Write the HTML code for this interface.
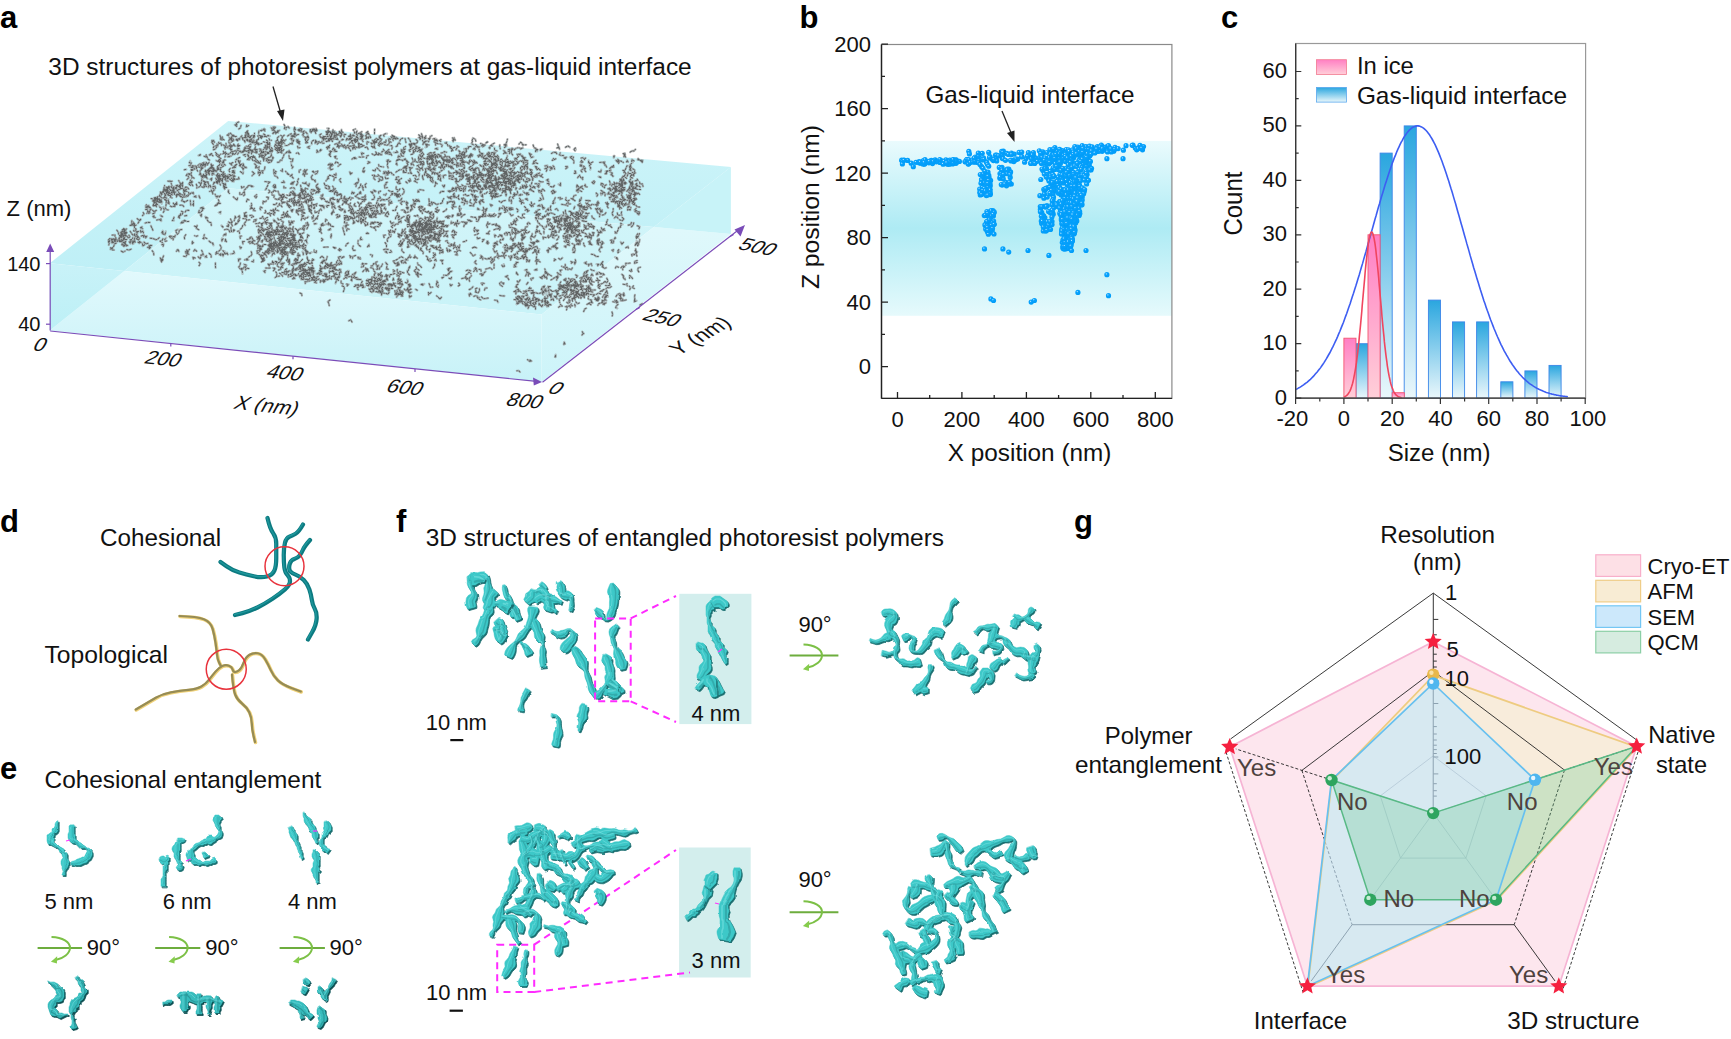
<!DOCTYPE html>
<html><head><meta charset="utf-8"><title>Figure</title>
<style>html,body{margin:0;padding:0;background:#fff;overflow:hidden}svg{display:block}</style></head>
<body><svg width="1731" height="1039" viewBox="0 0 1731 1039" font-family="Liberation Sans, Arial, sans-serif">
<rect width="1731" height="1039" fill="#fff"/>
<text x="0" y="28" font-size="31" font-weight="bold" fill="#000">a</text>
<text x="799.5" y="28" font-size="31" font-weight="bold" fill="#000">b</text>
<text x="1221" y="28" font-size="31" font-weight="bold" fill="#000">c</text>
<text x="0" y="532" font-size="31" font-weight="bold" fill="#000">d</text>
<text x="0" y="779" font-size="31" font-weight="bold" fill="#000">e</text>
<text x="396" y="531.5" font-size="31" font-weight="bold" fill="#000">f</text>
<text x="1074" y="531.5" font-size="31" font-weight="bold" fill="#000">g</text>
<defs>
<linearGradient id="topg" x1="0" y1="0" x2="0" y2="1"><stop offset="0" stop-color="#d9f6fa"/><stop offset="0.55" stop-color="#c8f2f7"/><stop offset="1" stop-color="#bdeff5"/></linearGradient>
<linearGradient id="frontg" x1="0" y1="0" x2="0" y2="1"><stop offset="0" stop-color="#dcf7fa"/><stop offset="1" stop-color="#cdf3f8"/></linearGradient>
<linearGradient id="bandg" x1="0" y1="0" x2="0" y2="1"><stop offset="0" stop-color="#eafbfd"/><stop offset="0.5" stop-color="#aeebf4"/><stop offset="1" stop-color="#e6fafc"/></linearGradient>
<linearGradient id="blueb" x1="0" y1="0" x2="0" y2="1"><stop offset="0" stop-color="#2aa6df"/><stop offset="1" stop-color="#eaf7fb"/></linearGradient>
<linearGradient id="pinkb" x1="0" y1="0" x2="0" y2="1"><stop offset="0" stop-color="#ff7fc4"/><stop offset="1" stop-color="#ffcfd8"/></linearGradient>
<radialGradient id="dotg" cx="0.38" cy="0.35" r="0.65"><stop offset="0" stop-color="#bfe8ff"/><stop offset="0.3" stop-color="#08a2fd"/><stop offset="1" stop-color="#009cf8"/></radialGradient>
</defs>
<linearGradient id="satg" gradientUnits="userSpaceOnUse" x1="0" y1="290" x2="0" y2="121"><stop offset="0" stop-color="#bdeff6"/><stop offset="1" stop-color="#cdf4f9"/></linearGradient>
<linearGradient id="tbg" gradientUnits="userSpaceOnUse" x1="0" y1="310" x2="0" y2="190"><stop offset="0" stop-color="#c9f3f8"/><stop offset="1" stop-color="#d3f5f9"/></linearGradient>
<linearGradient id="fbg" gradientUnits="userSpaceOnUse" x1="0" y1="270" x2="0" y2="380"><stop offset="0" stop-color="#e2f9fc"/><stop offset="1" stop-color="#c8f2f8"/></linearGradient>
<linearGradient id="flg" gradientUnits="userSpaceOnUse" x1="0" y1="263" x2="0" y2="331"><stop offset="0" stop-color="#c9f2f8"/><stop offset="1" stop-color="#bcf0f6"/></linearGradient>
<linearGradient id="rbg" gradientUnits="userSpaceOnUse" x1="0" y1="230" x2="0" y2="380"><stop offset="0" stop-color="#dff8fb"/><stop offset="1" stop-color="#cdf4f9"/></linearGradient>
<polygon points="49.8,263.3 228.2,121.0 730.9,167.1 653.9,227.1 228.2,188.2 124.3,271.0" fill="url(#satg)"/>
<polygon points="124.3,271.0 228.2,188.2 653.9,227.1 541.6,314.5" fill="url(#tbg)"/>
<polygon points="124.3,271.0 541.6,314.5 541.6,381.9 49.8,330.5" fill="url(#fbg)"/>
<polygon points="49.8,263.3 124.3,271.0 49.8,330.5" fill="url(#flg)"/>
<polygon points="653.9,227.1 730.9,234.1 541.6,381.9 541.6,314.5" fill="url(#rbg)"/>
<polygon points="653.9,227.1 730.9,167.1 730.9,234.1" fill="#c8f3f8"/>
<defs><path id="pp" d="M488.2 183.7l-2.6 0.6l0.9 -2.6M488.9 171.3l-2.2 -1.1l-1.0 -1.8l-2.2 0.0M473.1 172.8l2.1 -0.6l1.1 1.7M519.0 182.4l-0.8 -2.0l-2.2 -1.1l2.1 0.1M517.3 179.7l0.6 2.1l1.7 0.9l0.7 -1.5M502.9 178.8l1.3 -1.4l1.9 -0.9l-2.6 0.8M456.5 188.8l-0.7 -1.6l1.9 0.1l2.0 1.6M505.4 183.5l-2.2 -0.9l0.6 -2.4M455.9 149.8l1.4 -2.3l-0.2 -1.6l1.6 1.0M474.0 169.0l0.4 2.6l0.7 -2.0l0.8 1.5M500.9 175.3l2.0 1.1l1.8 1.6l-0.3 2.5M505.7 166.4l-0.0 -2.6l-0.9 2.1l2.3 -0.1M500.9 181.9l-2.3 -0.2l-0.7 2.7l-1.4 -2.2M479.1 201.8l1.2 2.5l-0.4 -2.2M506.5 194.0l-0.5 2.0l-0.3 -2.0M480.0 164.9l2.1 1.6l-2.5 -1.2M486.3 174.4l-2.2 0.6l-2.3 -1.4l-0.4 1.9M508.2 179.7l-1.5 -1.7l1.9 0.3M483.9 161.6l2.6 0.3l-1.9 -0.4l-0.5 2.1M482.3 194.3l0.6 2.7l-2.1 -1.5M475.8 179.7l1.0 -2.0l1.6 -0.8M503.6 153.7l1.8 -1.9l-1.9 -1.3M495.1 195.6l1.3 -2.0l-0.8 2.5l1.4 0.8M448.7 171.2l0.5 2.7l0.0 -1.7l2.0 1.3M491.6 163.7l0.0 -2.0l-2.1 0.2M505.2 175.1l-2.1 1.8l-1.5 -2.1M461.0 188.4l2.5 1.0l0.4 -2.2M509.1 190.2l-0.1 -2.3l-0.2 1.9l0.7 -2.0M526.4 181.4l-2.6 -0.3l-0.4 -1.8l-2.3 -0.1M496.7 156.5l-2.1 0.5l-1.0 -2.5M507.8 166.8l0.5 -2.4l1.4 1.3M483.8 157.0l-0.4 1.8l2.1 -0.5l0.1 2.0M472.2 168.0l1.3 2.0l2.0 -0.5l1.8 -1.8M523.0 145.5l-0.7 -2.0l-1.7 -1.3l-1.6 1.9M461.2 179.6l2.1 -1.7l0.2 -1.8l-1.1 1.2M526.5 184.7l-1.1 2.5l-1.1 -1.9M502.0 165.0l0.3 2.0l1.9 0.1l0.9 -1.6M468.8 190.7l1.5 -1.1l-1.3 0.9l1.2 -1.1M518.8 178.4l1.8 0.6l-2.5 1.3M499.5 182.5l-1.7 -1.6l0.2 -1.9M529.9 185.3l0.8 1.7l2.2 0.6M505.7 184.2l0.6 2.5l2.7 0.7M458.7 195.2l-0.6 2.7l1.0 1.5M515.5 183.9l-1.4 -1.4l0.9 -1.3l-0.6 2.6M449.6 166.5l2.2 0.5l1.7 1.8M513.0 148.8l-1.7 1.7l0.8 -2.3M489.9 191.3l1.4 2.0l2.1 0.5M464.5 200.2l1.2 1.9l1.5 -0.7l-0.1 2.2M506.4 173.7l-0.5 -1.5l1.4 -2.3l-1.4 1.7M501.3 185.7l2.1 -1.1l-2.5 -0.2l-1.6 0.1M496.7 193.2l-1.7 1.0l-1.5 1.2l-0.9 2.3M479.1 169.8l0.4 2.2l1.6 1.0l2.2 1.6M517.4 176.4l1.4 2.4l-1.8 -1.5l-1.0 1.4M474.2 190.2l-2.2 1.5l-1.3 -2.1M527.0 169.3l0.7 -1.6l-1.6 -0.8M463.0 174.0l-0.2 2.5l0.3 -2.3M490.6 171.5l2.0 -0.0l-2.2 1.6l-0.5 1.6M525.6 160.6l-1.7 -0.4l-2.1 1.2l1.1 -1.3M522.4 157.0l-1.6 -1.9l-2.1 -0.6M476.3 185.5l1.2 2.4l1.3 1.6M519.4 188.9l2.0 -0.6l-0.9 -1.3M501.8 178.1l1.6 0.6l1.7 -0.7l2.3 -0.1M497.4 184.6l-1.6 -0.3l1.9 1.5l-1.4 1.0M490.0 180.2l-0.6 -2.5l0.6 -2.2l2.0 1.1M506.9 176.0l0.3 -1.7l-2.0 -0.5M511.2 184.5l-0.6 -2.2l-0.1 2.1l-2.0 -0.3M539.2 180.9l1.8 1.1l2.1 -0.2l-2.5 -0.1M484.4 170.4l-0.2 -2.0l-0.4 -1.8l-1.2 -1.1M493.7 189.9l1.9 -0.5l1.6 -0.8M486.4 181.8l1.6 1.2l2.6 -0.8M468.7 179.7l2.0 -0.8l1.0 -1.3M503.0 179.6l0.3 -1.8l1.9 1.1l-1.9 -1.5M484.3 185.8l2.0 -0.2l0.4 1.8M500.3 168.2l2.3 -0.6l-2.0 0.8l-1.7 0.4M548.7 181.3l-2.3 -1.1l1.9 -1.0M481.5 174.5l-2.5 -1.0l2.0 -1.5l-1.8 0.6M488.9 175.1l0.7 2.5l-2.2 1.6l-0.2 2.5M432.6 168.7l2.8 -0.3l-1.7 2.1M516.7 158.5l-2.2 -0.4l0.8 2.4M492.5 190.3l-1.3 2.2l-1.7 1.0l1.8 0.4M513.3 198.4l-0.9 -1.5l2.4 -1.2l-0.6 -2.6M455.7 170.7l2.2 0.9l0.3 1.8l-1.8 -2.1M486.3 185.3l-2.5 -0.7l2.0 1.5M518.5 154.3l2.0 0.1l-2.0 -0.3l2.0 -0.1M509.4 153.6l0.9 -2.4l-2.2 0.1M498.0 193.9l-2.3 1.3l-0.7 -1.6M490.6 178.9l-1.6 -0.6l-0.7 -1.9l-1.8 -1.5M511.9 178.1l-1.8 0.8l-1.2 1.3M492.0 199.0l0.4 -1.9l-1.6 -1.2l1.7 -0.2M517.6 171.6l1.9 1.4l2.1 -1.8l0.6 -1.6M555.8 158.8l-1.6 0.9l-2.0 0.7l1.3 -1.9M514.6 172.0l-0.4 1.6l2.2 -1.1M497.0 186.6l1.8 0.3l-2.3 0.8l1.9 -0.3M499.0 185.6l-1.8 -1.2l0.3 -2.2l-0.9 2.2M459.6 153.4l2.1 0.7l1.6 1.9M507.8 161.6l1.7 0.3l-0.0 1.8l2.0 -0.9M470.9 153.9l-1.1 1.6l-1.2 1.9l-0.4 -1.6M522.5 187.2l-0.1 -2.3l0.3 1.7M527.1 161.9l-1.7 0.5l-1.8 -0.7l-0.2 2.6M494.0 158.9l-0.1 2.5l0.3 2.0l1.9 0.8M511.2 199.8l0.5 1.7l-0.3 1.8M474.0 199.4l2.5 -0.1l-1.1 2.3l1.0 -1.5M516.2 173.3l-1.8 0.8l-1.6 1.6M449.6 197.1l2.0 1.5l-2.5 -1.0l2.2 1.5M491.8 167.0l1.7 0.2l2.3 0.3l-1.9 -0.3M503.0 182.1l1.6 0.0l2.6 -0.6l2.2 1.0M527.7 160.7l-2.5 -0.6l-1.7 -2.1l-1.1 -2.5M519.6 198.3l1.0 1.4l-0.2 2.1M526.7 173.3l1.8 0.6l-1.3 -1.5l-0.2 -1.6M477.3 191.3l-2.2 -1.1l-0.8 1.8l-0.6 -1.5M496.6 177.9l-2.2 -0.4l1.0 -1.6M526.0 172.0l-1.8 1.4l-2.0 0.4l0.2 1.7M442.3 170.2l-1.4 0.9l-1.7 1.5M452.3 188.3l-0.5 1.8l1.4 -1.4M501.1 166.8l0.0 2.0l-1.1 -1.5M493.8 188.5l1.8 2.0l-0.9 1.8l1.2 1.5M495.8 195.9l-2.1 1.2l-1.9 -0.5M492.6 191.6l-1.6 2.1l0.3 2.4l2.6 0.1M527.6 200.1l-2.1 -1.3l1.7 -0.1l-1.8 0.4M478.9 189.2l1.8 0.6l1.8 -0.8l-0.6 2.2M451.8 159.7l-1.5 -1.0l-1.6 1.2l-1.6 1.5M449.8 192.0l-1.9 -1.1l2.4 -0.1l2.1 0.3M466.3 175.8l1.4 1.6l-1.6 1.9l2.7 -0.6M489.7 175.6l-0.9 -2.6l-1.8 0.3l1.9 0.3M480.7 179.5l1.6 2.3l2.5 0.7M534.3 176.7l2.5 0.4l0.5 -1.9l2.5 0.0M505.9 191.0l-1.3 1.5l1.0 -2.6l-1.2 1.4M489.5 157.1l-1.8 -1.2l0.6 -1.7l1.0 -1.6M481.5 192.1l-1.7 1.2l0.9 -2.6M457.0 167.0l-0.7 -2.5l2.4 -1.3l-2.0 -0.4M516.7 187.9l-1.1 1.6l0.3 -1.8M494.2 188.1l-1.0 2.5l2.0 0.2M497.7 158.3l-1.1 -2.1l-1.7 0.1M458.8 166.4l0.1 -1.8l-1.8 0.9l-2.2 -1.0M514.8 167.5l-1.3 2.2l-1.7 1.7l-1.9 1.9M473.7 164.4l-1.5 1.4l-2.1 0.9M459.5 174.2l0.1 -1.9l-2.7 -0.3M467.5 181.5l2.5 -0.0l-0.5 -2.5M440.9 180.9l-1.3 -1.2l-1.7 -0.5l1.5 -1.7M479.6 146.9l-2.0 -0.2l-2.1 0.1l2.3 -0.3M510.3 171.9l0.1 1.6l-1.9 -1.7M443.8 162.9l-0.8 2.3l-1.7 1.9l-2.4 0.1M500.5 169.1l-0.3 1.6l1.8 -1.4M511.5 187.2l1.3 -2.3l-2.1 1.8M509.0 180.9l-2.6 0.9l0.1 2.6l-0.7 2.6M524.0 185.9l-2.2 1.4l2.6 1.0M504.2 144.7l1.6 -0.6l1.0 -2.5l0.6 -2.4M514.2 195.6l1.4 -1.9l-2.2 0.8M487.3 169.0l2.5 -0.3l-0.6 -1.9M537.7 149.6l-1.9 -0.5l-0.2 2.5M504.5 212.4l1.7 -0.6l-1.1 -1.4l-1.5 -0.9M473.1 186.3l-0.9 -2.1l1.3 -0.9l2.3 -0.5M536.4 174.2l-1.1 1.5l-1.5 1.0l0.8 -1.6M506.6 189.5l-1.8 0.2l0.6 1.6M473.6 174.7l-0.6 1.9l1.6 -1.8M500.6 188.4l-0.5 2.0l-1.3 -1.6l-0.9 -1.6M493.2 173.1l-2.0 1.0l2.1 1.6M471.1 170.6l-0.8 -1.5l2.2 -1.1l1.1 1.8M514.1 177.5l2.4 -1.1l1.2 -1.1M474.8 163.4l-1.9 -1.1l-1.2 -1.8l-2.1 1.6M554.0 193.1l1.8 -1.4l-2.0 -0.4l-1.4 2.3M508.0 183.2l2.3 1.3l-0.4 -2.4M531.9 182.4l-0.5 2.2l0.3 -1.7M492.5 183.8l-1.2 -1.5l-1.7 -1.9l-2.3 0.2M450.3 191.5l2.5 -0.7l1.8 -0.7l2.2 -1.0M501.3 165.5l-1.5 -1.5l0.4 -2.2l0.2 -2.4M523.8 203.1l-1.6 -0.9l-1.4 -1.6l2.2 -0.3M462.4 166.0l-1.9 0.0l-0.2 -2.8l1.8 -0.6M500.6 178.8l2.4 -1.4l1.2 -1.2l-2.3 -1.6M485.0 161.4l0.0 -2.1l1.7 -0.2l-1.4 -1.2M541.7 191.6l-2.5 0.8l-0.7 -2.5M467.1 155.8l-1.6 0.5l-1.3 -2.3l0.2 1.8M532.3 190.8l1.5 0.9l-1.4 -1.0M535.0 188.2l-1.9 -1.9l1.9 0.7M474.4 179.9l-0.8 -1.9l0.1 -1.7M445.4 164.8l2.0 -0.3l-1.2 1.9M492.7 183.8l-1.7 1.9l2.6 0.1l2.7 -0.8M477.6 174.1l1.7 1.5l2.3 -0.1M504.3 181.7l1.7 2.0l-1.2 -2.5M508.4 179.1l-1.8 -1.3l1.5 1.3M486.7 187.8l2.1 0.5l1.1 1.2l1.5 1.1M495.1 163.6l1.7 -0.7l0.6 2.3M479.9 176.0l-0.8 -2.0l1.6 1.3M491.5 178.4l0.1 -1.8l1.9 -1.0l-1.9 -1.3M494.0 178.6l2.3 1.2l-1.6 -1.1l1.1 -1.8M491.0 157.1l-2.6 -1.0l1.9 -0.9l-0.9 -2.3M503.5 191.8l1.2 -1.7l1.2 2.3M503.8 173.2l2.1 0.9l2.1 1.6l-2.4 1.4M504.0 161.5l2.7 0.4l2.0 -1.0l-1.3 1.9M451.3 176.9l2.4 0.4l-0.9 -2.2M473.1 187.1l-1.8 -1.8l1.9 1.9M470.6 199.7l-1.0 2.4l2.3 1.5M485.4 155.5l-1.9 1.3l-1.6 0.5l0.8 -2.5M476.8 183.8l-2.5 -1.2l1.9 -1.7l-1.6 -0.5M505.2 178.7l2.1 0.4l1.6 2.2M527.4 186.6l-2.0 1.7l1.3 -2.1M493.5 185.0l-1.7 -0.1l-1.1 -2.5l1.7 -1.5M531.2 190.6l-0.2 -2.4l-1.6 1.9M517.0 159.8l-0.7 -1.7l2.3 -1.5l-1.5 -2.3M490.7 186.9l-2.6 0.4l2.3 -0.9l1.8 1.0M487.3 192.0l-1.2 1.3l-1.7 0.5M507.4 189.6l-1.9 -0.5l2.1 0.5l-0.2 -1.8M489.2 214.2l0.7 2.2l-2.2 -0.7M521.9 172.8l-1.5 -1.4l1.6 -1.8M496.0 214.9l-2.0 1.7l-1.9 -1.2l2.3 -1.6M486.3 189.1l-1.9 -1.7l-0.5 -2.0M516.1 176.1l1.6 0.5l1.2 -2.2l0.6 1.9M467.7 178.8l-0.1 2.0l2.2 -0.0M502.1 192.9l1.6 -2.3l-1.5 -0.7M511.6 176.4l-0.7 -2.1l-1.9 1.6M513.2 184.1l0.1 -1.9l0.8 2.0M498.6 176.8l1.5 1.4l-1.7 1.8l0.5 -2.4M488.5 186.3l2.2 -1.2l-0.1 1.8M470.3 166.6l-1.6 1.7l2.0 1.9M494.1 154.0l1.5 -1.5l-2.0 1.1M484.2 145.9l-1.5 0.9l0.2 -2.4l-2.3 -1.0M478.6 184.5l0.1 2.4l0.7 -1.8M506.7 175.2l-1.2 -2.3l2.1 1.3l-1.5 -1.9M488.8 154.7l-2.2 0.6l0.7 -2.0l1.5 -1.1M535.1 183.7l1.8 -0.0l2.6 0.2M518.6 162.8l-2.0 1.6l-2.3 -0.7l1.7 1.0M489.8 148.7l0.3 -2.2l-1.1 1.3M511.6 190.0l-1.7 1.7l1.8 -1.9M451.3 175.2l-2.2 1.7l0.2 -1.9M508.2 149.6l2.2 -0.5l-0.7 1.8l-1.4 -1.0M452.9 160.0l-1.7 1.1l-2.0 1.4M479.8 155.0l2.1 1.5l-2.4 -1.3l-1.0 1.7M494.7 179.7l0.8 -1.9l0.3 1.6M508.3 186.5l0.6 2.7l1.3 1.9l0.6 2.6M527.8 193.5l-1.8 0.4l-1.5 -1.0l-1.3 -1.7M464.5 168.4l0.1 -1.9l-0.5 -1.8M470.1 159.9l-1.3 1.9l0.2 2.1M492.2 176.1l-1.2 1.4l1.2 -1.2M505.0 152.2l1.9 1.3l-2.0 -0.6M466.2 175.7l1.5 -1.3l1.7 0.7M489.5 171.3l-1.5 1.3l-0.8 -2.1l1.5 -0.9M492.6 164.6l-1.2 -2.2l-1.2 -1.8l-2.5 0.7M509.8 181.3l-1.7 0.3l-2.1 0.1l-2.1 -0.3M492.0 165.9l1.8 -1.1l2.4 1.0l-0.1 2.5M471.9 176.6l-2.5 0.9l1.5 -0.6l-1.6 1.1M460.2 179.0l-0.8 2.1l-1.5 0.6M497.3 155.3l1.4 1.9l-0.3 2.0M488.4 171.3l1.2 -1.7l-2.4 0.9l0.1 -1.6M504.3 185.2l1.5 1.2l-0.4 2.0l-2.7 0.2M493.2 163.2l1.4 1.0l0.9 -2.1M490.8 175.0l-2.5 0.9l0.4 -2.1M510.5 180.4l0.5 1.8l-0.5 2.5M477.7 155.7l2.3 0.6l-0.7 -1.6M485.6 164.9l-1.0 -1.7l1.9 0.5l-0.9 -1.9M469.0 174.3l-1.5 2.2l-1.0 -2.6l-1.1 1.9M483.0 177.6l-2.5 -0.4l-1.1 -2.1l-1.9 0.9M505.8 169.8l-1.8 -0.1l-1.3 1.3l2.2 1.4M546.3 171.2l1.0 -2.0l-1.3 -1.2M518.8 177.8l-0.8 2.4l-2.0 -0.3M477.1 179.7l1.3 -2.1l-2.1 1.8M507.6 211.0l-1.0 -1.9l-1.7 -0.0l2.0 -1.7M501.3 195.2l-1.6 0.8l-2.7 0.5l-2.1 1.0M511.2 190.2l-2.1 -1.7l-1.5 0.9l2.6 0.2M505.5 173.7l-1.3 -1.4l2.2 -1.1l-2.5 0.3M505.5 159.8l-0.9 2.0l-1.7 -0.8l-1.4 -1.9M520.6 160.7l1.6 1.1l1.6 1.2l0.4 1.6M499.6 207.8l-0.4 2.5l1.0 -2.4l2.3 0.4M489.0 176.3l-1.6 -1.7l-2.3 1.2l-2.0 -0.4M520.2 176.4l0.3 -2.3l1.4 -1.0l-1.6 0.3M475.8 179.9l-2.1 1.4l1.5 1.6M507.1 186.7l-0.8 1.4l-0.5 -1.7l-1.8 -1.3M476.6 202.3l-1.6 -0.0l-1.4 2.4M531.5 176.3l0.9 1.5l0.3 2.6l0.5 -1.7M500.0 169.6l-0.4 -1.7l1.6 -1.2M525.8 165.4l1.1 1.4l-1.6 -1.0M509.2 168.8l1.9 1.6l-0.9 -2.4l1.7 0.8M478.4 186.8l-1.5 -0.8l-0.5 -2.2M524.0 175.8l1.0 -2.2l1.0 -2.0M478.8 188.2l-2.0 -0.9l0.1 -2.5l-0.7 -1.6M492.9 180.7l1.8 -1.0l1.7 2.1l0.2 -2.7M528.3 193.0l-2.4 -0.2l1.2 2.3l1.8 -0.7M482.3 210.3l1.8 -0.3l-0.5 2.5l0.2 2.5M494.1 187.8l-2.0 -0.1l2.0 -0.4l-0.8 -1.9M479.4 175.3l0.9 1.4l-2.3 0.9l-2.6 -0.8M454.6 202.8l-0.8 -1.7l-1.4 1.0M524.7 157.8l-1.7 1.1l2.5 -1.3l-2.7 0.5M460.1 151.7l-1.5 -1.2l1.2 1.8M520.5 169.1l0.1 -1.8l2.7 -0.6l1.7 1.4M492.6 171.3l-1.2 -1.6l-1.5 -1.5M491.3 159.7l-0.3 -2.3l-0.7 -2.0l1.2 1.6M494.5 154.4l-0.6 -2.1l-2.7 0.6l0.5 1.5M492.4 180.6l-2.0 -0.9l-0.2 -2.1M504.5 172.5l2.6 -0.5l-1.7 1.1l-2.3 1.0M473.7 178.4l-1.5 -1.6l2.0 0.3l-1.4 1.8M483.1 199.5l-2.4 1.3l2.3 -0.2M511.3 174.3l-0.4 -2.4l1.9 -1.7M483.4 165.5l-0.1 2.5l-0.5 2.3M472.9 170.7l1.9 0.3l-1.6 -1.2M500.6 183.7l-0.1 -1.8l1.7 0.8M506.8 207.5l-2.1 1.4l-0.3 -2.0l-1.5 -0.9M478.1 176.2l-1.1 -1.5l-0.9 -1.5M556.9 148.0l2.1 -1.1l0.5 2.4M482.3 178.5l2.1 1.6l-2.2 -0.8l-0.6 -2.5M497.5 182.1l-2.5 1.1l2.0 -0.1l0.7 1.8M488.6 181.5l-1.8 0.7l2.4 0.4l-1.7 0.8M495.2 187.6l-0.1 2.2l0.4 1.6l1.3 -1.5M451.4 162.7l2.1 -0.5l-1.5 1.1l2.3 1.1M494.0 160.5l1.1 -2.5l0.2 1.7l1.6 1.7M470.5 185.4l0.2 1.6l-2.1 -0.5l2.2 0.8M479.4 185.5l1.0 2.3l0.1 -2.1M510.8 180.6l2.2 0.8l-0.9 1.9l1.6 0.3M505.4 174.4l-1.5 0.9l-2.1 1.2l2.6 0.5M462.3 175.5l0.2 1.8l-2.4 -0.9l2.7 0.5M504.2 168.1l-1.9 1.0l1.6 1.1l1.3 -1.4M491.8 187.2l1.4 -2.3l1.3 1.6M474.2 185.6l-0.2 2.2l-2.5 -0.2l1.7 1.3M535.9 167.7l1.2 2.2l1.5 -1.5l1.6 1.7M497.3 173.7l-0.6 -1.6l-1.0 -1.8l-2.3 0.6M528.7 180.7l1.8 -1.0l-1.6 -1.0l-2.2 0.5M514.2 165.6l-0.7 -1.6l-0.6 -2.7l-1.9 1.8M493.6 175.9l-2.0 -1.3l1.8 -1.5l0.2 -1.7M454.0 197.6l1.1 -2.0l-1.6 0.7l-2.4 0.3M514.2 149.8l1.7 -1.4l1.9 -0.7l2.1 0.2M510.7 174.0l0.3 -1.9l2.4 0.4l0.9 2.4M504.1 181.5l1.5 1.7l0.3 -1.9l1.6 -0.5M460.3 172.8l0.1 2.5l-1.3 1.2M527.6 167.4l-0.4 -2.0l0.5 -2.3M471.0 155.6l1.9 -0.7l-2.0 -1.1l-1.7 2.1M406.5 234.8l-0.1 2.0l0.9 2.3l-0.7 -1.9M445.8 235.8l1.9 1.2l-0.2 -1.7M426.3 256.1l1.5 1.3l-0.4 2.2M416.0 223.4l-1.4 -1.6l2.4 1.1M430.1 237.2l2.3 1.5l2.2 0.8l2.4 -0.4M409.3 217.8l-1.6 2.2l1.6 -1.1l0.4 -2.7M426.9 233.8l2.1 -0.1l0.5 -1.9M405.4 228.7l-1.0 1.6l-1.6 1.7l-0.3 1.8M415.7 236.2l-1.8 -0.8l1.7 0.0M421.4 230.0l2.7 -0.7l-0.5 2.7l-1.9 0.7M418.2 242.9l1.0 -2.2l-0.4 1.7l0.8 1.7M441.8 226.9l2.0 -0.6l2.4 -1.1M434.4 222.5l-2.5 -0.7l-2.0 -1.7l0.9 1.9M424.0 239.4l-2.3 0.4l-1.8 -0.5M443.4 226.7l2.5 -0.4l2.5 -1.1l-1.5 1.7M422.0 233.2l0.1 -1.7l-0.8 -1.8l1.6 -0.8M402.8 231.2l-1.4 2.4l0.7 -2.3l0.3 -1.8M413.9 235.2l-1.1 2.1l2.6 -0.8l-1.8 -0.8M407.7 208.8l-0.3 -2.4l-0.9 -1.8l-0.4 -2.0M423.5 233.9l-1.7 -0.2l1.9 0.5M415.6 241.0l-0.6 2.0l-2.4 1.4l-2.2 -0.4M419.3 224.2l2.2 0.2l-1.3 -2.0l-1.3 -1.1M429.4 213.4l1.1 1.2l2.2 0.5M413.9 230.8l-1.6 -0.8l0.1 -2.1M434.5 229.2l-2.3 1.1l-0.7 -1.6M427.2 223.6l1.3 1.6l1.7 -1.2l-1.1 -1.8M427.1 249.7l-1.0 -1.8l1.2 -1.6l-1.0 2.2M413.7 257.6l2.0 -0.3l1.6 0.9M414.3 231.2l-2.3 -0.4l1.1 1.4M425.3 242.5l-0.3 2.7l-1.8 -1.1M406.3 207.4l1.3 2.1l0.9 -2.1M431.2 239.9l-0.4 1.6l-1.7 -1.0M431.4 260.6l-1.8 0.8l-1.5 -1.5l2.0 -1.0M425.8 233.9l-1.1 -1.9l-2.4 0.1l-2.3 -1.6M435.5 235.1l-1.5 1.8l0.8 -1.7l1.8 -0.7M445.5 217.1l1.6 -0.8l1.8 1.8l-1.6 -0.6M417.9 192.2l0.2 -1.7l0.8 1.4M434.0 226.8l1.7 0.2l1.7 -0.6l0.8 -2.1M435.5 255.2l-0.6 -2.1l-0.1 1.8l-1.5 -2.0M422.9 228.1l-1.0 1.7l0.3 2.1l1.9 0.1M416.3 221.6l-1.3 1.0l0.7 2.6l-0.5 -1.6M414.5 238.2l1.1 -2.4l-0.9 1.4l1.0 1.8M423.5 231.7l2.2 0.4l2.2 -1.0M420.7 241.3l0.8 1.7l-0.7 -2.2M429.7 229.4l2.4 1.1l-1.0 -1.7l-2.6 0.5M432.0 229.3l1.7 0.1l-0.5 -2.5M407.4 247.4l2.0 -0.7l-2.0 -0.1M429.3 220.2l2.0 -0.7l1.7 -1.4l-2.1 -0.8M437.6 234.9l1.4 1.4l1.2 -1.9l2.5 -1.2M401.9 249.1l-0.1 1.8l2.1 1.7M427.5 241.0l-2.5 -0.1l-0.8 -2.0l-1.7 -0.2M425.7 229.3l1.7 -0.3l1.4 -1.4M402.1 241.9l0.2 2.6l0.5 -2.7M423.4 227.8l0.5 2.6l1.3 1.1M427.7 231.9l-0.3 -2.7l-2.1 -0.1l-1.5 -1.6M432.1 226.8l-2.0 -1.0l-1.0 1.4l-0.1 -2.5M422.5 206.9l-1.7 -0.2l-2.0 0.3l0.4 2.6M417.3 238.6l2.0 -0.8l0.4 -2.4M441.0 226.9l1.7 -2.1l-0.0 -2.0M421.4 248.8l-1.4 1.4l0.9 -2.2M418.6 239.3l-2.3 1.2l0.6 -2.1l1.5 1.3M445.7 231.4l2.4 -0.2l-2.2 0.5l-1.8 -0.8M439.6 223.0l-0.1 -2.2l1.7 1.0l-2.0 -0.4M425.8 230.1l2.3 -0.9l-1.4 1.3M424.6 243.7l1.7 -1.0l1.8 0.3M455.3 223.5l1.5 -0.6l1.6 1.1l1.4 -1.5M415.2 236.6l0.0 2.4l-2.4 -1.4M408.8 236.6l-1.6 2.1l-1.4 -1.4l-1.0 -1.4M430.7 227.9l1.4 -2.3l-1.6 -2.3M430.2 213.6l1.8 -1.8l-2.3 1.3l-1.3 -1.9M433.3 213.6l0.6 2.4l-0.7 1.6l-1.6 1.4M413.6 224.7l-1.6 1.4l2.4 -0.4l-2.0 0.5M417.6 240.7l-1.0 -1.9l0.4 2.2M424.1 226.5l1.7 1.4l-1.9 -0.0l2.0 1.2M430.3 248.8l-1.3 1.1l0.6 2.3l0.6 -1.7M423.1 235.1l1.7 -1.0l-2.3 -0.6l-1.0 1.8M439.7 234.0l-2.1 0.2l-1.6 -0.7l-1.9 0.4M405.7 259.0l2.1 1.1l-2.8 -0.2M452.8 208.7l-1.0 -1.8l1.8 -0.2l2.3 0.1M422.5 235.7l-1.4 1.7l0.0 1.7l-0.9 1.4M436.0 238.5l-2.0 -0.8l1.7 1.8l-2.7 -0.6M419.3 219.1l1.6 -1.1l2.0 1.6l1.9 1.5M424.4 242.6l-1.5 1.2l-1.7 -0.1M408.3 219.4l-2.1 -0.2l2.5 -0.4l0.4 2.4M422.7 209.2l1.9 1.2l0.2 -2.0l-1.6 2.2M419.5 226.1l1.4 -1.5l-2.4 -1.0l-0.8 -1.6M429.1 223.1l-1.2 2.3l-1.0 -1.3l-1.8 1.7M411.1 226.6l1.4 -2.4l-1.5 2.2M422.3 223.5l1.3 -1.3l2.0 2.0M423.2 239.4l2.1 -0.1l-1.5 0.7M439.0 250.2l2.0 0.2l1.8 -0.7l-0.5 2.1M412.4 226.3l-1.8 1.6l1.7 0.3l-1.6 1.7M389.5 252.4l2.2 -0.3l-1.0 -1.7M413.2 230.6l1.5 0.9l-0.5 2.2M430.1 215.7l-0.5 2.2l-1.1 2.0l1.8 1.5M429.3 230.7l0.9 -2.5l-1.4 1.3M398.3 234.3l2.7 0.1l0.2 1.7l-1.6 -0.8M439.1 210.0l-1.2 1.6l-2.8 -0.1l2.3 0.9M433.9 233.4l1.5 1.5l-0.4 -1.6l1.9 -0.3M429.4 236.0l1.0 -1.4l0.2 2.6M440.6 228.5l2.6 0.6l0.7 2.7M434.8 226.4l-1.6 -1.3l1.3 2.4l2.0 -0.2M432.8 221.8l0.9 1.7l0.3 -1.6M421.5 250.5l1.8 1.4l-0.2 1.8M429.0 229.2l-1.8 -1.7l-1.8 -1.4M407.5 222.1l1.9 0.8l0.4 2.3l-2.1 1.7M425.6 241.6l-0.9 -1.5l-2.3 -1.1M428.8 236.9l2.3 0.8l-1.8 0.4l-0.1 2.0M422.4 246.2l2.3 -1.4l1.8 0.3M417.7 224.8l-0.7 2.5l-1.7 -0.9l-0.8 -1.9M435.0 231.7l-2.1 1.0l-1.4 -1.3M419.2 224.5l-0.8 -1.9l-0.1 2.2M419.5 238.0l1.6 1.1l-2.8 0.3M427.8 217.4l1.2 1.1l1.6 -1.7M428.8 233.0l-1.6 -0.8l2.0 0.1l1.7 -1.6M409.5 239.7l-0.4 2.7l1.8 2.0M419.2 227.2l-0.6 2.2l2.6 -0.5M433.7 245.9l-2.6 -0.6l1.7 1.8l-2.2 -1.6M413.7 235.9l-0.1 -2.1l-1.8 -1.9l-2.5 -0.7M411.2 257.0l-1.6 0.1l0.2 -2.1M416.3 244.4l-1.5 1.1l1.9 0.2M414.3 240.1l2.4 -0.5l1.1 1.8l1.6 -0.0M453.0 202.4l-1.5 -1.4l-2.3 0.9l-2.0 0.3M417.1 236.6l-1.6 0.8l1.8 1.3M421.7 223.5l-1.9 0.4l-1.2 2.0l0.3 1.6M452.1 231.9l1.2 -1.9l1.6 1.7l1.5 0.9M400.8 240.6l-0.8 2.0l-1.4 1.9M399.8 243.9l1.5 1.9l0.7 -2.0M415.2 232.6l-1.3 2.2l-0.7 -1.6M440.0 232.3l1.5 -1.3l-0.0 -2.2M404.2 211.9l1.4 0.9l1.8 -0.6l2.0 -0.6M439.0 239.3l-1.8 -2.1l2.4 -0.7M412.0 240.7l0.8 2.3l2.1 -0.6M429.7 238.3l1.4 -0.7l-2.2 -0.4l-2.5 -0.1M392.5 227.6l-1.2 -1.1l1.9 -1.5M435.2 239.3l-1.8 -1.5l1.9 -1.6l-1.1 -1.2M434.9 203.4l1.9 1.2l1.5 -0.7M425.3 236.5l0.2 2.0l-0.2 1.7l-1.3 -1.7M457.5 220.3l-0.0 2.7l-1.6 1.0l-1.5 0.9M418.6 231.4l-1.6 -0.6l-2.5 0.8M435.0 226.0l-2.3 1.3l2.2 -1.4l-0.3 -2.3M438.5 222.1l-2.2 -1.6l1.1 2.4M426.6 225.1l0.9 2.4l-2.2 0.2l-1.5 2.3M425.1 223.2l1.4 -2.0l1.7 -0.9M401.4 243.3l1.8 -1.6l1.3 -2.0l-1.7 -0.6M427.1 224.7l2.7 -0.4l1.9 0.5l0.2 2.6M425.7 242.1l-2.1 0.3l-0.8 -2.4M409.8 229.8l1.6 1.6l-0.4 2.5l2.2 1.0M430.3 236.9l2.5 -1.1l-2.4 -0.8l0.2 2.3M418.5 207.3l2.1 -1.3l2.3 0.9l-1.3 1.3M439.8 234.7l-1.0 1.4l-1.0 -1.3M423.2 227.9l-0.6 2.7l1.5 1.7M426.6 226.2l1.9 -0.2l0.8 -2.4M409.2 222.7l-1.4 -1.1l1.3 -2.4l-1.8 -0.4M414.9 224.1l0.3 2.5l2.2 0.6M407.4 238.2l-0.4 -2.4l-1.2 1.8M405.3 238.4l2.1 -1.5l0.2 -1.8l2.3 -0.7M409.3 235.0l2.6 0.8l-1.9 -0.6M441.5 233.3l1.8 0.3l0.4 -1.6M413.1 231.5l-1.0 -1.5l1.3 -1.8M425.0 211.5l2.6 1.0l-1.7 -0.6l2.2 -0.2M414.8 232.8l-1.3 2.4l-1.2 2.0M416.7 231.9l1.7 0.2l0.5 -2.3l2.1 1.6M432.9 239.6l1.9 -1.2l-1.9 -1.3M435.2 237.6l0.2 2.2l2.0 0.1M419.1 230.8l-0.9 -1.8l-1.8 0.7l2.3 0.1M419.3 227.5l0.8 -2.4l1.1 1.3l1.8 1.7M420.6 211.6l-1.3 -2.2l1.2 -2.0M418.5 230.7l-1.0 2.1l-2.1 -0.8M409.9 230.7l2.1 -0.1l-0.9 2.4l-1.3 -1.4M430.0 229.2l0.5 1.6l0.3 1.8M451.0 201.7l-2.3 0.0l-1.6 2.0M420.2 210.5l1.5 0.6l0.7 2.4M436.2 260.9l-0.7 -2.1l-0.9 1.6M389.2 232.4l1.9 -0.1l1.7 -0.6M430.0 227.6l-0.2 2.2l-1.9 -0.0l1.6 1.4M430.4 205.8l-2.1 -0.7l2.0 -1.4M434.5 235.2l2.3 -1.1l2.0 -0.0M423.3 224.4l-2.2 -0.2l-0.9 2.1l1.1 -1.5M431.6 225.5l-2.1 0.6l2.3 -0.9l-0.6 -2.0M426.0 225.3l0.6 -2.0l-1.9 -0.2l1.6 -1.3M392.7 230.6l1.7 2.2l0.3 -1.6l1.0 -2.1M425.7 239.5l0.8 -1.8l2.5 1.0l0.7 2.2M411.2 230.6l-1.4 -1.4l1.9 1.7M431.3 232.6l-0.7 -2.2l1.0 2.0M439.8 253.4l0.5 -2.3l-1.2 -1.3l2.5 0.9M410.7 209.4l-0.2 1.8l1.4 -2.0M434.6 248.2l1.8 -2.0l-0.3 1.9l1.4 1.4M435.5 240.2l2.6 0.2l1.2 1.4M414.6 223.0l1.6 -1.0l0.2 -1.8l-0.2 1.7M435.0 220.7l-0.5 2.2l-0.4 -1.8l1.5 1.6M398.5 219.8l2.4 -1.2l1.7 -1.5l1.5 -0.5M456.6 252.6l0.9 2.5l-2.1 -0.4M413.7 222.8l1.3 2.3l-2.0 -0.8l2.5 0.0M426.1 222.6l-0.3 1.9l-0.7 2.0M440.7 230.1l-2.2 1.4l1.5 2.2l-2.4 1.0M408.3 245.7l-0.4 -1.7l-0.3 -2.3l1.6 -0.7M415.1 233.5l2.4 -0.7l2.0 -0.4l-0.8 2.5M422.8 227.5l-1.9 0.8l1.7 -0.6M427.4 223.2l0.0 1.9l-1.9 1.2M254.1 220.1l2.4 -0.8l-0.7 1.6l-2.3 0.9M261.9 233.2l-1.6 -2.2l1.4 -1.7l1.7 0.2M278.7 240.5l1.1 -1.7l1.7 1.8l-2.1 -0.5M286.5 241.1l-1.4 -1.1l-1.0 -1.4M268.3 233.6l-2.5 0.2l1.5 -2.1M250.4 238.5l-1.6 0.6l-1.8 0.3l1.7 0.2M285.5 244.8l2.2 1.5l1.2 -2.4l2.0 -0.2M277.4 238.4l2.3 -0.7l-1.3 1.1M291.6 240.1l1.7 -1.4l0.5 -1.8M289.0 245.2l-1.7 -2.1l0.0 2.8l-1.8 -0.4M281.9 251.8l-0.8 -2.1l2.7 -0.0M271.3 236.8l-1.3 -1.4l1.3 -0.9M268.1 232.8l-1.0 -1.6l-0.2 2.1l0.8 1.5M300.0 255.8l-1.8 0.3l-0.1 2.0M279.3 245.1l1.8 -1.5l-0.7 2.0M294.9 247.3l-1.9 -1.2l-1.0 1.5l-2.1 -0.3M295.3 228.6l1.9 1.4l0.7 2.1l-0.8 -2.1M270.4 244.1l-1.8 0.6l2.3 0.6l-1.3 1.4M298.4 240.9l0.7 2.2l-0.0 1.9M267.4 236.8l1.1 -1.6l0.4 2.6M270.1 232.3l2.5 0.5l1.8 -0.8M299.3 234.4l2.5 -0.7l2.2 -1.1M279.3 259.5l-0.8 -1.9l0.6 2.2M295.0 243.0l1.8 -0.5l1.9 -0.4M270.7 243.7l-1.5 -1.1l-0.1 -2.8M300.9 245.6l-1.7 0.7l-2.2 0.2l0.1 -2.5M296.0 240.9l-2.0 -1.7l0.7 2.1M286.0 238.2l-2.3 -1.1l0.8 -2.0M284.8 251.7l-0.8 -2.0l-2.6 -0.3l2.0 -1.9M259.7 239.4l-0.7 -2.5l2.0 -1.4l-1.6 1.3M282.2 234.9l0.8 -2.3l1.7 0.1M274.8 247.1l0.8 -1.7l1.6 -1.0M306.0 245.7l-2.0 -1.2l-1.7 0.8l-1.1 1.5M283.4 226.0l-1.8 1.3l1.8 -0.7l1.6 -0.1M305.0 240.7l1.6 -0.9l-0.1 1.7l0.8 1.9M278.5 229.9l-1.5 -1.0l-1.3 1.2l-0.4 2.3M278.2 230.1l-1.2 -2.1l1.6 -2.3M280.0 244.2l-0.9 1.8l0.1 -1.6l-1.6 -2.3M279.4 242.5l1.6 0.5l0.4 -1.8M267.5 252.9l-2.1 -1.4l-0.5 2.6l-2.0 1.4M270.2 223.6l-2.1 -0.9l-2.5 -0.5l1.1 2.1M276.5 233.1l0.1 1.7l2.2 -0.6l0.4 1.9M265.4 236.8l-1.0 2.5l2.5 -0.3M282.9 229.4l0.9 2.6l-1.9 -0.3l0.2 -2.0M277.1 252.8l1.8 -1.4l-1.5 -1.0l-0.4 1.7M288.2 238.6l2.6 -0.8l1.6 -0.7M280.7 238.9l0.9 2.6l1.2 2.3l2.1 -0.9M278.4 246.6l-0.6 -2.7l2.3 0.8M277.8 218.4l0.7 1.5l2.5 -0.3M278.7 232.0l-2.2 -0.7l-2.4 0.4M287.8 234.5l-0.9 1.5l-1.4 1.3M281.0 259.6l-0.8 2.5l-1.7 0.4M264.9 229.9l-2.6 0.9l1.4 -2.1l-2.4 -0.8M259.9 218.4l1.7 -0.3l1.1 -1.7l0.7 2.3M253.6 243.3l-1.7 -0.2l1.1 -1.7M270.4 223.2l1.6 -0.1l-1.7 0.8M259.0 245.6l2.1 1.5l1.9 -0.7M268.5 236.7l-0.8 -2.5l2.0 -0.4M283.5 252.2l-2.6 -0.0l-0.3 -2.6M305.2 249.3l1.3 1.2l1.5 1.4M280.9 241.7l-1.8 0.3l0.6 -1.7l-0.0 2.6M303.3 252.9l0.0 2.1l-0.1 -1.9l-0.7 -1.6M274.8 244.1l-1.5 1.0l0.1 2.8M282.9 240.5l-1.3 1.2l-2.3 1.5l2.2 0.6M272.2 228.1l-0.5 2.1l0.5 2.7l1.4 1.6M271.8 226.1l-2.3 -0.5l1.1 -1.5M295.5 244.8l-2.2 0.0l-0.5 1.6M262.7 252.6l2.2 1.4l1.2 1.3l0.7 1.8M291.0 222.8l2.2 0.2l-1.7 -2.0M303.9 247.3l-1.0 -1.6l1.0 -2.3M306.9 228.9l1.0 -2.4l0.7 -1.7l-1.2 -2.4M286.2 243.8l1.2 -1.1l-1.1 -1.3M281.7 241.5l-2.2 0.7l2.0 -1.7M293.2 226.6l-0.3 2.1l0.0 2.3l-0.6 -2.2M262.2 227.5l-2.5 -0.3l-1.4 -1.2l-1.6 0.4M271.5 234.6l-1.0 2.1l0.6 -1.8M284.0 242.4l-2.0 -1.8l1.6 -1.2l1.5 -1.2M279.4 233.9l1.3 2.0l-0.9 2.7l-1.1 -1.8M273.0 248.6l0.0 2.7l-0.3 -2.0M289.3 240.9l2.1 1.9l1.9 1.4l-1.7 -0.5M274.6 254.0l-2.1 -1.0l-0.1 1.8l-0.8 1.5M271.0 245.8l0.4 2.4l1.9 -0.5M294.6 237.6l0.6 2.1l-0.8 -1.8M290.1 230.0l-1.0 1.8l2.1 -0.0M292.7 241.8l0.1 2.0l-0.1 -1.8l2.7 0.7M257.6 246.0l1.3 -1.0l-1.9 -1.3l-2.5 0.5M267.0 251.5l0.3 1.8l1.4 -1.9l0.9 -1.8M269.8 238.5l0.2 -2.4l0.3 -1.9l1.2 -1.0M282.8 237.0l-1.7 -0.9l0.5 2.2M282.5 235.0l1.5 -1.0l-2.1 0.5l-1.3 1.3M288.1 240.0l2.0 1.7l1.6 1.9l0.6 1.7M281.8 215.2l2.4 -1.4l-0.6 -1.6l0.2 2.7M294.7 240.3l-2.1 -1.0l0.6 -2.3l1.8 -1.2M254.9 240.9l-1.8 -0.7l-1.4 2.0l-1.8 1.3M285.3 249.6l-2.2 -0.3l-0.1 2.7M264.4 253.9l0.9 -2.6l2.3 -0.9M276.8 261.6l-1.7 -0.2l1.9 0.9l-1.7 1.5M277.0 246.1l-0.6 -2.4l1.1 1.5M274.1 230.0l1.8 1.9l2.1 -1.0l-0.2 2.3M293.8 248.2l-1.3 2.0l-2.2 -1.6M299.8 247.7l-1.9 -1.5l-0.6 1.6M271.3 225.0l0.5 2.7l0.5 2.6l-0.9 1.6M270.2 233.9l-1.2 2.5l-1.3 -1.2l-0.6 1.6M268.0 245.2l1.3 1.4l1.9 1.9l2.4 1.1M283.4 237.6l-0.2 2.7l-1.6 -0.3l-1.7 0.2M281.3 238.7l1.5 -2.3l2.2 1.5M281.9 246.8l-1.7 1.6l-2.7 -0.1M292.0 233.8l-1.9 0.0l0.9 1.4l-2.2 -0.6M258.7 252.8l-1.7 0.6l0.2 -2.0M280.5 250.0l1.3 1.8l1.8 2.0M256.8 237.0l1.9 2.0l1.5 -1.0M279.4 227.0l2.5 1.2l-0.6 -1.5l1.1 1.3M272.0 246.5l2.1 -0.3l-1.5 0.5l1.3 2.1M293.6 254.3l-1.6 -0.2l1.1 -2.3l-1.7 -2.2M267.3 227.4l1.5 1.6l1.8 -1.4l-1.4 -1.6M286.0 248.5l-1.6 -1.9l-0.2 2.2l-0.4 -1.6M281.6 228.3l-0.8 -2.5l0.7 2.5M289.6 247.1l-2.1 -0.8l0.2 -2.7l2.2 -0.1M286.5 235.6l-0.4 -2.5l2.4 -0.3M283.1 247.1l2.1 1.4l1.8 -1.1l-2.4 -0.8M271.5 223.4l-2.1 0.3l2.0 0.4M283.4 244.3l-2.1 -1.2l-0.3 1.9l-1.6 -1.1M279.2 248.0l0.5 2.6l-0.1 -2.0M271.1 239.3l-2.0 1.0l2.1 0.9M274.9 245.1l-2.4 0.8l-1.5 0.8M300.5 237.7l-0.0 -2.1l-0.5 -2.0l-2.3 -0.8M306.7 253.8l1.2 -1.2l2.2 0.7l1.6 -1.1M289.7 245.3l1.3 -1.3l-1.3 -1.8M302.9 238.4l-1.0 -2.2l-1.2 -1.3l0.9 2.6M277.5 230.4l-1.2 -1.7l0.5 -1.7M285.4 252.1l-2.1 0.1l-0.8 -2.1l1.7 -0.0M286.2 243.8l-1.7 1.0l0.3 2.7M276.3 241.5l-1.9 -0.4l-1.2 1.4l-0.0 1.8M259.8 249.4l-0.2 -2.0l2.1 1.8M273.5 230.1l2.2 1.5l-2.6 -0.9l-2.0 0.8M268.9 232.6l0.4 -2.4l-2.5 -0.7M290.5 249.5l1.5 -1.3l0.9 -2.3M260.7 248.3l-1.2 1.5l0.2 1.7M291.0 234.8l2.5 0.7l-0.4 -1.8l0.5 -2.5M258.9 233.3l-0.6 -1.7l-0.1 -1.8l1.4 -1.4M270.4 243.1l1.4 2.3l-2.3 -1.0M274.2 221.7l-0.6 -2.1l1.6 1.5l1.8 1.7M282.2 226.2l0.8 1.6l-0.1 -2.8l-2.0 1.5M291.2 229.1l-1.6 -1.7l-1.0 2.5l-0.7 -1.4M269.6 232.3l-1.9 1.6l2.7 0.6M271.7 251.7l1.9 -0.4l0.7 1.6M290.5 245.4l0.8 -1.7l2.1 1.1l2.2 1.5M283.3 226.1l-0.9 -1.8l1.0 -2.6l-1.9 -0.7M272.0 235.0l2.0 1.3l0.3 2.7l1.2 1.7M265.8 244.6l-2.4 -0.2l-1.1 1.9l-2.0 -0.6M269.0 233.6l-0.1 2.6l-0.2 -2.7l1.8 -1.2M264.9 221.5l0.4 2.2l0.2 -2.5l2.2 -1.3M287.0 252.0l-2.2 -0.2l1.9 1.7l-2.3 1.2M281.4 231.2l-2.6 1.0l0.7 -2.2l1.8 -0.1M242.5 241.6l0.5 2.4l-0.4 -2.6l1.8 0.0M295.4 242.7l0.8 2.1l-2.0 0.2M291.5 253.3l1.7 -0.1l2.4 -1.2M294.2 236.0l-2.2 0.0l2.0 0.8l-2.4 -1.4M293.2 247.0l2.7 0.3l-1.2 -1.8M258.3 236.4l0.6 2.1l-1.6 0.8M259.8 239.0l-1.3 1.8l-0.8 1.8l1.6 -2.3M286.8 230.4l1.5 2.0l-0.6 -1.6M251.2 251.7l0.8 2.5l-1.1 1.6l-2.2 1.3M284.1 253.2l0.8 2.1l-0.7 -2.6l1.3 -1.3M261.1 249.5l-1.6 0.8l-2.6 0.6M307.0 258.1l0.7 1.5l1.5 0.8M276.2 242.4l0.0 2.6l1.9 1.5l-0.5 1.6M276.9 249.0l1.7 1.8l-1.9 1.0M293.0 240.8l1.5 -0.7l-1.2 -1.9M260.7 246.7l-2.6 0.0l-0.2 2.1M272.7 245.7l2.5 -0.0l-1.8 0.3M282.6 254.6l-2.6 -1.0l1.9 -1.7l-0.3 -1.8M294.4 235.9l-0.4 -1.7l1.6 0.7M283.7 255.9l-1.3 2.1l-1.2 1.6M271.7 243.9l1.6 -0.7l0.3 2.1M295.1 251.3l-1.4 -1.1l-2.3 -0.2l-0.4 -2.0M286.0 228.1l-2.1 -0.7l1.5 2.1l1.0 -2.3M262.0 242.2l1.1 -2.4l-2.2 1.7M284.2 262.9l-1.7 0.8l-1.9 0.3M267.4 250.2l0.8 -1.7l1.2 1.6l-1.8 2.0M289.4 225.0l1.6 -1.8l1.4 -1.9l1.6 -0.1M268.0 241.5l-2.1 -0.6l1.0 -1.9l-0.3 2.1M272.3 238.6l-0.9 1.7l-1.4 -1.9M285.3 232.7l1.6 -0.7l-1.0 1.6M285.3 234.3l-2.2 -0.4l2.6 -1.0M271.6 244.8l-0.2 1.7l-2.1 -1.2l0.0 1.7M271.3 242.6l0.8 1.8l1.9 -0.0M300.6 240.2l-1.8 0.4l2.4 -1.1l-1.7 0.1M277.0 246.6l-1.7 1.2l-1.4 1.3l1.5 1.8M274.1 249.7l-2.3 1.1l-1.8 -0.0l-0.3 2.3M182.6 186.6l-0.1 -2.0l0.2 -2.3l-0.0 1.7M182.4 197.9l1.6 -2.2l1.1 -2.4M179.3 185.7l0.1 2.0l1.2 -1.5l-2.2 0.2M176.6 203.9l-0.0 -1.7l0.3 2.3M162.8 192.0l-1.4 1.6l-1.0 -1.6M189.8 194.3l1.7 -1.8l2.1 1.4l-0.4 -1.6M168.7 195.5l2.5 -0.1l-0.9 1.8l1.8 0.7M165.9 205.9l0.3 -2.1l0.0 -2.0M160.6 196.5l1.0 1.7l2.3 -0.5l0.9 2.1M179.3 185.5l1.6 -1.0l1.1 -1.3M174.9 206.7l-0.2 -1.7l-1.4 -1.9M169.2 203.9l-2.1 -1.2l2.2 0.0M164.6 197.1l2.0 0.6l-0.8 1.6M160.4 193.1l2.0 0.5l-0.4 -1.6M184.1 193.6l-0.5 -2.2l1.8 -0.1M156.3 198.5l2.3 -0.0l1.8 1.6M168.0 192.3l-1.8 -1.0l0.7 -1.5l-2.2 -0.6M178.2 194.8l2.3 0.3l-1.8 0.1M149.6 211.6l-1.7 0.5l0.9 1.3l1.5 -0.9M166.2 191.8l2.4 -0.9l-1.6 -1.1M153.0 205.7l0.6 -1.7l0.3 2.1M156.1 199.3l1.8 -1.5l-0.3 2.5M166.7 200.8l-1.8 -1.1l1.7 1.3M168.1 187.5l2.6 -0.6l1.3 -1.0l-0.8 -2.5M169.0 186.3l-1.8 1.9l0.6 2.6l0.7 2.1M159.5 198.7l-2.5 1.0l0.9 2.2l2.6 -0.9M159.8 202.5l-2.6 -0.8l-1.8 -1.6l-2.3 1.2M180.3 196.0l-1.2 -2.0l-2.1 1.2l-0.6 1.8M173.9 186.8l-1.4 2.3l1.7 0.7l-0.2 -2.0M172.4 194.9l-1.8 -0.9l-2.0 -1.9l-2.1 0.4M170.8 193.2l1.1 -1.5l-1.0 -1.7l-1.6 2.0M176.7 188.1l-2.1 -0.3l-1.6 1.9l1.3 1.4M176.2 187.5l1.7 -2.1l-2.1 0.2l2.0 -0.4M164.4 189.5l2.4 1.1l-1.9 -1.0l-1.1 1.2M165.2 194.9l-0.8 -1.5l-1.6 -2.1M172.1 181.2l-1.9 0.4l-2.3 -0.5l2.2 -0.2M160.5 200.4l1.8 1.6l-1.6 -0.0l1.0 1.7M159.4 200.2l1.4 1.5l-1.8 -1.7l2.6 -0.1M176.8 196.3l-1.1 -1.6l1.7 -0.6M169.1 193.9l-1.4 1.3l-1.3 -2.3l-1.0 -2.2M174.0 189.0l-0.3 2.4l-0.5 -2.6l-1.7 -1.4M174.3 193.7l0.3 -1.6l-0.1 2.3M175.8 192.0l-2.6 0.7l-0.6 -2.0M159.8 194.8l-0.5 1.6l-1.6 0.2l-0.8 2.5M165.1 194.1l0.6 1.7l-1.3 1.7M179.9 193.3l1.5 1.4l1.6 0.3M183.7 206.5l-1.1 -1.4l-2.6 0.1M182.0 201.0l0.3 -1.7l-0.7 1.5M165.4 194.0l-0.9 2.6l1.7 -2.1M181.2 197.0l-1.4 -1.0l1.7 0.5M163.4 189.9l1.6 -1.2l2.3 0.7l0.9 2.5M163.3 212.4l1.0 -1.8l-0.3 -1.6l-0.7 -2.0M163.7 191.9l0.1 -1.6l0.1 -2.5l0.7 -2.3M179.2 194.0l-0.8 -2.6l-1.7 -1.8l-1.2 -1.3M165.8 190.2l1.7 0.6l-1.8 -0.7l-1.7 1.7M157.6 204.2l-2.2 1.5l-1.8 -0.5M174.5 205.9l-2.5 1.0l-1.6 -0.8M160.3 193.2l2.4 0.4l-1.9 1.8M154.8 200.3l1.6 -1.4l-2.6 0.3l-2.6 -0.6M175.5 203.6l1.7 0.5l-1.5 0.7l-2.0 -0.3M154.1 201.2l2.2 1.2l-2.6 -0.9l0.5 2.5M181.3 188.5l1.9 -0.2l0.4 2.0M190.3 200.5l0.2 2.1l0.3 2.8M156.9 201.9l0.2 -1.6l0.2 -2.4l-0.2 1.6M183.6 191.0l1.7 -1.3l-1.3 1.3M152.6 201.0l2.3 -1.3l1.2 -1.8l1.8 0.6M167.0 187.3l2.0 0.7l1.3 2.4M172.2 193.1l1.9 -0.7l-1.1 -1.2l-1.3 -1.9M183.2 196.7l2.6 0.5l0.5 -1.7l2.2 -0.6M580.5 205.5l-0.5 1.9l2.3 -0.4M556.1 221.3l-2.4 0.5l1.8 0.7M585.8 209.7l-1.6 -0.7l-0.8 -2.3l-2.5 -1.1M553.4 203.7l-0.1 -1.8l-0.7 1.5l2.4 -0.8M564.0 228.6l1.6 -0.2l-1.5 1.1M540.2 218.8l2.0 0.3l0.9 -2.3M576.4 241.6l-0.9 -2.6l2.0 1.3l1.9 0.4M579.0 221.8l0.8 2.5l-2.0 -1.6M548.6 215.2l-1.0 -2.2l-0.6 1.8l-1.8 1.8M557.0 226.5l1.9 -1.7l0.4 -2.7l-1.9 -1.4M567.2 242.5l2.2 -0.1l-1.0 -1.8M572.7 213.7l-1.6 -2.0l-2.2 -0.4M593.5 235.0l-1.1 -2.6l1.7 0.5M569.7 217.4l-2.4 0.9l0.1 -2.0l-2.1 -0.2M537.1 214.3l1.8 -1.2l1.0 2.3M583.0 216.6l2.0 -0.8l1.4 1.0l1.2 -1.8M546.2 227.1l0.6 -2.0l-0.5 1.8l-1.8 0.1M572.0 231.4l-0.9 2.0l2.0 -0.2l2.2 0.2M578.8 239.8l0.9 2.3l0.3 2.4M554.2 235.3l-1.8 0.2l0.2 2.0l1.6 0.7M551.7 232.3l0.6 2.5l1.7 -0.8l1.2 -1.7M571.0 227.6l-0.3 -1.7l-2.3 -0.5l2.0 -1.1M584.0 224.8l1.9 1.9l0.4 2.4l2.1 -0.3M586.4 234.2l-2.2 -1.4l-2.2 -0.3l-0.5 -2.1M570.2 219.0l-0.5 1.7l0.5 2.7l-1.4 -0.9M555.6 219.5l2.2 1.0l-2.0 -0.2M564.7 224.7l2.3 1.1l2.5 -0.3l2.0 -0.6M617.2 231.7l0.9 -1.8l0.6 -2.2l1.9 -0.5M580.7 216.0l0.2 -2.4l1.1 1.4l-1.0 2.2M556.3 221.6l-1.4 -1.5l0.9 2.1M571.2 214.1l-0.5 -2.7l0.2 1.7M594.6 219.1l-2.3 -1.4l-0.4 -1.7M585.8 200.5l2.6 -0.0l1.7 0.3l-1.9 0.2M567.9 227.9l2.0 -0.5l1.9 -1.9l-0.2 -2.0M571.2 231.3l0.2 -2.0l-1.7 0.3M572.6 226.7l-1.7 0.4l-1.7 -1.5M536.8 217.5l-0.4 1.7l-0.9 -1.7l0.6 2.1M529.3 231.6l-1.9 1.6l-1.4 -0.8l-2.1 1.7M573.1 222.9l-1.1 1.4l-2.2 0.3l2.2 0.5M554.4 218.9l0.3 2.0l2.5 0.5l0.5 2.5M598.5 243.2l0.1 1.6l-1.3 -0.9M567.0 238.5l0.3 -1.7l-2.1 0.9l1.1 1.5M541.8 204.7l0.8 1.6l0.5 2.7l1.4 -1.0M560.0 215.8l-1.4 0.9l-0.0 2.4M558.8 227.0l2.0 0.9l-0.8 2.2M617.9 218.1l-1.8 -1.8l-1.8 1.9M568.8 227.9l-2.4 -1.4l-1.4 0.8M567.4 234.8l-1.0 2.0l1.8 1.5l1.6 0.6M597.3 211.9l1.1 1.6l1.6 0.5l-0.5 2.7M570.7 222.2l1.1 2.2l2.1 1.1M573.9 208.9l0.9 -2.4l-0.7 1.5M539.0 200.7l2.5 -0.9l-1.4 -1.9M576.7 227.0l-1.1 1.7l-1.8 -1.3l2.2 1.3M569.2 200.2l-1.8 0.9l-1.8 -1.2l0.4 -2.2M561.8 217.1l-0.8 2.6l2.3 -1.5l0.8 1.6M544.7 215.4l-1.1 2.5l-1.3 -1.4M579.5 230.7l-1.1 1.2l1.5 1.6l-1.2 1.4M567.6 230.4l-0.1 -2.0l1.6 -2.3M558.0 225.7l0.4 -2.1l2.3 1.1M568.7 230.8l0.9 -1.8l-0.9 -1.5l-1.6 2.2M566.8 223.5l1.0 1.9l-1.9 1.3M565.8 218.2l2.0 0.4l0.6 -1.9l-1.4 -1.5M604.9 230.4l-2.1 -1.3l0.2 1.6M575.1 249.1l-0.9 -2.3l0.6 -1.7M591.1 208.7l-1.7 -2.1l-2.5 -0.9l1.7 0.6M579.5 233.8l-1.3 1.1l1.3 -1.1M599.1 238.8l0.3 2.4l-1.6 -1.0l-0.9 1.7M580.7 212.6l-0.4 2.2l-0.3 1.7l-0.6 -1.8M553.6 227.8l-1.6 1.1l-0.5 -2.6M576.3 214.3l-2.0 -0.7l2.3 1.5l1.8 1.3M561.7 220.8l-1.4 -1.4l-1.8 1.1M569.0 228.5l2.4 0.5l-1.3 -1.7l-1.8 -1.5M563.3 212.0l0.5 2.0l-0.8 1.9l-1.6 -0.9M588.5 241.8l2.4 1.4l-1.8 0.9l1.1 -1.6M566.3 235.8l-1.5 0.8l-1.7 -0.9l0.8 2.7M575.3 231.9l-2.5 0.5l-0.9 -1.7l1.6 1.7M575.9 217.0l2.3 1.2l0.7 -2.2M577.5 235.6l-0.9 1.4l-0.7 1.5l1.2 1.7M553.2 245.6l1.1 1.8l1.7 0.1l-0.4 -1.6M602.5 244.1l-1.9 1.5l1.3 2.0M600.8 232.8l-0.7 -2.3l1.7 2.1M562.4 218.7l-2.3 -0.7l1.7 1.7l-1.2 1.6M554.6 226.2l-0.8 2.1l-1.8 -0.2l0.2 -1.7M567.5 232.0l-1.7 -0.5l1.9 -0.5M534.7 249.3l-0.2 2.7l2.0 0.1l0.4 2.5M605.6 224.7l1.5 -0.7l-0.6 -1.7l1.1 -2.5M579.2 230.0l-2.3 -0.3l0.4 1.8M572.5 222.8l0.9 -1.9l-0.6 -2.0l-2.3 -1.1M566.0 216.3l1.1 1.6l-1.0 2.5M570.9 224.7l-2.4 0.6l2.4 -1.4l-2.4 -0.5M573.3 216.0l-1.4 -2.4l2.6 -0.7M568.7 225.5l1.8 1.0l2.0 -1.7M578.0 213.8l1.4 0.9l-2.3 0.5l-1.8 1.2M574.9 235.3l-1.6 0.9l1.1 -1.2M577.9 221.1l-1.5 0.7l-0.4 -2.2M559.9 222.5l-0.7 -1.6l-0.3 -1.9M580.0 241.3l-1.6 -0.9l2.6 0.6l1.2 -2.0M565.4 218.3l-1.4 1.0l2.1 1.5M574.2 227.1l1.9 0.8l2.4 -1.1M553.0 217.3l2.0 0.4l1.9 -0.3l-1.0 2.6M566.3 232.1l-0.2 -2.2l1.7 -2.2l1.9 0.3M548.3 214.3l1.8 -1.5l2.5 0.6l2.2 1.1M576.2 212.1l1.6 0.3l-0.7 1.6M569.8 228.7l1.5 -1.6l1.8 -0.6M566.2 214.3l-0.8 -2.0l-0.0 -2.1M567.0 221.5l0.0 -1.9l0.3 1.9M573.5 216.2l1.2 1.1l1.8 1.9l-1.7 2.1M586.0 207.4l-2.4 0.7l1.0 -1.9M565.1 225.1l1.8 1.0l-2.4 -1.2l1.3 -1.2M583.9 218.6l-2.4 -1.0l1.7 0.9M577.0 219.0l2.7 0.2l-1.8 -1.1l1.1 -1.9M580.2 243.2l-0.7 -1.9l-2.0 -0.3l1.4 -1.4M561.4 229.7l-1.9 0.0l-0.6 2.5M552.7 235.2l2.0 0.9l2.4 -1.1M588.0 225.4l1.6 -0.6l2.0 -0.0M549.3 229.2l2.4 0.5l2.3 -1.2M587.0 236.4l1.1 1.6l2.5 -0.9l0.4 2.0M581.4 205.8l-1.8 1.6l0.6 1.7l-1.1 2.2M556.8 239.9l1.7 -1.8l0.2 -1.6M547.8 236.9l0.4 -1.5l0.4 2.4l1.5 -1.6M599.1 233.0l-1.2 -1.4l-0.6 -1.5M586.5 221.5l-2.7 -0.1l-2.1 -0.9l2.7 0.6M547.8 223.9l2.2 1.6l1.7 1.3l0.9 2.6M564.7 224.5l-1.2 1.6l-2.7 -0.1l1.1 -1.6M579.5 223.5l-2.0 0.6l2.5 -1.2M571.2 229.5l1.9 1.2l1.3 -1.4l2.1 1.2M567.9 244.4l1.6 0.9l-2.2 -0.8l1.9 -0.7M575.3 225.9l-2.1 1.3l-1.0 1.8M564.6 218.4l1.7 1.5l-2.6 0.7M590.2 226.6l1.8 0.7l2.4 -0.7l-0.9 2.2M550.2 219.1l-1.2 1.8l-1.8 0.8l0.9 1.3M565.7 220.3l-1.8 1.7l0.5 1.7M585.9 212.8l1.5 1.0l1.7 -0.6M576.1 226.5l2.2 -1.8l1.7 1.6l-2.3 -0.5M548.6 225.5l-0.3 -1.7l2.1 -1.2l-1.7 0.6M566.4 230.3l-0.4 2.6l-1.8 1.0M560.6 228.2l-2.3 -0.2l-1.3 -1.9M540.5 213.6l-2.2 1.5l0.1 2.0l0.4 1.6M581.0 235.9l-1.4 -0.9l-2.5 0.1l1.7 -0.3M567.8 218.7l-1.6 1.4l-1.0 2.5M585.9 203.0l1.5 1.6l0.4 -1.6M554.8 232.1l1.3 -1.3l-0.0 1.9l-1.0 -2.0M578.8 214.2l-1.0 -2.3l-1.7 1.2M536.9 240.2l2.2 1.2l-2.2 0.5M570.5 215.6l1.3 -2.2l0.4 1.7l-0.2 -1.6M568.9 234.5l1.7 0.6l-0.4 1.6l-2.6 0.0M525.2 236.7l-1.7 2.0l-0.6 -2.1l-1.5 -1.3M580.2 203.1l-2.0 1.7l1.4 0.9l1.8 -1.0M580.7 206.3l-1.8 0.0l-1.1 -1.4M586.8 229.2l-1.9 -0.5l-1.4 1.6l-1.5 2.2M626.0 204.6l-0.0 -1.9l-1.3 1.5l-1.2 2.1M620.2 183.5l-1.9 0.3l-1.6 -1.0l-0.2 1.7M622.7 191.1l0.2 -1.6l0.3 -2.0M616.3 197.8l-2.3 -0.8l-1.6 -1.4M630.9 192.9l1.2 1.5l2.7 0.2l1.5 -1.4M637.8 185.4l-2.5 -1.0l1.6 -1.2l-0.4 2.1M632.8 168.8l1.9 1.2l-0.1 2.1l-2.3 0.5M627.8 189.9l2.2 -1.6l-0.2 -2.2l-0.8 2.6M621.5 184.7l1.4 -0.8l-0.5 2.4M622.9 183.4l-1.8 0.5l1.4 1.1l-1.6 0.4M606.3 184.8l-1.7 1.0l-0.0 2.0l-2.0 -1.4M621.1 185.7l1.4 1.6l-2.1 1.9l-1.6 1.4M616.5 190.4l-1.0 1.4l0.9 -1.6l1.8 -0.9M633.1 189.0l1.3 -2.3l-2.5 0.3M621.6 208.3l-1.5 -1.5l-2.0 0.0M634.8 203.1l-2.3 -0.7l1.0 -2.2M636.4 188.1l-2.3 0.7l1.6 -1.4l0.8 -1.7M624.8 205.4l2.3 -1.1l2.4 -0.3M621.0 190.6l-1.8 0.8l-2.5 -0.5l-0.3 -1.6M629.4 196.5l1.5 1.7l-1.9 -0.9M623.5 203.8l-2.5 0.1l1.7 1.1M624.4 200.7l-1.0 -2.2l-0.6 -1.5M635.6 199.9l-1.7 -2.0l0.7 1.6M632.6 178.1l-2.3 -0.8l0.7 -2.6l2.6 0.4M614.2 184.6l-2.1 -0.6l-0.4 2.0M630.3 210.0l-2.1 -0.4l2.1 -0.1l0.6 -2.1M615.0 195.7l-2.5 -0.8l1.7 0.6l-0.1 -2.1M618.3 183.2l2.2 0.6l-1.7 1.6l1.6 1.0M623.5 200.3l-2.0 1.5l-2.3 -0.6l0.2 2.5M627.9 206.2l1.9 -0.0l-2.1 1.5l-0.1 2.5M617.1 202.7l1.2 2.1l-0.5 1.9M634.4 192.8l1.7 0.9l-0.9 1.6l-1.9 -0.9M630.3 185.2l1.5 -1.7l-1.7 -2.0l0.5 2.1M616.2 187.1l0.1 2.0l-1.6 -0.4M620.2 226.7l0.9 -1.5l-0.4 -1.9l1.9 1.1M621.6 211.8l-0.4 1.6l0.6 1.7M627.8 195.7l1.9 -0.0l-2.2 0.8l-0.8 -1.6M632.7 182.7l0.2 2.4l-0.0 -1.6l-0.8 -2.2M634.2 196.5l1.1 -2.5l0.7 -1.5l-2.0 1.1M612.4 199.2l1.7 -0.2l-1.4 1.2l1.3 1.4M631.0 197.4l-2.1 1.8l-1.1 -2.1M640.3 187.0l-2.2 -1.2l-2.5 0.4M630.6 201.0l1.7 0.4l0.0 2.1M617.9 206.4l0.1 -2.1l1.7 2.0l0.0 2.7M612.9 176.4l-1.1 -1.9l0.5 -1.5l-2.3 -1.1M630.7 178.9l-0.9 1.5l-0.1 1.9l-0.7 -1.6M625.0 172.3l1.0 1.6l-1.6 1.7M626.6 178.4l-2.1 -1.7l-1.7 -0.4M629.1 173.6l2.5 -0.1l0.2 1.9M630.0 188.8l1.5 0.7l1.7 1.2M626.6 191.2l1.9 -0.5l1.8 -0.0M627.2 176.1l0.7 -1.8l0.3 -2.1M602.9 192.4l-0.3 1.6l-1.8 -0.9l0.5 2.0M617.6 186.5l-2.0 -0.2l-0.8 2.0M629.8 168.2l-0.5 -2.5l1.5 0.9M619.1 184.7l2.5 -1.2l-0.0 -1.7l-1.1 -1.4M616.5 195.9l1.2 1.8l-1.2 -2.3l-1.7 1.1M624.7 182.2l-0.6 2.2l1.6 -1.8M617.1 201.7l1.7 -0.8l1.1 2.6l1.7 -1.0M620.1 199.0l1.6 1.0l1.1 -1.3l1.2 -1.4M630.0 169.3l1.5 1.6l-2.0 -1.0l1.1 -1.2M616.2 192.0l-2.3 -0.1l-0.5 1.7M629.1 201.4l1.0 -2.0l1.6 0.2M633.2 204.4l2.3 0.5l1.7 1.9l2.4 0.3M622.6 189.5l0.4 1.7l-1.7 -1.0M633.0 186.9l-0.6 2.7l-0.5 1.6M635.5 172.9l-2.2 1.2l0.5 1.8l0.1 -2.5M631.9 189.9l1.7 -0.1l-1.0 -2.4M608.3 203.8l-1.2 2.4l1.1 1.7M628.8 192.3l1.5 1.4l0.4 2.7l-1.8 -1.4M616.3 186.4l-1.2 2.2l-2.1 -1.1l1.9 1.8M639.6 182.1l0.4 2.0l2.4 -0.2l0.6 2.5M594.8 181.7l-1.2 2.2l-1.6 -1.6l2.0 -1.4M615.2 190.4l2.0 -0.8l1.3 1.0M622.5 181.1l-0.7 -1.5l0.3 -2.3l1.7 2.1M618.4 204.6l1.0 2.2l0.3 -2.6M613.0 215.5l-1.0 -2.3l1.1 -2.0l0.1 -2.6M621.1 178.9l0.9 2.6l1.1 1.3l-1.4 -1.2M633.1 198.8l2.3 -1.1l1.2 1.5M616.6 201.0l-1.3 2.4l-0.2 -2.3l-2.4 0.2M609.4 180.9l0.8 2.1l-0.2 1.8M636.1 188.9l2.4 0.4l2.1 0.3M614.3 198.2l0.9 1.8l-1.8 1.9l-2.2 -0.4M634.3 191.7l-0.7 -1.7l-1.1 -1.3M609.7 187.8l-0.2 1.7l-1.6 -0.8l2.8 0.1M629.8 201.2l-1.1 2.3l1.4 -1.9M621.7 191.5l-0.5 -2.4l1.5 0.7M596.1 280.5l2.2 -0.3l-1.2 -2.2M597.6 264.3l0.2 1.6l1.0 -1.6l-2.3 -0.1M590.0 282.9l1.4 2.0l-0.2 -1.8M584.9 295.2l-0.4 -2.2l-1.4 1.7M560.3 288.2l-1.1 1.9l-2.6 1.0l0.3 2.2M581.6 294.3l-2.1 1.6l0.0 -1.9l2.6 -0.1M564.0 280.1l1.9 0.8l-0.0 -2.6l-2.1 1.7M575.1 287.0l-0.3 1.6l1.0 -2.5l2.1 0.2M555.6 297.4l-1.5 -1.4l1.7 0.6M570.0 301.9l-1.9 1.6l-1.2 -1.1M590.8 289.2l-2.3 -0.7l-0.4 -2.5l-1.7 -0.1M588.9 279.0l-2.6 1.0l0.2 1.6M573.1 283.8l1.4 1.2l-1.9 0.3M559.0 289.2l-0.0 -2.8l2.6 0.7M575.8 301.9l1.8 1.9l1.6 -0.8M527.7 283.0l-1.1 1.3l1.4 -1.9M564.2 284.8l-1.5 1.5l-1.4 1.9l2.2 -0.7M584.3 292.6l-2.3 -0.0l-1.1 2.3M578.4 284.7l0.2 2.3l0.4 -2.2M585.4 292.2l1.6 -0.8l-0.7 -2.1l-2.1 -0.0M550.4 286.6l-2.5 -0.3l0.9 1.6l-1.6 0.1M557.4 278.4l1.0 -2.0l-1.5 1.3l-0.2 2.4M580.2 289.5l2.1 0.0l-0.8 -2.5l1.6 -0.3M579.7 281.1l1.6 0.4l2.3 -0.8l-0.7 -1.7M575.0 280.8l1.7 1.2l0.9 2.4M583.7 295.2l-0.5 -2.3l-2.0 -0.4M604.3 300.4l0.7 -1.5l1.2 -2.2l1.8 0.1M565.9 284.9l2.2 1.7l-1.2 1.5M563.9 291.8l-1.5 1.1l1.8 -0.3l1.8 1.0M607.7 295.4l-2.6 1.0l-0.7 2.6l2.0 1.5M545.0 277.7l1.6 -1.3l0.3 2.5M558.6 293.6l-1.3 1.0l-1.1 2.2l0.8 2.0M578.0 291.7l-1.0 1.4l-1.1 -2.2M604.7 281.6l-1.5 1.6l-2.5 0.8M565.3 306.7l2.2 -0.2l2.6 -0.9l1.3 -1.6M583.1 282.0l2.0 -0.2l0.6 -2.4l-1.4 -1.3M547.6 275.3l-0.4 -2.6l-2.1 -1.4M541.3 289.6l1.2 -2.5l2.3 -1.3l-1.2 2.4M578.7 297.9l-0.7 -1.7l-1.6 -1.7M575.9 282.8l-0.8 1.5l1.6 2.2l0.8 -2.0M566.9 306.1l0.3 1.9l-0.7 1.9M551.5 290.6l-2.5 -1.1l-1.0 1.5l1.1 1.3M578.4 294.6l-0.2 -2.5l0.6 -2.0l-1.3 1.8M571.9 293.5l-1.0 -1.6l0.2 -2.3M590.2 287.7l-2.4 -0.5l-1.8 2.0l-2.4 -0.2M571.1 287.3l-2.3 -1.0l0.0 -2.8M563.5 287.1l-2.4 -1.0l-1.5 -2.3l1.3 -2.1M573.5 290.9l-2.8 -0.2l2.4 1.1l1.0 -2.0M598.0 300.8l1.5 -2.2l-2.0 0.2M571.3 294.4l1.9 -0.7l-1.9 -1.0M582.4 295.9l1.3 1.0l-0.9 -1.3l-1.9 -0.2M578.3 291.4l-0.8 1.5l1.1 1.7M571.0 281.9l-0.7 -2.5l2.2 -0.6l2.3 0.7M591.1 300.7l1.5 2.2l-1.8 -0.7l-1.6 0.8M587.9 292.9l1.2 1.6l-1.3 -1.5l-1.6 1.9M582.0 284.9l-2.6 -0.1l2.2 -0.0l-1.2 2.3M551.3 295.0l-0.4 2.7l-0.4 -2.7l1.0 2.2M581.0 284.0l-0.6 -1.7l0.7 -2.6l0.8 -1.9M563.5 300.5l1.1 -1.9l1.4 -1.6l-0.7 -2.0M550.9 304.9l-1.9 -0.5l-1.4 -0.9l-0.5 -2.7M567.2 288.8l-2.3 0.1l2.7 0.1l-0.4 2.1M570.4 290.4l-0.0 -2.0l1.7 1.7M574.9 282.3l1.8 1.7l1.3 1.3M594.1 281.9l-2.7 -0.1l0.4 -2.4l-0.1 1.7M570.4 294.0l-1.5 2.1l-2.3 0.8M569.9 285.1l-1.7 1.0l-0.5 -1.6l-2.0 1.2M583.3 285.7l-2.2 1.3l0.6 2.2l0.0 -2.5M559.3 288.1l2.3 1.4l2.4 0.9M574.7 304.3l0.4 2.5l0.1 -1.9M561.5 297.7l-2.3 1.3l0.2 2.0l0.4 1.6M566.2 285.8l-2.2 -1.1l-1.9 1.8M573.1 291.4l2.0 -1.2l-1.9 -0.2M591.0 304.7l-1.7 -1.2l-2.4 0.9l2.0 -1.1M568.5 301.0l1.6 -0.4l-1.1 -1.3M592.9 296.3l2.0 -1.6l-1.7 0.0l-2.7 -0.3M566.6 297.1l2.5 0.8l1.8 -1.5M576.4 292.2l-2.7 -0.1l-0.1 2.0M574.0 295.0l2.5 0.7l0.2 -2.5l-1.8 1.7M594.7 299.2l1.9 0.2l-1.5 -1.5l1.8 1.0M574.9 298.0l1.3 -1.0l-2.0 -0.7l2.1 -0.8M599.8 280.6l-1.7 -0.4l0.2 2.7M600.1 277.0l1.7 -0.2l-1.9 0.2M586.1 294.3l1.5 -1.2l-1.1 1.7l-1.3 -1.5M600.2 291.5l2.0 -1.1l1.8 -0.9l-1.9 1.8M570.8 281.8l-2.4 1.1l-2.0 -1.3l1.8 -0.3M559.2 295.9l2.0 -0.3l2.0 -0.9l1.5 2.1M574.4 282.5l1.2 1.2l-1.0 -1.8l0.9 1.7M586.0 282.1l-1.5 -0.5l1.7 -0.8M571.4 284.9l-1.9 0.2l-0.4 -1.7l-2.4 0.2M602.8 302.2l-1.7 0.7l-2.2 0.7l-1.0 1.6M575.6 274.9l2.0 0.8l-1.1 1.7M582.1 289.6l1.1 2.5l2.2 1.3l2.4 -0.3M583.2 294.1l1.4 1.4l-0.2 2.3M573.2 297.3l2.2 0.4l2.2 -1.3M590.6 290.9l0.0 -2.7l-1.9 0.8M571.9 284.7l-0.6 1.8l2.0 -1.2l-2.2 0.0M588.4 279.1l-0.1 -1.9l-0.8 1.9l2.0 0.7M575.6 282.3l-0.7 -1.6l0.9 1.9M557.1 294.4l0.7 -2.0l0.4 -2.0l-2.3 1.2M577.6 289.3l-1.5 -1.0l-0.7 -1.5l2.5 -0.1M591.1 275.6l0.9 -1.8l0.9 1.8M577.0 291.6l0.8 2.3l-1.6 -0.8M590.5 279.2l0.6 -1.5l-2.8 -0.0M588.7 291.0l-0.8 -1.6l-2.3 0.3M598.3 299.2l-2.4 1.1l1.9 0.6M586.2 308.3l-1.5 0.7l-1.0 2.5M578.0 285.2l-2.3 -0.2l-2.0 1.1l-1.8 -0.7M572.9 280.5l-2.2 1.5l-0.5 -2.2l-1.6 -1.5M530.7 290.3l2.3 0.4l0.1 2.8M541.4 300.7l1.7 0.5l-1.3 1.1l0.7 -2.6M545.6 298.6l1.9 -0.6l0.4 -2.3l-1.5 -0.7M529.6 290.3l-2.6 0.6l-1.6 1.8l-2.4 0.9M523.0 297.7l1.1 -1.6l-2.4 0.1M535.9 301.5l-0.5 2.7l-1.7 0.4l-0.1 -1.8M531.2 301.0l2.0 -1.0l-0.0 -2.5M525.4 291.3l-2.0 -0.2l1.8 0.1l1.4 -0.9M545.7 301.2l-0.7 -1.9l-0.3 1.9M523.3 301.6l-1.8 0.4l1.6 2.0M540.2 305.3l2.2 1.1l0.2 -1.6M526.8 293.3l0.8 2.5l-2.1 -0.7M519.7 302.3l0.9 -1.4l1.4 1.2l-1.4 -1.5M540.0 300.5l-1.8 -1.9l-2.1 1.0M514.1 299.6l2.1 0.3l2.5 -0.7l0.1 2.1M521.5 298.6l-0.7 1.7l-1.8 0.8l-2.3 0.2M533.0 290.3l-0.2 2.3l-1.3 0.9l-1.0 -1.5M538.9 305.0l0.1 -2.0l1.0 1.7l1.6 1.9M526.1 304.1l0.3 1.7l0.3 -2.3l1.7 2.2M532.4 303.4l2.5 -1.2l1.1 1.7M548.5 302.4l-1.2 -1.4l-0.3 2.5M544.4 301.9l2.4 0.3l-2.0 1.5l1.8 1.5M524.8 304.8l0.9 -1.5l-0.7 -1.5l-0.6 1.5M529.7 302.8l1.7 1.7l-2.2 1.4l-1.2 2.5M544.2 298.3l1.2 1.2l-0.5 -2.7M513.9 291.6l1.8 0.3l0.1 2.1l1.0 -2.2M526.4 298.8l1.9 -1.7l-0.9 2.1M548.8 305.0l-1.8 1.7l-0.1 -1.7l-2.3 0.0M535.7 298.2l1.5 0.9l1.4 1.6l-2.5 1.1M544.6 290.3l0.8 -1.4l0.8 1.6l-0.1 2.1M539.4 293.3l2.6 -0.7l1.2 2.3M535.2 297.7l-1.6 -1.0l-1.0 2.2l1.3 1.9M531.2 305.0l2.1 1.6l2.3 0.1l-0.1 2.4M517.5 299.1l1.2 -2.5l1.4 1.3M538.0 293.4l-2.6 -0.7l-2.0 -0.1l-2.2 0.2M551.9 293.9l-2.5 0.7l1.6 1.2M518.7 303.3l-2.1 0.9l0.5 -1.7M527.3 301.7l-0.2 2.1l0.9 1.5l-2.2 -1.6M528.6 299.3l-0.0 1.8l2.0 0.9l-2.3 0.4M533.5 304.0l1.2 1.4l-0.7 1.5M524.7 304.6l1.1 1.8l2.3 -0.9l-1.1 -1.3M530.9 302.5l-1.0 -2.6l-0.6 -2.6M542.2 291.8l2.0 1.4l-0.8 -2.1l-1.6 -1.4M533.5 296.1l0.5 -2.0l-1.6 -1.3l-0.8 -1.5M520.1 302.4l-1.6 -1.0l-0.4 2.2M521.1 292.1l-2.0 -1.3l-1.0 -2.1M536.2 300.7l-1.2 -1.6l1.8 -0.6l2.1 1.4M522.0 300.6l0.1 -1.6l-2.3 -0.5l1.8 0.4M553.6 300.4l-0.5 -2.0l-2.2 1.6M342.3 257.3l1.7 -0.7l-2.3 1.4l2.3 -1.1M334.3 268.8l0.2 -2.4l-0.0 2.6l-2.1 -0.4M312.4 268.8l-0.9 2.1l-1.8 -1.8l-1.2 -1.9M299.0 262.7l-1.7 -0.3l-0.7 1.5l-1.9 -1.6M303.2 279.4l-2.2 0.1l2.3 0.1l-2.1 -1.4M329.7 268.7l1.5 -0.9l2.1 -0.8l1.6 1.6M300.9 266.5l-0.2 2.7l-0.4 -2.7M321.5 271.8l-1.1 -2.2l1.8 -1.9M301.5 264.4l2.1 0.5l1.2 -2.2l1.8 1.8M332.8 276.1l-1.9 1.0l0.5 2.0l-2.1 -1.4M293.5 277.4l1.5 1.1l-2.5 0.3M290.9 275.2l2.4 0.3l0.7 -1.6l1.1 1.5M293.4 268.3l-0.1 -2.5l-2.1 -1.0M318.6 273.8l-2.2 0.2l1.8 -1.0l1.6 -1.2M327.5 265.6l2.4 -0.0l-2.1 -0.5M337.3 279.7l-0.1 -1.8l1.9 -0.4l1.1 -1.4M309.8 274.0l0.5 2.7l0.6 -2.4M296.6 270.0l-2.0 0.4l1.1 -1.5l2.7 0.4M287.2 271.6l-1.6 0.2l2.5 0.2l1.7 -1.2M313.4 279.7l2.4 1.5l-1.4 1.2l2.1 0.5M326.4 276.3l2.4 0.8l0.7 -1.5M303.7 269.5l0.8 2.2l-1.2 1.4M304.1 272.4l-0.3 2.1l-0.7 2.3l2.5 -0.2M276.6 276.0l0.3 -2.3l-1.0 -1.8M282.9 267.7l-2.5 -0.6l0.5 2.4l-2.4 0.6M310.4 267.7l-2.0 1.0l-0.7 2.4M338.7 270.4l2.1 -1.0l-1.6 -0.1M337.2 278.6l-0.8 2.5l-1.0 2.4l0.8 -2.7M301.4 273.6l-0.0 2.6l-2.0 -0.2M332.4 268.8l2.1 -0.2l1.3 1.5M311.5 267.4l2.5 0.9l-2.5 1.1M311.0 268.7l1.8 -0.1l-2.3 0.6M311.4 277.5l1.9 1.7l1.7 0.8l-2.4 0.2M334.1 271.9l-2.7 -0.5l1.8 -1.1l1.5 -1.4M313.5 276.5l-0.4 2.1l-2.0 1.9l-2.1 0.7M305.0 264.1l-1.9 -0.2l0.2 2.4M329.2 264.9l-2.3 -0.7l-1.9 -1.8M326.1 264.7l2.5 -0.2l0.9 2.1l2.3 -1.6M341.6 264.2l-0.2 -2.3l-1.8 -1.4M324.7 280.7l1.0 -2.0l2.3 1.0l1.5 -1.1M295.8 259.6l-1.7 1.0l1.4 -2.1l1.5 2.3M322.5 275.5l2.6 0.4l1.5 1.4M306.5 254.6l-0.4 -2.8l-1.3 -1.8M309.1 269.0l0.7 1.9l-0.4 -1.8M303.4 269.1l-1.4 -1.9l0.6 -2.5l2.7 -0.6M279.1 267.3l-1.9 -1.4l0.3 -2.4l2.4 -1.5M341.1 281.0l-0.1 2.2l2.0 0.7M303.8 266.4l-2.2 -1.2l1.2 1.2M316.8 277.9l-0.8 1.5l-1.4 -1.7l-1.5 -1.3M322.5 263.4l0.3 -2.2l-1.9 1.8M312.8 271.9l0.6 -1.8l-0.3 -2.4l-0.8 -2.2M334.9 278.8l2.5 0.2l1.1 1.4M319.1 278.9l-1.6 1.0l-1.4 0.9M302.6 273.6l0.7 -2.4l-0.5 -2.4M325.9 265.1l-1.4 1.8l2.4 -0.1l1.0 -2.1M297.9 259.6l-1.5 -0.9l1.0 1.5M312.8 270.6l-1.6 0.7l1.9 -0.4l1.3 1.6M304.4 274.2l2.4 0.8l1.4 -1.5l1.6 -1.7M273.4 270.8l1.9 -2.1l-2.4 -0.7l1.8 0.1M311.5 269.3l-0.6 -1.6l-0.2 1.7M323.7 282.4l1.6 -1.4l-2.3 -1.5l1.6 2.2M302.3 264.9l1.5 1.8l1.7 -1.0M299.6 271.6l2.2 -0.7l1.5 -0.8l-1.0 -1.3M320.1 265.4l1.0 2.0l-1.0 1.4l0.3 -1.8M327.3 264.4l1.3 2.5l-1.7 1.1M324.3 273.8l2.0 1.9l0.9 2.0l-2.2 -1.5M305.4 269.9l1.8 0.4l-1.4 1.4l1.2 2.5M318.2 276.6l-2.5 0.6l-1.6 0.0l-2.6 0.6M286.9 272.8l-0.4 1.9l-2.5 -0.9M297.2 275.1l-1.7 0.8l-0.0 -1.7l-0.7 2.1M333.7 271.3l-2.5 0.4l-2.1 -0.9l0.4 2.2M308.2 272.2l-0.8 1.4l2.2 -0.4l2.3 -0.5M319.7 272.1l2.5 -0.2l-2.6 -0.6l1.0 -2.1M303.2 266.3l-1.5 0.8l-2.1 0.4M306.9 278.9l1.7 1.3l1.1 -1.9M308.2 279.7l-0.6 1.8l-2.7 0.4l0.4 1.6M265.6 268.0l2.2 0.2l2.3 -0.2M314.7 270.9l-2.2 -0.3l1.0 2.4M281.3 266.7l1.9 -1.6l-0.8 -2.5l-0.9 1.7M331.6 262.6l-1.2 2.4l2.1 0.3M292.9 263.9l2.6 0.4l1.5 -1.2M300.5 275.2l-0.6 2.4l-0.8 -2.5l-0.6 -1.6M320.3 257.8l1.7 -1.7l1.9 1.9M335.2 267.2l-2.4 -0.3l0.2 -1.7l2.4 -1.0M308.6 263.0l1.8 1.1l1.5 -1.8M299.0 266.3l1.2 -1.7l2.0 0.9M292.6 268.8l-0.9 2.5l2.4 -0.9l-0.8 -2.7M325.2 273.3l0.3 2.4l1.3 -2.3l-0.2 2.0M292.9 271.8l-0.5 1.7l-0.0 -2.2M310.5 275.9l-2.6 -0.6l2.7 -0.3l-1.6 -1.4M304.3 274.0l0.1 -2.6l0.5 -1.9M346.4 271.6l-1.3 2.1l2.3 1.0l-2.2 1.2M291.3 273.1l-1.2 1.5l-1.8 -0.0l-0.1 2.4M296.1 268.6l2.3 -1.0l1.1 -2.4M313.3 273.2l-0.3 2.0l1.3 1.5M305.1 276.5l2.3 -0.8l2.3 -0.5l-1.5 1.0M306.7 262.5l2.1 -0.4l-1.1 -2.6l-0.5 -2.6M325.2 268.6l-2.5 -0.9l-1.6 2.1l-1.7 0.7M331.0 266.8l0.6 -2.3l-1.9 0.4l1.3 -2.0M319.9 273.0l-0.5 1.7l2.3 -0.9M263.4 261.3l1.3 -1.4l-2.7 -0.6l0.8 2.1M398.3 293.3l2.1 1.3l-2.0 -0.1M391.7 284.7l2.3 -0.2l1.1 -1.3M380.8 290.9l-0.7 2.3l1.1 -1.9M377.7 282.9l-0.2 1.7l-1.8 -0.6l-1.2 -1.2M354.7 278.2l2.6 -0.6l-1.9 -0.2l-1.5 -1.7M374.5 284.2l-1.1 1.2l1.5 -1.3M376.7 266.0l1.9 -0.7l-1.4 2.0M375.6 286.8l1.5 1.2l-2.3 0.7l-1.8 1.7M393.3 271.9l1.7 -1.0l-1.8 -1.0M397.7 279.9l0.9 -1.6l0.7 -2.3M391.1 286.1l1.2 -1.8l-1.9 -0.4M371.0 281.6l-0.5 1.8l2.4 0.5M374.5 281.6l0.3 -2.0l1.2 -1.5l1.2 -1.6M397.0 292.3l-0.9 2.2l1.9 0.7l-1.4 1.8M403.2 292.6l-0.6 -1.8l-2.8 0.4l0.7 1.6M370.6 285.0l-1.3 -1.7l2.0 -1.1l1.1 1.5M378.3 289.3l-1.3 -0.9l1.2 -2.3M400.0 283.8l-2.7 -0.1l2.3 -0.3l2.1 0.8M386.6 288.8l2.4 -1.2l-0.1 -1.7M361.0 279.5l-2.4 0.1l-2.5 -0.4l2.8 -0.0M381.8 285.1l-1.8 1.5l-0.7 1.7l1.2 -1.5M387.8 280.3l-0.6 -2.3l-1.2 -2.3l1.0 1.6M359.7 286.1l-2.1 -1.2l-2.5 0.1M358.3 284.5l-2.4 1.4l-1.6 0.6M369.1 284.2l1.7 -1.6l-2.0 0.0M380.3 282.1l2.0 1.4l1.4 1.5l-0.9 -2.2M374.3 274.2l0.1 1.6l0.5 2.7l-1.8 -1.7M383.3 281.4l2.6 0.2l-1.9 -1.2l2.7 -0.8M387.4 264.5l-1.7 -2.0l1.0 1.6M342.2 285.9l2.0 0.9l0.1 2.3l-0.9 2.5M382.5 289.9l-1.3 -1.6l1.6 -1.0M383.4 280.6l0.3 2.2l1.4 1.4l1.6 0.8M392.8 288.6l-2.6 -0.2l-1.9 0.5M381.3 285.1l-1.9 -0.6l1.5 2.3l-2.8 -0.3M389.7 289.8l-1.3 1.1l-2.0 -1.7M399.1 292.9l-2.0 0.7l-2.0 1.0l1.8 -0.2M371.2 287.1l2.4 -1.1l0.4 1.8l-1.8 0.2M395.6 285.8l-2.0 -0.8l-0.2 -2.2l-0.7 2.7M378.1 268.8l-1.9 0.5l1.7 -0.0l-0.7 -1.8M383.1 290.9l-1.5 1.8l-0.1 2.5l0.6 -2.2M383.2 282.4l-1.0 -1.6l1.8 0.9l0.9 -1.8M400.3 287.8l-2.6 -0.5l2.0 0.6l-1.8 1.3M371.1 282.8l-2.6 -0.9l-0.5 -2.5l1.7 -0.0M386.7 279.5l-0.1 -2.8l1.8 -1.6M402.8 294.2l-0.9 -2.4l-1.3 1.3M400.8 293.3l0.2 2.7l1.7 0.1M402.8 284.7l-1.0 -1.9l0.1 2.7l-1.4 2.1M382.4 276.1l-2.1 1.8l-1.6 1.0l0.2 1.6M389.9 283.8l-1.7 0.3l2.6 0.9l1.4 0.9M381.3 272.3l-1.7 1.6l0.8 2.0l1.9 0.9M366.2 283.3l2.4 0.4l0.1 2.6l-2.1 -1.2M351.0 280.1l1.5 -2.1l2.3 -1.3M387.8 284.7l1.8 0.6l1.9 0.2l-0.2 2.6M416.1 267.0l0.7 1.6l2.2 1.5M379.9 290.9l-1.3 1.7l-2.2 -1.1M417.3 290.2l-1.8 -1.0l1.3 1.0M389.2 292.1l-1.1 2.1l-2.0 -0.8l-2.6 -0.3M378.1 285.4l1.7 -1.1l2.5 0.1l2.0 -0.7M373.8 270.8l1.7 1.7l-0.7 1.5M385.2 288.7l1.7 -1.5l1.2 1.4M379.3 286.7l-1.7 0.4l-0.7 2.2l1.5 -0.8M369.0 288.8l1.2 1.3l0.8 -1.7M374.0 290.8l-2.0 1.6l-2.1 -1.4M431.1 292.4l-1.8 1.7l-0.9 -1.6l0.2 2.5M372.9 289.0l-2.0 -0.7l1.6 1.0M394.3 284.9l1.5 2.2l-1.5 -1.7M400.9 279.2l-1.1 2.4l0.2 1.8M400.0 291.9l-0.1 -2.8l-0.6 2.3M379.4 290.0l-1.5 1.9l-2.5 -0.1M371.9 276.9l0.1 2.2l-2.0 0.5M361.0 285.9l1.8 -1.6l0.5 2.0M363.8 265.2l-0.6 1.7l-1.9 0.2l2.3 -1.1M399.4 278.8l-1.4 1.4l-0.2 1.9l1.8 -1.9M382.7 289.0l-1.1 1.6l-0.9 2.1M351.6 276.1l0.1 2.4l0.2 2.7M396.9 275.9l2.3 -0.8l1.8 -1.3M385.4 287.4l2.5 1.3l1.3 2.3M376.0 281.5l2.5 -0.8l-1.4 0.8l-2.0 -1.0M368.4 280.0l2.4 -0.5l0.9 2.0l2.6 -0.9M408.3 289.1l-0.5 2.6l1.5 -1.6l-0.7 2.3M392.9 280.4l0.4 -2.5l0.5 2.3M336.3 273.0l-2.0 1.6l-0.6 2.4M380.3 280.2l1.5 -1.5l-1.6 2.0M377.1 280.3l1.0 -2.3l1.5 1.3M358.6 287.0l-1.5 0.8l1.0 1.8M374.6 281.9l1.2 2.4l1.5 -0.7l2.6 -0.3M366.8 280.8l1.6 0.5l-2.0 -0.6l1.3 -1.4M362.4 287.6l1.7 -0.4l-1.6 -0.1l2.4 -0.1M119.5 241.7l0.2 -1.8l-0.4 -2.1M134.5 234.3l0.9 2.5l2.0 -1.2M122.3 233.4l-2.2 -0.6l2.1 -1.2M131.1 249.1l-1.8 1.0l-2.4 -0.5M132.9 225.4l2.0 0.4l-1.2 -2.0M121.0 236.5l-0.3 -1.8l1.6 -0.1M121.2 234.9l0.9 2.5l-2.6 -0.4M124.5 242.2l-1.9 0.6l-0.8 1.9l1.9 1.5M129.2 241.8l1.3 1.7l-0.2 -1.9M124.0 230.3l1.0 2.4l1.9 0.1M111.8 238.8l1.4 1.2l2.1 -0.5l-2.8 -0.5M118.5 234.2l-0.3 -2.3l-1.3 -1.7M108.6 242.5l-0.3 -2.5l1.6 -1.5M115.9 238.9l-1.1 1.4l2.3 -0.4l-1.7 0.4M123.9 246.4l1.8 -1.8l2.1 0.9l-1.6 0.5M126.8 239.5l-2.4 -0.1l0.3 -2.1l-1.6 -0.5M113.0 242.5l-0.9 -2.2l-1.1 -1.3M121.3 235.4l2.3 -0.1l-0.8 -1.4M122.7 244.8l2.4 0.5l0.4 -2.7M123.5 229.0l-1.4 1.0l2.6 -0.9l1.9 -0.2M114.9 239.5l-1.6 -0.8l-1.7 1.4M123.2 232.2l-1.9 -0.8l1.7 -0.3l0.9 1.8M126.7 236.0l1.7 2.0l1.6 -1.3l-1.1 -1.6M141.3 236.1l2.2 -0.9l0.1 1.9l0.7 -1.8M115.2 240.3l0.2 2.3l-1.2 -1.9l-1.7 1.9M138.5 231.4l-2.7 0.2l1.8 1.2l-1.4 1.9M137.8 239.4l-1.7 -0.7l1.4 -1.1l-0.2 -2.6M126.3 232.1l-0.3 2.0l-0.3 2.0l-0.8 -1.7M114.5 239.1l1.7 0.9l-0.4 -2.4l-0.7 1.8M125.8 241.2l-1.8 1.8l1.5 -1.0M142.5 243.8l0.2 2.3l1.9 -1.4M123.2 239.7l-1.0 1.6l-2.0 -0.5M139.3 241.5l-0.0 1.8l-1.3 -1.1M139.6 241.5l2.0 1.3l-1.9 -0.7M145.6 237.9l1.4 -1.7l-2.0 0.4M123.8 235.3l-1.1 1.4l1.0 2.2l-2.7 0.4M108.8 245.0l0.4 -1.8l0.5 -2.7M162.9 238.8l-0.8 1.7l-2.0 0.7l2.4 1.4M116.2 243.2l-1.6 0.6l-0.8 2.3l-1.2 1.7M113.6 242.8l-1.6 -2.1l-0.2 2.6M130.1 231.3l1.6 2.1l1.5 2.2M130.1 239.8l1.7 -0.4l1.0 -1.5M136.1 229.0l-0.4 1.9l-2.1 -0.0l0.5 -1.8M125.2 233.9l-1.8 -1.1l2.0 -0.4l0.4 -2.7M119.5 240.1l1.0 1.6l2.3 -1.0l-1.7 1.0M121.2 233.7l-0.9 2.4l1.5 1.4M134.7 233.8l-0.6 1.5l-2.1 -1.1l-0.9 -1.5M130.4 239.9l1.7 2.1l0.8 2.0M114.1 249.9l-2.1 0.0l-0.7 -1.6M111.9 248.3l-1.6 0.9l2.3 -1.5M124.5 229.4l-0.0 1.6l-0.9 -2.5M133.0 240.6l-0.4 1.6l1.4 -0.8l-0.7 2.5M115.0 236.4l-0.1 -1.6l-2.7 0.3M121.8 236.0l-0.9 1.5l-1.4 -2.1l0.5 1.8M331.4 139.5l1.9 -2.0l0.7 1.8M356.2 136.8l2.2 1.1l-0.9 2.2M283.3 140.1l-2.1 0.7l-1.4 1.6l1.6 0.3M335.3 149.7l-0.5 2.0l2.0 -0.3M329.8 131.4l-1.8 2.1l-1.7 1.1M405.1 138.6l0.4 1.9l0.5 2.0M422.7 138.3l-0.3 -2.3l-0.8 -1.7l0.9 1.9M331.1 139.7l-0.0 -2.4l0.7 -2.2M305.7 132.1l1.7 1.9l-1.6 -2.0M315.8 133.5l-0.8 -2.4l-0.5 -2.3M331.0 136.1l-0.1 2.4l-0.6 -1.8l-0.9 -1.9M293.1 141.6l0.7 -1.8l-2.0 0.2l-1.3 -0.9M349.4 143.4l1.1 -1.5l1.6 -0.6l0.0 2.1M381.8 139.2l-2.2 -0.8l0.6 -2.7M330.4 132.0l0.5 2.0l1.8 0.2M329.5 141.0l-0.8 -1.5l1.6 -1.7l-0.4 2.1M358.0 133.7l1.8 -0.8l2.0 -1.2M250.5 136.3l2.3 -1.1l2.1 1.5M294.1 130.1l0.2 -2.2l1.3 1.8l-1.1 -2.4M361.0 137.0l2.4 -1.1l-1.7 -1.5l-2.4 -1.4M327.4 149.1l1.4 -2.3l1.0 -1.8M350.3 134.2l1.0 2.4l-1.7 -0.9M279.6 148.5l1.1 -2.6l-2.1 -0.4l2.5 -0.0M332.0 133.2l1.7 -0.8l-0.8 -2.6l-0.8 2.4M315.5 141.4l-0.4 1.9l1.4 -1.2l-0.5 -1.5M341.2 146.1l-2.7 -0.5l-1.6 1.3M374.2 145.7l0.5 2.3l-0.9 -1.4M334.9 137.4l1.8 -0.8l0.4 -1.9l2.2 -1.6M321.2 133.9l-1.7 1.1l1.1 2.4M264.9 131.2l-0.7 -2.6l-0.9 1.5l-2.8 0.4M298.7 130.8l1.2 -2.0l-1.9 1.2M392.8 136.7l2.4 -0.0l-1.8 -0.7M393.2 140.6l-0.5 -1.9l-1.7 -2.1M379.9 141.5l1.3 -1.0l-0.6 -2.2M313.7 140.2l-2.1 1.4l0.1 2.7M326.0 131.5l0.7 1.9l2.0 -1.8M391.8 149.1l0.6 -1.9l-0.6 -1.6l-2.1 0.0M297.6 146.3l0.6 1.9l1.8 -0.6M351.9 137.4l-1.2 2.3l-0.2 -2.7l-2.1 -0.7M356.3 132.7l0.8 -2.0l-1.3 2.5l1.7 2.1M284.3 135.2l-1.7 1.5l-0.9 1.6M377.4 140.1l2.1 -1.2l-0.3 -2.7l1.8 -0.9M368.7 142.2l-1.9 -0.5l0.2 2.4M297.0 134.7l1.7 -0.2l-2.2 0.6l-1.7 1.8M354.8 141.5l-1.2 -2.3l2.0 -0.3l2.1 0.3M346.8 138.4l-0.7 2.1l1.4 -1.8M345.8 148.6l0.7 -2.0l1.5 -1.5l0.9 1.9M245.3 134.8l0.1 2.4l-1.7 0.6l2.8 0.0M260.6 135.9l1.6 0.1l-2.1 -0.2l1.4 2.2M277.8 130.6l0.3 2.2l-1.8 -0.8l-1.9 -1.2M349.7 146.1l2.3 0.0l2.0 -1.0l-0.4 2.2M360.1 139.3l1.7 -1.9l-0.1 2.3l1.3 1.8M384.1 136.3l-0.8 -1.6l2.1 -1.0l1.7 -0.0M302.8 134.4l0.7 2.2l2.4 0.8M354.6 133.2l-0.3 -1.7l-1.2 -1.5l2.3 -1.0M311.1 132.7l0.8 -2.6l1.6 -0.4M274.9 128.3l-1.3 1.1l-0.5 -2.2l0.5 2.2M336.1 132.7l-2.2 1.0l0.7 -2.6M341.6 144.1l1.0 2.0l2.6 -0.8M353.0 134.8l1.7 1.4l-2.1 -0.7l-0.4 1.8M289.2 128.0l-1.2 -1.5l-2.0 1.4l-0.0 1.7M345.8 134.5l-2.0 -0.2l0.5 2.5M323.9 136.6l0.3 1.7l-2.1 0.4M342.4 146.0l1.6 1.6l1.9 -0.9l-1.6 -1.9M328.9 131.5l-0.8 -1.6l0.9 -1.5l-1.9 -0.1M326.2 138.1l-1.3 1.3l2.2 -1.1M350.1 139.5l-1.9 0.3l1.2 -1.4l2.5 -0.6M280.1 151.1l-1.8 -2.1l1.1 -1.7M287.6 136.0l1.9 -1.4l1.8 -0.8l0.5 1.9M359.8 144.0l-1.7 -1.5l0.6 2.6l1.6 1.9M399.8 140.9l0.9 -1.8l1.9 -0.8M324.4 138.3l-1.2 -2.2l-0.3 2.1M339.3 131.4l1.1 1.7l1.3 -2.3l1.3 1.8M299.4 131.1l0.4 -2.4l2.2 0.4l-1.0 2.0M361.1 133.9l1.1 1.3l-2.0 -0.8M338.9 147.9l0.5 -1.8l-1.7 -1.7M343.4 139.5l-2.2 0.8l1.3 -1.1M308.1 136.3l0.6 1.8l-1.0 2.3M241.8 135.7l-1.2 1.6l-1.6 1.7l-1.3 1.5M278.7 142.4l-2.3 1.2l-0.7 -2.5l2.1 -0.9M324.0 136.6l1.9 -0.1l2.2 0.0l-0.5 -1.9M307.7 142.7l-1.5 -1.9l-0.0 2.4M392.1 135.2l1.4 1.7l1.7 1.9l-1.6 -0.4M361.7 135.3l-1.6 1.0l1.5 1.1l1.5 2.0M300.6 130.4l0.7 1.5l0.2 -2.7M324.0 139.0l-0.9 1.7l0.6 -2.6l-2.1 -0.8M287.3 145.4l-2.3 0.2l2.4 -0.2l1.8 -0.9M312.6 131.2l-0.3 -2.4l1.0 1.9M370.5 137.8l-0.9 -2.3l1.2 2.0M389.5 142.0l-0.8 2.3l-1.7 0.9l-2.6 -0.5M420.9 138.2l-2.4 -0.5l2.2 -1.1l-1.9 -1.7M354.4 139.9l1.0 -1.3l1.5 -2.0M355.3 149.0l-0.8 -2.0l-0.3 -2.2l-1.7 -1.7M298.3 139.9l-1.7 -0.2l-0.1 1.6l1.7 -1.8M369.1 134.7l-1.1 -2.5l-2.1 0.8l2.0 -1.5M338.8 135.0l-2.5 -0.7l-0.8 1.5l0.9 -2.2M389.0 149.5l-1.7 1.4l-2.0 1.4M261.4 138.5l-1.3 -1.5l2.4 0.0M339.8 141.3l-1.6 2.0l1.7 -0.2M386.0 140.1l-0.1 2.6l-1.8 -0.6l-1.6 1.6M266.1 145.8l2.3 0.3l1.1 1.9l0.2 -1.7M395.9 139.3l-0.0 -2.0l2.0 1.4M233.7 140.8l-2.4 -0.1l0.9 -2.4l1.3 1.1M297.2 142.6l2.1 -0.8l0.0 2.8M310.5 130.2l-0.4 1.6l0.0 -2.1l1.7 -0.3M273.0 133.6l1.2 -1.5l-1.5 1.2M259.4 148.9l1.7 0.5l-1.4 1.8M420.0 139.5l0.8 -1.4l1.4 -2.2l-0.7 -2.2M269.0 138.6l0.7 1.5l1.8 0.2M340.0 133.2l1.2 -1.2l0.3 -2.3M328.9 138.3l-1.1 2.5l2.1 -1.6M376.8 142.1l-0.5 -1.7l-1.5 1.6l-1.4 0.9M327.7 134.0l-1.4 -2.1l2.2 -1.5M281.8 142.0l1.3 -2.3l1.7 1.3l1.0 -1.3M317.0 130.7l-1.2 -1.3l-1.4 1.9l-0.6 -2.6M294.8 133.1l-1.6 2.3l-2.2 1.1l2.7 -0.1M255.5 146.8l-0.8 2.1l2.4 1.1l-0.3 2.6M335.4 139.0l2.6 0.7l-1.1 -1.9M265.1 129.3l-2.1 0.3l-1.7 1.3l0.8 -1.5M374.6 141.3l-2.3 -1.0l1.9 1.7l2.2 0.4M334.3 137.1l0.4 -2.6l-1.0 2.0M327.0 141.3l1.8 -0.3l-2.3 0.6l-1.3 -1.1M354.9 140.4l2.0 -1.1l0.8 1.8M368.0 133.5l-1.5 0.8l-0.5 2.2M319.2 141.5l-2.1 0.6l-1.8 -2.0M367.1 138.3l-1.7 0.5l1.6 -1.5M305.1 139.1l0.9 2.1l-0.3 1.7M374.5 133.8l0.0 -1.8l0.1 -2.8M368.1 149.2l-1.1 -2.3l-1.8 0.6M258.4 139.0l0.5 -1.6l-1.2 -1.5M329.8 138.6l1.5 1.6l1.2 1.3l-0.5 -2.5M277.5 131.4l2.1 -1.1l-1.6 1.2M274.6 146.5l0.8 -2.5l1.3 2.1l1.6 -0.4M303.5 134.0l-0.7 -2.4l1.5 -0.6M316.1 131.2l0.0 -2.8l0.8 1.9l-2.3 0.4M341.7 133.1l-0.0 2.0l-0.8 -1.5M275.3 147.7l1.8 1.1l1.3 -1.3l-1.8 -0.2M248.6 156.7l1.7 2.0l0.3 -1.8M271.4 154.8l-1.1 2.2l1.2 -1.3l-0.2 -1.9M250.7 136.5l-0.6 1.8l-1.5 -2.2l-0.0 -2.6M220.9 158.5l-2.0 -1.1l0.5 -2.1l1.4 -1.2M262.3 155.0l-0.1 1.9l1.8 0.9M230.8 139.7l2.1 1.4l-1.7 1.0M252.9 141.1l0.6 2.2l-1.3 -1.0l-2.3 -0.3M278.7 144.6l1.8 -1.0l1.3 -2.2M239.8 157.5l-2.5 1.1l-1.6 1.5l-0.1 2.1M256.0 142.2l1.2 2.1l2.8 -0.2l1.8 -0.6M264.9 166.8l-0.4 2.7l0.5 -2.4M227.7 147.8l0.4 -2.0l1.7 -0.1l0.2 -2.6M230.4 133.1l1.4 1.6l2.3 0.9l1.3 1.1M261.4 156.1l1.9 -1.2l-1.3 1.4M267.7 153.7l-0.7 -2.0l0.5 1.8M213.4 149.8l1.9 -0.6l1.3 -2.1M237.8 139.7l-2.0 0.0l1.8 1.0l1.5 -2.0M229.9 156.7l-2.5 0.1l1.7 -0.6l2.1 -0.2M244.6 167.2l1.9 0.6l-2.0 -1.0M258.6 133.3l0.4 -2.6l-0.3 1.7M266.3 160.9l1.4 -2.4l-2.6 0.3l-1.8 0.3M250.6 139.4l1.8 -0.9l1.3 -1.8M282.2 138.5l0.4 -1.9l-1.8 -1.2M248.5 133.3l-2.4 -0.8l1.0 -1.4M227.1 135.1l1.7 0.7l0.2 -2.3l-1.4 1.5M269.9 160.3l-2.6 -0.9l1.3 1.1l-1.0 1.4M242.6 138.1l0.3 1.8l-0.7 -2.4M248.9 153.3l-0.9 -1.6l1.6 0.4M222.2 139.9l-1.9 -0.4l0.2 -1.6M248.1 156.2l-0.6 -1.9l1.1 1.2M251.4 153.9l0.7 -2.3l-1.7 -1.3M255.7 142.0l1.3 1.2l-1.9 1.7M247.7 146.7l1.6 -1.9l1.6 -0.7M258.8 143.2l-1.7 -0.5l-2.7 0.0l-0.6 -2.6M276.4 150.3l1.9 0.8l1.4 -2.0l-2.1 0.1M259.7 155.5l-0.4 1.6l1.7 -1.3l2.1 -0.2M269.0 153.5l-2.2 0.1l-1.7 2.2M218.0 144.5l-0.4 2.1l0.3 -1.8l0.9 -2.6M284.1 154.2l-0.7 2.6l-1.2 1.9l-0.4 1.7M260.3 154.1l1.4 -2.1l2.0 -0.2l2.4 0.0M238.3 144.0l-1.2 2.0l1.7 -0.3M238.2 160.2l0.5 2.0l1.2 2.0l-1.1 -1.8M256.7 165.7l-0.8 1.9l1.8 0.2M259.1 166.6l-0.6 2.6l1.7 2.2l0.4 1.8M258.4 139.6l-2.0 0.6l0.1 2.1M281.9 153.0l-1.9 -1.1l-2.6 1.0M271.9 151.9l-0.4 -2.0l-2.2 1.3M244.0 151.5l1.0 -2.5l-0.0 -1.8l1.4 -1.1M229.4 139.5l-0.7 1.7l0.3 1.6M233.7 145.4l1.5 0.7l-1.5 -2.0l-1.4 2.1M225.1 149.1l-0.7 -2.3l2.0 -1.2l-0.4 -2.3M255.6 167.9l0.5 -2.5l-1.6 -1.7M283.8 149.6l-1.5 1.8l-1.2 -1.4M266.3 148.1l-1.9 0.3l-1.1 1.4M257.2 149.7l-1.6 -0.4l1.6 0.2M240.0 150.7l1.3 2.0l1.9 -0.6M222.8 153.9l2.1 -1.1l2.5 0.8M244.7 140.4l0.4 2.0l-1.2 -2.4M243.4 154.9l2.4 -0.6l-1.7 0.8l1.3 1.3M237.5 154.2l1.2 -1.6l1.2 -1.6M260.5 163.8l-1.8 -2.0l-2.0 -1.7l-1.3 -1.3M230.0 149.0l1.7 1.8l1.2 1.1M259.4 163.3l-2.6 -0.8l-1.2 -1.8M254.8 156.7l-2.1 1.0l0.7 -1.9M222.9 144.8l2.0 1.0l0.7 1.5l1.9 0.8M280.7 147.5l1.3 1.7l-0.7 1.9l0.4 2.0M289.9 143.5l2.7 0.7l-0.7 -2.4M244.9 135.9l1.8 -1.2l-1.2 -1.9M261.7 152.3l2.2 0.8l-0.0 -1.7l-2.5 -0.6M287.3 151.5l-1.9 1.8l1.6 -1.0M245.4 137.5l0.4 -1.6l2.0 0.1M248.5 158.4l-1.2 1.2l2.1 0.2M263.7 160.9l-0.1 -2.4l-1.4 -0.9l-1.6 -1.9M266.0 149.6l2.1 -1.4l-1.0 -2.2l-0.3 2.3M261.2 151.5l1.1 1.6l-1.1 -1.1M225.3 165.2l-1.7 -1.5l-0.1 -1.7l1.0 -2.2M256.9 140.7l0.2 2.6l1.4 1.8l-1.3 -1.5M257.1 152.6l-1.5 -1.2l-0.8 -2.6M268.5 162.8l2.6 -0.9l1.3 -2.1l-2.1 0.5M278.4 141.6l-0.5 2.6l2.0 -1.0l2.5 0.6M215.6 152.5l1.6 1.8l1.7 1.1M256.2 153.1l-2.1 -1.1l-2.7 -0.2l1.5 -0.6M229.4 145.8l1.3 1.4l0.8 -1.8M253.6 156.6l-1.8 1.8l0.9 2.0l2.1 0.4M290.7 152.6l-2.4 0.1l0.9 -2.2l1.1 2.2M238.8 129.0l1.7 -1.2l0.6 -2.5M269.9 148.8l1.7 1.6l-2.0 1.9l-2.6 0.3M248.0 141.2l-1.9 -1.5l2.3 1.4M263.6 134.0l1.6 0.9l-0.7 1.7M252.0 151.1l1.1 -1.2l1.8 -1.1l0.8 2.2M255.6 161.6l2.3 1.0l1.7 0.3l0.8 -1.6M248.2 150.8l1.9 -1.1l2.2 0.6l-2.1 -1.0M265.9 136.2l-2.4 0.4l-2.3 -0.0l-2.3 -1.5M244.6 150.6l2.2 0.4l1.7 -0.3l-2.4 0.8M267.8 142.9l-2.2 -0.5l-2.3 -0.6M265.0 153.4l0.3 1.9l-2.4 0.1M222.3 136.8l-0.3 1.8l2.1 1.3M223.3 151.2l1.0 2.4l1.2 -1.6M253.8 156.5l1.8 1.8l-1.6 -1.1l-2.6 -0.6M265.3 145.1l0.8 2.6l-1.9 -0.4M269.9 157.3l-1.7 0.2l-1.4 1.4M258.8 154.3l2.0 -0.1l2.2 1.3l1.5 1.3M226.0 153.2l-0.5 1.9l-0.6 1.9M230.8 139.3l-1.7 -1.8l2.1 0.9l0.3 -1.7M243.5 151.2l-1.6 0.1l2.1 -0.3l1.3 -2.5M249.0 147.0l2.0 -0.8l-1.5 2.2M231.4 151.7l-1.4 1.6l-2.1 1.3M413.4 147.4l-2.0 1.7l-2.6 1.0l1.2 1.3M432.1 173.0l1.3 -1.1l-1.3 2.1M420.9 150.5l1.6 -1.7l-1.3 1.3l-1.3 2.2M461.0 175.3l1.7 -1.3l1.7 -1.5l2.2 -1.2M423.4 158.1l2.3 0.6l1.8 0.4M434.7 186.4l1.0 -2.3l-0.3 -2.1l1.7 1.7M433.0 168.9l2.3 1.2l-2.3 -1.2l-2.2 0.5M439.9 143.7l2.4 1.2l-0.5 1.7M405.3 149.0l-1.7 1.1l0.2 -2.6l1.8 -1.1M439.7 161.0l-2.6 0.9l0.4 2.5l-2.0 1.7M470.1 157.6l0.4 -2.6l1.7 1.2M436.9 160.7l-1.4 1.1l2.4 0.6M433.1 180.8l-0.3 1.7l0.4 -2.0M436.4 173.2l-2.5 -0.8l0.8 1.9M459.1 154.6l-0.4 2.0l2.0 -0.9M445.4 156.6l-1.7 0.6l-1.3 1.7l1.7 -1.3M432.5 161.4l0.5 1.6l-0.4 2.2l2.8 0.0M430.5 155.8l-0.0 2.4l2.4 0.0l-2.6 0.8M464.9 157.6l-1.2 -1.8l-1.2 -2.2l1.7 1.1M445.8 175.1l-2.5 0.3l0.2 2.7l-0.3 -2.3M444.0 169.2l-0.9 -1.3l1.7 -1.4M461.1 169.8l2.6 -0.8l0.3 -2.3M468.6 147.2l-0.6 1.6l-1.7 -0.1l-2.2 0.3M473.9 160.2l1.4 1.5l1.9 1.4l-2.7 -0.4M390.8 154.3l-2.7 -0.1l-0.7 -2.3l1.9 -0.2M398.7 159.8l-2.4 1.3l1.1 -1.5M396.6 151.0l1.2 1.3l-2.5 0.3l-1.6 -0.2M436.6 161.4l-1.1 -2.5l-1.0 -2.6l2.5 -0.9M412.1 157.9l0.9 2.3l0.1 1.7l-2.1 1.8M427.8 160.7l-0.5 2.4l-0.3 -2.2l0.4 -2.6M429.8 158.0l-0.8 -2.1l2.8 0.4M449.7 145.6l0.4 2.4l1.1 -1.4M418.9 161.2l-0.3 -2.4l0.1 -2.7l-0.3 2.3M421.0 155.0l-1.6 0.1l1.7 1.6l1.0 1.5M420.2 161.9l1.9 1.3l1.7 1.3M458.0 158.3l-1.7 -0.6l0.4 -1.6l1.7 -0.4M424.0 163.2l-0.8 -2.0l-2.2 0.9l-2.0 0.1M424.6 142.6l1.2 -1.7l-2.2 1.3l-0.7 2.3M436.0 156.6l-1.1 1.9l0.1 -2.4M417.1 165.7l2.1 -0.9l1.8 -0.1M431.0 154.9l1.8 -0.2l0.7 2.1l-1.0 2.1M381.1 144.5l0.2 -1.9l-1.8 2.0M430.3 158.9l0.6 -2.2l1.2 2.0M439.8 162.0l1.3 1.4l0.8 1.8M419.2 148.6l-1.8 -2.0l-1.9 0.6M405.4 158.7l-1.3 1.0l-1.4 0.9M404.2 166.8l2.4 1.4l-1.3 -2.1l2.3 -0.3M400.2 143.9l-1.5 -1.3l-1.3 2.4M425.6 144.0l0.8 1.8l0.5 -1.8M466.6 151.1l-1.0 1.4l0.7 -2.2l0.1 -1.8M428.8 157.8l-0.1 2.4l1.8 -1.7l1.6 1.8M411.6 144.1l-1.1 2.5l-1.1 -1.9l1.6 -0.8M388.1 167.8l-0.9 -2.6l0.6 -2.0M453.0 179.5l-1.9 -0.5l-1.9 -0.3M397.1 165.0l-0.5 -2.4l-0.5 1.6M429.7 167.6l-1.7 -1.0l2.5 0.4l-1.1 -2.4M418.4 166.5l1.6 1.9l1.9 -0.3l1.0 2.1M450.2 165.5l-1.6 1.6l-0.4 -2.2M462.5 158.4l0.5 2.6l-2.4 -0.7M464.7 153.7l-0.7 -2.3l-2.3 1.3l-0.6 2.7M430.3 152.8l2.5 0.3l2.1 -1.0M430.0 169.3l2.0 0.2l-1.9 1.0l1.8 0.9M446.2 160.9l1.2 1.7l1.7 -0.8l1.6 -0.1M468.3 146.7l2.8 -0.1l-2.6 -0.0M411.7 173.6l-1.8 -0.7l-1.6 0.3M437.4 141.3l-1.0 -2.3l-1.2 2.3l2.1 -1.1M437.7 149.3l-2.6 -0.5l2.5 -0.8M463.2 170.3l1.7 1.3l-2.0 -0.6M417.7 171.6l1.7 2.2l-0.5 2.7M411.2 168.3l-1.3 1.0l-0.6 -1.8l1.6 0.1M443.0 158.9l2.2 0.8l2.3 -0.7M398.0 157.5l0.5 -1.9l1.5 1.3l-1.3 -1.4M378.5 154.9l-2.4 -0.7l-1.8 1.0l-2.1 -1.3M388.4 170.9l0.3 2.7l1.1 -1.3M408.3 138.1l1.4 1.6l0.8 2.0M443.1 163.3l0.9 -2.0l-1.4 -1.7l2.2 1.7M418.6 179.1l-2.6 0.9l-1.0 -1.9M447.4 160.6l-1.8 0.4l-2.1 -1.1M440.8 168.6l-0.3 -2.0l1.9 0.7l2.3 0.4M416.7 147.3l-1.4 -2.4l-2.1 -0.9l-1.5 -0.7M429.1 145.0l-2.0 -0.2l0.0 1.9l-1.7 0.7M430.2 166.9l-0.2 2.5l-2.3 -1.4M464.0 162.4l2.2 -0.7l1.8 1.5M434.4 166.7l-1.4 2.4l2.1 1.0M461.5 157.1l-0.7 2.4l1.3 -2.4M402.4 152.9l2.4 -1.2l-1.8 -0.1l-1.8 -0.6M401.7 152.0l-0.6 -2.4l2.3 0.8M427.3 163.1l0.8 1.5l1.2 -1.3l1.7 0.8M433.5 160.6l-2.0 1.0l1.1 2.5M422.0 163.8l-1.6 -0.9l-0.0 -1.6M449.9 166.8l1.8 1.8l0.6 -2.7l-1.9 0.9M463.7 157.4l-2.1 1.1l0.0 -1.8l-2.4 -1.0M424.3 175.3l0.5 -2.6l1.2 -2.2M434.5 163.7l-1.3 -2.1l-1.5 0.9l-1.4 1.0M422.4 168.7l-2.4 -0.4l-0.3 2.5M420.9 150.9l-0.7 -1.6l1.6 1.8M428.6 156.0l-1.8 1.5l1.7 0.7M448.8 156.6l1.3 1.7l-0.8 -1.7l-2.2 -0.1M432.8 158.0l-1.5 1.3l2.1 0.1M437.7 154.3l2.3 0.5l-0.2 1.8l-1.8 0.4M454.9 147.2l-2.2 1.0l-1.9 0.2l0.0 -1.8M421.3 153.6l1.4 -1.2l1.0 2.1M444.6 160.4l2.2 -0.4l2.5 0.2M440.9 157.0l-0.0 -1.7l-2.1 -0.2M413.8 149.9l1.7 -1.0l0.2 2.3l2.0 0.2M422.5 155.2l-0.7 2.3l1.2 -2.2M436.3 163.2l2.0 -1.0l2.4 0.3M452.0 159.0l1.8 -1.1l1.6 1.5l1.1 1.6M413.2 150.5l0.5 2.7l0.5 -1.8M431.4 163.2l2.0 -1.8l-1.8 1.0l-0.5 1.7M473.8 161.6l-0.9 1.9l1.5 -1.8l2.3 0.6M469.5 176.9l-1.2 1.2l1.9 1.4M406.4 170.9l-0.5 -2.1l-1.8 -1.3l2.6 1.0M455.6 172.1l2.1 1.1l-1.3 1.1M429.8 168.6l-1.4 1.0l-1.6 -1.3M419.2 159.4l1.5 -1.5l0.7 1.5l-1.9 -0.8M430.4 176.0l-0.7 1.8l-1.8 -2.0M425.2 168.6l1.0 2.5l-0.5 2.1l2.2 1.1M361.2 203.6l-1.6 0.7l-1.8 -2.1M364.5 215.9l1.0 -1.9l-2.4 -1.1l0.3 -1.6M346.6 215.7l1.8 0.9l1.8 0.0l-1.9 0.2M346.6 202.1l-0.6 1.7l-0.8 -1.5l1.4 1.3M364.1 207.9l2.0 -0.6l0.1 2.4l-1.8 0.2M341.6 195.3l-0.6 2.4l0.5 -2.1M360.4 212.2l-1.1 1.4l-0.2 2.4l1.9 -1.8M351.4 211.7l1.5 2.0l0.9 1.8l1.2 2.4M331.4 213.5l1.3 -2.3l1.3 0.9M367.8 212.5l0.2 -1.9l-1.1 -1.5l0.2 2.1M348.5 210.7l2.4 -1.1l0.9 2.3M362.4 219.6l2.7 -0.2l0.9 -1.7M365.2 212.3l-1.5 1.0l-1.8 -1.2l1.9 1.0M346.4 217.8l-2.1 -0.7l0.3 2.3l2.0 -1.8M382.0 205.6l1.5 -1.7l-0.7 1.9l2.1 -1.5M372.0 212.8l0.5 2.3l-2.3 0.5M359.1 198.4l-2.3 -1.1l-1.6 -1.2M392.9 193.2l-0.9 1.7l0.1 -1.6l-1.3 2.2M365.7 206.6l-0.9 2.5l0.9 1.7M381.5 206.2l0.5 -2.3l-1.4 0.9M360.7 215.5l1.9 -1.0l-1.4 -1.2l2.4 -0.2M368.5 205.3l1.6 1.7l2.3 -1.5M372.8 213.5l1.1 -1.4l0.1 2.5M378.5 205.4l-0.4 -2.3l1.1 2.1M359.1 206.5l0.6 -2.1l1.3 -1.2l1.6 -1.8M344.3 212.3l0.5 -2.2l0.6 2.1M367.7 222.8l-0.3 1.7l-2.1 1.2M353.9 213.5l-1.5 -0.7l1.1 -1.9M381.4 209.0l-0.9 -1.5l-1.1 -2.2l-2.1 -0.1M361.2 211.2l2.2 -1.7l-0.3 2.7l1.2 1.9M347.1 201.1l-2.5 0.3l-1.9 -0.8M380.9 211.6l1.1 1.7l2.3 -0.5M358.6 198.8l1.7 -0.0l2.5 0.8M362.2 220.5l-1.0 2.4l-0.7 -1.9M338.5 202.0l0.5 -2.2l-1.8 -0.4M380.7 222.8l-1.1 1.8l1.9 -1.3M389.0 205.0l0.2 -2.0l-0.4 -2.2l1.4 -0.9M371.2 203.3l-2.2 -0.9l-1.3 1.9l1.7 -0.5M369.7 206.7l-0.8 -1.8l2.2 1.3M363.7 222.0l-1.8 -0.4l-0.7 1.8M366.3 207.8l2.1 -0.9l-2.4 1.1l-1.6 0.4M361.0 212.4l1.9 0.9l1.4 1.7M350.4 211.9l1.1 2.2l1.8 -1.5M371.2 224.0l0.1 -1.8l-0.8 2.1M321.5 199.3l2.0 -1.1l1.1 1.3l-2.4 -1.2M336.9 217.8l0.8 -1.6l-0.0 -1.7l-1.7 0.6M405.5 211.7l-1.4 -1.8l-2.7 0.2M362.3 220.2l1.9 0.4l1.7 1.3M314.5 208.4l0.1 -2.0l-1.0 2.0M301.9 211.4l0.4 1.9l2.5 -0.2M350.5 205.7l1.7 2.1l0.7 1.6l-2.2 -0.2M366.3 204.8l1.0 1.3l-1.7 1.7l2.6 -0.4M380.7 210.0l1.5 2.1l-0.8 -2.6M367.1 232.7l1.5 0.8l-2.3 -0.0M351.6 218.3l1.9 0.9l1.3 -1.4M344.6 221.2l-0.2 1.6l2.6 0.2M378.0 211.3l-1.5 -1.0l0.6 -2.3M378.5 224.4l1.3 -1.1l0.2 2.5M385.6 210.0l0.2 -1.6l-1.6 0.4l0.8 -2.0M359.0 219.9l-0.6 2.1l-2.1 -1.7M332.6 204.6l0.4 -2.2l-1.5 2.4l-0.1 -2.8M369.0 215.1l0.5 1.9l2.5 0.5l2.0 -0.7M394.6 225.7l1.0 -1.7l2.6 -0.0l0.7 -2.3M366.0 213.9l-2.2 0.5l-1.2 -2.2l-0.9 2.4M335.5 208.3l-2.2 -1.5l1.4 -0.8M364.9 208.0l2.2 0.4l-1.9 1.4l0.6 1.5M361.1 215.4l2.0 1.2l0.9 1.3M342.3 204.9l1.2 -1.9l1.4 -1.9l1.2 -1.2M327.0 220.2l-1.4 -1.0l-0.2 2.5M340.4 194.8l-1.9 -0.1l2.0 -0.7l-2.1 0.7M374.3 208.1l-2.1 -0.4l-2.3 1.1M377.9 206.7l-1.7 0.9l-1.0 -2.3l-2.0 0.3M399.4 216.4l-1.3 1.8l0.8 -2.5M362.8 211.0l-0.9 -2.1l-2.2 -0.0M356.2 217.2l1.2 -1.9l0.8 1.5l1.5 1.3M397.1 206.2l-0.9 1.6l-0.7 2.6l-2.7 0.1M339.8 215.3l-1.6 2.1l1.7 -1.2M379.8 196.7l0.8 1.6l-2.6 0.4M347.2 201.1l1.3 -2.2l1.6 -1.9M370.4 214.5l-0.9 1.8l1.8 0.4l1.2 -1.7M346.4 200.0l-0.8 -1.8l-1.6 0.7M372.7 191.7l-0.0 1.9l-1.7 -1.9M371.9 208.6l-1.6 0.6l1.0 1.6l2.0 -0.3M395.5 218.8l0.3 -2.0l2.0 -1.8l-0.4 -2.1M349.3 207.6l1.7 1.4l2.4 1.3M354.9 203.5l-1.1 2.1l2.2 0.8M361.5 218.6l-1.2 1.6l0.7 -2.6M332.1 208.0l0.1 -2.8l2.0 -1.7M387.6 216.6l-2.4 -1.0l0.7 -1.9l1.9 -2.0M345.0 202.8l2.0 0.7l1.5 1.1M202.4 163.1l2.6 -0.1l0.7 2.0l1.9 -0.1M232.0 175.5l-2.5 0.6l-1.3 2.1l-0.3 -2.4M204.7 164.4l-1.7 -0.3l-0.7 1.7M209.3 171.2l-2.2 0.2l-1.6 0.5l2.0 -1.5M240.4 171.6l1.3 1.0l1.3 1.2l0.2 -2.3M216.7 182.9l-0.6 -2.1l2.1 0.4M224.9 173.7l-2.1 1.8l-1.3 -1.0l-2.1 0.9M182.8 185.4l-1.8 -0.4l-0.9 -2.0l-1.4 -2.4M223.8 171.8l-1.0 2.3l0.5 2.0l2.4 0.9M213.7 167.9l-2.6 -1.1l1.4 1.0M201.7 164.1l1.0 2.3l0.8 -2.0l0.4 -1.9M222.4 178.8l1.3 -1.4l1.2 -2.0M217.6 180.8l1.6 -1.9l-1.4 1.1l-1.7 -0.2M222.9 175.9l0.5 -1.6l-0.9 2.0M202.0 179.4l-0.6 2.2l-0.2 2.4l-2.3 -1.5M232.5 179.7l1.3 1.8l-1.7 -0.2M233.4 171.5l-1.2 1.2l2.5 0.4M200.6 184.2l-0.1 1.9l-1.8 1.1M206.4 176.8l1.1 2.1l-1.7 -2.0l1.0 -2.3M212.2 175.2l-0.3 -2.3l2.4 1.3M211.0 171.0l1.5 0.9l1.8 -1.2M188.7 189.0l-1.6 -1.9l-1.7 -0.0l-0.6 1.9M218.0 160.8l2.4 0.6l-0.7 -2.6l-1.0 1.4M201.6 166.7l-0.6 2.5l2.2 -1.2M204.1 156.2l1.7 0.9l0.4 -2.3l0.5 2.4M223.5 187.1l2.7 0.5l-2.5 -0.0l1.0 1.4M211.4 180.5l0.6 -2.5l-1.9 1.4M223.8 165.8l-1.8 1.4l-1.7 0.6M232.9 162.6l-2.4 1.0l1.3 1.5l-2.0 -1.8M206.5 172.4l-1.7 -1.0l1.6 -0.4M233.5 175.9l1.7 0.5l-2.3 0.5M213.2 169.1l0.9 1.5l-0.8 -2.6M216.3 175.3l2.0 1.3l-0.6 1.6l2.2 0.8M225.7 185.3l-0.3 -1.8l-1.9 1.2M225.8 175.1l0.6 2.5l-1.5 -0.5l-0.6 -1.5M212.8 186.8l2.3 -0.7l0.3 2.1M218.0 174.9l1.4 2.3l1.5 1.9l-2.6 -0.1M241.4 186.5l0.4 1.6l2.2 -1.3M223.4 174.2l-1.2 -2.2l-2.3 -1.3l0.8 -1.7M205.7 182.8l-1.8 1.0l1.8 0.7l0.9 2.1M208.3 182.1l-2.5 -0.4l-1.4 1.9l-0.4 2.4M203.5 175.8l-0.0 -1.8l-0.7 2.5M220.9 176.1l-2.3 0.6l0.9 -2.5M218.4 177.8l1.9 1.6l-0.5 2.2l-0.0 -2.1M198.5 166.9l2.4 0.8l0.4 2.1M212.8 188.2l1.8 1.6l-2.1 1.8l0.3 2.3M213.2 168.2l1.7 1.4l1.2 2.2l0.9 -1.3M205.3 175.2l0.6 2.3l-1.7 -0.6l-2.5 1.1M232.3 170.8l2.3 -0.4l-2.3 1.3l2.3 0.2M223.2 176.4l1.5 1.8l1.5 0.8M209.8 168.1l2.4 0.4l-2.3 -0.7M212.8 169.7l0.4 -1.6l-0.3 2.4M222.9 162.1l0.5 -1.9l2.2 -0.1M231.5 180.6l-2.2 -1.7l2.2 1.4l1.6 0.1M223.5 186.0l1.2 -2.1l-2.5 -0.9l0.3 -2.5M223.8 162.5l-1.6 0.4l-0.5 2.7M215.8 178.3l1.1 2.1l2.3 0.8l0.5 -2.4M205.0 166.7l0.4 -1.8l-2.2 0.4l-0.5 2.7M221.3 178.7l-1.5 -0.6l-1.0 2.2M208.8 173.2l-0.4 -2.2l0.7 -2.5l2.1 -0.7M207.6 170.8l0.9 -1.7l1.6 -0.6l-1.6 0.5M214.2 182.9l-1.1 1.7l1.5 -2.1M191.4 172.5l-0.8 2.3l1.2 1.3l-0.1 2.2M238.6 177.3l0.6 1.8l-2.4 0.1l-2.7 0.3M217.3 181.1l0.4 2.6l-1.9 -1.6l-2.0 0.4M200.3 166.2l1.3 -2.3l-1.9 0.1l-1.8 1.4M190.7 164.3l0.7 -1.6l-2.1 0.1l0.9 -1.9M218.6 181.2l1.1 2.3l0.8 1.5M208.9 170.0l2.7 0.6l1.9 1.8l1.0 -2.0M220.9 179.5l0.9 1.4l0.9 -1.6M218.8 161.1l1.3 2.4l-1.1 2.4M207.0 156.5l0.6 2.3l2.0 1.4l-1.6 -0.9M218.6 168.8l-1.6 -1.7l1.9 -1.7M205.4 186.0l-1.7 1.7l-2.1 -0.9l1.8 0.1M234.3 178.5l-1.9 0.6l-1.2 -1.1M219.0 176.3l-1.3 1.7l-1.2 -2.4l1.5 -2.2M206.4 174.6l-0.6 -2.0l-0.3 -2.6M242.9 168.6l-1.1 -1.3l0.8 -1.7l1.8 0.7M205.3 176.2l-1.6 -1.1l-1.4 0.8M228.0 181.1l-2.0 -0.1l-1.1 -1.8M200.9 174.1l-1.0 -1.3l0.3 -2.5M211.1 166.0l1.4 1.0l-1.5 -2.3M216.1 171.5l1.5 -1.8l1.7 -0.5M228.4 178.2l-0.7 -1.9l-0.2 2.5M203.6 175.6l-2.6 0.5l1.5 0.8l0.6 1.5M209.8 170.4l-0.6 2.3l0.1 2.2l-1.6 -2.2M207.9 182.8l1.1 2.2l-0.6 2.6M209.0 162.5l-1.5 1.9l-1.5 -2.3M203.7 180.9l1.4 1.0l-2.0 -0.9l1.6 1.6M246.4 167.3l-2.1 0.3l-1.2 2.0M294.8 197.1l-1.4 2.0l-2.3 -0.5l-1.4 1.0M279.5 203.5l-0.6 1.6l-1.2 1.4M299.3 202.4l0.5 -1.6l0.5 -2.3M332.7 197.7l-1.9 1.3l-0.5 1.7l-1.2 2.0M311.6 207.3l-0.0 -2.5l-1.2 1.1l1.3 -1.3M290.7 194.8l-1.8 1.0l-2.0 -0.8M322.7 206.3l1.4 2.1l-0.2 -2.3M302.1 190.4l-0.4 -2.2l0.7 1.5M312.9 204.6l2.5 -0.3l1.6 -0.5M332.1 212.9l-0.3 1.6l1.1 -2.4l0.5 -2.2M311.7 202.3l0.1 2.1l-1.3 1.3M300.9 195.2l-1.8 -1.3l1.3 -1.0M304.5 202.1l-1.8 0.1l-1.6 -0.4M309.5 209.5l-0.2 1.6l1.7 -1.8l-1.3 2.2M304.6 195.3l-2.4 -0.8l0.6 -1.8l-1.6 -0.6M311.8 213.6l-1.2 -1.3l-1.0 -1.5M287.8 203.7l-0.0 1.6l1.0 1.6l1.4 1.2M308.0 204.7l0.6 2.3l0.2 2.2l1.5 1.0M307.4 199.2l1.6 1.0l-0.7 2.0M298.5 214.8l-1.3 -2.4l-0.7 -1.8l1.8 -0.8M325.3 187.7l2.3 1.3l2.1 -0.2l-1.0 -2.3M263.0 203.8l0.0 -2.7l2.3 0.9l1.0 -1.2M290.2 195.5l-0.5 -1.8l1.3 -1.8l1.6 1.4M276.8 203.1l-1.3 1.6l-2.1 -0.2M299.2 195.3l2.1 1.1l-2.0 -0.9l-0.7 1.9M313.1 221.3l2.0 -1.7l1.8 -1.6l1.1 -2.2M321.5 210.3l-0.8 -1.4l-1.6 1.8l-0.5 2.7M294.0 205.8l0.0 -1.8l1.0 -1.7M299.5 210.1l-0.8 1.4l-2.3 1.1M308.5 199.7l1.7 0.6l-0.4 -2.0l1.2 -1.0M308.1 193.7l-1.6 1.9l-0.7 2.6M311.6 213.2l-1.1 -2.3l-0.9 -1.3M294.7 204.9l-2.3 -1.6l0.7 -1.5l-1.8 -0.3M275.7 208.2l-0.3 1.7l1.8 0.4l1.5 0.5M312.8 191.1l2.6 -0.4l-2.1 -1.1l-1.8 -0.0M325.4 201.0l1.8 1.4l1.7 0.2l-1.6 -1.3M274.8 188.0l-1.9 -1.6l1.3 -1.8M312.7 197.6l-1.7 1.1l-0.1 2.1l2.5 -1.2M316.1 186.4l1.1 2.4l1.1 1.5l-1.2 2.2M298.6 208.5l2.5 -0.1l0.5 -2.4M290.1 206.0l-2.7 -0.5l-0.2 -2.2M294.8 203.0l1.1 -2.0l-2.4 -0.8l0.4 2.1M304.7 219.5l0.6 -1.6l1.9 0.0l1.1 -1.3M282.0 206.8l-1.2 -1.4l-1.8 -0.4l2.0 -0.1M319.1 190.2l-0.3 -1.7l0.2 1.9M301.2 220.2l0.6 -1.9l1.7 0.3M315.3 174.1l1.8 -0.6l0.7 -2.4l-1.9 0.5M296.5 185.1l1.5 -2.3l-0.6 -1.6l1.1 -2.4M304.4 193.7l1.6 0.6l2.4 -0.2l0.0 2.2M291.8 192.7l1.4 2.4l1.6 -1.8M304.3 195.9l0.2 2.8l-2.0 -1.1M286.8 198.0l-2.1 -1.0l-2.6 0.5l-2.6 0.5M305.9 192.5l-0.8 -2.6l0.2 -1.8l2.4 0.9M316.2 185.5l1.8 -1.8l-1.5 1.8M305.9 196.6l2.3 -0.5l2.1 -0.9l1.5 1.2M322.9 194.4l-0.3 1.6l-1.4 -0.8M290.3 188.3l2.0 -0.6l1.9 0.2l0.5 1.5M328.9 205.4l-2.6 0.3l0.9 1.4M284.2 197.1l-0.1 -2.6l-1.7 -0.2l0.9 2.3M286.0 213.3l-0.9 2.0l1.7 1.6M306.1 182.2l-1.1 1.4l-2.3 -0.7l2.1 0.5M303.1 208.0l-0.2 -1.9l-1.2 -2.4M300.0 204.1l-1.3 1.8l2.5 -1.0l0.5 -1.7M298.4 201.8l-1.5 1.7l2.3 -0.5M303.1 193.8l-1.2 -2.2l-1.1 -1.4l1.1 2.3M305.1 201.4l1.9 0.3l-0.5 1.6l-1.5 -2.3M299.4 194.0l1.0 2.5l-1.0 1.7M285.2 202.2l-2.7 -0.3l-0.4 1.6l-0.4 -1.7M312.0 178.9l-1.0 -1.7l1.4 -1.9M292.2 211.8l-1.5 -1.7l2.7 -0.6l-1.6 2.0M313.3 193.8l-1.6 1.0l-0.5 -1.8l-0.6 -2.1M319.7 191.4l-1.5 1.5l0.4 -2.4l-1.5 -1.9M288.5 217.0l-1.8 -2.0l1.8 0.7l1.7 1.5M293.6 198.1l1.5 2.1l-1.8 1.3l-2.2 -1.6M276.0 191.2l-2.1 -1.1l-0.7 1.7l-1.8 0.5M282.9 198.8l-1.5 -1.7l-1.3 -2.3M273.2 209.3l-0.1 2.1l1.9 1.2l-0.6 1.5M294.8 194.7l1.3 0.9l2.6 -0.9M290.8 206.5l-2.2 -1.7l1.5 1.6l-1.1 -1.5M322.4 196.4l-2.0 1.1l1.3 1.8l1.3 -1.2M536.5 256.7l-0.3 2.7l2.6 0.4M533.7 247.2l-2.1 1.8l-2.4 -1.1l0.2 1.9M504.8 249.9l1.6 0.7l-0.8 1.5M515.8 246.4l1.0 -1.5l2.6 -1.0l-1.9 1.2M500.8 242.9l-1.3 -1.5l1.1 -1.8M522.4 238.2l-0.8 -2.7l2.0 0.2l-2.1 -1.7M523.0 257.2l2.6 -0.7l1.6 1.5l-0.8 2.0M522.4 240.0l0.9 -1.4l0.8 -1.4M544.4 229.3l-1.3 -1.5l-0.9 -1.8l-2.5 -1.3M510.6 248.0l1.7 -0.3l-2.4 1.1l2.5 0.6M514.0 228.3l-2.1 -0.8l-2.4 -0.2l-0.4 -2.1M522.7 251.1l2.6 -0.1l1.6 0.7l-1.2 -1.6M511.9 255.7l-0.8 2.3l-0.5 2.0l0.6 -2.6M525.1 253.7l0.8 2.4l-2.3 1.5M504.4 245.0l1.4 0.9l-0.8 2.2l-1.6 -1.1M536.4 259.7l-1.0 1.6l2.7 -0.1M533.5 245.0l1.5 -2.2l-2.5 1.2l0.5 -1.9M521.9 240.4l-0.4 -1.6l2.3 -0.1M531.2 239.9l-0.7 -2.2l1.0 -2.0M521.3 229.9l2.3 0.9l1.5 -1.3l0.5 2.7M504.6 258.0l-0.9 -2.0l0.3 -1.9l-1.6 -1.6M520.6 246.6l0.5 -2.4l-0.9 1.4l-1.7 2.0M497.5 244.8l-0.7 -1.4l0.3 -2.0M541.2 234.1l-1.6 -1.2l-0.3 -2.2l-2.4 1.3M495.7 243.8l-1.9 -0.3l1.9 -0.0l-1.6 2.1M514.6 243.5l0.4 2.0l-2.1 -0.4l-1.8 2.1M507.1 235.1l0.8 -2.7l2.1 0.3l0.4 2.6M507.3 249.7l0.0 1.8l-1.6 -1.8M519.5 251.0l-2.5 0.8l0.6 2.2M508.9 249.3l0.3 -1.8l-1.9 0.8M515.5 245.7l-0.9 1.8l-1.8 1.0l-0.9 -2.6M529.6 245.2l2.0 0.9l-2.4 -1.1l2.2 1.4M516.4 232.8l1.6 0.3l1.4 -0.9l-2.0 -1.7M520.7 250.7l0.7 -2.3l2.6 0.3M513.5 244.5l2.0 -0.3l-2.4 -0.5l2.4 0.0M501.9 235.2l-1.9 0.2l-1.8 1.4M524.1 254.5l2.1 -1.3l-0.8 -1.5l-1.8 -1.2M516.8 232.7l-1.6 1.3l-1.7 -1.6M516.1 233.5l-1.0 2.6l-0.2 2.3M517.2 259.2l1.7 -0.2l1.9 -0.6l-2.0 -0.1M523.1 243.9l-1.0 -1.3l-1.3 1.4l-2.2 -1.4M530.7 242.2l1.8 1.0l2.2 -1.0l1.7 -1.0M523.4 246.5l-2.3 0.9l1.4 2.0M524.6 234.2l-0.6 -1.5l2.7 0.1M527.3 251.5l0.0 -2.4l1.7 0.1l-1.4 1.5M496.5 225.1l2.7 0.8l1.2 2.0l-0.8 2.0M510.8 256.0l1.3 1.4l-1.8 0.9l-1.5 -2.2M520.2 250.0l-1.5 -1.7l-1.0 -1.7M525.7 251.5l-1.4 1.0l1.0 -1.8M513.4 240.7l-1.8 -1.2l-0.9 -1.4M270.5 215.9l-0.8 -1.9l-2.2 -0.4l2.1 -0.8M199.1 211.1l-0.6 1.7l0.7 -2.4M354.6 157.6l1.8 0.9l-2.3 0.2M419.7 147.5l-2.3 1.3l-1.7 -0.2M317.8 187.3l0.5 1.7l1.6 0.2M329.6 186.9l-2.3 -1.4l-2.2 0.3l-0.9 -2.6M473.0 194.5l-2.0 -0.4l1.4 1.1l0.7 2.0M558.7 258.4l1.8 1.3l1.9 -1.9M291.4 239.7l-2.2 0.4l2.5 1.2M596.9 196.3l1.0 -1.8l-1.7 -1.5l0.4 1.6M333.6 176.7l-1.6 -0.9l-2.4 -0.6l-1.7 1.9M399.3 245.9l2.1 0.5l-0.1 -2.0l-0.2 -1.7M496.9 300.4l1.2 1.9l-1.1 -2.0l-2.4 -0.2M178.5 189.5l2.4 -0.5l-0.7 -2.0M559.9 270.3l2.1 -0.4l-1.5 0.6l0.1 1.9M418.6 248.7l-0.3 -2.5l-2.2 0.3l1.4 0.9M396.7 196.5l-0.0 -2.5l-0.5 1.6l1.2 1.7M584.7 272.1l-1.0 2.0l-0.0 2.8l0.7 -2.0M359.0 214.2l-0.2 1.9l-0.0 1.9M288.9 221.1l0.5 2.5l1.3 1.2l-0.5 -2.1M601.9 241.4l1.8 1.8l-2.0 0.1M357.5 183.2l1.2 -2.2l-0.4 -2.4M309.0 235.7l-1.5 -1.0l0.1 1.6l-0.4 2.1M524.4 169.5l-1.2 -2.4l-1.5 -0.9M300.1 193.7l-0.3 2.5l1.3 1.3M391.0 172.4l1.2 1.4l1.6 1.2l-2.0 -0.8M279.5 276.1l-2.6 0.2l-2.0 1.3M186.5 251.1l1.7 1.5l-2.4 0.8l-0.3 -1.9M496.0 256.8l-1.9 0.7l-0.0 2.7M591.6 299.9l-1.9 -0.2l-1.6 -0.9l0.4 -2.6M334.4 156.7l1.8 -0.6l-1.2 1.7l2.0 1.0M503.9 283.1l-1.7 -0.1l1.4 1.1M308.3 137.7l-0.5 -2.2l-0.8 2.1M571.4 263.2l1.3 -1.2l-1.8 -0.5M482.5 239.7l1.7 -0.2l-1.8 2.1M197.7 235.8l-1.6 0.5l-1.5 -0.6M334.6 194.3l-0.3 -1.9l1.8 -1.5l1.6 2.2M236.8 164.2l-2.2 1.3l-1.2 2.5l2.1 -0.5M481.2 153.3l2.1 0.3l-2.6 0.7M289.5 260.1l0.1 1.6l-0.2 -2.5M131.8 220.7l-0.2 2.7l1.3 1.6l-2.3 0.5M337.4 270.3l-2.2 -1.3l0.0 -2.0M410.9 205.8l1.0 1.6l-0.0 2.1M575.9 234.2l2.0 0.9l-0.3 2.0l1.1 -1.5M282.0 195.2l-1.8 0.1l1.6 1.1l0.2 2.0M609.4 283.3l0.8 2.0l-2.2 0.3l-2.5 -0.1M594.0 226.6l-2.1 -1.5l-1.0 -1.3M307.0 251.2l-1.2 1.8l0.3 -1.7l1.2 1.4M524.4 217.8l-2.0 -1.0l0.2 -2.7l1.9 -0.2M323.6 247.2l2.1 -0.1l2.4 0.0M407.7 258.4l1.4 -2.0l1.2 1.2M616.0 296.5l1.3 -1.9l2.4 -1.1l1.5 1.1M432.2 180.1l0.4 -2.6l-2.1 -0.4M303.4 171.1l2.2 -0.4l-0.2 1.8l1.7 1.4M588.0 270.5l-2.5 1.2l2.1 -0.4l-1.7 2.0M525.6 276.0l1.1 -2.5l1.6 -1.6l1.0 1.3M635.0 250.7l2.2 1.0l-1.1 1.3l-2.1 1.9M271.9 263.9l-2.6 0.0l-0.0 2.3l-1.2 -2.2M241.6 236.1l-1.8 0.1l0.5 2.2M363.9 172.3l0.8 -1.7l-1.5 1.3M602.3 263.8l0.9 2.6l-1.2 -2.5M409.6 292.4l2.1 -0.2l-1.9 1.1l-0.9 -1.9M416.7 201.2l1.6 -0.1l-2.2 -0.1l-2.4 1.1M249.4 141.6l2.7 -0.2l-0.6 -1.9l-1.7 0.2M570.5 203.9l-2.2 0.1l-0.2 -2.0l-1.6 1.8M492.2 168.8l-2.1 -1.1l1.5 -1.9l2.0 -1.0M494.4 243.3l2.1 -0.9l0.1 1.9l-1.6 -1.7M152.7 213.8l2.0 -0.8l0.4 -2.1M489.8 160.8l-1.2 -1.5l-1.8 -1.4M453.3 172.8l1.7 -0.3l-1.9 0.9M330.4 228.6l-2.2 1.4l2.5 -0.4M536.6 264.1l0.1 -2.7l2.1 -0.6l1.3 1.2M346.4 284.1l2.3 0.2l-1.6 1.6M355.3 142.5l1.7 -1.2l-2.5 -1.2M504.5 147.5l2.2 -1.7l-2.4 -0.3l2.2 -1.4M633.7 222.8l-0.5 2.2l-1.8 1.9M499.8 144.9l-0.1 1.7l0.6 2.2M443.9 191.5l-2.6 -0.2l-1.4 1.7M350.9 209.1l-1.6 -1.7l-0.1 -2.1l1.3 -2.3M488.1 258.5l2.6 0.5l2.5 -0.2l-1.5 1.9M200.4 215.0l1.0 1.6l0.2 -2.4M281.6 151.1l-0.6 -2.2l-2.3 1.1l-1.1 1.4M602.2 210.0l-1.2 2.5l-0.9 -2.0l2.1 1.3M524.4 167.5l0.2 -2.4l1.9 -0.6M592.8 162.0l-2.2 1.0l-2.2 -0.4M589.5 236.4l-1.8 -0.6l-2.6 0.8M624.4 266.5l-1.8 1.7l0.2 1.6M440.6 221.3l-2.3 1.3l-1.5 -2.2l0.4 -2.7M561.6 204.3l2.6 0.5l1.6 0.2l2.1 0.9M535.0 249.6l-0.5 1.8l-1.7 1.6M502.2 164.1l0.3 -2.3l-1.8 -0.3M350.2 276.4l-1.6 0.4l-1.5 -1.5l-1.4 1.3M619.5 295.4l1.1 1.2l0.1 1.8l-1.8 -0.4M186.7 249.9l1.2 1.3l1.5 -1.8M399.2 197.0l-0.6 -1.9l-1.4 -0.9l-2.4 0.9M353.9 213.7l1.7 -2.1l1.1 2.4l1.8 -1.3M244.6 189.9l1.8 -1.8l1.9 -2.0l-1.6 1.5M399.2 264.8l-0.9 -2.6l-2.2 1.7l-1.6 -1.0M418.3 150.8l1.8 -1.8l-0.2 2.3M578.5 189.9l-1.7 -0.5l-0.3 1.6M175.8 230.6l2.0 -1.2l-2.1 1.2l0.8 2.4M622.1 193.2l-0.8 -1.4l-2.1 -0.2M395.6 179.6l2.4 -0.2l0.6 1.8M439.9 227.0l-1.4 1.5l-2.0 -0.2M612.0 250.2l1.6 -0.6l-0.6 1.7M442.4 223.2l1.4 2.0l-0.7 -2.4l0.9 -1.9M565.8 247.3l-1.3 -1.4l1.7 0.2l-1.8 0.6M294.6 234.9l-1.1 2.4l-1.5 -2.2M398.7 159.1l1.8 0.7l1.8 0.2M374.0 142.5l-2.1 1.8l-0.8 -1.4M551.9 247.1l1.8 -0.8l1.9 -1.2M469.5 296.1l-0.6 -2.2l2.6 0.7l-1.2 -1.4M635.7 248.9l0.1 1.9l0.4 2.7l0.7 2.5M623.3 179.5l1.2 2.1l2.0 1.7l-1.6 1.0M418.3 276.6l-1.2 -1.2l-1.2 -1.6M378.4 181.5l2.2 -1.4l-1.9 -1.7M621.9 197.0l2.1 1.8l2.1 1.3l1.9 0.2M548.4 306.4l-0.3 -1.8l2.4 -0.1M246.0 148.1l-1.8 0.0l-0.5 2.5M296.7 245.7l-1.0 2.4l1.4 1.4M636.5 238.4l-0.5 -1.7l2.4 -0.5l1.0 -2.6M452.9 150.6l-1.0 -1.7l-0.4 2.2l1.1 -1.4M492.1 224.7l2.5 -0.5l1.9 1.9l-0.2 -2.3M237.7 146.9l2.3 -1.3l-1.8 -0.4M417.8 272.2l0.9 2.3l-2.4 -0.2l1.9 -0.6M186.4 215.5l-1.6 0.4l1.9 -0.4M410.2 226.5l-0.6 -2.0l-2.2 0.1l0.2 2.1M322.9 223.3l-2.1 1.6l2.3 0.7M328.2 165.0l1.8 -1.6l1.7 1.7l-1.9 0.8M508.7 166.0l-1.1 -1.9l1.0 2.5l-1.9 -0.3M544.9 165.9l2.5 -0.4l0.1 2.4l-2.7 0.8M150.0 210.7l0.3 -1.8l-0.4 -1.8l1.4 2.2M309.3 183.7l-0.5 2.7l-1.6 -1.8l-2.2 -1.8M513.2 162.2l-0.3 2.6l0.2 2.5M461.8 278.6l2.4 -0.7l2.5 -0.2l-1.2 -1.3M344.4 215.6l2.1 0.7l1.9 1.5M598.8 234.8l-1.4 1.5l0.9 -1.8l1.5 -2.3M148.0 243.3l-2.2 0.6l-1.9 -2.0M328.7 178.6l-0.8 -1.7l-0.3 1.8l-1.6 2.2M232.0 149.4l-2.6 -0.5l2.1 -1.7M264.9 181.6l2.6 0.2l2.6 0.3l-1.8 1.3M591.4 254.2l2.5 0.5l2.1 1.7l2.2 0.1M331.6 151.5l-2.2 -0.7l1.2 1.9l-0.5 1.8M557.6 243.1l-1.8 0.8l-1.2 2.4M184.6 238.8l-0.3 -2.0l1.5 -2.2M281.1 139.5l-0.0 2.7l-2.0 0.0M500.9 256.2l-1.7 0.0l-1.7 1.1l1.1 1.2M375.7 151.9l1.2 1.7l-1.5 1.2M461.6 202.3l1.7 0.2l1.5 0.7l-1.0 1.6M220.3 195.7l-1.1 1.3l-1.4 -1.0l-1.2 1.9M280.9 170.6l1.6 1.0l-0.1 -2.5M462.2 162.3l2.0 0.6l-1.9 -2.1l1.8 0.3M316.4 250.8l-0.1 2.0l-2.1 -0.8l-0.1 -2.1M332.6 149.6l0.9 -1.7l1.0 1.8l-1.0 1.6M138.0 223.2l1.3 -2.1l1.4 -1.4M634.9 294.8l-0.4 1.9l0.4 2.7M153.9 215.4l0.1 2.3l-1.1 -1.3l2.4 1.2M363.8 156.9l-2.7 0.3l-2.3 -0.3M461.7 214.2l-1.1 -1.5l-0.3 2.2l-1.6 -1.4M536.7 175.5l0.6 -1.8l2.3 -0.7M604.3 274.8l-1.2 -1.2l-0.2 1.6M355.7 146.8l1.6 0.8l2.3 0.1M361.2 144.1l2.0 1.6l-1.6 1.0l2.4 -1.1M470.3 252.5l1.5 1.7l1.4 1.7l2.0 -1.2M273.9 130.2l-2.0 0.1l0.3 -1.6l-1.4 -1.1M414.8 257.4l0.1 -1.9l-0.6 2.4l1.5 -1.0M287.9 252.1l-0.1 2.5l-2.7 0.3M298.0 255.3l1.8 -0.4l-2.4 0.9l0.8 -2.6M566.9 241.0l-1.4 1.3l-1.4 -1.1M487.1 141.9l-1.5 1.4l2.1 -1.3M305.5 247.6l-1.2 2.0l-1.9 -1.5l0.4 -1.9M638.0 180.5l-0.8 -1.4l-0.8 1.7l-2.1 0.1M590.8 269.4l1.6 1.0l1.7 0.3M567.2 231.8l1.4 -0.9l-0.7 1.7M623.4 242.4l-1.6 2.0l-1.1 -2.5M611.8 227.5l-1.8 -1.6l-1.7 -0.6l2.2 -0.4M206.1 218.6l-0.7 -1.9l2.4 1.3M360.8 184.1l-0.6 2.6l-1.8 1.8M301.8 217.0l1.9 -1.1l-2.2 -1.2l2.1 1.1M417.5 162.3l-2.1 -0.9l-0.4 -2.3l-0.4 2.4M249.8 215.5l2.0 -0.3l1.7 1.4l-2.0 0.9M372.1 199.6l1.8 -0.4l0.7 -2.3l-0.9 -1.8M458.6 155.2l-1.0 1.8l-1.3 -1.7l1.9 0.1M387.2 172.4l-2.2 -1.0l-0.5 2.2l-0.7 -1.9M515.8 253.7l-1.3 2.4l-0.5 -1.7M521.8 218.3l-2.0 -0.8l-1.6 -1.1M375.8 191.3l-2.2 -1.4l1.6 1.9M256.8 196.4l-0.9 1.5l-1.3 -1.6l2.0 -1.6M482.7 275.5l1.0 -2.3l1.9 -1.8M360.6 258.9l-2.3 -0.1l-0.4 -1.6l2.2 0.4M215.0 205.9l1.5 -1.4l2.3 -1.5M293.3 178.2l-1.7 -2.0l0.5 -1.9l-1.8 1.8M294.1 263.4l2.4 -0.6l-0.9 -1.5l2.2 -0.6M496.0 159.4l-0.8 2.2l1.6 -0.5l1.8 0.2M453.5 248.5l1.2 -2.1l2.0 1.3l0.2 2.0M443.0 251.8l-1.5 0.7l1.5 -1.1l-0.1 1.6M247.3 131.6l0.9 2.2l0.9 1.6M619.5 219.7l2.6 1.1l1.9 -1.8l-1.9 -1.7M534.4 163.6l-1.7 0.2l0.9 -1.3M281.9 140.6l0.6 2.2l-1.8 -1.0l-1.9 2.1M529.7 260.1l-0.7 1.9l-1.4 -2.2l-0.9 2.0M363.3 190.2l-0.8 -2.5l-0.3 -1.8l1.1 1.7M245.7 212.6l-1.3 1.4l0.1 2.4l2.1 0.2M484.5 290.1l0.7 -2.1l1.8 0.0M558.4 284.9l1.7 0.4l1.7 1.3l1.4 0.8M337.2 200.0l0.3 2.4l1.4 -2.1l1.4 -1.6M560.5 183.0l0.2 2.8l-2.2 -1.6M559.9 289.2l1.2 -1.3l-2.5 0.4M330.7 156.5l-1.9 -1.8l1.8 -2.0l-1.4 2.2M517.3 191.2l0.5 2.2l-2.0 1.6M337.3 195.5l1.8 -1.4l2.1 0.1M421.4 168.5l1.0 -1.4l0.6 -2.4l-2.4 -0.6M300.8 264.6l-1.1 2.4l-0.0 2.3M279.8 249.1l-1.6 -2.2l2.6 0.6M437.3 155.8l0.8 2.1l-2.1 -1.4M111.0 248.1l1.8 0.9l-2.2 -1.4M429.9 175.8l-1.4 -1.2l-2.1 0.6l1.4 2.2M591.0 164.3l-2.4 -1.2l-0.0 -2.7M416.4 229.2l-0.4 -2.7l-0.5 -2.5M273.9 126.9l1.6 0.5l-1.7 2.1M275.7 242.4l-1.9 0.5l0.7 2.3l-1.8 -1.5M425.1 216.9l0.8 2.6l-1.2 -1.5l2.3 -0.3M268.1 199.1l0.4 -2.0l-1.9 0.0M231.5 231.6l-0.5 -2.7l-0.0 -1.6M530.1 274.0l-2.0 -0.5l0.3 2.7M245.4 267.5l1.1 -2.3l-2.6 -0.9M223.0 238.7l-1.2 2.5l0.1 -2.8M520.1 280.0l-1.4 2.1l-1.5 -1.0l0.8 1.5M396.1 193.6l1.2 1.4l2.0 -1.1l1.2 1.8M240.4 263.0l-0.4 2.4l-1.3 1.6l1.6 2.0M149.1 207.8l-0.3 -2.5l-0.9 1.7l-2.3 -1.0M299.2 202.2l-1.8 -0.2l0.9 -2.4M374.2 175.0l1.2 1.4l2.3 -0.2M479.1 218.1l1.8 -1.3l-1.9 -0.2M630.2 152.2l1.7 -1.4l2.0 0.2l1.5 -1.6M375.7 213.8l-2.5 0.1l-1.8 2.0l-1.4 1.3M293.2 183.7l-1.0 -1.5l-0.8 1.8l1.6 0.3M432.0 227.0l1.4 1.6l1.0 -1.5M253.4 136.0l0.8 1.8l0.3 -1.8l0.0 -2.8M615.8 190.2l-1.1 2.1l-1.8 0.4M161.8 244.7l1.9 -0.5l-0.6 2.1M387.3 182.2l-1.8 1.6l0.7 -1.4M282.9 199.3l-2.3 0.7l1.5 1.7l1.7 1.1M616.7 188.6l-1.2 1.1l-0.8 1.4M317.1 150.8l1.1 1.3l-1.3 -2.0l-0.1 2.4M457.7 246.3l1.3 2.3l0.6 -2.0l0.2 -1.7M341.0 197.1l0.7 1.5l2.7 0.5l0.3 -2.8M346.9 278.1l-1.5 -0.7l-1.6 1.5M302.5 259.4l-1.4 1.5l-1.4 1.6M618.7 249.6l-0.9 1.4l0.1 1.8l1.7 -1.7M464.9 214.4l-2.0 0.8l-1.7 2.1M355.1 157.5l-1.7 0.3l-1.4 1.4M193.4 242.6l-1.4 1.2l0.4 -2.4M474.7 169.2l1.6 -1.6l2.5 0.8l-0.0 1.6M448.1 145.9l-1.2 -2.3l-1.9 -0.7l1.7 -0.6M431.0 152.6l-2.6 0.9l0.7 1.5l-1.6 -0.6M375.1 179.7l-1.5 -1.4l0.6 -2.4l-1.9 -0.7M397.4 145.5l-1.5 1.1l1.5 -0.6M361.0 237.2l-1.0 2.5l2.3 -0.2M466.5 223.8l0.6 -1.7l-2.7 0.4l-2.6 -0.7M433.0 268.2l1.6 -2.1l0.0 -2.5M408.6 162.2l-1.5 -0.6l0.3 1.7M339.0 277.7l-1.7 -0.3l-1.6 0.2l-2.0 -1.9M406.0 263.1l-1.2 -1.7l-1.1 1.6M296.6 205.2l-0.5 -2.1l-2.3 0.1l2.2 -1.0M623.7 276.2l-1.9 -1.9l1.6 1.4M452.5 140.2l1.6 -0.8l-1.6 -1.5M604.3 304.7l0.1 -2.3l-0.7 1.8l2.3 -1.3M493.2 170.8l0.2 -1.7l1.3 1.8M556.7 153.7l-1.0 -1.7l1.1 1.7M547.1 218.9l2.2 -0.1l-1.8 1.4M337.6 277.7l1.4 -1.6l0.6 -2.1M471.8 221.2l-2.0 0.2l-2.0 -1.6l2.5 0.6M565.7 158.6l-1.8 -0.9l2.7 -0.5M585.2 184.4l0.0 2.3l1.9 0.2l-2.5 -1.3M437.0 143.0l-1.7 0.3l0.3 1.9M186.2 175.6l1.3 -2.0l2.6 0.3M588.9 285.3l0.3 2.6l-1.5 1.4M634.5 203.6l-1.4 -1.3l1.0 -1.4l1.1 -2.0M529.7 173.4l1.2 1.6l1.4 -2.2l-1.8 -0.2M600.3 274.0l1.6 -0.4l-1.7 -0.6l-1.6 -0.9M495.4 163.3l1.3 2.3l-0.0 1.6l1.9 0.0M398.2 236.3l1.6 1.4l-0.7 -1.6l-1.1 -2.5M565.5 147.3l2.4 -1.4l1.9 1.4M477.6 208.2l1.9 1.5l-1.9 -0.4M524.5 206.6l1.3 1.4l0.8 1.6M251.8 261.5l1.6 0.4l0.2 -1.9M548.9 167.1l2.2 -0.3l0.4 1.9l-1.4 1.5M475.3 195.3l-1.6 0.7l2.5 0.6l1.8 0.3M221.0 161.3l-2.6 0.4l-2.4 -1.2M615.2 190.0l0.6 -2.7l-1.1 -1.5l-0.4 -2.0M375.3 215.2l1.5 -2.2l1.4 -0.8l-1.8 2.1M502.4 286.4l-2.2 -1.4l-0.6 -1.7l1.8 -1.3M292.7 159.8l-0.2 1.9l-1.7 0.1M287.6 259.1l-0.0 -2.3l0.1 -1.8M455.3 197.1l1.6 0.6l1.3 -1.4M383.3 149.3l0.9 1.4l-2.2 0.9l-0.4 1.7M596.0 209.6l1.9 -1.7l-1.2 2.2M373.7 269.5l-1.0 -1.4l-2.1 -0.4l1.9 0.2M206.8 257.3l-1.8 -0.7l1.5 -0.8l-1.3 1.5M290.8 274.4l1.4 1.8l-2.4 0.3M443.2 211.7l2.4 -1.2l1.0 -1.5M303.5 229.9l-1.6 -1.8l2.7 -0.3l-0.6 2.6M217.6 203.1l1.7 -0.9l-0.9 -2.5M398.2 234.3l1.0 1.5l2.3 -0.2l1.2 -1.1M438.1 143.8l-2.0 -0.7l-2.1 -1.4M519.7 175.5l2.5 1.0l2.4 -0.9l0.6 1.6M565.9 269.4l-0.9 -1.5l2.0 -0.6l1.0 2.4M466.2 274.9l1.4 -1.0l1.4 -1.7l1.9 1.5M335.8 247.9l-2.6 -0.8l1.6 1.3M614.5 155.9l-0.8 1.9l-0.0 -1.9M154.4 198.3l2.1 -1.0l-2.5 0.6M375.2 148.3l-1.4 -1.2l-2.3 -0.9l1.6 1.6M309.5 148.3l-2.2 -1.0l2.5 -1.2M198.8 229.7l-2.5 -1.2l0.4 -2.4M202.6 210.3l-1.5 1.4l-1.5 1.0M390.4 203.5l1.7 -0.5l-2.3 -0.4l1.8 -1.1M372.0 279.0l-0.0 2.0l-1.9 1.3l-0.2 1.8M514.5 228.3l2.3 1.2l-1.4 1.4M390.5 161.3l-2.0 0.6l-1.7 -0.7M521.8 178.2l-1.3 -1.9l-2.2 0.4M492.5 163.4l1.5 1.4l-2.8 0.1M409.3 243.2l-0.5 -2.1l-0.1 -1.8M300.7 211.2l0.1 -2.0l1.8 2.1l2.1 1.8M135.2 242.2l-0.9 -2.5l0.6 -2.1M473.3 149.1l1.5 -1.5l0.2 2.0M397.4 259.3l-2.0 1.2l-2.2 0.6l1.5 2.3M234.1 136.0l-2.3 1.1l-0.2 2.4M236.4 136.4l-2.3 -0.0l-2.2 -1.3M364.3 167.6l-1.1 1.6l-0.4 2.5M262.1 207.7l-1.7 -0.8l-0.4 1.6l0.6 1.6M300.6 269.8l2.4 0.8l1.0 -2.0l1.7 1.0M277.8 140.5l-0.7 -2.4l1.9 -1.8M476.5 268.3l-1.4 1.6l-1.4 1.6M637.7 159.7l2.6 0.5l2.5 0.2l-0.6 2.0M311.9 179.4l2.1 0.4l1.4 2.1l-0.2 -1.8M376.5 203.7l0.7 -2.3l0.8 -1.5M336.0 266.0l0.9 -1.4l-0.4 -2.5l1.4 -1.8M548.6 210.4l-0.1 -2.2l-1.4 1.8l-1.3 1.6M196.2 197.2l-2.4 -0.6l2.4 -0.6M581.3 197.5l-0.2 2.3l-1.8 1.9l0.6 -2.4M456.9 226.3l-0.6 -1.9l-1.5 -0.6l1.3 -1.6M349.1 229.2l-2.1 -0.8l-0.3 2.4M232.4 225.9l-1.1 -2.3l1.0 -1.8M438.6 240.1l1.6 0.4l-1.7 -0.0M555.3 209.3l1.6 -0.6l1.1 1.8M484.9 258.4l2.1 0.8l1.7 -0.7l2.3 -1.2M210.5 242.1l-1.6 -1.2l1.3 1.2l2.4 1.1M454.6 245.0l-1.4 1.0l-2.0 -0.7l-1.0 -1.3M275.5 233.5l1.2 -1.9l-2.5 0.9l-0.8 1.5M281.8 144.4l-1.5 2.3l2.2 0.1M462.0 174.5l0.3 -1.9l-1.2 -1.7l-1.8 -1.4M527.0 178.1l-0.3 2.0l0.9 1.8l-2.0 0.9M394.8 273.5l-2.3 0.9l-2.5 0.3l-0.4 2.2M162.4 258.9l-1.9 0.8l1.1 2.3l1.3 -2.2M299.1 154.1l-1.1 -1.5l-1.7 0.7M313.3 215.3l0.1 2.8l-1.5 -1.0l0.3 1.7M324.1 143.2l-1.9 0.1l-0.4 -2.0l1.0 1.9M382.3 177.0l0.7 2.5l-1.5 0.8l-2.0 -1.1M622.3 192.8l-1.1 2.5l1.4 0.8M335.1 163.3l0.9 -1.6l2.2 1.3M623.2 181.1l-1.7 -0.2l-1.5 -1.8l-0.1 2.8M449.0 278.2l2.0 0.9l0.5 -1.8l-0.3 1.7M312.3 263.5l-0.7 -2.6l2.5 -1.1l-1.8 -0.7M250.5 140.8l-1.8 -0.7l-1.4 -0.8l-1.9 1.3M571.9 158.6l-2.0 -1.4l2.3 -0.8M337.9 264.9l0.6 -1.9l2.7 0.2l-1.7 1.4M249.1 149.0l-1.8 -1.0l-2.5 0.6M380.4 200.8l2.1 -1.6l2.4 1.2M606.8 290.5l0.5 2.5l-1.0 -2.1l1.3 2.4M228.5 226.6l-1.6 -0.5l1.9 -0.9l-1.1 -1.6M263.5 231.4l1.4 -2.4l1.6 0.6M262.8 256.0l-1.7 -1.4l-0.6 2.3l1.1 1.6M168.4 209.9l-1.9 -0.3l-1.1 -1.7M220.1 135.5l0.5 2.6l2.4 0.2M379.5 146.0l-1.4 -1.2l1.1 -2.3M543.4 199.2l-0.5 -2.3l-0.7 -1.5l-0.9 -2.2M236.0 165.8l-2.0 0.8l-1.5 1.3M610.1 197.6l1.7 -0.9l-2.5 0.7l0.7 1.9M422.7 284.0l-1.9 0.5l2.0 0.7l1.4 -1.3M474.5 231.6l-0.6 -1.9l0.8 -2.2M489.3 172.8l0.4 -2.4l2.1 -1.9l1.4 -1.3M368.3 155.5l-1.6 0.5l-0.3 2.2M336.0 173.5l0.1 2.2l-2.0 -1.3M416.3 176.8l-0.9 -1.6l-2.1 0.4M248.4 242.1l2.3 -0.8l-1.6 1.0M367.7 163.5l2.4 -1.1l-2.2 -0.8M162.1 216.7l-1.7 -1.4l2.1 1.3M372.1 256.7l0.3 -1.6l-2.0 -0.4M301.9 198.3l1.9 0.1l1.6 -0.7l-1.4 1.3M582.0 172.0l-1.1 -1.4l1.6 -1.5M629.8 289.6l0.7 -2.0l-1.1 -1.4M634.7 299.2l-0.5 2.6l2.4 -1.1M430.4 158.8l0.1 -2.2l2.1 -0.6M638.7 243.1l0.7 -1.6l0.3 -1.8M537.2 226.0l-0.3 2.0l1.1 -1.6M194.7 169.2l-1.1 -1.8l-1.6 0.3M432.8 156.9l-1.4 -1.5l-1.8 1.4l0.1 -1.8M349.8 255.6l1.9 1.2l-1.9 -1.1l0.6 2.0M151.8 245.5l-2.8 -0.2l1.1 1.7l-2.6 0.3M156.4 210.4l-2.4 1.2l-1.6 -1.6M450.7 250.6l-1.8 -1.1l0.7 1.9M618.5 194.3l1.6 -1.6l0.6 -2.2M329.4 191.2l2.6 0.4l2.2 -1.0l1.1 -2.0M475.9 260.7l-1.4 1.7l1.9 1.7M451.1 196.4l-2.1 1.8l-1.4 -1.5M407.5 217.9l-0.8 -2.3l2.5 -0.5M621.0 267.7l1.9 -1.9l1.8 0.9M636.0 208.5l-1.5 1.6l2.3 0.7M553.1 165.7l1.1 1.5l0.4 1.9M501.1 255.8l2.3 0.4l0.5 -1.9l-1.1 -1.6M606.8 278.3l1.2 2.4l-1.4 2.1l-1.4 -1.3M574.8 170.9l1.4 2.2l-1.9 0.3l1.3 -2.2M525.2 210.3l2.4 -1.2l-0.3 2.8l1.7 -1.3M268.7 190.0l1.5 1.5l-1.6 1.3M531.4 280.1l-0.6 -1.5l2.5 -0.7l-1.1 1.3M556.1 247.2l0.3 2.1l1.2 -1.3l-2.1 -0.5M406.7 160.3l-0.0 2.3l1.1 1.9M281.7 139.5l1.3 2.4l1.6 2.0M183.6 256.2l2.3 0.4l1.3 -2.3M263.4 170.8l-1.9 -0.0l1.4 2.3M335.2 192.2l1.8 0.8l-0.1 2.5M618.6 163.4l0.9 -2.5l-2.2 1.0l0.9 -1.6M236.6 124.6l-1.8 0.3l1.9 1.5M153.8 254.9l-0.2 -2.3l-1.4 -1.9M414.3 215.8l1.8 0.4l1.3 -1.1l1.1 1.7M232.9 174.5l-1.2 1.2l-1.9 -1.1l-1.7 0.1M623.8 190.7l1.4 -1.9l-1.9 0.5l-2.2 0.8M634.3 288.5l-2.1 -1.0l1.2 -1.6M537.2 252.1l1.9 0.4l-0.8 -1.4l1.1 -2.0M396.9 274.4l2.1 -1.2l-2.0 -1.5l0.3 -2.3M183.4 222.6l-2.6 0.6l1.9 -2.1l2.4 -0.2M243.6 195.8l1.2 -1.2l-0.4 -2.3l-0.3 -1.6M203.3 254.6l-0.8 -2.4l-0.8 -1.8M409.5 268.1l0.4 -2.1l-1.2 2.3l-0.3 2.1M439.2 233.8l2.2 0.3l-0.8 2.1M597.8 274.4l-0.3 -1.6l-1.2 1.7l0.4 -1.9M406.0 182.0l1.3 1.1l-1.4 -1.4M601.0 190.5l2.3 1.3l1.9 1.5l-0.2 2.5M481.4 296.9l2.0 1.8l2.3 -0.2l2.4 -0.4M448.7 245.9l2.0 0.5l0.8 -2.3l1.8 0.7M606.2 267.8l-1.8 0.6l-2.2 -1.6M340.5 207.7l-2.3 -1.0l1.5 -0.7M510.2 180.4l-0.7 -1.5l2.7 0.3l1.7 -1.0M159.3 237.7l-1.9 1.6l-1.7 0.4M536.8 167.2l-2.0 -0.8l1.9 0.4M469.2 289.6l2.2 -1.0l1.7 -2.0M366.2 183.5l-1.4 1.6l1.0 2.3M340.6 270.7l0.6 1.8l-1.7 -0.2l-0.4 2.4M441.1 153.0l2.0 -0.2l1.1 -1.3l2.3 0.7M624.8 153.2l0.3 1.8l-1.9 -1.4l1.7 -0.4M323.4 281.5l-2.0 -1.0l-1.1 1.8l0.0 -2.1M521.1 231.4l-2.2 0.9l-1.3 -1.1l-1.6 -1.0M228.4 177.9l-2.0 -1.6l1.6 -0.1M365.4 195.1l-1.1 2.0l-2.5 0.1M448.6 216.0l1.7 0.3l-2.7 -0.3l-0.0 2.1M274.4 235.3l1.7 -1.6l0.0 -2.0l0.1 2.6M638.1 158.5l1.7 1.8l2.1 1.4M328.4 278.9l-1.5 1.1l1.5 -0.7M552.0 231.3l2.2 0.5l0.8 -1.5l1.6 1.8M307.1 169.7l-1.2 1.1l-1.3 -1.2M392.8 191.4l-1.8 0.4l-2.4 -1.3M365.7 196.8l-1.2 1.6l1.4 0.9M532.2 233.7l-0.3 2.7l2.4 1.1l1.3 -2.3M162.5 233.8l2.3 0.9l0.7 -1.7l0.2 -1.6M570.3 307.5l-0.4 -1.7l2.6 0.0M574.4 246.4l-0.1 -1.6l-2.1 -1.2M546.1 290.1l-1.3 1.7l0.1 -1.9M233.7 229.6l-0.5 2.2l1.4 -1.7M304.6 176.2l-0.8 -2.2l2.3 0.1M511.1 237.1l-0.6 2.3l2.4 -0.5M279.2 223.2l-1.7 1.1l1.0 1.4l-1.2 -2.1M601.3 227.7l1.0 2.1l2.0 -1.1M593.3 227.5l-1.8 -1.0l-2.6 0.3M348.4 224.9l-2.3 -0.4l-0.5 1.7l-1.7 -0.4M436.6 210.8l1.3 -1.0l-2.3 -0.9l1.9 -1.6M442.5 221.3l-1.6 1.0l1.7 2.0l0.5 1.6M480.7 299.9l-2.3 -1.2l-1.1 -1.3l1.7 0.1M450.0 272.1l2.1 -1.0l-2.6 0.5l-0.4 2.2M228.6 192.4l-0.1 -2.4l-0.3 1.9l1.2 1.5M222.3 253.9l0.8 2.4l0.5 -2.6l2.1 0.2M385.5 235.1l-2.1 0.1l0.7 2.3M275.8 231.5l-1.8 -0.4l2.4 1.1l2.6 -0.7M615.4 268.0l0.9 -1.6l2.2 0.8M613.9 167.0l-1.9 0.2l1.6 -1.8l-0.7 1.7M378.7 193.3l-0.1 -1.7l2.0 -0.5l-1.5 1.1M286.9 272.6l-0.9 -2.3l0.7 1.7l2.0 -1.0M194.5 226.1l2.3 1.0l0.3 -1.6M518.0 297.7l-1.4 1.7l-0.5 -2.1l2.1 -1.3M314.5 224.1l2.0 -0.5l-2.2 0.1M277.9 149.6l-1.5 0.9l-1.3 -1.3M478.4 230.3l-1.5 1.4l-1.1 -2.0l2.6 0.7M373.9 147.2l0.5 -2.6l0.5 -2.0M543.0 275.9l1.3 -1.4l0.2 2.3l-2.7 -0.2M537.6 163.5l-1.7 -0.7l-2.2 -1.5l2.3 -1.1M513.9 266.9l2.4 -0.3l-2.3 -1.4l2.0 -1.6M442.2 278.2l1.3 -1.1l-1.6 0.5M631.8 182.3l0.2 2.6l-0.6 1.8M550.3 295.0l-1.7 -1.5l1.1 2.2M269.3 249.9l-1.4 1.7l0.6 2.4M469.6 281.3l-0.7 -2.2l0.8 -1.5l1.7 -1.9M406.1 172.4l-2.8 0.2l-0.0 -2.7l0.9 2.0M235.9 223.1l-0.9 1.8l2.0 -1.4M580.2 166.0l1.5 -1.3l-1.2 1.2l1.9 0.8M476.5 247.9l-1.9 -0.9l-2.1 0.9l2.2 -0.8M513.8 178.2l-0.5 -1.9l-2.1 0.3l-1.8 0.7M516.7 208.7l1.6 1.6l-0.9 1.5M540.3 150.3l1.9 -1.4l-1.9 0.5M575.1 150.8l-1.3 -1.5l1.6 -1.4l0.5 1.7M149.3 246.9l0.0 2.0l1.1 -1.4M458.3 286.0l1.7 -1.1l-1.3 -1.8M321.0 205.4l2.6 0.2l-2.2 0.9l-1.7 -1.1M485.7 269.0l2.4 -0.6l2.1 -0.6l1.8 1.6M387.1 252.9l-2.1 -1.2l1.6 0.0l-1.7 -0.8M168.7 193.2l-1.5 -0.7l1.7 -0.3M258.2 173.6l0.1 -2.1l2.1 1.8l-1.2 2.1M499.2 160.7l-2.4 -0.8l2.7 0.6M275.7 173.7l-1.0 -1.3l1.6 -0.7l-1.9 -0.9M566.6 241.3l0.9 -1.9l-2.1 0.7M359.5 192.2l1.6 1.6l-0.6 -2.1M597.7 298.5l0.4 -2.0l1.1 1.5M342.8 227.7l0.5 2.4l0.7 2.0l0.6 2.6M565.8 168.7l1.9 -1.4l-2.0 -0.9l1.7 0.1M239.7 139.6l-1.6 -0.9l-2.0 0.7M371.1 266.0l1.9 -0.4l0.5 -2.0l2.1 0.1M184.5 202.2l-1.8 -1.1l2.6 0.7l2.3 -1.4M634.9 211.4l2.3 1.2l1.5 2.3l0.9 -1.8M306.5 279.5l-2.4 -0.3l-0.9 -2.5M581.7 191.5l-2.4 -1.1l-1.6 -2.2M166.7 240.9l-1.6 0.4l-0.4 -1.9l1.6 -1.6M499.8 295.4l1.9 0.4l2.8 0.2M456.4 178.5l-1.7 0.3l2.0 0.9M378.1 174.7l1.7 1.8l2.3 0.7M340.8 208.9l2.5 0.2l-2.2 1.6l-1.9 -1.5M592.6 292.1l-2.0 -0.5l-2.5 -0.4l-1.7 -0.5M600.2 210.8l-0.1 -2.6l-1.4 1.0M597.4 241.7l0.8 -2.6l-1.2 1.5l0.6 2.3M571.1 198.5l1.8 0.8l2.1 1.4M557.8 275.7l-0.7 2.3l-1.0 -1.4l2.0 0.2M302.1 277.5l-1.1 -1.7l1.8 -1.4M215.4 263.0l-0.0 2.6l0.2 2.3M353.0 198.1l-1.7 -0.1l-0.6 1.9M628.1 162.0l-0.9 -1.7l-0.7 1.6M302.6 198.8l-1.4 -1.2l-2.1 -1.6l1.4 1.0M411.3 289.2l-2.3 0.7l1.6 -0.9M610.4 240.3l1.8 -0.3l1.5 1.5l-0.1 -2.0M297.4 140.4l0.7 2.0l1.7 -0.7l-2.0 0.8M137.2 218.6l1.9 1.9l1.5 -1.4M414.9 205.0l0.6 -2.0l-2.0 1.0M630.5 198.6l-1.7 0.0l-1.5 -1.3M289.5 199.4l0.4 2.3l-2.7 -0.5l-0.4 2.7M419.1 223.1l1.7 0.7l-1.7 -0.3M329.9 167.5l0.7 2.5l2.3 -1.0M270.3 213.8l2.1 -0.4l1.7 1.6l-0.1 -2.3M404.1 159.3l1.8 0.6l1.4 1.3M286.7 268.7l-1.9 1.3l-0.2 2.5l-2.6 -0.1M580.2 164.9l1.8 0.9l2.3 0.6l-0.3 2.7M521.4 203.9l0.3 -2.1l-2.1 -0.9M390.3 221.3l1.1 2.4l2.3 -1.2M460.5 250.9l-1.7 -1.0l-1.8 1.8l-2.5 0.1M542.8 177.4l-2.0 -1.3l1.5 -1.8l-1.9 2.0M136.1 225.1l-1.5 0.9l0.1 -2.0l-1.6 -2.0M453.3 162.6l-1.6 -1.8l-2.7 -0.1l-2.3 0.9M437.8 173.0l0.2 2.7l1.8 -0.4l-1.7 1.8M340.7 164.3l-1.5 0.8l-1.1 1.2M200.4 154.5l-2.0 1.0l1.9 -0.2M540.5 206.1l-2.8 -0.1l2.2 -1.4M486.4 186.0l-1.4 0.8l1.5 0.8l-2.0 -0.1M535.7 233.2l0.1 -2.3l2.2 0.8l-1.4 -2.3M453.2 194.6l1.1 -1.4l-0.4 2.2M403.4 156.2l-2.3 -0.4l-0.2 -2.5l0.5 2.1M625.8 247.7l2.2 -1.3l0.4 1.6M387.5 241.4l-0.4 -1.9l1.4 -1.9l2.3 -1.1M569.0 268.7l2.3 1.0l1.0 -1.8M488.2 177.3l-1.0 1.4l-0.9 2.3l-0.4 1.9M225.4 253.8l-1.1 -1.5l-1.4 -1.6l1.8 0.7M261.3 257.4l-0.4 -1.7l-1.9 -1.4M289.0 264.5l0.9 -2.4l-1.8 0.0l-1.7 -2.0M409.4 274.9l-1.7 -1.8l-0.4 -2.4M632.2 191.9l1.0 -2.0l1.3 2.4M394.4 193.8l1.9 0.1l-1.6 -0.6M515.7 179.9l-1.9 2.0l2.2 -0.7l2.2 -0.6M397.2 263.6l1.8 1.5l-2.6 0.8l1.0 -1.5M516.4 161.4l1.4 1.0l1.6 -1.1M239.9 246.5l0.5 2.2l1.0 -1.3M512.7 240.9l1.0 -2.6l-1.5 1.1M339.3 259.2l-1.1 -2.0l2.6 -0.7M461.2 159.1l-2.0 -1.3l-2.0 1.3M389.0 233.6l0.5 1.6l1.7 -0.3M493.5 157.6l-1.2 -1.1l-2.6 -0.1M267.8 185.2l-1.1 2.5l-1.3 2.2l1.1 -1.5M494.0 229.7l1.7 -0.7l1.6 -0.2M193.4 259.0l-0.5 -1.9l2.2 0.9M235.9 217.8l-0.8 -1.7l-0.1 2.0l-0.8 2.6M606.7 173.8l-1.7 0.0l1.7 -1.1l-1.1 -1.4M504.9 252.2l-0.6 2.0l-0.6 2.0l2.4 -0.7M403.0 168.4l1.8 -1.9l2.7 0.1M612.8 301.7l2.1 0.5l1.8 -1.1l-1.8 -0.8M273.4 157.7l-0.9 1.6l0.2 -2.3M585.8 171.7l-1.3 -1.5l0.9 -2.0l-2.0 -0.4M214.5 142.2l-1.0 -1.6l-1.7 1.6l1.6 -1.7M298.3 142.7l1.8 1.4l-1.9 -1.1l0.6 -2.0M197.0 167.5l-1.1 -1.5l0.5 2.7l1.2 2.4M412.3 204.8l-0.8 2.6l1.0 2.1M264.7 219.9l0.7 -1.6l2.1 -0.8M518.0 257.6l-1.2 -1.1l-2.3 1.0l2.2 0.8M527.3 226.7l-1.9 0.4l-0.5 2.7l1.6 0.6M356.8 182.6l-2.2 1.6l1.9 -0.2l-0.5 2.5M428.5 138.7l2.0 -0.9l-1.4 2.2l-0.5 1.8M599.8 288.5l-1.6 -0.9l2.0 -1.7M228.6 221.8l2.0 1.6l1.1 -1.9l-1.1 -2.4M550.5 186.6l2.6 0.5l1.3 -1.7l-0.8 1.4M369.1 246.4l-0.2 -1.9l-1.4 2.3M203.9 239.0l-0.2 -2.2l0.6 -2.1M201.3 255.1l2.1 -0.7l-1.8 0.7l1.7 0.4M385.3 153.1l2.3 0.4l-0.6 -2.0l-1.1 2.3M436.4 283.6l0.1 2.3l1.6 1.2l0.3 -1.9M513.0 209.3l-2.4 0.3l-1.3 -1.3l1.0 1.8M603.4 184.2l-2.2 -1.1l-0.2 1.8l1.7 1.1M581.1 158.1l2.3 -0.4l1.2 2.0l1.0 -1.7M518.1 262.4l-2.2 -0.2l0.5 1.7M424.4 139.0l2.0 -1.0l-2.2 -0.4l1.7 -1.8M523.1 257.4l0.5 1.6l1.3 -2.0M271.4 250.1l0.1 -1.8l-2.5 -0.1l1.7 -1.6M321.7 262.6l1.0 -2.2l2.1 -0.2M307.6 272.6l-2.3 0.2l0.4 -2.1l-1.9 0.9M354.7 274.3l1.4 -2.2l-1.8 1.4l-1.9 1.1M262.6 223.6l-1.8 0.0l1.5 2.0M465.7 200.8l-0.8 -1.8l-1.7 -1.1M626.1 299.9l-2.6 0.7l-2.8 0.2l0.2 -2.6M480.2 258.2l2.7 -0.7l-0.2 2.2M598.9 203.3l-1.0 -2.1l-1.2 2.5l0.1 2.3M421.3 274.8l-1.5 -0.6l-2.6 -0.9l0.6 2.1M248.6 125.6l-2.3 1.3l0.4 -1.8M598.6 171.4l2.2 0.9l0.4 -2.6M637.2 260.6l-2.5 0.7l-0.2 2.1l2.6 -0.9M213.3 147.8l0.7 -1.6l2.7 -0.4l0.2 -1.8M584.8 246.3l-1.0 -1.5l-0.2 -1.7M414.8 144.9l-1.9 -1.6l2.5 0.4M554.3 259.0l1.4 0.7l-1.6 1.1M122.8 252.1l-1.7 -1.1l2.1 1.0l1.8 -0.9M366.2 213.3l1.4 -0.9l1.5 1.5l-2.3 0.7M178.4 217.3l0.6 -1.6l0.5 2.4M533.1 145.0l0.9 2.6l2.4 1.0l0.8 2.7M573.1 199.8l-0.2 -1.6l1.1 -2.5l1.9 -0.5M243.7 165.4l-0.5 -1.8l-2.4 0.8M348.3 243.0l-1.7 1.1l-0.9 1.8M407.7 289.1l-2.0 1.4l-1.4 -1.5M376.2 217.4l-2.0 -0.9l1.6 -1.1M634.0 160.9l-2.1 -1.4l-0.2 1.8l1.1 1.2M269.1 143.6l1.1 1.9l-1.7 -0.9l1.4 -1.3M597.2 212.0l-0.3 -2.3l-1.3 -1.1M574.6 252.5l-1.7 -0.1l2.2 -1.6M494.1 264.1l-0.1 2.1l-0.0 2.0M262.9 258.5l0.5 1.6l-2.0 1.9l1.5 -0.8M211.3 225.4l-0.3 -2.8l-2.2 -0.5l-1.5 -2.1M421.5 267.4l-1.6 -1.9l-1.9 -0.8l-0.4 -1.8M190.6 185.4l-1.9 -1.3l1.1 -1.8M545.1 272.9l0.3 -2.4l-0.6 -1.6M490.8 261.6l0.6 1.6l1.9 -2.0l1.1 -1.2M450.0 268.1l-2.4 0.8l1.2 2.3l0.2 -2.5M378.6 226.8l-2.2 -0.3l-2.3 0.7M597.4 243.2l1.2 -1.3l2.0 0.8M454.2 231.9l1.2 2.3l-1.6 1.5M366.7 263.8l-2.8 -0.0l-2.2 0.8l0.9 -1.4M409.2 144.5l2.2 1.2l0.1 -1.7l-2.2 0.1M330.0 200.1l0.6 -2.0l2.5 1.2M333.4 226.6l-2.5 -0.4l-0.7 -2.0l-1.6 0.3M295.3 194.3l-0.8 -1.5l-1.8 -1.7l1.0 2.4M330.5 190.6l2.1 -0.0l1.4 -2.4l-1.3 -1.9M313.4 205.3l2.3 -1.0l0.8 1.6M419.6 189.7l1.8 0.1l2.3 0.5M571.9 298.4l2.7 -0.1l0.5 1.6M254.4 208.4l-1.3 2.1l2.1 0.3M274.9 131.1l0.7 2.7l1.5 -1.9M582.0 278.9l0.1 -1.8l-2.0 1.0M230.2 168.4l-1.5 2.0l1.0 1.4M477.0 271.4l-0.4 -1.7l-1.2 -2.1l-1.2 1.4M353.6 193.6l-1.4 -1.9l-0.5 2.0l2.6 -0.9M566.3 283.0l1.3 1.2l-0.6 2.1M161.8 232.8l1.0 -2.0l0.1 2.3M632.0 255.9l-0.3 -1.6l1.6 -0.3M348.0 147.6l1.4 0.9l1.2 2.3M459.5 210.0l-0.5 -2.3l0.7 -1.7l0.4 1.6M581.5 297.2l-1.6 -0.2l1.1 1.4M433.0 138.9l2.3 -0.5l-1.1 2.5M417.8 200.0l-1.9 -0.6l-1.2 2.3l-1.6 -2.0M494.3 143.1l-2.2 1.4l-1.9 1.4l2.4 0.0M223.6 185.1l0.9 1.6l2.1 0.8M409.4 181.7l-1.1 -1.6l2.5 0.8l-0.9 -2.1M337.4 274.5l-2.1 0.0l-1.6 -1.2l1.0 2.0M198.2 256.8l1.9 2.0l0.9 -2.3l-0.1 -1.6M614.0 182.2l1.6 2.0l1.6 -0.9M427.3 141.0l-2.3 0.3l-1.3 1.5l-1.2 -2.4M321.6 238.4l1.5 1.3l-1.4 1.2l0.2 -1.7M444.6 185.1l-0.6 2.3l-1.5 -2.3M402.7 152.5l1.1 1.4l1.0 -2.3M265.3 237.5l-1.4 -2.2l-1.2 -1.5M586.4 217.9l-2.1 -1.0l1.5 1.6l0.7 -1.6M237.5 231.3l1.7 -0.3l0.4 2.5M248.8 268.6l-2.5 -0.6l-0.8 2.1M184.3 169.8l2.0 -0.4l-1.7 0.3M279.4 195.1l-0.6 -1.7l-0.8 -2.2M510.2 196.7l-1.2 1.9l0.3 2.4l1.6 -0.0M356.5 195.3l1.9 -1.5l1.7 -0.2M518.1 291.6l1.4 -1.7l-2.1 -0.2l-2.2 1.2M383.7 249.6l1.9 -0.6l2.7 0.5M305.9 171.6l-2.1 0.6l-0.9 2.4M294.2 252.7l-2.4 -1.4l-0.1 1.9l-1.7 -0.6M348.8 220.1l-0.6 -2.0l-0.3 2.0l-2.1 -0.1M211.7 153.6l-2.5 1.1l2.5 -0.3M281.6 249.5l2.1 0.0l-1.5 1.7l0.7 2.2M483.8 202.3l-2.1 -1.2l-1.9 0.2l1.1 -1.4M397.0 182.1l1.5 1.7l2.0 -0.5M234.2 175.3l-0.9 2.2l1.7 2.1l-2.1 0.8M251.3 185.8l2.1 0.7l-1.7 -0.4M527.0 269.8l-2.2 0.4l2.0 -0.7l-0.0 2.8M477.0 288.1l-1.6 0.7l0.6 2.5M453.1 141.6l0.6 -2.0l1.6 0.6l-1.2 -2.5M239.4 220.4l-1.6 2.1l0.4 -2.3l1.1 -1.5M543.9 231.3l0.1 2.4l-0.2 -2.4M332.0 166.0l-2.0 -0.1l0.3 1.7l-1.9 0.8M630.1 263.1l-1.9 0.2l-2.6 -0.0l0.2 1.9M284.3 128.7l0.8 -2.2l-1.1 -2.0M630.2 168.7l1.1 -1.5l-1.0 -2.6l1.2 -1.2M452.7 187.7l1.5 1.0l2.3 -0.1l-0.3 2.5M580.0 176.4l1.7 2.1l1.1 -1.2l-0.1 2.2M447.2 249.5l0.9 2.3l-1.1 -1.7l-0.2 -2.0M252.3 171.8l2.3 1.6l-1.4 1.1l-1.1 1.3M123.4 236.4l2.1 -1.2l-1.7 -1.9M289.0 155.5l0.2 2.7l1.9 0.9l2.0 -0.2M233.8 151.3l2.4 -1.0l0.1 2.4l-1.7 1.6M439.9 244.8l-0.2 1.9l1.1 1.4M375.8 154.1l2.0 0.6l2.1 -1.0M194.0 165.9l-1.9 -0.2l-0.2 1.9l-1.6 -0.4M377.5 210.5l-2.1 1.7l1.8 -1.4M399.0 258.1l2.0 -1.5l2.3 1.1M582.8 209.0l0.4 -1.8l-0.0 1.9M177.3 234.4l1.7 -2.1l0.3 -2.3l2.6 -0.5M522.2 144.5l2.3 0.4l1.7 -0.1M472.1 140.6l0.8 -2.6l2.4 1.3l0.5 1.8M470.7 270.9l-2.5 -1.0l-2.2 0.9M320.6 149.5l-1.1 2.0l2.0 -1.7M455.9 180.6l2.0 0.9l-2.5 -0.1l1.0 1.8M317.3 144.1l1.6 -1.6l2.0 0.2M308.0 224.8l-0.4 -1.6l-1.7 -0.1M398.1 196.7l-0.7 -1.8l-2.5 -0.4M566.7 295.0l-0.1 -2.8l-1.3 -2.1M513.2 221.8l1.5 1.7l1.4 1.3M525.3 228.8l-0.6 1.7l-1.7 -0.8M273.9 197.4l0.4 -2.0l-2.2 -0.5l-0.2 -2.2M390.6 139.2l-2.0 -0.5l0.3 2.4l2.2 1.2M481.1 271.2l-0.3 -1.9l-1.9 0.1M529.9 287.4l-1.2 1.5l2.4 -0.7l-2.3 0.4M271.4 147.6l1.2 1.8l-0.1 1.7M511.3 251.7l1.5 -1.9l-1.3 -1.2l-1.4 -2.2M300.6 185.2l0.4 2.3l0.3 2.1l0.3 1.6M348.7 274.3l-0.3 -2.1l-0.5 2.6M283.5 181.0l1.0 1.5l-2.8 -0.1M377.2 261.7l-1.5 0.6l0.5 2.4M576.7 187.1l0.2 -2.1l1.8 2.0l-1.5 -1.9M474.4 196.7l2.2 1.2l-1.9 0.1l2.0 1.7M565.2 264.4l0.1 1.9l-1.4 1.1l-2.2 -1.1M399.9 188.9l-1.1 1.6l-1.4 1.3M532.5 178.0l-1.4 -1.9l0.6 -2.2l-0.2 -2.5M537.4 220.5l0.6 2.3l1.5 0.7M399.1 222.5l1.8 -2.0l0.2 2.2M321.5 225.9l-0.1 -1.6l1.9 1.0l2.1 -0.8M463.2 241.8l1.7 -0.3l1.6 -1.0M535.6 251.6l0.8 -1.9l-1.7 -0.1M520.6 149.0l2.4 -1.0l-2.3 0.3M386.9 266.4l-0.6 2.6l1.9 0.2l-1.4 -1.1M184.4 220.2l2.2 1.2l2.2 0.0M586.4 262.0l-2.0 0.9l2.2 1.2l2.4 0.2M314.9 211.0l0.2 1.9l2.2 -1.1M522.6 249.3l-1.5 1.0l1.4 0.8l1.4 0.8M264.3 259.0l-0.5 -1.6l-1.4 2.4l-0.7 -1.9M362.8 271.7l1.4 -1.7l2.7 -0.6l1.7 1.8M469.7 205.6l1.6 0.0l2.4 0.4M403.9 272.9l-2.4 -0.8l-1.7 -0.6l0.2 2.0M485.6 213.0l-2.0 1.6l-0.8 2.2M558.9 148.3l-0.7 -2.4l-0.5 -1.8M282.3 255.6l-0.4 2.0l-1.4 2.2M544.6 190.9l-1.7 -2.0l-1.5 1.6l-2.0 0.1M636.8 243.2l2.0 1.1l-1.1 1.5l-1.3 -2.3M141.2 228.3l0.9 -1.6l-1.6 1.0l2.2 1.0M273.8 169.6l0.0 1.9l0.2 2.4M341.7 134.9l-1.1 2.4l-0.6 -2.3M590.8 279.3l-1.7 1.8l1.2 2.2l2.1 1.7M401.7 204.4l-1.3 -1.6l2.3 -1.5l1.7 0.2M266.5 234.5l2.0 1.7l-1.5 -2.0M616.3 258.1l1.4 1.4l-0.6 -1.7l-2.1 -0.7M168.1 200.3l0.9 1.9l-0.8 -1.5l0.2 -1.6M632.5 278.5l-1.3 -1.9l-1.6 -1.1l0.0 2.7M617.7 162.1l-1.9 -1.8l2.0 1.2M247.8 130.7l-0.8 1.9l0.9 1.7l0.0 2.7M385.2 177.1l0.7 1.8l2.3 -0.6M463.8 226.6l0.5 -1.7l1.5 -1.1l-1.9 -2.0M422.6 177.0l0.8 2.7l-1.0 -2.3l0.1 -1.9M496.8 250.9l-1.9 1.6l-0.8 -1.7l-0.9 -2.1M485.7 209.5l1.3 -1.1l-0.8 2.3M350.5 174.3l-0.8 -2.5l1.3 2.3l1.0 -1.2M432.8 155.4l2.6 -0.4l-1.5 -1.3l1.9 0.7M564.4 287.0l-1.7 -1.4l-2.0 -0.5l-1.0 2.3M560.9 275.1l-2.3 -1.4l-1.3 -1.0l0.9 1.6M363.7 153.4l-2.4 -0.7l0.8 2.5M246.4 260.1l2.0 -0.2l-1.3 -1.2l-2.4 1.2M288.6 233.6l-2.0 0.9l0.8 2.4l-0.1 2.2M277.8 178.0l-1.0 -1.4l-2.2 -0.9M418.3 276.9l-0.6 -2.6l-0.8 -2.4M134.0 223.2l-1.6 1.1l-2.4 1.1M236.9 124.9l-0.6 -1.8l2.5 -1.2M610.9 170.1l-2.5 0.7l-2.6 0.4l1.6 0.4M402.7 188.5l1.5 1.9l-0.3 2.5l-1.5 1.4M611.3 286.6l-1.8 1.2l-2.6 -0.3l-0.9 1.4M609.8 168.4l2.0 -1.9l-1.1 1.4M298.3 230.5l1.3 -1.9l1.5 0.5M227.8 254.6l-0.7 -2.0l-1.2 1.4M476.1 186.2l-2.5 -0.6l-0.3 2.1M638.8 271.9l-1.2 -1.9l0.7 -2.1l2.1 -0.7M347.8 271.0l0.4 2.5l0.6 -2.6M623.7 296.0l-1.3 -1.9l2.0 1.2l-0.7 -2.3M387.6 172.2l-0.9 1.4l1.3 1.2l-2.4 0.3M494.3 247.3l-0.9 -1.8l0.9 2.1l0.9 -1.8M555.2 197.7l-0.8 2.2l-1.3 1.5M401.8 281.3l-2.4 1.1l0.6 2.5M410.4 147.8l1.4 -2.4l0.4 -1.7l-0.7 1.5M597.9 203.5l-0.0 1.9l-1.9 -0.6l-2.3 -0.2M199.9 198.2l-0.9 -2.6l0.4 1.6M419.4 201.5l-1.0 -2.0l-1.8 1.7M485.1 145.1l-1.9 -0.3l-1.6 1.1l1.0 -1.7M565.3 287.5l-1.4 1.0l2.1 -1.2M507.3 233.8l-1.2 -1.5l-1.7 1.5l1.2 1.3M333.0 165.1l-1.1 -1.4l-2.0 0.7M220.4 203.4l-2.2 0.2l-1.7 1.9M632.5 181.6l0.4 2.5l-0.9 1.8M270.6 210.3l1.9 0.5l2.0 1.6l-0.5 -2.5M187.7 196.4l1.4 -2.2l-0.5 -1.8M478.2 181.6l-0.7 1.5l1.9 -1.0M530.0 155.0l-0.9 -1.9l2.4 1.5M154.8 239.2l-2.6 -0.8l-2.2 -0.3M461.7 190.4l-2.0 0.3l-0.7 -2.6M169.3 236.3l1.6 2.0l2.6 -0.3l-0.4 1.8M509.5 209.8l-0.8 -2.2l2.1 0.8M355.2 250.3l-2.0 0.1l-0.7 -2.4l0.8 -2.0M429.1 200.4l-0.2 -1.6l0.3 2.6l0.0 2.8M200.5 208.1l2.6 -0.9l-1.3 2.3l2.3 -1.1M396.9 290.3l0.6 2.3l-2.3 0.7l-0.3 -2.7M637.2 225.8l2.5 0.9l-0.8 2.3M277.4 162.3l2.0 -0.2l0.9 -2.0M440.5 260.3l2.6 -0.2l-1.2 1.2l0.7 2.5M233.8 251.2l0.6 2.1l-2.0 0.4l-1.7 0.3M639.6 194.4l-1.4 -1.7l-1.3 1.5M607.0 203.0l1.6 0.7l-1.3 1.2l-1.6 -2.3M452.2 284.7l-1.6 1.5l-0.5 -1.9M209.8 185.6l1.2 2.0l-0.8 -2.3M265.3 210.5l0.9 2.1l-1.7 0.3M502.2 239.8l1.3 -1.5l-0.5 1.5M602.1 247.2l-2.0 0.9l-1.0 2.0l1.1 1.6M441.6 158.4l0.3 -1.7l0.5 1.7M562.3 198.6l-2.4 0.9l0.4 -2.1l-2.0 0.4M618.4 188.0l2.1 -0.6l0.2 -2.4l1.5 0.9M434.8 223.0l0.7 1.8l-0.2 2.2l2.2 -1.4M242.0 268.2l-0.4 1.7l0.8 1.8l0.1 2.2M261.5 235.8l-1.9 -0.2l1.3 -0.9M520.8 194.2l-2.2 1.1l1.6 0.0l2.1 -0.6M383.0 200.0l2.5 -0.4l2.1 -0.4l2.0 -1.8M596.3 294.4l2.2 -1.4l2.3 0.9M497.3 253.0l0.9 2.0l1.0 1.3l-2.1 -1.1M548.7 247.9l2.3 1.2l-2.5 0.0M440.6 179.4l-0.0 -2.1l-1.5 -1.5l1.7 -0.2M283.9 186.3l0.0 1.9l1.9 -0.4M587.6 274.8l-2.1 1.4l1.3 1.4M160.3 257.9l1.2 2.5l1.2 -2.5l0.9 -2.2M537.1 270.0l-2.6 0.1l2.4 -1.1M554.9 277.6l-1.5 0.8l-2.4 1.5M378.7 164.6l0.3 1.6l2.1 0.4l2.4 0.4M630.7 198.9l0.9 1.9l2.0 1.5M516.4 272.3l1.5 2.3l-1.6 -1.0l1.6 1.1M518.2 296.1l1.8 0.6l1.5 1.7M505.3 163.0l2.3 -1.1l1.7 2.1M275.3 184.9l0.5 2.7l-1.2 -1.2M334.8 144.3l2.4 -0.9l0.5 2.5l1.3 1.8M638.6 214.3l1.0 -2.5l-1.8 -0.0l-0.5 1.8M479.0 218.8l-0.9 2.5l-1.7 -0.1M514.3 183.9l1.4 1.7l-2.2 -0.3l-0.0 1.9M323.3 261.4l2.5 -1.0l0.8 -1.4l0.6 -2.5M479.4 288.7l0.1 2.1l-1.6 2.2l-2.6 -1.0M498.1 228.9l1.1 -1.2l-1.2 -1.8l1.9 0.7M320.4 227.7l0.6 2.6l-2.1 -1.3M268.1 143.4l-1.2 1.8l0.6 -1.7l2.1 -1.0M494.9 237.0l-0.4 -2.4l1.4 1.0M211.2 257.2l-0.1 -2.2l-2.0 -1.7M546.0 237.6l-2.6 -0.6l-0.1 2.2l-0.3 -2.2M222.8 227.3l-1.4 -1.8l1.6 1.3M313.2 171.1l1.2 1.7l-1.9 -1.3M441.4 297.2l-1.4 1.9l-1.8 -1.9l-1.6 -1.4M192.9 170.2l-2.1 0.3l2.3 -1.1l-2.0 0.2M263.2 222.6l-0.8 1.7l-0.9 1.7M411.8 241.1l-0.0 -1.9l-1.0 2.2M416.0 269.2l-1.9 1.6l1.5 1.5M629.5 270.6l1.6 1.0l0.3 -2.3l0.5 1.9M220.0 245.0l1.3 2.2l-0.5 2.1l-1.9 1.8M239.8 192.6l0.0 1.9l2.2 -0.2l1.4 -1.9M240.4 166.3l0.2 -2.0l-1.2 1.3M275.1 198.8l2.5 0.9l2.4 -0.7l-1.7 -0.2M294.3 181.6l-1.8 1.4l-1.7 0.9l1.3 -1.7M498.7 213.7l2.5 -0.5l-1.3 1.7l-1.6 2.2M586.3 206.9l1.5 1.2l-1.3 1.7l-2.6 -0.3M370.6 226.6l2.6 1.0l1.7 0.9l0.9 1.8M433.9 248.0l-1.3 -1.1l1.4 1.0M439.4 237.8l-1.2 2.3l-1.1 2.0M304.1 133.1l-1.7 1.8l1.1 -1.4l-0.6 -2.0M567.0 292.0l-1.7 0.6l-1.5 -1.4l1.8 -0.3M192.8 185.8l-1.3 -2.3l-1.3 -1.2l0.2 -2.2M542.3 278.2l-2.4 -1.1l2.1 1.6M240.4 229.1l1.8 -1.6l0.6 -2.2M463.6 164.4l-1.8 -0.4l0.3 -2.5l-1.8 -0.9M306.1 139.0l-0.7 -1.8l1.9 -0.3M530.2 155.0l0.8 2.6l2.4 -0.8M445.7 241.1l1.6 -0.4l0.3 2.0l2.0 1.1M383.3 282.2l-2.2 -1.5l-2.1 -1.1M506.3 159.9l1.6 -0.5l-1.5 -1.0l1.0 -2.4M388.7 152.2l1.7 0.5l1.3 2.5M230.6 147.9l1.3 -2.1l-2.1 -1.3M578.7 244.7l-0.2 -2.1l-2.0 1.7l2.1 0.1M419.4 220.7l-0.3 1.7l2.2 -1.7l-0.7 1.4M405.6 234.2l-1.3 -1.3l1.4 -1.0M229.8 232.0l-1.2 -2.3l-2.3 -0.6l-1.8 0.7M386.0 184.6l-1.6 0.7l0.5 2.7l2.4 -0.4M611.0 195.2l2.1 -0.5l-2.2 -0.8M328.5 222.6l0.2 2.5l0.5 -1.6l-2.1 0.6M515.6 222.3l-1.3 -2.5l-0.3 2.5M487.1 241.2l1.7 1.7l-1.7 0.6M618.0 304.4l-1.8 1.7l-0.5 1.6l1.6 0.6M510.4 161.1l2.0 1.6l1.7 -1.1l-1.7 1.2M407.0 203.5l-0.7 -2.0l1.5 1.6l-0.9 2.0M219.4 254.8l1.8 -1.4l-0.5 2.0M364.2 201.1l-0.8 -1.8l2.4 0.2l-1.7 2.0M481.6 257.7l-1.0 -2.3l1.4 1.1l1.0 1.3M532.0 170.1l-2.4 -0.9l1.0 1.5M461.4 214.1l-1.1 -1.6l-0.8 -1.5l1.5 -2.2M607.8 204.9l-1.8 -1.6l1.9 0.8l-0.6 -1.8M353.9 221.2l-1.0 2.5l2.0 -1.2l-1.5 -1.8M266.5 140.0l1.6 1.5l-0.8 2.1M361.4 133.4l-0.5 2.3l1.7 1.3M192.7 204.4l0.8 1.4l0.0 -2.5l0.0 -2.3M288.0 215.0l-1.5 -2.3l1.2 -1.4M386.3 193.8l-0.8 1.5l-1.7 -0.6M251.9 186.8l-2.1 -1.5l-1.6 0.5M272.5 261.1l-0.2 2.2l1.5 -1.1l-0.6 2.0M366.3 271.2l0.9 -1.6l-1.7 -1.6l2.4 1.2M211.3 190.1l1.1 2.5l-0.9 -1.7l-1.9 0.5M315.7 193.2l1.4 -2.0l-1.4 2.0M621.5 203.5l1.1 -2.6l-0.7 1.9M446.6 233.0l-1.2 1.9l-1.5 1.5M547.3 183.5l2.0 -0.4l-0.4 1.8M388.6 230.6l1.0 1.6l1.0 -2.1M301.8 242.2l0.7 -2.0l-2.7 0.3M299.2 172.4l-0.1 -2.0l1.5 -0.7M582.7 162.3l-2.3 -0.0l1.2 -1.8l1.2 1.4M246.3 212.5l-2.2 0.6l1.0 2.4M522.9 255.4l-1.3 1.3l2.2 0.3l-2.0 1.0M580.5 187.8l-1.6 0.6l-1.7 1.6l0.9 2.2M539.7 209.6l-2.0 0.4l-1.0 2.3l-2.0 0.5M581.3 210.8l2.4 0.8l-1.2 1.5M239.2 148.6l-1.7 -0.1l0.3 2.1l1.4 -1.1M409.9 284.0l-1.8 0.6l1.9 -0.2M181.5 211.3l1.6 0.8l-0.8 2.1M353.0 140.5l-1.6 -0.0l-1.3 -1.7l0.5 1.8M490.7 216.7l0.1 -2.2l1.3 2.0M429.1 283.6l0.8 2.2l0.5 1.5l2.3 -0.2M615.1 233.0l1.7 0.1l-1.8 -1.3M188.9 165.6l2.1 0.3l2.3 0.4l2.0 -0.4M174.0 217.3l-0.7 2.0l-1.0 1.3l1.7 -0.1M414.6 207.4l-1.3 -1.6l-2.4 -0.4M353.8 146.8l-1.0 2.6l-0.4 -2.1l2.3 0.3M487.8 222.1l-0.0 2.4l2.3 -0.9M607.1 295.3l-1.8 -0.4l1.0 2.2M309.8 205.5l-0.8 1.6l0.9 2.2l1.6 1.3M238.6 261.3l-0.2 -2.4l2.0 0.1l-1.9 1.3M579.9 205.7l1.5 1.4l0.2 -2.0M156.5 206.7l-1.4 -2.0l1.4 -1.4l-1.5 -0.7M379.5 269.3l0.2 -1.6l1.8 -1.4l1.0 -2.3M200.5 173.1l-1.2 1.6l1.8 0.4M429.9 138.0l0.4 -1.8l1.7 -0.5M505.3 200.5l-2.7 0.6l-1.5 1.6l-1.9 -1.5M599.7 162.4l2.8 -0.1l2.4 -0.3l-1.2 1.3M573.8 163.2l0.2 -2.6l-1.4 -1.2l0.9 -2.3M624.9 187.4l-2.2 0.0l-1.0 -1.7l1.1 1.9M378.6 222.5l-2.2 -0.2l-1.8 -0.3M152.9 230.2l-1.1 -2.4l-0.9 -2.1M340.9 182.2l-1.5 -2.2l1.2 -1.3M548.4 251.4l0.2 -2.0l-1.6 1.1l1.2 1.9M623.1 284.2l2.5 0.4l1.4 -1.0l0.2 2.4M511.6 209.8l-1.4 -2.1l2.5 0.4M637.7 233.8l-1.4 2.4l1.9 1.7M170.0 236.0l2.3 0.4l2.7 0.6l0.2 -1.7M437.0 283.0l-0.1 -2.1l1.0 1.8M625.3 169.8l0.9 -2.3l0.9 -1.7M584.2 226.8l1.7 1.3l0.3 -2.1M427.6 236.6l0.3 1.6l1.3 2.4M516.3 218.3l1.2 2.0l-2.5 1.1M530.0 223.8l-1.5 -1.4l-1.2 1.1l0.4 1.6M413.7 165.3l-1.0 -1.3l-1.5 0.7M405.4 282.5l1.8 0.7l0.7 -1.9l-0.5 -1.6M299.0 202.6l-2.7 -0.2l2.3 -0.1l1.0 -1.4M444.8 154.4l0.6 1.7l1.6 1.2M414.3 181.1l2.0 0.8l-1.4 -1.0l2.2 1.7M355.6 255.5l-2.6 0.9l-0.5 2.0M269.6 233.8l-1.5 1.2l-2.7 -0.4M543.2 208.8l-1.3 -2.3l2.4 1.3M440.1 174.9l-0.9 2.3l-0.5 -1.6l-1.8 -1.8M238.2 216.9l1.3 -1.3l0.3 2.2M387.6 162.4l-0.8 -2.1l1.8 -0.4l0.4 1.7M513.1 214.9l-1.9 1.1l-0.7 -1.6l-1.1 -1.3M292.0 168.2l1.1 -1.4l-1.5 -0.9l-0.3 -2.1M551.9 291.4l2.5 -0.2l1.7 -1.1M606.6 167.1l-0.9 -1.9l-1.4 -1.7l0.5 1.7M138.4 240.0l1.3 -1.5l-1.7 -2.1M466.7 184.0l2.8 0.3l0.0 -2.6l0.9 2.2M338.4 249.8l1.7 1.2l-0.5 -2.4l1.6 1.3M186.5 189.3l-1.5 1.1l1.9 1.0M524.9 249.3l1.6 -0.6l-0.1 2.5M416.1 139.6l1.7 1.6l-0.7 1.5l-2.3 1.2M217.2 168.7l1.6 -1.0l-1.4 1.9l-1.4 2.0M117.0 241.6l2.1 -1.5l-0.3 -2.2M409.3 295.6l0.2 2.0l1.9 -1.6M399.4 294.5l1.7 -1.0l1.1 2.0l0.5 -1.7M353.2 218.3l-2.2 -1.6l-0.8 2.4l-2.4 0.3M251.9 208.2l-1.8 0.8l1.3 -1.1l-1.1 -1.9M605.9 212.7l-1.5 1.9l-2.2 0.5M206.8 238.5l-2.2 -1.0l-1.6 1.0M375.0 210.4l-1.0 1.3l-1.5 -1.4M600.6 264.9l1.0 -1.5l1.3 -1.8l-1.4 1.5M478.4 233.4l-1.5 1.1l-2.2 0.5M452.3 215.1l0.0 2.0l0.9 -1.9l-1.2 1.6M551.1 234.4l-0.1 1.7l0.4 -2.0M588.5 223.5l1.3 1.7l-2.1 -1.6M188.8 254.3l-2.1 -1.3l1.6 -1.1l-2.0 1.1M599.4 284.4l-1.6 2.0l0.7 -1.8M448.5 273.4l-1.0 2.0l-1.9 -0.1l-1.9 -0.2M147.3 208.1l-1.5 -0.6l2.1 -1.2l-1.6 -1.6M537.6 184.9l2.1 1.1l-2.5 0.2l1.6 1.0M134.3 225.9l0.2 1.7l1.3 1.6M615.1 237.4l-0.7 1.8l1.2 -1.2M411.0 154.5l1.9 -0.5l0.5 -2.0M279.2 148.4l-2.0 1.0l-1.4 -2.1l1.7 -0.3M454.6 242.8l-1.0 2.0l1.7 0.5M588.6 265.9l0.7 -1.8l2.1 -0.4l0.5 2.0M365.7 135.4l0.8 2.1l2.6 -0.7l-0.6 1.5M480.2 152.9l-0.9 -1.9l-0.2 -1.8M631.4 222.5l-0.7 2.2l-2.6 0.5M587.2 213.6l-1.7 -0.2l2.1 0.0M276.3 245.8l0.5 -1.7l-1.8 -0.6M483.3 207.4l0.6 1.9l2.4 -0.3l-0.9 2.4M248.8 199.9l-1.6 -0.8l-0.7 2.6M486.0 163.4l-2.1 1.0l2.3 1.2l2.1 -1.3M185.2 212.0l1.0 -1.7l2.7 0.1M244.3 266.7l-1.1 2.3l-2.8 -0.3M265.1 136.3l1.6 0.6l1.3 -1.5l2.0 0.7M362.6 285.2l-2.4 0.8l1.0 -2.5l1.1 -2.3M479.8 238.0l-2.3 1.0l-0.3 -1.7M360.5 246.3l-1.6 -1.0l-1.0 -2.0l0.2 -2.8M381.8 154.8l-2.0 -0.1l-1.3 -1.6M475.6 144.5l1.3 1.2l1.0 1.8M406.8 217.1l-0.1 2.7l1.9 0.8M483.4 213.6l0.4 2.6l2.3 0.1l-0.4 -1.6M307.4 224.9l-2.4 0.4l-1.8 0.9l2.0 0.3M590.3 244.2l1.9 0.6l-2.4 -1.4l0.2 -2.5M451.6 234.9l2.6 -0.1l1.7 -0.2M500.4 170.8l2.0 -1.1l-1.1 1.2l2.2 -1.1M550.5 223.1l1.4 1.0l0.9 2.4l1.1 2.1M508.8 279.6l-1.5 -2.4l-2.0 -0.6l2.4 -0.9M237.5 198.0l-0.4 2.1l-2.2 -1.7l-1.5 -1.5M295.3 134.6l-2.0 1.3l1.6 1.2M572.8 250.3l0.3 -2.4l1.3 -1.3M364.5 223.6l1.3 1.7l2.0 -0.5M293.2 250.4l-2.2 -0.6l-1.3 2.4M388.7 214.5l-0.7 -2.4l-1.5 0.9l1.5 0.7M239.7 162.4l0.5 -1.6l-2.1 0.0l1.2 1.1M461.9 184.8l1.7 1.4l2.4 0.1l-0.5 2.2M606.2 291.4l-1.3 2.2l-1.3 1.7l-1.1 1.9M623.9 172.6l0.8 -2.5l-1.8 0.3M377.8 139.8l-1.4 -1.5l-1.9 1.8l-1.2 1.8M294.0 134.2l1.6 -0.5l-1.2 -2.4l-0.4 -2.2M511.7 189.1l-1.7 0.3l-1.0 -2.3l1.5 1.6M613.6 242.8l-2.5 0.2l0.7 -1.9M310.0 200.8l-1.9 -0.2l-2.4 -0.5M428.6 220.1l-0.0 1.7l-1.7 -0.0l-0.2 2.2M568.6 290.1l0.2 -1.7l-1.3 1.5M520.5 243.1l-0.9 1.7l-1.2 -1.1M296.5 209.8l-0.3 1.9l1.8 -1.2M625.6 157.1l-0.9 -2.2l-0.8 1.8l0.2 -2.1M403.0 260.4l-2.3 0.5l1.4 2.2l-0.4 -1.9M623.1 276.9l0.7 1.6l1.4 1.1l-0.7 -1.7M526.9 300.0l-2.3 -1.2l1.8 1.6M487.0 224.0l-0.4 1.8l0.8 1.6l-0.2 -2.2M545.2 273.2l2.3 0.2l1.8 1.2l2.2 1.3M439.7 247.1l-2.3 0.5l-1.1 1.7l0.3 -1.9M196.3 184.3l0.8 2.0l-0.3 1.8M522.0 175.2l0.7 -1.5l2.5 0.5M293.7 193.8l0.9 2.6l1.9 -1.6l1.8 0.8M561.6 221.3l-1.5 -2.0l1.2 2.3M440.4 203.6l2.0 -0.9l0.2 -2.2l1.2 -1.9M249.7 219.8l-2.5 0.3l-1.4 -1.3l-2.8 -0.2M358.4 146.8l0.3 -1.6l2.5 -0.9M179.0 216.3l2.3 -1.4l-1.8 0.5l1.1 -1.6M531.3 202.1l0.5 2.6l-0.4 2.0l-1.4 -2.2M124.4 243.4l-1.3 -1.5l-1.4 -1.4l2.5 -0.8M327.6 263.5l-1.9 1.9l-1.6 2.2l1.0 -1.7M335.0 199.5l-2.3 -0.2l0.9 -1.4M317.3 218.9l-0.5 -1.6l-1.1 1.5M396.2 186.7l-0.2 2.4l1.5 0.7M465.4 189.2l-2.0 0.1l0.0 2.3l1.7 -0.9M600.7 177.0l-2.2 -0.3l2.5 0.9M333.8 180.3l0.5 -2.6l1.7 -0.1M388.1 173.4l-2.4 -0.6l-2.4 0.8l1.3 -1.3M461.6 198.2l1.3 2.4l-0.4 -2.0M482.4 175.4l1.8 0.9l1.6 -0.2M346.5 225.8l-0.8 1.9l0.8 -2.3M488.0 244.0l-0.1 -2.8l-1.4 1.7M331.7 136.3l-0.3 -2.6l-0.2 1.8M457.5 184.8l1.3 2.1l2.5 -0.1M590.3 164.5l-0.9 1.3l1.3 2.0l-0.4 1.7M232.7 154.8l-0.8 -2.1l2.1 1.4M178.0 249.6l1.0 1.9l-1.8 -1.7l-0.8 1.4M412.3 167.7l-1.6 0.6l-0.7 2.4l1.2 2.0M537.6 248.4l-0.9 -2.2l-2.4 1.0M331.5 235.5l-0.6 2.5l-0.1 -2.3l0.5 -1.6M454.6 203.8l-2.5 1.1l2.1 1.3M610.9 191.0l-1.7 -1.8l2.2 1.1l1.6 -1.4M518.0 284.2l-1.9 1.2l1.0 2.3l-1.6 -0.8M301.5 190.7l1.9 1.4l1.2 -2.3l-2.6 0.7M377.0 167.9l1.2 1.1l1.9 2.0M213.3 144.4l-1.3 -1.9l-0.0 -2.2l1.7 0.1M471.0 216.8l2.6 0.5l2.2 0.1l0.7 2.0M616.4 302.9l1.7 -0.9l-1.7 -1.6l-0.3 1.9M572.1 299.5l2.3 -1.2l-2.6 0.8l0.8 2.1M571.8 237.0l-0.9 -1.5l-1.8 -0.0M434.6 202.9l-2.2 -0.5l-0.3 2.2l-0.7 -2.6M329.4 147.7l-1.1 -1.6l-1.7 1.4l1.4 0.8M396.0 172.2l2.1 -1.6l1.4 -0.7l1.8 -0.3M410.3 286.5l-2.5 1.0l-0.6 2.3M258.7 229.6l1.6 1.6l-1.8 1.2l2.4 -0.2M212.9 243.1l0.5 2.2l-0.7 -1.5M399.7 181.9l-1.6 0.1l1.6 -2.3l1.8 -1.3M143.2 212.5l0.8 1.6l-1.5 1.5M382.4 275.4l-2.4 -0.7l-2.4 -1.2l1.0 2.4M209.7 155.2l1.6 -0.9l1.7 1.5M265.0 272.5l-1.4 -1.7l1.9 -0.1M225.4 240.5l1.1 1.2l-1.1 -2.4l-0.4 1.8M482.5 214.4l0.3 2.4l-1.9 -0.6l-2.2 0.9M160.9 209.9l0.7 -2.2l-1.6 -0.1l-0.8 -1.9M607.9 194.3l1.3 -2.4l-1.7 2.1l2.3 0.1M400.8 199.9l1.1 -1.7l-1.0 2.1l-2.3 0.4M576.8 230.1l-2.4 -0.5l1.2 1.1M287.4 174.0l1.7 0.7l-2.1 -1.8l-1.4 -1.6M554.1 191.9l-0.6 -1.9l-2.1 1.7l1.4 1.8M425.7 225.0l-1.3 1.1l-2.1 0.0l0.5 -1.7M497.1 150.9l-2.4 -0.6l-0.3 -2.5M452.9 236.4l1.0 1.9l-1.2 -1.1l0.0 -2.3M635.2 245.4l0.8 -2.5l1.5 -0.5l-0.9 -1.5M617.3 212.9l0.4 2.1l2.2 0.3M551.0 210.4l-0.8 -2.1l0.6 -2.5M217.1 197.2l-1.4 -1.3l-0.6 -1.7M140.6 230.4l0.1 2.1l2.4 -1.4l0.3 1.8M218.3 253.3l-2.6 -0.2l1.2 -1.5l-1.1 2.6M193.8 251.1l1.0 -1.7l1.8 1.7M433.5 255.2l1.0 1.8l-1.8 0.8M613.3 176.1l-2.4 -1.3l1.4 -1.7M468.8 195.5l-2.1 0.4l-1.3 -1.6l-1.8 0.8M582.8 276.8l2.2 -0.4l1.8 -1.4l0.3 2.2M512.4 234.0l-0.5 -2.7l0.2 -1.8l0.1 2.4M623.2 300.5l-0.6 -1.6l-1.7 -1.1l-0.3 -2.7M282.6 276.2l-1.4 -2.0l-1.6 -0.9M466.6 279.6l1.6 -1.3l-2.7 0.0M533.1 206.4l-0.5 -1.6l1.9 -1.0M313.4 271.2l-2.6 -1.1l-1.6 -1.2M453.5 222.5l-2.5 1.2l0.3 -2.2M221.5 145.5l-0.5 -2.6l-2.1 0.6M507.0 248.7l0.5 -2.6l-1.2 -1.8M321.6 233.3l-1.3 -2.1l0.8 -1.5l-1.6 2.0M374.1 222.5l-2.3 1.0l2.5 0.2l-1.9 -1.4M349.5 198.2l-2.4 0.6l-1.7 0.4l-1.5 -2.0M472.6 141.2l-1.1 2.3l2.2 1.5M473.8 296.4l1.5 -0.7l2.0 0.5M511.0 223.2l0.4 1.9l2.1 -1.5M290.9 138.6l2.2 -0.9l-2.2 1.1M149.9 222.5l-2.5 -0.2l-2.5 0.8M575.3 284.6l-1.2 1.2l0.4 2.4l0.8 -2.7M199.0 262.3l1.4 1.5l-1.3 1.8M535.9 211.2l0.9 2.0l-0.8 2.6l2.2 -1.2M563.5 155.5l-1.7 0.1l-2.5 -0.8l0.9 -1.9M281.2 217.7l2.6 -0.1l1.4 -1.8l1.6 -0.3M492.4 205.3l-2.3 -1.0l1.1 1.9M311.6 199.7l-0.9 -2.4l-1.0 -1.9M220.8 211.8l-2.1 0.7l1.6 -0.5l0.1 1.6M481.3 188.7l1.4 -0.8l1.1 1.3l-2.0 -1.4M457.6 213.7l-0.3 2.0l2.4 -0.4l-1.3 -1.0M255.6 223.7l2.6 -0.3l1.5 -0.7l-1.4 0.8M617.8 159.3l1.7 1.5l1.8 0.3l2.0 1.4M246.7 217.1l-2.3 -0.8l2.5 -0.9M194.1 178.2l-2.2 -1.4l-0.6 -1.7l-2.6 -0.8M588.5 204.5l2.0 1.2l1.5 -1.4M225.9 233.5l-0.1 1.8l-1.4 -1.0l-1.1 1.6M160.9 218.8l0.4 2.2l-2.0 -1.7l-2.5 0.8M396.2 178.8l0.2 -1.6l2.3 -0.4M502.1 237.0l-0.1 -1.8l-2.3 -0.3l1.7 1.4M591.1 235.4l-1.8 -2.0l0.7 2.6M480.0 274.0l2.3 -0.5l-0.7 2.2M252.7 208.8l-1.6 -2.1l0.7 -1.7l-0.4 -1.7M571.1 226.3l-1.4 -2.0l-1.8 -1.0M501.9 265.3l1.1 1.7l1.4 -0.8l-0.7 -2.0M249.9 237.6l1.6 -0.6l1.3 2.3l-1.3 -1.0M302.6 210.1l1.8 -0.4l-2.4 0.2M386.5 246.7l-0.0 -2.1l-1.4 -2.0M187.0 179.5l1.9 -1.9l-1.3 -2.4M558.6 307.2l1.7 -1.2l2.0 0.2l-1.8 -1.8M511.5 150.7l0.0 2.7l1.2 1.6M166.9 187.9l1.4 0.9l-2.1 -1.7M145.6 209.5l2.0 -0.0l0.2 1.8l-1.0 2.1M286.9 260.3l0.9 -1.5l0.9 1.4l-0.1 2.1M555.5 152.5l-1.9 -0.3l-2.1 1.2M595.4 290.0l-1.8 -0.0l-2.6 -0.1M405.1 220.1l1.6 1.3l2.6 0.8M191.8 181.0l-1.3 2.0l2.0 -1.0M218.9 157.3l-1.5 -1.1l-1.3 -1.5M431.6 181.6l-1.3 -1.4l0.5 -2.5M514.5 228.9l0.8 2.2l0.1 1.7M557.5 216.5l-2.0 0.8l-1.9 1.5M441.3 165.3l1.1 1.9l-0.1 -2.6l1.9 -0.6M475.9 197.2l-0.2 1.6l-1.4 1.7M489.6 231.0l-1.9 2.0l1.3 1.0l-2.5 -0.5M441.2 223.6l-1.9 -1.4l-1.4 1.1l0.1 -1.7M486.0 182.5l-0.1 -2.4l1.1 -1.3l1.8 -1.4M357.6 210.6l1.7 0.1l0.5 -2.3l1.9 -1.2M375.5 169.3l-0.6 1.9l-2.0 -0.9M418.2 169.3l-2.0 -0.5l1.9 0.5M211.3 164.0l0.4 2.5l1.4 -1.3M583.2 189.1l-2.1 -1.8l1.2 -1.3l-2.1 1.3M575.3 259.7l0.6 2.2l-1.2 2.3l-0.4 -2.1M245.2 225.3l-1.1 -1.6l1.3 -1.6l1.3 -1.9M440.7 141.4l-1.4 -1.0l1.8 -0.8M380.2 214.1l-1.6 -0.3l1.7 -0.2M462.2 175.0l1.9 0.9l-2.2 -0.8M591.3 238.3l0.1 -2.5l1.8 -0.2M577.7 177.8l0.8 -1.5l1.2 -1.1M484.2 283.4l-1.8 -0.4l-0.0 2.0l-1.2 -1.9M551.9 167.2l0.3 1.9l-1.7 -0.9M300.0 293.0l1.8 0.9l0.1 1.7M330.0 300.0l-2.2 1.6l1.0 1.8l0.4 2.2M352.0 322.0l-1.3 -2.3l-1.9 1.1M387.0 275.0l-1.3 1.4l0.4 -1.8l-1.2 1.9M410.0 285.0l0.0 1.7l-1.5 -1.7l2.2 0.3M582.0 335.0l1.0 -1.4l-0.7 -1.9l1.5 2.0M565.0 344.0l-0.8 -2.0l-0.4 2.5M555.0 357.0l0.7 -2.3l-0.1 2.4M530.0 360.0l1.6 1.1l-2.0 0.2l-2.1 -1.7M520.0 372.0l-1.3 -1.3l-1.9 0.1M604.0 301.0l-2.1 -0.9l0.4 2.0l0.8 2.2M612.0 312.0l0.7 2.3l-0.5 1.6M640.0 305.0l2.4 -1.3l-2.2 1.1"/></defs>
<use href="#pp" fill="none" stroke="#a3a7a8" stroke-width="2.3" stroke-linecap="round" stroke-linejoin="round" opacity="0.7"/>
<use href="#pp" fill="none" stroke="#f4f6f6" stroke-width="1.1" stroke-linecap="round" stroke-linejoin="round" opacity="0.6" stroke-dasharray="0.9 2.1"/>
<use href="#pp" fill="none" stroke="#37393a" stroke-width="1.05" stroke-linecap="round" stroke-linejoin="round" opacity="0.75" stroke-dasharray="1.5 1.5"/>
<g stroke="#7a4cb8" stroke-width="1.2" fill="none">
<line x1="50.2" y1="330.5" x2="50.2" y2="250"/>
<line x1="50.2" y1="331" x2="534" y2="381.2"/>
<line x1="542.5" y1="382.3" x2="737" y2="231"/>
<line x1="50.2" y1="263.6" x2="46" y2="263.6"/><line x1="50.2" y1="324.2" x2="46" y2="324.2"/>
<line x1="170.8" y1="343.6" x2="170.8" y2="346.5"/><line x1="293" y1="356.3" x2="293" y2="359.3"/><line x1="415" y1="369" x2="415" y2="372"/>
<line x1="639.9" y1="307.5" x2="636" y2="309.5"/><line x1="733.6" y1="234.5" x2="730" y2="236.5"/>
</g>
<polygon points="50.2,243.5 46.2,252 54.2,252" fill="#7a4cb8"/>
<polygon points="542,382 533,377.5 533.8,385.5" fill="#7a4cb8"/>
<polygon points="745,225 734.5,229.5 740.5,236.5" fill="#7a4cb8"/>
<text x="6.6" y="216.0" font-size="22" text-anchor="start" fill="#111" >Z (nm)</text>
<text x="40.5" y="271.4" font-size="20" text-anchor="end" fill="#111" >140</text>
<text x="40.5" y="330.6" font-size="20" text-anchor="end" fill="#111" >40</text>
<text transform="matrix(0.995,0.105,-0.47,0.883,37.3,350.9)" font-size="21" fill="#111" text-anchor="middle">0</text>
<text transform="matrix(0.995,0.105,-0.47,0.883,160.5,365.2)" font-size="21" fill="#111" text-anchor="middle">200</text>
<text transform="matrix(0.995,0.105,-0.47,0.883,282.1,379.2)" font-size="21" fill="#111" text-anchor="middle">400</text>
<text transform="matrix(0.995,0.105,-0.47,0.883,402.2,393.6)" font-size="21" fill="#111" text-anchor="middle">600</text>
<text transform="matrix(0.995,0.105,-0.47,0.883,522.0,407.0)" font-size="21" fill="#111" text-anchor="middle">800</text>
<text transform="matrix(0.995,0.105,-0.47,0.883,263.9,411.9)" font-size="21" fill="#111" text-anchor="middle">X (nm)</text>
<text transform="matrix(0.978,0.208,-0.643,0.766,551.9,393.6)" font-size="21" fill="#111" text-anchor="middle">0</text>
<text transform="matrix(0.978,0.208,-0.643,0.766,658.0,323.2)" font-size="21" fill="#111" text-anchor="middle">250</text>
<text transform="matrix(0.978,0.208,-0.643,0.766,753.7,252.4)" font-size="21" fill="#111" text-anchor="middle">500</text>
<text transform="matrix(0.866,-0.5,0.766,0.643,705.6,340.3)" font-size="21" fill="#111" text-anchor="middle">Y (nm)</text>
<text x="48.3" y="74.8" font-size="23.5" text-anchor="start" fill="#111" textLength="643.4" lengthAdjust="spacingAndGlyphs" >3D structures of photoresist polymers at gas-liquid interface</text>
<line x1="273" y1="86.5" x2="281" y2="114" stroke="#222" stroke-width="1.3"/><polygon points="283,121 277,111 284.5,109.5" fill="#222"/>
<rect x="881.5" y="140.9" width="290.4" height="174.9" fill="url(#bandg)"/>
<g fill="url(#dotg)">
<circle cx="919.1" cy="161.7" r="2.6"/><circle cx="929.3" cy="161.4" r="2.6"/><circle cx="949.1" cy="164.0" r="2.6"/><circle cx="901.7" cy="160.2" r="2.6"/><circle cx="920.8" cy="163.2" r="2.6"/><circle cx="977.7" cy="162.0" r="2.6"/><circle cx="965.4" cy="162.0" r="2.6"/><circle cx="950.1" cy="163.6" r="2.6"/><circle cx="949.8" cy="160.1" r="2.6"/><circle cx="941.2" cy="160.7" r="2.6"/><circle cx="952.6" cy="164.0" r="2.6"/><circle cx="959.4" cy="161.4" r="2.6"/><circle cx="924.0" cy="164.1" r="2.6"/><circle cx="967.7" cy="162.0" r="2.6"/><circle cx="956.3" cy="160.0" r="2.6"/><circle cx="955.9" cy="159.8" r="2.6"/><circle cx="931.3" cy="160.4" r="2.6"/><circle cx="935.1" cy="159.8" r="2.6"/><circle cx="968.7" cy="163.8" r="2.6"/><circle cx="911.2" cy="163.2" r="2.6"/><circle cx="975.4" cy="162.2" r="2.6"/><circle cx="949.2" cy="162.8" r="2.6"/><circle cx="939.9" cy="162.4" r="2.6"/><circle cx="927.9" cy="161.5" r="2.6"/><circle cx="945.9" cy="159.9" r="2.6"/><circle cx="953.5" cy="159.8" r="2.6"/><circle cx="966.9" cy="159.5" r="2.6"/><circle cx="952.6" cy="163.5" r="2.6"/><circle cx="967.3" cy="159.6" r="2.6"/><circle cx="970.7" cy="161.5" r="2.6"/><circle cx="955.9" cy="163.3" r="2.6"/><circle cx="965.0" cy="161.5" r="2.6"/><circle cx="922.8" cy="164.0" r="2.6"/><circle cx="966.8" cy="159.5" r="2.6"/><circle cx="907.6" cy="160.4" r="2.6"/><circle cx="932.5" cy="163.6" r="2.6"/><circle cx="923.4" cy="160.6" r="2.6"/><circle cx="968.2" cy="164.1" r="2.6"/><circle cx="948.2" cy="164.1" r="2.6"/><circle cx="956.3" cy="162.7" r="2.6"/><circle cx="968.8" cy="159.6" r="2.6"/><circle cx="939.8" cy="159.5" r="2.6"/><circle cx="924.7" cy="163.9" r="2.6"/><circle cx="947.1" cy="164.1" r="2.6"/><circle cx="916.0" cy="162.3" r="2.6"/><circle cx="947.9" cy="163.5" r="2.6"/><circle cx="904.0" cy="160.1" r="2.6"/><circle cx="925.0" cy="159.7" r="2.6"/><circle cx="970.1" cy="162.5" r="2.6"/><circle cx="936.3" cy="161.8" r="2.6"/><circle cx="950.5" cy="161.4" r="2.6"/><circle cx="944.0" cy="161.3" r="2.6"/><circle cx="973.5" cy="161.8" r="2.6"/><circle cx="934.1" cy="160.8" r="2.6"/><circle cx="919.1" cy="162.8" r="2.6"/><circle cx="976.3" cy="161.8" r="2.6"/><circle cx="943.1" cy="164.2" r="2.6"/><circle cx="932.8" cy="161.5" r="2.6"/><circle cx="902.3" cy="161.3" r="2.6"/><circle cx="949.6" cy="164.0" r="2.6"/><circle cx="949.2" cy="162.0" r="2.6"/><circle cx="953.2" cy="162.6" r="2.6"/><circle cx="955.4" cy="160.7" r="2.6"/><circle cx="902.4" cy="164.0" r="2.6"/><circle cx="953.0" cy="159.6" r="2.6"/><circle cx="920.1" cy="162.1" r="2.6"/><circle cx="946.6" cy="162.7" r="2.6"/><circle cx="928.9" cy="162.8" r="2.6"/><circle cx="929.3" cy="161.4" r="2.6"/><circle cx="924.0" cy="162.5" r="2.6"/><circle cx="1030.6" cy="163.1" r="2.6"/><circle cx="1014.2" cy="154.0" r="2.6"/><circle cx="993.4" cy="160.6" r="2.6"/><circle cx="1033.1" cy="160.4" r="2.6"/><circle cx="983.5" cy="157.9" r="2.6"/><circle cx="1024.6" cy="162.2" r="2.6"/><circle cx="994.3" cy="159.2" r="2.6"/><circle cx="1035.5" cy="157.8" r="2.6"/><circle cx="1037.3" cy="161.3" r="2.6"/><circle cx="995.5" cy="155.1" r="2.6"/><circle cx="1039.7" cy="157.7" r="2.6"/><circle cx="986.5" cy="161.9" r="2.6"/><circle cx="1011.0" cy="161.0" r="2.6"/><circle cx="1033.4" cy="152.7" r="2.6"/><circle cx="983.2" cy="159.9" r="2.6"/><circle cx="1033.4" cy="155.2" r="2.6"/><circle cx="1033.3" cy="159.0" r="2.6"/><circle cx="978.8" cy="159.7" r="2.6"/><circle cx="1032.3" cy="160.0" r="2.6"/><circle cx="996.3" cy="158.1" r="2.6"/><circle cx="1002.2" cy="158.2" r="2.6"/><circle cx="1042.5" cy="161.5" r="2.6"/><circle cx="968.8" cy="151.3" r="2.6"/><circle cx="1039.3" cy="150.8" r="2.6"/><circle cx="1003.4" cy="151.2" r="2.6"/><circle cx="1043.1" cy="160.6" r="2.6"/><circle cx="1028.4" cy="152.7" r="2.6"/><circle cx="1021.8" cy="156.8" r="2.6"/><circle cx="991.7" cy="159.1" r="2.6"/><circle cx="986.7" cy="162.6" r="2.6"/><circle cx="1015.8" cy="159.8" r="2.6"/><circle cx="1033.6" cy="162.9" r="2.6"/><circle cx="1041.2" cy="154.5" r="2.6"/><circle cx="1042.8" cy="151.9" r="2.6"/><circle cx="1040.9" cy="156.0" r="2.6"/><circle cx="969.4" cy="153.9" r="2.6"/><circle cx="982.2" cy="159.6" r="2.6"/><circle cx="1021.8" cy="156.7" r="2.6"/><circle cx="1001.7" cy="151.4" r="2.6"/><circle cx="1017.7" cy="159.1" r="2.6"/><circle cx="988.7" cy="152.4" r="2.6"/><circle cx="1006.8" cy="153.4" r="2.6"/><circle cx="996.7" cy="160.9" r="2.6"/><circle cx="1011.4" cy="153.0" r="2.6"/><circle cx="982.2" cy="153.3" r="2.6"/><circle cx="1042.6" cy="153.1" r="2.6"/><circle cx="1034.7" cy="163.4" r="2.6"/><circle cx="1019.0" cy="152.4" r="2.6"/><circle cx="972.4" cy="160.0" r="2.6"/><circle cx="990.0" cy="156.7" r="2.6"/><circle cx="1002.5" cy="157.4" r="2.6"/><circle cx="1030.9" cy="163.5" r="2.6"/><circle cx="972.8" cy="161.9" r="2.6"/><circle cx="978.4" cy="162.6" r="2.6"/><circle cx="1046.9" cy="152.5" r="2.6"/><circle cx="975.3" cy="157.0" r="2.6"/><circle cx="993.8" cy="159.4" r="2.6"/><circle cx="996.7" cy="155.1" r="2.6"/><circle cx="1015.6" cy="158.8" r="2.6"/><circle cx="983.8" cy="159.2" r="2.6"/><circle cx="978.4" cy="156.3" r="2.6"/><circle cx="1026.1" cy="158.6" r="2.6"/><circle cx="974.8" cy="161.2" r="2.6"/><circle cx="998.5" cy="155.7" r="2.6"/><circle cx="1031.4" cy="158.6" r="2.6"/><circle cx="1032.9" cy="155.5" r="2.6"/><circle cx="1003.1" cy="158.7" r="2.6"/><circle cx="1008.3" cy="154.4" r="2.6"/><circle cx="1002.3" cy="154.5" r="2.6"/><circle cx="1005.5" cy="160.3" r="2.6"/><circle cx="1011.5" cy="154.5" r="2.6"/><circle cx="974.1" cy="158.0" r="2.6"/><circle cx="1002.7" cy="152.1" r="2.6"/><circle cx="1043.8" cy="158.7" r="2.6"/><circle cx="1040.7" cy="153.3" r="2.6"/><circle cx="989.5" cy="157.5" r="2.6"/><circle cx="978.3" cy="153.0" r="2.6"/><circle cx="1021.7" cy="152.0" r="2.6"/><circle cx="1032.2" cy="154.9" r="2.6"/><circle cx="1027.5" cy="156.2" r="2.6"/><circle cx="1053.3" cy="153.3" r="2.6"/><circle cx="1049.1" cy="159.8" r="2.6"/><circle cx="1081.4" cy="161.2" r="2.6"/><circle cx="1052.8" cy="160.4" r="2.6"/><circle cx="1085.8" cy="159.3" r="2.6"/><circle cx="1049.9" cy="149.7" r="2.6"/><circle cx="1054.0" cy="149.6" r="2.6"/><circle cx="1077.1" cy="149.7" r="2.6"/><circle cx="1088.8" cy="153.5" r="2.6"/><circle cx="1082.4" cy="161.3" r="2.6"/><circle cx="1081.1" cy="154.5" r="2.6"/><circle cx="1078.9" cy="160.3" r="2.6"/><circle cx="1080.3" cy="148.3" r="2.6"/><circle cx="1051.5" cy="157.2" r="2.6"/><circle cx="1072.6" cy="149.9" r="2.6"/><circle cx="1059.1" cy="159.3" r="2.6"/><circle cx="1059.4" cy="152.9" r="2.6"/><circle cx="1080.5" cy="156.2" r="2.6"/><circle cx="1064.3" cy="156.1" r="2.6"/><circle cx="1063.6" cy="155.8" r="2.6"/><circle cx="1052.4" cy="154.6" r="2.6"/><circle cx="1089.7" cy="155.9" r="2.6"/><circle cx="1080.2" cy="159.5" r="2.6"/><circle cx="1077.9" cy="150.9" r="2.6"/><circle cx="1077.2" cy="154.4" r="2.6"/><circle cx="1069.2" cy="152.5" r="2.6"/><circle cx="1086.5" cy="159.7" r="2.6"/><circle cx="1052.9" cy="151.0" r="2.6"/><circle cx="1087.3" cy="154.4" r="2.6"/><circle cx="1067.5" cy="151.4" r="2.6"/><circle cx="1056.7" cy="158.0" r="2.6"/><circle cx="1057.3" cy="153.4" r="2.6"/><circle cx="1062.1" cy="158.5" r="2.6"/><circle cx="1077.9" cy="148.0" r="2.6"/><circle cx="1061.3" cy="151.6" r="2.6"/><circle cx="1066.2" cy="149.5" r="2.6"/><circle cx="1073.4" cy="158.0" r="2.6"/><circle cx="1058.0" cy="161.5" r="2.6"/><circle cx="1069.0" cy="156.3" r="2.6"/><circle cx="1056.1" cy="156.6" r="2.6"/><circle cx="1062.4" cy="150.6" r="2.6"/><circle cx="1054.9" cy="147.5" r="2.6"/><circle cx="1069.0" cy="153.2" r="2.6"/><circle cx="1068.5" cy="149.8" r="2.6"/><circle cx="1083.3" cy="153.8" r="2.6"/><circle cx="1069.1" cy="151.4" r="2.6"/><circle cx="1084.8" cy="156.1" r="2.6"/><circle cx="1079.7" cy="147.9" r="2.6"/><circle cx="1068.5" cy="158.5" r="2.6"/><circle cx="1058.8" cy="151.5" r="2.6"/><circle cx="1077.2" cy="148.0" r="2.6"/><circle cx="1084.7" cy="158.4" r="2.6"/><circle cx="1056.9" cy="158.1" r="2.6"/><circle cx="1056.8" cy="151.7" r="2.6"/><circle cx="1084.9" cy="148.8" r="2.6"/><circle cx="1059.6" cy="149.3" r="2.6"/><circle cx="1062.1" cy="155.7" r="2.6"/><circle cx="1079.5" cy="160.6" r="2.6"/><circle cx="1052.8" cy="149.8" r="2.6"/><circle cx="1061.2" cy="156.7" r="2.6"/><circle cx="1073.2" cy="152.1" r="2.6"/><circle cx="1049.2" cy="157.0" r="2.6"/><circle cx="1067.2" cy="154.8" r="2.6"/><circle cx="1057.7" cy="153.4" r="2.6"/><circle cx="1088.9" cy="156.2" r="2.6"/><circle cx="1071.7" cy="160.1" r="2.6"/><circle cx="1060.4" cy="152.2" r="2.6"/><circle cx="1053.6" cy="149.0" r="2.6"/><circle cx="1087.0" cy="160.5" r="2.6"/><circle cx="1088.4" cy="156.4" r="2.6"/><circle cx="1107.1" cy="146.7" r="2.6"/><circle cx="1087.1" cy="147.3" r="2.6"/><circle cx="1102.1" cy="146.4" r="2.6"/><circle cx="1085.8" cy="146.7" r="2.6"/><circle cx="1115.0" cy="147.3" r="2.6"/><circle cx="1097.2" cy="151.4" r="2.6"/><circle cx="1095.4" cy="149.6" r="2.6"/><circle cx="1104.8" cy="147.3" r="2.6"/><circle cx="1098.4" cy="150.9" r="2.6"/><circle cx="1101.8" cy="147.6" r="2.6"/><circle cx="1082.2" cy="145.7" r="2.6"/><circle cx="1102.2" cy="151.3" r="2.6"/><circle cx="1113.7" cy="151.2" r="2.6"/><circle cx="1088.6" cy="147.0" r="2.6"/><circle cx="1099.7" cy="148.2" r="2.6"/><circle cx="1101.8" cy="148.9" r="2.6"/><circle cx="1087.8" cy="150.9" r="2.6"/><circle cx="1077.6" cy="147.0" r="2.6"/><circle cx="1106.3" cy="148.3" r="2.6"/><circle cx="1105.7" cy="149.6" r="2.6"/><circle cx="1085.8" cy="149.4" r="2.6"/><circle cx="1111.3" cy="151.9" r="2.6"/><circle cx="1095.9" cy="150.4" r="2.6"/><circle cx="1106.9" cy="149.6" r="2.6"/><circle cx="1088.7" cy="149.3" r="2.6"/><circle cx="1097.4" cy="146.6" r="2.6"/><circle cx="1089.5" cy="146.1" r="2.6"/><circle cx="1079.4" cy="150.2" r="2.6"/><circle cx="1078.9" cy="151.4" r="2.6"/><circle cx="1107.3" cy="146.9" r="2.6"/><circle cx="1082.5" cy="150.8" r="2.6"/><circle cx="1092.2" cy="146.8" r="2.6"/><circle cx="1108.9" cy="146.8" r="2.6"/><circle cx="1099.5" cy="151.1" r="2.6"/><circle cx="1091.4" cy="150.8" r="2.6"/><circle cx="1096.8" cy="148.1" r="2.6"/><circle cx="1083.2" cy="150.4" r="2.6"/><circle cx="1107.5" cy="152.0" r="2.6"/><circle cx="1108.4" cy="145.7" r="2.6"/><circle cx="1114.5" cy="149.4" r="2.6"/><circle cx="1097.9" cy="148.0" r="2.6"/><circle cx="1101.3" cy="145.1" r="2.6"/><circle cx="1103.5" cy="150.0" r="2.6"/><circle cx="1110.7" cy="148.7" r="2.6"/><circle cx="1099.9" cy="146.9" r="2.6"/><circle cx="1074.8" cy="146.6" r="2.6"/><circle cx="1102.4" cy="148.6" r="2.6"/><circle cx="1096.6" cy="148.9" r="2.6"/><circle cx="1082.8" cy="148.4" r="2.6"/><circle cx="1076.3" cy="148.6" r="2.6"/><circle cx="1135.3" cy="148.1" r="2.6"/><circle cx="1133.0" cy="145.2" r="2.6"/><circle cx="1142.5" cy="149.8" r="2.6"/><circle cx="1139.6" cy="147.1" r="2.6"/><circle cx="1118.1" cy="148.6" r="2.6"/><circle cx="1123.4" cy="150.2" r="2.6"/><circle cx="1132.2" cy="145.3" r="2.6"/><circle cx="1126.0" cy="145.7" r="2.6"/><circle cx="1136.7" cy="149.8" r="2.6"/><circle cx="1141.5" cy="147.2" r="2.6"/><circle cx="1143.5" cy="146.6" r="2.6"/><circle cx="1138.0" cy="148.7" r="2.6"/><circle cx="1140.0" cy="145.3" r="2.6"/><circle cx="1141.6" cy="148.1" r="2.6"/><circle cx="988.2" cy="180.1" r="2.6"/><circle cx="980.9" cy="194.4" r="2.6"/><circle cx="980.5" cy="189.3" r="2.6"/><circle cx="981.5" cy="179.7" r="2.6"/><circle cx="987.5" cy="178.4" r="2.6"/><circle cx="984.4" cy="174.8" r="2.6"/><circle cx="983.1" cy="180.8" r="2.6"/><circle cx="988.2" cy="182.8" r="2.6"/><circle cx="981.7" cy="166.7" r="2.6"/><circle cx="987.8" cy="183.9" r="2.6"/><circle cx="983.8" cy="178.7" r="2.6"/><circle cx="986.4" cy="188.5" r="2.6"/><circle cx="979.7" cy="189.0" r="2.6"/><circle cx="988.5" cy="191.1" r="2.6"/><circle cx="984.8" cy="189.4" r="2.6"/><circle cx="982.0" cy="190.2" r="2.6"/><circle cx="984.2" cy="190.3" r="2.6"/><circle cx="980.0" cy="192.2" r="2.6"/><circle cx="981.6" cy="179.9" r="2.6"/><circle cx="980.3" cy="195.0" r="2.6"/><circle cx="984.7" cy="182.6" r="2.6"/><circle cx="987.6" cy="194.1" r="2.6"/><circle cx="984.2" cy="182.9" r="2.6"/><circle cx="980.0" cy="164.6" r="2.6"/><circle cx="982.1" cy="192.7" r="2.6"/><circle cx="985.0" cy="190.4" r="2.6"/><circle cx="986.7" cy="184.6" r="2.6"/><circle cx="981.1" cy="194.1" r="2.6"/><circle cx="987.9" cy="186.9" r="2.6"/><circle cx="988.5" cy="180.7" r="2.6"/><circle cx="990.2" cy="186.0" r="2.6"/><circle cx="982.5" cy="187.2" r="2.6"/><circle cx="988.8" cy="175.4" r="2.6"/><circle cx="983.5" cy="192.7" r="2.6"/><circle cx="987.4" cy="164.5" r="2.6"/><circle cx="986.3" cy="195.6" r="2.6"/><circle cx="980.0" cy="192.8" r="2.6"/><circle cx="981.6" cy="194.5" r="2.6"/><circle cx="980.3" cy="174.6" r="2.6"/><circle cx="989.8" cy="189.3" r="2.6"/><circle cx="990.6" cy="180.4" r="2.6"/><circle cx="988.7" cy="166.2" r="2.6"/><circle cx="990.3" cy="194.6" r="2.6"/><circle cx="983.1" cy="176.2" r="2.6"/><circle cx="990.3" cy="192.9" r="2.6"/><circle cx="983.0" cy="168.3" r="2.6"/><circle cx="981.0" cy="183.2" r="2.6"/><circle cx="983.4" cy="173.8" r="2.6"/><circle cx="990.1" cy="190.1" r="2.6"/><circle cx="988.0" cy="172.1" r="2.6"/><circle cx="989.1" cy="177.9" r="2.6"/><circle cx="990.1" cy="184.0" r="2.6"/><circle cx="984.3" cy="188.3" r="2.6"/><circle cx="988.5" cy="180.2" r="2.6"/><circle cx="982.7" cy="190.3" r="2.6"/><circle cx="987.8" cy="176.2" r="2.6"/><circle cx="987.7" cy="183.3" r="2.6"/><circle cx="985.2" cy="190.8" r="2.6"/><circle cx="987.7" cy="195.0" r="2.6"/><circle cx="984.9" cy="171.3" r="2.6"/><circle cx="1007.7" cy="184.2" r="2.6"/><circle cx="1002.0" cy="169.7" r="2.6"/><circle cx="1007.3" cy="169.1" r="2.6"/><circle cx="1010.2" cy="177.4" r="2.6"/><circle cx="1010.6" cy="171.9" r="2.6"/><circle cx="1003.3" cy="178.9" r="2.6"/><circle cx="999.9" cy="178.3" r="2.6"/><circle cx="1011.3" cy="184.0" r="2.6"/><circle cx="1006.3" cy="183.9" r="2.6"/><circle cx="1000.0" cy="173.5" r="2.6"/><circle cx="1002.1" cy="185.1" r="2.6"/><circle cx="1001.0" cy="173.6" r="2.6"/><circle cx="1006.5" cy="185.8" r="2.6"/><circle cx="1002.0" cy="167.3" r="2.6"/><circle cx="1001.8" cy="175.2" r="2.6"/><circle cx="1004.4" cy="170.9" r="2.6"/><circle cx="1006.8" cy="170.8" r="2.6"/><circle cx="1005.9" cy="182.4" r="2.6"/><circle cx="1001.3" cy="184.5" r="2.6"/><circle cx="1009.6" cy="183.9" r="2.6"/><circle cx="999.3" cy="167.4" r="2.6"/><circle cx="1001.6" cy="168.8" r="2.6"/><circle cx="1000.1" cy="177.1" r="2.6"/><circle cx="1001.9" cy="170.0" r="2.6"/><circle cx="1006.9" cy="173.6" r="2.6"/><circle cx="1008.8" cy="169.2" r="2.6"/><circle cx="1003.5" cy="174.4" r="2.6"/><circle cx="1004.7" cy="183.9" r="2.6"/><circle cx="1009.8" cy="174.6" r="2.6"/><circle cx="1009.5" cy="182.1" r="2.6"/><circle cx="1012.9" cy="160.4" r="2.6"/><circle cx="1013.8" cy="161.6" r="2.6"/><circle cx="1011.9" cy="160.3" r="2.6"/><circle cx="1010.6" cy="160.1" r="2.6"/><circle cx="991.4" cy="222.3" r="2.6"/><circle cx="990.5" cy="218.5" r="2.6"/><circle cx="986.1" cy="223.8" r="2.6"/><circle cx="994.1" cy="224.2" r="2.6"/><circle cx="988.3" cy="229.4" r="2.6"/><circle cx="986.1" cy="227.7" r="2.6"/><circle cx="993.4" cy="216.0" r="2.6"/><circle cx="992.9" cy="210.5" r="2.6"/><circle cx="990.2" cy="211.7" r="2.6"/><circle cx="989.4" cy="222.4" r="2.6"/><circle cx="993.6" cy="212.3" r="2.6"/><circle cx="993.6" cy="221.0" r="2.6"/><circle cx="991.8" cy="222.7" r="2.6"/><circle cx="994.1" cy="211.9" r="2.6"/><circle cx="986.9" cy="211.6" r="2.6"/><circle cx="985.8" cy="229.2" r="2.6"/><circle cx="991.3" cy="225.0" r="2.6"/><circle cx="989.2" cy="217.8" r="2.6"/><circle cx="984.3" cy="215.6" r="2.6"/><circle cx="986.7" cy="222.1" r="2.6"/><circle cx="987.4" cy="215.6" r="2.6"/><circle cx="991.5" cy="225.2" r="2.6"/><circle cx="984.9" cy="224.9" r="2.6"/><circle cx="988.1" cy="229.6" r="2.6"/><circle cx="985.4" cy="215.2" r="2.6"/><circle cx="991.1" cy="210.7" r="2.6"/><circle cx="994.0" cy="212.8" r="2.6"/><circle cx="987.7" cy="227.8" r="2.6"/><circle cx="987.1" cy="221.5" r="2.6"/><circle cx="989.3" cy="219.8" r="2.6"/><circle cx="987.6" cy="213.3" r="2.6"/><circle cx="986.8" cy="221.5" r="2.6"/><circle cx="993.0" cy="214.3" r="2.6"/><circle cx="986.9" cy="226.1" r="2.6"/><circle cx="992.2" cy="231.0" r="2.6"/><circle cx="988.0" cy="227.6" r="2.6"/><circle cx="990.9" cy="232.3" r="2.6"/><circle cx="987.4" cy="231.8" r="2.6"/><circle cx="992.5" cy="228.4" r="2.6"/><circle cx="994.0" cy="224.3" r="2.6"/><circle cx="994.0" cy="234.0" r="2.6"/><circle cx="988.4" cy="234.2" r="2.6"/><circle cx="990.1" cy="230.1" r="2.6"/><circle cx="987.4" cy="227.4" r="2.6"/><circle cx="987.7" cy="230.4" r="2.6"/><circle cx="1042.9" cy="170.4" r="2.6"/><circle cx="1045.3" cy="207.1" r="2.6"/><circle cx="1039.9" cy="195.7" r="2.6"/><circle cx="1048.4" cy="179.0" r="2.6"/><circle cx="1052.5" cy="170.0" r="2.6"/><circle cx="1042.9" cy="215.6" r="2.6"/><circle cx="1050.3" cy="171.3" r="2.6"/><circle cx="1046.6" cy="168.5" r="2.6"/><circle cx="1047.3" cy="205.8" r="2.6"/><circle cx="1041.7" cy="223.6" r="2.6"/><circle cx="1048.6" cy="164.0" r="2.6"/><circle cx="1052.4" cy="193.1" r="2.6"/><circle cx="1048.9" cy="161.9" r="2.6"/><circle cx="1051.1" cy="183.9" r="2.6"/><circle cx="1045.3" cy="189.6" r="2.6"/><circle cx="1041.7" cy="212.4" r="2.6"/><circle cx="1049.2" cy="157.6" r="2.6"/><circle cx="1047.2" cy="197.1" r="2.6"/><circle cx="1044.4" cy="193.9" r="2.6"/><circle cx="1050.9" cy="194.1" r="2.6"/><circle cx="1053.2" cy="214.2" r="2.6"/><circle cx="1043.8" cy="189.4" r="2.6"/><circle cx="1045.2" cy="167.1" r="2.6"/><circle cx="1051.3" cy="161.7" r="2.6"/><circle cx="1048.1" cy="222.7" r="2.6"/><circle cx="1047.6" cy="187.5" r="2.6"/><circle cx="1046.3" cy="205.8" r="2.6"/><circle cx="1049.6" cy="163.0" r="2.6"/><circle cx="1040.8" cy="179.5" r="2.6"/><circle cx="1044.7" cy="189.9" r="2.6"/><circle cx="1052.3" cy="159.7" r="2.6"/><circle cx="1048.6" cy="211.5" r="2.6"/><circle cx="1052.6" cy="212.5" r="2.6"/><circle cx="1044.8" cy="168.7" r="2.6"/><circle cx="1043.9" cy="206.4" r="2.6"/><circle cx="1053.0" cy="160.8" r="2.6"/><circle cx="1043.9" cy="198.2" r="2.6"/><circle cx="1043.4" cy="215.8" r="2.6"/><circle cx="1042.9" cy="158.4" r="2.6"/><circle cx="1040.4" cy="209.2" r="2.6"/><circle cx="1042.2" cy="219.4" r="2.6"/><circle cx="1046.9" cy="174.4" r="2.6"/><circle cx="1051.4" cy="182.0" r="2.6"/><circle cx="1051.1" cy="224.4" r="2.6"/><circle cx="1043.4" cy="159.7" r="2.6"/><circle cx="1040.3" cy="206.6" r="2.6"/><circle cx="1046.3" cy="206.6" r="2.6"/><circle cx="1047.2" cy="221.6" r="2.6"/><circle cx="1042.7" cy="159.9" r="2.6"/><circle cx="1041.4" cy="163.4" r="2.6"/><circle cx="1041.8" cy="157.5" r="2.6"/><circle cx="1049.0" cy="180.9" r="2.6"/><circle cx="1041.3" cy="221.0" r="2.6"/><circle cx="1050.3" cy="212.8" r="2.6"/><circle cx="1042.0" cy="169.0" r="2.6"/><circle cx="1052.0" cy="221.4" r="2.6"/><circle cx="1053.2" cy="188.5" r="2.6"/><circle cx="1044.8" cy="217.5" r="2.6"/><circle cx="1044.9" cy="157.9" r="2.6"/><circle cx="1043.3" cy="215.9" r="2.6"/><circle cx="1041.4" cy="216.2" r="2.6"/><circle cx="1044.4" cy="162.8" r="2.6"/><circle cx="1040.4" cy="211.7" r="2.6"/><circle cx="1052.9" cy="157.2" r="2.6"/><circle cx="1053.5" cy="208.1" r="2.6"/><circle cx="1044.4" cy="160.4" r="2.6"/><circle cx="1046.3" cy="177.1" r="2.6"/><circle cx="1043.8" cy="223.3" r="2.6"/><circle cx="1044.3" cy="174.1" r="2.6"/><circle cx="1050.6" cy="186.2" r="2.6"/><circle cx="1046.0" cy="188.3" r="2.6"/><circle cx="1045.7" cy="188.6" r="2.6"/><circle cx="1051.3" cy="211.2" r="2.6"/><circle cx="1047.9" cy="161.6" r="2.6"/><circle cx="1051.6" cy="212.6" r="2.6"/><circle cx="1053.2" cy="167.9" r="2.6"/><circle cx="1041.7" cy="206.7" r="2.6"/><circle cx="1042.2" cy="221.2" r="2.6"/><circle cx="1053.5" cy="197.0" r="2.6"/><circle cx="1051.9" cy="217.0" r="2.6"/><circle cx="1049.1" cy="161.4" r="2.6"/><circle cx="1057.9" cy="154.3" r="2.6"/><circle cx="1056.7" cy="181.4" r="2.6"/><circle cx="1057.6" cy="206.5" r="2.6"/><circle cx="1055.0" cy="186.2" r="2.6"/><circle cx="1050.6" cy="177.0" r="2.6"/><circle cx="1052.6" cy="182.5" r="2.6"/><circle cx="1053.1" cy="193.4" r="2.6"/><circle cx="1053.0" cy="177.0" r="2.6"/><circle cx="1060.0" cy="157.5" r="2.6"/><circle cx="1058.7" cy="163.4" r="2.6"/><circle cx="1052.2" cy="155.2" r="2.6"/><circle cx="1052.0" cy="204.7" r="2.6"/><circle cx="1054.6" cy="169.4" r="2.6"/><circle cx="1052.8" cy="174.4" r="2.6"/><circle cx="1052.1" cy="155.7" r="2.6"/><circle cx="1054.0" cy="184.1" r="2.6"/><circle cx="1054.9" cy="161.1" r="2.6"/><circle cx="1060.1" cy="181.2" r="2.6"/><circle cx="1053.9" cy="176.0" r="2.6"/><circle cx="1049.7" cy="187.2" r="2.6"/><circle cx="1058.5" cy="166.7" r="2.6"/><circle cx="1049.6" cy="162.3" r="2.6"/><circle cx="1053.3" cy="154.9" r="2.6"/><circle cx="1053.1" cy="199.4" r="2.6"/><circle cx="1055.1" cy="160.6" r="2.6"/><circle cx="1053.8" cy="161.5" r="2.6"/><circle cx="1057.0" cy="190.9" r="2.6"/><circle cx="1052.3" cy="182.5" r="2.6"/><circle cx="1053.4" cy="190.2" r="2.6"/><circle cx="1056.3" cy="161.1" r="2.6"/><circle cx="1055.5" cy="203.4" r="2.6"/><circle cx="1051.4" cy="190.3" r="2.6"/><circle cx="1055.9" cy="203.8" r="2.6"/><circle cx="1049.9" cy="193.2" r="2.6"/><circle cx="1052.1" cy="210.1" r="2.6"/><circle cx="1055.0" cy="158.4" r="2.6"/><circle cx="1055.0" cy="169.1" r="2.6"/><circle cx="1058.3" cy="163.2" r="2.6"/><circle cx="1059.2" cy="186.2" r="2.6"/><circle cx="1056.6" cy="204.8" r="2.6"/><circle cx="1058.9" cy="189.9" r="2.6"/><circle cx="1054.3" cy="160.2" r="2.6"/><circle cx="1052.2" cy="200.8" r="2.6"/><circle cx="1058.2" cy="177.1" r="2.6"/><circle cx="1043.3" cy="230.9" r="2.6"/><circle cx="1045.9" cy="231.1" r="2.6"/><circle cx="1050.5" cy="229.4" r="2.6"/><circle cx="1045.1" cy="227.4" r="2.6"/><circle cx="1047.4" cy="227.0" r="2.6"/><circle cx="1048.6" cy="224.8" r="2.6"/><circle cx="1046.7" cy="230.3" r="2.6"/><circle cx="1052.0" cy="224.5" r="2.6"/><circle cx="1043.3" cy="226.9" r="2.6"/><circle cx="1049.8" cy="221.6" r="2.6"/><circle cx="1062.3" cy="242.5" r="2.6"/><circle cx="1068.8" cy="202.5" r="2.6"/><circle cx="1086.8" cy="162.4" r="2.6"/><circle cx="1067.9" cy="216.9" r="2.6"/><circle cx="1082.2" cy="192.6" r="2.6"/><circle cx="1066.7" cy="229.4" r="2.6"/><circle cx="1068.8" cy="240.4" r="2.6"/><circle cx="1070.5" cy="246.4" r="2.6"/><circle cx="1072.9" cy="198.3" r="2.6"/><circle cx="1064.5" cy="240.7" r="2.6"/><circle cx="1079.1" cy="203.6" r="2.6"/><circle cx="1065.5" cy="196.8" r="2.6"/><circle cx="1081.7" cy="153.9" r="2.6"/><circle cx="1063.4" cy="197.8" r="2.6"/><circle cx="1076.3" cy="220.0" r="2.6"/><circle cx="1068.1" cy="236.1" r="2.6"/><circle cx="1067.7" cy="189.0" r="2.6"/><circle cx="1087.1" cy="174.6" r="2.6"/><circle cx="1082.8" cy="166.0" r="2.6"/><circle cx="1061.9" cy="229.2" r="2.6"/><circle cx="1066.0" cy="207.1" r="2.6"/><circle cx="1073.5" cy="230.2" r="2.6"/><circle cx="1073.3" cy="228.0" r="2.6"/><circle cx="1059.4" cy="158.2" r="2.6"/><circle cx="1070.4" cy="160.6" r="2.6"/><circle cx="1063.7" cy="228.4" r="2.6"/><circle cx="1066.9" cy="245.3" r="2.6"/><circle cx="1077.2" cy="211.8" r="2.6"/><circle cx="1057.6" cy="168.4" r="2.6"/><circle cx="1067.6" cy="210.1" r="2.6"/><circle cx="1064.7" cy="231.7" r="2.6"/><circle cx="1072.0" cy="223.5" r="2.6"/><circle cx="1062.0" cy="216.0" r="2.6"/><circle cx="1067.6" cy="227.6" r="2.6"/><circle cx="1064.5" cy="194.3" r="2.6"/><circle cx="1063.5" cy="181.3" r="2.6"/><circle cx="1075.7" cy="184.0" r="2.6"/><circle cx="1071.5" cy="231.9" r="2.6"/><circle cx="1070.8" cy="210.8" r="2.6"/><circle cx="1075.3" cy="191.1" r="2.6"/><circle cx="1060.2" cy="206.1" r="2.6"/><circle cx="1085.8" cy="172.8" r="2.6"/><circle cx="1072.7" cy="201.5" r="2.6"/><circle cx="1075.6" cy="223.0" r="2.6"/><circle cx="1063.8" cy="182.6" r="2.6"/><circle cx="1091.0" cy="169.9" r="2.6"/><circle cx="1079.2" cy="215.5" r="2.6"/><circle cx="1062.9" cy="202.2" r="2.6"/><circle cx="1067.5" cy="179.6" r="2.6"/><circle cx="1075.6" cy="178.1" r="2.6"/><circle cx="1067.8" cy="238.5" r="2.6"/><circle cx="1073.0" cy="166.6" r="2.6"/><circle cx="1080.7" cy="196.8" r="2.6"/><circle cx="1070.2" cy="205.7" r="2.6"/><circle cx="1080.5" cy="192.6" r="2.6"/><circle cx="1062.4" cy="229.3" r="2.6"/><circle cx="1074.9" cy="175.3" r="2.6"/><circle cx="1076.2" cy="219.6" r="2.6"/><circle cx="1075.7" cy="163.4" r="2.6"/><circle cx="1089.0" cy="153.3" r="2.6"/><circle cx="1066.0" cy="176.6" r="2.6"/><circle cx="1068.1" cy="247.9" r="2.6"/><circle cx="1067.9" cy="177.8" r="2.6"/><circle cx="1072.3" cy="202.6" r="2.6"/><circle cx="1071.9" cy="224.8" r="2.6"/><circle cx="1068.3" cy="194.5" r="2.6"/><circle cx="1068.1" cy="238.3" r="2.6"/><circle cx="1073.5" cy="218.0" r="2.6"/><circle cx="1066.6" cy="232.2" r="2.6"/><circle cx="1066.9" cy="229.9" r="2.6"/><circle cx="1060.7" cy="193.2" r="2.6"/><circle cx="1066.9" cy="243.6" r="2.6"/><circle cx="1068.4" cy="229.4" r="2.6"/><circle cx="1062.7" cy="232.8" r="2.6"/><circle cx="1082.2" cy="196.9" r="2.6"/><circle cx="1074.6" cy="164.9" r="2.6"/><circle cx="1060.7" cy="210.5" r="2.6"/><circle cx="1065.8" cy="222.2" r="2.6"/><circle cx="1059.3" cy="157.9" r="2.6"/><circle cx="1073.8" cy="157.2" r="2.6"/><circle cx="1064.9" cy="206.9" r="2.6"/><circle cx="1062.0" cy="155.8" r="2.6"/><circle cx="1071.8" cy="193.7" r="2.6"/><circle cx="1064.3" cy="229.6" r="2.6"/><circle cx="1087.1" cy="153.6" r="2.6"/><circle cx="1086.1" cy="178.0" r="2.6"/><circle cx="1069.6" cy="239.4" r="2.6"/><circle cx="1063.8" cy="176.3" r="2.6"/><circle cx="1081.5" cy="204.7" r="2.6"/><circle cx="1074.3" cy="217.3" r="2.6"/><circle cx="1070.2" cy="232.9" r="2.6"/><circle cx="1069.0" cy="222.9" r="2.6"/><circle cx="1077.3" cy="212.9" r="2.6"/><circle cx="1073.1" cy="176.9" r="2.6"/><circle cx="1070.2" cy="182.5" r="2.6"/><circle cx="1064.9" cy="171.1" r="2.6"/><circle cx="1073.5" cy="196.3" r="2.6"/><circle cx="1060.4" cy="211.4" r="2.6"/><circle cx="1069.9" cy="232.5" r="2.6"/><circle cx="1072.2" cy="228.5" r="2.6"/><circle cx="1082.2" cy="200.1" r="2.6"/><circle cx="1082.2" cy="166.9" r="2.6"/><circle cx="1060.4" cy="212.9" r="2.6"/><circle cx="1077.9" cy="195.1" r="2.6"/><circle cx="1062.8" cy="159.8" r="2.6"/><circle cx="1074.2" cy="233.6" r="2.6"/><circle cx="1072.4" cy="177.4" r="2.6"/><circle cx="1061.3" cy="177.5" r="2.6"/><circle cx="1075.7" cy="196.3" r="2.6"/><circle cx="1062.1" cy="190.5" r="2.6"/><circle cx="1069.3" cy="235.7" r="2.6"/><circle cx="1060.4" cy="163.4" r="2.6"/><circle cx="1063.4" cy="248.2" r="2.6"/><circle cx="1069.5" cy="173.0" r="2.6"/><circle cx="1082.0" cy="204.8" r="2.6"/><circle cx="1065.0" cy="189.8" r="2.6"/><circle cx="1056.8" cy="181.1" r="2.6"/><circle cx="1072.4" cy="221.7" r="2.6"/><circle cx="1061.7" cy="232.4" r="2.6"/><circle cx="1066.6" cy="198.8" r="2.6"/><circle cx="1058.5" cy="155.0" r="2.6"/><circle cx="1069.5" cy="171.3" r="2.6"/><circle cx="1071.5" cy="171.0" r="2.6"/><circle cx="1067.0" cy="184.4" r="2.6"/><circle cx="1067.8" cy="227.2" r="2.6"/><circle cx="1068.0" cy="171.5" r="2.6"/><circle cx="1067.2" cy="226.7" r="2.6"/><circle cx="1065.4" cy="239.6" r="2.6"/><circle cx="1072.7" cy="193.5" r="2.6"/><circle cx="1065.8" cy="191.1" r="2.6"/><circle cx="1062.8" cy="246.5" r="2.6"/><circle cx="1063.6" cy="216.1" r="2.6"/><circle cx="1065.1" cy="193.9" r="2.6"/><circle cx="1076.5" cy="175.2" r="2.6"/><circle cx="1079.4" cy="184.9" r="2.6"/><circle cx="1069.2" cy="198.5" r="2.6"/><circle cx="1061.3" cy="219.1" r="2.6"/><circle cx="1073.4" cy="172.1" r="2.6"/><circle cx="1072.1" cy="239.3" r="2.6"/><circle cx="1075.0" cy="192.6" r="2.6"/><circle cx="1061.8" cy="206.5" r="2.6"/><circle cx="1061.2" cy="152.2" r="2.6"/><circle cx="1079.8" cy="213.5" r="2.6"/><circle cx="1067.6" cy="237.1" r="2.6"/><circle cx="1064.6" cy="202.5" r="2.6"/><circle cx="1071.1" cy="159.5" r="2.6"/><circle cx="1066.4" cy="247.8" r="2.6"/><circle cx="1068.2" cy="248.5" r="2.6"/><circle cx="1089.3" cy="164.9" r="2.6"/><circle cx="1068.6" cy="244.3" r="2.6"/><circle cx="1068.7" cy="219.5" r="2.6"/><circle cx="1065.6" cy="219.9" r="2.6"/><circle cx="1069.2" cy="236.1" r="2.6"/><circle cx="1072.2" cy="240.4" r="2.6"/><circle cx="1071.1" cy="244.7" r="2.6"/><circle cx="1062.3" cy="230.4" r="2.6"/><circle cx="1074.0" cy="176.9" r="2.6"/><circle cx="1073.4" cy="174.6" r="2.6"/><circle cx="1059.7" cy="187.9" r="2.6"/><circle cx="1072.7" cy="183.7" r="2.6"/><circle cx="1054.7" cy="155.9" r="2.6"/><circle cx="1068.9" cy="242.3" r="2.6"/><circle cx="1071.4" cy="159.3" r="2.6"/><circle cx="1074.6" cy="180.2" r="2.6"/><circle cx="1069.2" cy="211.1" r="2.6"/><circle cx="1058.4" cy="190.7" r="2.6"/><circle cx="1073.5" cy="219.4" r="2.6"/><circle cx="1068.3" cy="224.0" r="2.6"/><circle cx="1066.4" cy="224.1" r="2.6"/><circle cx="1079.5" cy="186.0" r="2.6"/><circle cx="1073.8" cy="156.4" r="2.6"/><circle cx="1065.9" cy="229.3" r="2.6"/><circle cx="1064.6" cy="243.3" r="2.6"/><circle cx="1074.7" cy="192.4" r="2.6"/><circle cx="1063.6" cy="225.6" r="2.6"/><circle cx="1063.9" cy="239.4" r="2.6"/><circle cx="1064.8" cy="200.4" r="2.6"/><circle cx="1076.6" cy="163.5" r="2.6"/><circle cx="1068.1" cy="216.0" r="2.6"/><circle cx="1069.0" cy="245.1" r="2.6"/><circle cx="1068.4" cy="176.3" r="2.6"/><circle cx="1065.4" cy="178.8" r="2.6"/><circle cx="1064.3" cy="227.7" r="2.6"/><circle cx="1069.8" cy="229.9" r="2.6"/><circle cx="1078.8" cy="186.8" r="2.6"/><circle cx="1070.4" cy="238.9" r="2.6"/><circle cx="1067.7" cy="202.7" r="2.6"/><circle cx="1069.2" cy="200.3" r="2.6"/><circle cx="1066.8" cy="229.6" r="2.6"/><circle cx="1078.5" cy="186.4" r="2.6"/><circle cx="1062.4" cy="160.4" r="2.6"/><circle cx="1085.7" cy="162.7" r="2.6"/><circle cx="1088.1" cy="180.0" r="2.6"/><circle cx="1071.1" cy="235.6" r="2.6"/><circle cx="1059.7" cy="161.9" r="2.6"/><circle cx="1084.2" cy="191.4" r="2.6"/><circle cx="1075.3" cy="220.6" r="2.6"/><circle cx="1071.8" cy="161.3" r="2.6"/><circle cx="1064.2" cy="234.9" r="2.6"/><circle cx="1070.9" cy="168.7" r="2.6"/><circle cx="1068.2" cy="218.4" r="2.6"/><circle cx="1064.8" cy="159.1" r="2.6"/><circle cx="1070.4" cy="247.2" r="2.6"/><circle cx="1067.2" cy="218.3" r="2.6"/><circle cx="1065.9" cy="154.5" r="2.6"/><circle cx="1071.4" cy="240.6" r="2.6"/><circle cx="1064.2" cy="225.3" r="2.6"/><circle cx="1063.8" cy="158.2" r="2.6"/><circle cx="1067.8" cy="161.8" r="2.6"/><circle cx="1064.0" cy="219.6" r="2.6"/><circle cx="1072.8" cy="196.5" r="2.6"/><circle cx="1070.1" cy="210.4" r="2.6"/><circle cx="1075.1" cy="220.1" r="2.6"/><circle cx="1084.6" cy="158.6" r="2.6"/><circle cx="1058.2" cy="169.6" r="2.6"/><circle cx="1063.9" cy="224.7" r="2.6"/><circle cx="1073.9" cy="233.9" r="2.6"/><circle cx="1090.4" cy="161.4" r="2.6"/><circle cx="1061.1" cy="195.0" r="2.6"/><circle cx="1060.3" cy="207.6" r="2.6"/><circle cx="1065.2" cy="161.4" r="2.6"/><circle cx="1076.8" cy="221.1" r="2.6"/><circle cx="1074.4" cy="229.5" r="2.6"/><circle cx="1072.2" cy="218.8" r="2.6"/><circle cx="1071.9" cy="238.6" r="2.6"/><circle cx="1066.7" cy="210.4" r="2.6"/><circle cx="1075.0" cy="185.6" r="2.6"/><circle cx="1062.6" cy="224.6" r="2.6"/><circle cx="1058.5" cy="193.3" r="2.6"/><circle cx="1068.2" cy="164.6" r="2.6"/><circle cx="1065.7" cy="232.5" r="2.6"/><circle cx="1065.4" cy="237.9" r="2.6"/><circle cx="1068.8" cy="196.4" r="2.6"/><circle cx="1065.4" cy="216.6" r="2.6"/><circle cx="1077.5" cy="201.9" r="2.6"/><circle cx="1076.4" cy="206.6" r="2.6"/><circle cx="1061.5" cy="202.2" r="2.6"/><circle cx="1072.7" cy="232.5" r="2.6"/><circle cx="1067.8" cy="202.6" r="2.6"/><circle cx="1079.8" cy="199.1" r="2.6"/><circle cx="1066.9" cy="212.6" r="2.6"/><circle cx="1059.8" cy="213.5" r="2.6"/><circle cx="1070.7" cy="196.2" r="2.6"/><circle cx="1069.6" cy="201.0" r="2.6"/><circle cx="1075.8" cy="203.2" r="2.6"/><circle cx="1074.9" cy="230.9" r="2.6"/><circle cx="1071.8" cy="237.8" r="2.6"/><circle cx="1072.1" cy="232.0" r="2.6"/><circle cx="1061.8" cy="223.7" r="2.6"/><circle cx="1080.1" cy="196.6" r="2.6"/><circle cx="1087.7" cy="167.1" r="2.6"/><circle cx="1056.5" cy="154.2" r="2.6"/><circle cx="1061.7" cy="212.3" r="2.6"/><circle cx="1071.4" cy="175.9" r="2.6"/><circle cx="1082.8" cy="177.0" r="2.6"/><circle cx="1082.6" cy="152.3" r="2.6"/><circle cx="1075.9" cy="164.3" r="2.6"/><circle cx="1071.3" cy="241.1" r="2.6"/><circle cx="1062.9" cy="240.1" r="2.6"/><circle cx="1065.7" cy="168.6" r="2.6"/><circle cx="1057.9" cy="184.9" r="2.6"/><circle cx="1071.6" cy="228.5" r="2.6"/><circle cx="1067.0" cy="245.3" r="2.6"/><circle cx="1063.2" cy="158.2" r="2.6"/><circle cx="1080.4" cy="180.8" r="2.6"/><circle cx="1079.6" cy="189.0" r="2.6"/><circle cx="1057.2" cy="181.4" r="2.6"/><circle cx="1068.7" cy="230.4" r="2.6"/><circle cx="1063.3" cy="155.1" r="2.6"/><circle cx="1061.3" cy="192.2" r="2.6"/><circle cx="1071.8" cy="167.0" r="2.6"/><circle cx="1075.4" cy="198.4" r="2.6"/><circle cx="1070.5" cy="235.7" r="2.6"/><circle cx="1086.1" cy="171.6" r="2.6"/><circle cx="1064.4" cy="221.7" r="2.6"/><circle cx="1073.3" cy="233.0" r="2.6"/><circle cx="1067.8" cy="206.6" r="2.6"/><circle cx="1076.1" cy="198.6" r="2.6"/><circle cx="1066.3" cy="218.2" r="2.6"/><circle cx="1082.5" cy="174.8" r="2.6"/><circle cx="1061.5" cy="220.3" r="2.6"/><circle cx="1083.6" cy="159.2" r="2.6"/><circle cx="1069.0" cy="191.5" r="2.6"/><circle cx="1072.0" cy="156.2" r="2.6"/><circle cx="1062.4" cy="228.0" r="2.6"/><circle cx="1071.6" cy="215.0" r="2.6"/><circle cx="1078.7" cy="213.7" r="2.6"/><circle cx="1070.9" cy="186.1" r="2.6"/><circle cx="1075.3" cy="185.1" r="2.6"/><circle cx="1071.7" cy="189.2" r="2.6"/><circle cx="1070.8" cy="198.3" r="2.6"/><circle cx="1062.5" cy="168.5" r="2.6"/><circle cx="1066.3" cy="173.0" r="2.6"/><circle cx="1058.1" cy="166.8" r="2.6"/><circle cx="1069.3" cy="202.0" r="2.6"/><circle cx="1063.1" cy="180.1" r="2.6"/><circle cx="1062.7" cy="223.5" r="2.6"/><circle cx="1073.4" cy="194.6" r="2.6"/><circle cx="1064.1" cy="248.9" r="2.6"/><circle cx="1074.9" cy="229.6" r="2.6"/><circle cx="1072.0" cy="204.9" r="2.6"/><circle cx="1071.8" cy="220.9" r="2.6"/><circle cx="1079.6" cy="170.3" r="2.6"/><circle cx="1066.1" cy="248.8" r="2.6"/><circle cx="1059.6" cy="201.6" r="2.6"/><circle cx="1067.0" cy="172.5" r="2.6"/><circle cx="1071.3" cy="220.5" r="2.6"/><circle cx="1071.5" cy="192.4" r="2.6"/><circle cx="1074.6" cy="165.8" r="2.6"/><circle cx="1061.1" cy="215.7" r="2.6"/><circle cx="1067.7" cy="195.4" r="2.6"/><circle cx="1067.2" cy="197.0" r="2.6"/><circle cx="1063.0" cy="248.3" r="2.6"/><circle cx="1062.6" cy="233.7" r="2.6"/><circle cx="1076.8" cy="166.6" r="2.6"/><circle cx="1071.9" cy="225.9" r="2.6"/><circle cx="1059.1" cy="187.6" r="2.6"/><circle cx="1063.9" cy="176.3" r="2.6"/><circle cx="1060.1" cy="152.5" r="2.6"/><circle cx="1064.6" cy="221.3" r="2.6"/><circle cx="1085.8" cy="165.5" r="2.6"/><circle cx="1061.9" cy="192.9" r="2.6"/><circle cx="1074.8" cy="207.5" r="2.6"/><circle cx="1071.1" cy="243.3" r="2.6"/><circle cx="1089.6" cy="167.5" r="2.6"/><circle cx="1076.3" cy="181.4" r="2.6"/><circle cx="1065.3" cy="154.6" r="2.6"/><circle cx="1062.4" cy="219.4" r="2.6"/><circle cx="1072.2" cy="231.5" r="2.6"/><circle cx="1070.0" cy="239.7" r="2.6"/><circle cx="1078.0" cy="210.6" r="2.6"/><circle cx="1079.4" cy="175.5" r="2.6"/><circle cx="1057.0" cy="167.2" r="2.6"/><circle cx="1066.6" cy="223.3" r="2.6"/><circle cx="1074.1" cy="207.4" r="2.6"/><circle cx="1083.2" cy="163.9" r="2.6"/><circle cx="1082.3" cy="159.1" r="2.6"/><circle cx="1069.8" cy="214.4" r="2.6"/><circle cx="1083.5" cy="176.5" r="2.6"/><circle cx="1066.8" cy="213.1" r="2.6"/><circle cx="1064.0" cy="189.5" r="2.6"/><circle cx="1055.1" cy="163.5" r="2.6"/><circle cx="1071.7" cy="186.2" r="2.6"/><circle cx="1069.2" cy="230.1" r="2.6"/><circle cx="1081.7" cy="203.1" r="2.6"/><circle cx="1077.4" cy="163.4" r="2.6"/><circle cx="1088.5" cy="164.6" r="2.6"/><circle cx="1072.3" cy="232.9" r="2.6"/><circle cx="1091.5" cy="168.3" r="2.6"/><circle cx="1069.4" cy="175.5" r="2.6"/><circle cx="1070.6" cy="229.0" r="2.6"/><circle cx="1072.2" cy="228.5" r="2.6"/><circle cx="1080.4" cy="193.4" r="2.6"/><circle cx="1065.7" cy="214.4" r="2.6"/><circle cx="1080.6" cy="161.4" r="2.6"/><circle cx="1071.1" cy="212.3" r="2.6"/><circle cx="1073.5" cy="206.8" r="2.6"/><circle cx="1065.5" cy="198.9" r="2.6"/><circle cx="1090.9" cy="154.2" r="2.6"/><circle cx="1065.6" cy="175.5" r="2.6"/><circle cx="1071.5" cy="230.1" r="2.6"/><circle cx="1079.1" cy="169.4" r="2.6"/><circle cx="1071.7" cy="228.3" r="2.6"/><circle cx="1067.8" cy="198.3" r="2.6"/><circle cx="1070.2" cy="192.0" r="2.6"/><circle cx="1079.7" cy="186.2" r="2.6"/><circle cx="1058.9" cy="153.9" r="2.6"/><circle cx="1083.6" cy="193.7" r="2.6"/><circle cx="1074.6" cy="185.4" r="2.6"/><circle cx="1056.5" cy="166.4" r="2.6"/><circle cx="1077.7" cy="172.3" r="2.6"/><circle cx="1066.3" cy="192.4" r="2.6"/><circle cx="1061.0" cy="189.0" r="2.6"/><circle cx="1064.8" cy="198.1" r="2.6"/><circle cx="1086.7" cy="158.8" r="2.6"/><circle cx="1076.7" cy="203.2" r="2.6"/><circle cx="1070.4" cy="211.7" r="2.6"/><circle cx="1072.6" cy="233.3" r="2.6"/><circle cx="1081.9" cy="175.0" r="2.6"/><circle cx="1070.6" cy="240.9" r="2.6"/><circle cx="1067.2" cy="247.8" r="2.6"/><circle cx="1060.0" cy="201.7" r="2.6"/><circle cx="1078.7" cy="208.1" r="2.6"/><circle cx="1066.5" cy="188.5" r="2.6"/><circle cx="1068.4" cy="170.2" r="2.6"/><circle cx="1070.4" cy="162.2" r="2.6"/><circle cx="1072.0" cy="241.4" r="2.6"/><circle cx="1064.7" cy="242.1" r="2.6"/><circle cx="1060.0" cy="174.3" r="2.6"/><circle cx="1080.7" cy="196.3" r="2.6"/><circle cx="1067.4" cy="191.9" r="2.6"/><circle cx="1084.0" cy="175.6" r="2.6"/><circle cx="1075.0" cy="192.9" r="2.6"/><circle cx="1067.6" cy="217.7" r="2.6"/><circle cx="1094.8" cy="153.0" r="2.6"/><circle cx="1064.3" cy="248.8" r="2.6"/><circle cx="1073.0" cy="227.1" r="2.6"/><circle cx="1063.5" cy="229.5" r="2.6"/><circle cx="1061.9" cy="174.8" r="2.6"/><circle cx="1073.1" cy="154.4" r="2.6"/><circle cx="1086.6" cy="162.0" r="2.6"/><circle cx="1072.5" cy="228.9" r="2.6"/><circle cx="1064.0" cy="208.8" r="2.6"/><circle cx="1068.8" cy="244.5" r="2.6"/><circle cx="1066.1" cy="194.7" r="2.6"/><circle cx="1062.7" cy="168.4" r="2.6"/><circle cx="1060.9" cy="205.9" r="2.6"/><circle cx="1077.1" cy="215.0" r="2.6"/><circle cx="1062.2" cy="200.6" r="2.6"/><circle cx="1070.9" cy="226.0" r="2.6"/><circle cx="1075.6" cy="222.1" r="2.6"/><circle cx="1070.6" cy="243.1" r="2.6"/><circle cx="1081.2" cy="188.8" r="2.6"/><circle cx="1061.1" cy="214.7" r="2.6"/><circle cx="1069.7" cy="232.3" r="2.6"/><circle cx="1063.5" cy="246.4" r="2.6"/><circle cx="1086.3" cy="173.3" r="2.6"/><circle cx="1086.4" cy="166.1" r="2.6"/><circle cx="1081.3" cy="195.2" r="2.6"/><circle cx="1074.4" cy="181.5" r="2.6"/><circle cx="1059.6" cy="207.8" r="2.6"/><circle cx="1064.7" cy="240.3" r="2.6"/><circle cx="1061.6" cy="204.3" r="2.6"/><circle cx="1078.0" cy="155.1" r="2.6"/><circle cx="1085.9" cy="177.3" r="2.6"/><circle cx="1074.4" cy="227.0" r="2.6"/><circle cx="1065.3" cy="156.3" r="2.6"/><circle cx="1071.2" cy="236.8" r="2.6"/><circle cx="1085.6" cy="162.9" r="2.6"/><circle cx="1072.3" cy="209.4" r="2.6"/><circle cx="1064.5" cy="237.9" r="2.6"/><circle cx="1075.5" cy="208.4" r="2.6"/><circle cx="1071.9" cy="240.3" r="2.6"/><circle cx="1070.8" cy="246.0" r="2.6"/><circle cx="1073.6" cy="226.0" r="2.6"/><circle cx="1089.8" cy="169.8" r="2.6"/><circle cx="1075.3" cy="203.4" r="2.6"/><circle cx="1074.9" cy="220.7" r="2.6"/><circle cx="1071.8" cy="238.4" r="2.6"/><circle cx="1059.4" cy="191.6" r="2.6"/><circle cx="1067.3" cy="157.9" r="2.6"/><circle cx="1064.8" cy="242.3" r="2.6"/><circle cx="1064.9" cy="246.3" r="2.6"/><circle cx="1088.3" cy="180.3" r="2.6"/><circle cx="1082.4" cy="187.9" r="2.6"/><circle cx="1081.3" cy="169.4" r="2.6"/><circle cx="1064.7" cy="211.7" r="2.6"/><circle cx="1068.5" cy="233.8" r="2.6"/><circle cx="1071.8" cy="229.2" r="2.6"/><circle cx="1070.8" cy="217.9" r="2.6"/><circle cx="1074.6" cy="196.1" r="2.6"/><circle cx="1064.7" cy="233.9" r="2.6"/><circle cx="1063.5" cy="182.3" r="2.6"/><circle cx="1086.6" cy="184.0" r="2.6"/><circle cx="1079.6" cy="211.3" r="2.6"/><circle cx="1084.6" cy="189.5" r="2.6"/><circle cx="1077.6" cy="198.0" r="2.6"/><circle cx="1062.9" cy="182.9" r="2.6"/><circle cx="1073.1" cy="198.8" r="2.6"/><circle cx="1074.3" cy="204.1" r="2.6"/><circle cx="1085.8" cy="161.0" r="2.6"/><circle cx="1060.8" cy="170.4" r="2.6"/><circle cx="1076.6" cy="180.9" r="2.6"/><circle cx="1054.7" cy="158.2" r="2.6"/><circle cx="1074.5" cy="232.2" r="2.6"/><circle cx="1074.0" cy="212.9" r="2.6"/><circle cx="1068.8" cy="191.7" r="2.6"/><circle cx="1071.7" cy="206.5" r="2.6"/><circle cx="1076.4" cy="153.6" r="2.6"/><circle cx="1066.5" cy="172.5" r="2.6"/><circle cx="1076.0" cy="180.1" r="2.6"/><circle cx="1085.5" cy="177.0" r="2.6"/><circle cx="1072.1" cy="241.2" r="2.6"/><circle cx="1064.9" cy="189.9" r="2.6"/><circle cx="1061.0" cy="204.0" r="2.6"/><circle cx="1073.8" cy="226.6" r="2.6"/><circle cx="1084.4" cy="180.1" r="2.6"/><circle cx="1062.8" cy="233.2" r="2.6"/><circle cx="1069.7" cy="212.2" r="2.6"/><circle cx="1066.2" cy="180.2" r="2.6"/><circle cx="1075.7" cy="177.6" r="2.6"/><circle cx="1074.1" cy="221.0" r="2.6"/><circle cx="1068.1" cy="241.8" r="2.6"/><circle cx="1061.8" cy="230.8" r="2.6"/><circle cx="1071.1" cy="202.7" r="2.6"/><circle cx="1068.2" cy="189.7" r="2.6"/><circle cx="1085.8" cy="159.0" r="2.6"/><circle cx="1061.5" cy="234.0" r="2.6"/><circle cx="1071.2" cy="156.0" r="2.6"/><circle cx="1063.9" cy="238.8" r="2.6"/><circle cx="1062.3" cy="181.2" r="2.6"/><circle cx="1073.4" cy="212.8" r="2.6"/><circle cx="1072.6" cy="214.8" r="2.6"/><circle cx="1086.5" cy="157.2" r="2.6"/><circle cx="1075.6" cy="188.2" r="2.6"/><circle cx="1071.8" cy="219.0" r="2.6"/><circle cx="1074.7" cy="186.1" r="2.6"/><circle cx="1076.9" cy="201.5" r="2.6"/><circle cx="1071.4" cy="229.1" r="2.6"/><circle cx="1055.8" cy="154.3" r="2.6"/><circle cx="913.3" cy="166.7" r="2.6"/><circle cx="903.9" cy="160.3" r="2.6"/><circle cx="1007.0" cy="169.9" r="2.6"/><circle cx="984.5" cy="248.9" r="2.6"/><circle cx="1002.9" cy="248.9" r="2.6"/><circle cx="1008.7" cy="252.1" r="2.6"/><circle cx="1028.0" cy="250.5" r="2.6"/><circle cx="1048.9" cy="255.4" r="2.6"/><circle cx="1086.0" cy="250.5" r="2.6"/><circle cx="1106.9" cy="274.7" r="2.6"/><circle cx="1077.9" cy="292.4" r="2.6"/><circle cx="1108.5" cy="295.7" r="2.6"/><circle cx="990.9" cy="298.9" r="2.6"/><circle cx="993.5" cy="300.5" r="2.6"/><circle cx="1031.2" cy="302.1" r="2.6"/><circle cx="1034.4" cy="300.5" r="2.6"/><circle cx="1106.9" cy="158.7" r="2.6"/><circle cx="1123.0" cy="158.7" r="2.6"/><circle cx="1071.5" cy="250.5" r="2.6"/>
</g>
<rect x="881.5" y="44.5" width="290.4" height="353.9" fill="none" stroke="#8a8a8a" stroke-width="1.2"/>
<line x1="881.5" y1="44.5" x2="881.5" y2="398.4" stroke="#222" stroke-width="1.4"/><line x1="881.5" y1="398.4" x2="1171.9" y2="398.4" stroke="#222" stroke-width="1.4"/>
<path d="M881.5 366.6h6.5M881.5 334.4h3.5M881.5 302.1h6.5M881.5 269.9h3.5M881.5 237.6h6.5M881.5 205.4h3.5M881.5 173.2h6.5M881.5 140.9h3.5M881.5 108.7h6.5M881.5 76.4h3.5M881.5 44.2h6.5M897.5 398.4v-6.5M929.7 398.4v-3.5M961.9 398.4v-6.5M994.2 398.4v-3.5M1026.4 398.4v-6.5M1058.6 398.4v-3.5M1090.8 398.4v-6.5M1123.0 398.4v-3.5M1155.3 398.4v-6.5" stroke="#222" stroke-width="1.3" fill="none"/>
<text x="871.0" y="374.3" font-size="22" text-anchor="end" fill="#111" >0</text>
<text x="871.0" y="309.8" font-size="22" text-anchor="end" fill="#111" >40</text>
<text x="871.0" y="245.3" font-size="22" text-anchor="end" fill="#111" >80</text>
<text x="871.0" y="180.9" font-size="22" text-anchor="end" fill="#111" >120</text>
<text x="871.0" y="116.4" font-size="22" text-anchor="end" fill="#111" >160</text>
<text x="871.0" y="51.9" font-size="22" text-anchor="end" fill="#111" >200</text>
<text x="897.5" y="426.6" font-size="22" text-anchor="middle" fill="#111" >0</text>
<text x="961.9" y="426.6" font-size="22" text-anchor="middle" fill="#111" >200</text>
<text x="1026.4" y="426.6" font-size="22" text-anchor="middle" fill="#111" >400</text>
<text x="1090.8" y="426.6" font-size="22" text-anchor="middle" fill="#111" >600</text>
<text x="1155.3" y="426.6" font-size="22" text-anchor="middle" fill="#111" >800</text>
<text x="947.8" y="460.8" font-size="24.4" text-anchor="start" fill="#111" textLength="163.6" lengthAdjust="spacingAndGlyphs" >X position (nm)</text>
<text transform="translate(819.2,289) rotate(-90)" font-size="24.4" fill="#111" textLength="164" lengthAdjust="spacingAndGlyphs">Z position (nm)</text>
<text x="925.4" y="102.6" font-size="24.4" text-anchor="start" fill="#111" textLength="209.0" lengthAdjust="spacingAndGlyphs" >Gas-liquid interface</text>
<line x1="1002" y1="111" x2="1011.5" y2="134" stroke="#222" stroke-width="1.3"/><polygon points="1014.5,142 1007,133 1014.5,130.5" fill="#222"/>
<rect x="1356.0" y="343.7" width="12.1" height="54.4" fill="url(#blueb)" stroke="#3b86e8" stroke-width="0.9"/>
<rect x="1380.1" y="153.1" width="12.1" height="245.0" fill="url(#blueb)" stroke="#3b86e8" stroke-width="0.9"/>
<rect x="1404.2" y="125.9" width="12.1" height="272.2" fill="url(#blueb)" stroke="#3b86e8" stroke-width="0.9"/>
<rect x="1428.4" y="300.1" width="12.1" height="98.0" fill="url(#blueb)" stroke="#3b86e8" stroke-width="0.9"/>
<rect x="1452.5" y="321.9" width="12.1" height="76.2" fill="url(#blueb)" stroke="#3b86e8" stroke-width="0.9"/>
<rect x="1476.6" y="321.9" width="12.1" height="76.2" fill="url(#blueb)" stroke="#3b86e8" stroke-width="0.9"/>
<rect x="1500.8" y="381.8" width="12.1" height="16.3" fill="url(#blueb)" stroke="#3b86e8" stroke-width="0.9"/>
<rect x="1524.9" y="370.9" width="12.1" height="27.2" fill="url(#blueb)" stroke="#3b86e8" stroke-width="0.9"/>
<rect x="1549.0" y="365.4" width="12.1" height="32.7" fill="url(#blueb)" stroke="#3b86e8" stroke-width="0.9"/>
<rect x="1343.9" y="338.2" width="12.1" height="59.9" fill="url(#pinkb)" stroke="#f2566f" stroke-width="0.9"/>
<rect x="1368.0" y="234.8" width="12.1" height="163.3" fill="url(#pinkb)" stroke="#f2566f" stroke-width="0.9"/>
<rect x="1392.2" y="392.7" width="12.1" height="5.4" fill="url(#pinkb)" stroke="#f2566f" stroke-width="0.9"/>
<polyline points="1295.6,389.5 1296.8,389.0 1297.9,388.4 1299.0,387.7 1300.2,387.1 1301.3,386.4 1302.4,385.6 1303.6,384.9 1304.7,384.0 1305.8,383.2 1307.0,382.3 1308.1,381.3 1309.2,380.3 1310.4,379.3 1311.5,378.2 1312.6,377.1 1313.8,375.9 1314.9,374.6 1316.0,373.3 1317.2,372.0 1318.3,370.6 1319.5,369.1 1320.6,367.6 1321.7,366.0 1322.9,364.3 1324.0,362.6 1325.1,360.8 1326.3,358.9 1327.4,357.0 1328.5,355.0 1329.7,353.0 1330.8,350.8 1331.9,348.6 1333.1,346.4 1334.2,344.0 1335.3,341.6 1336.5,339.1 1337.6,336.6 1338.7,333.9 1339.9,331.2 1341.0,328.4 1342.1,325.6 1343.3,322.7 1344.4,319.7 1345.5,316.6 1346.7,313.5 1347.8,310.3 1348.9,307.0 1350.1,303.7 1351.2,300.3 1352.3,296.8 1353.5,293.3 1354.6,289.7 1355.8,286.1 1356.9,282.4 1358.0,278.7 1359.2,274.9 1360.3,271.1 1361.4,267.3 1362.6,263.4 1363.7,259.4 1364.8,255.5 1366.0,251.5 1367.1,247.5 1368.2,243.5 1369.4,239.4 1370.5,235.4 1371.6,231.4 1372.8,227.3 1373.9,223.3 1375.0,219.3 1376.2,215.3 1377.3,211.3 1378.4,207.3 1379.6,203.4 1380.7,199.5 1381.8,195.7 1383.0,191.9 1384.1,188.2 1385.2,184.5 1386.4,180.9 1387.5,177.4 1388.6,173.9 1389.8,170.5 1390.9,167.2 1392.0,164.0 1393.2,160.9 1394.3,157.9 1395.5,155.1 1396.6,152.3 1397.7,149.6 1398.9,147.1 1400.0,144.7 1401.1,142.4 1402.3,140.3 1403.4,138.2 1404.5,136.4 1405.7,134.7 1406.8,133.1 1407.9,131.7 1409.1,130.4 1410.2,129.3 1411.3,128.3 1412.5,127.5 1413.6,126.9 1414.7,126.4 1415.9,126.1 1417.0,125.9 1418.1,125.9 1419.3,126.1 1420.4,126.4 1421.5,126.9 1422.7,127.6 1423.8,128.4 1424.9,129.4 1426.1,130.5 1427.2,131.8 1428.3,133.2 1429.5,134.8 1430.6,136.6 1431.8,138.5 1432.9,140.5 1434.0,142.6 1435.2,144.9 1436.3,147.4 1437.4,149.9 1438.6,152.6 1439.7,155.4 1440.8,158.3 1442.0,161.3 1443.1,164.4 1444.2,167.6 1445.4,170.9 1446.5,174.3 1447.6,177.7 1448.8,181.3 1449.9,184.9 1451.0,188.6 1452.2,192.3 1453.3,196.1 1454.4,199.9 1455.6,203.8 1456.7,207.8 1457.8,211.7 1459.0,215.7 1460.1,219.7 1461.2,223.7 1462.4,227.8 1463.5,231.8 1464.6,235.8 1465.8,239.9 1466.9,243.9 1468.1,247.9 1469.2,251.9 1470.3,255.9 1471.5,259.9 1472.6,263.8 1473.7,267.7 1474.9,271.5 1476.0,275.3 1477.1,279.1 1478.3,282.8 1479.4,286.5 1480.5,290.1 1481.7,293.7 1482.8,297.2 1483.9,300.7 1485.1,304.0 1486.2,307.4 1487.3,310.6 1488.5,313.8 1489.6,316.9 1490.7,320.0 1491.9,323.0 1493.0,325.9 1494.1,328.7 1495.3,331.5 1496.4,334.2 1497.5,336.8 1498.7,339.4 1499.8,341.9 1500.9,344.3 1502.1,346.6 1503.2,348.9 1504.3,351.1 1505.5,353.2 1506.6,355.2 1507.8,357.2 1508.9,359.1 1510.0,361.0 1511.2,362.8 1512.3,364.5 1513.4,366.1 1514.6,367.7 1515.7,369.3 1516.8,370.7 1518.0,372.1 1519.1,373.5 1520.2,374.8 1521.4,376.0 1522.5,377.2 1523.6,378.3 1524.8,379.4 1525.9,380.4 1527.0,381.4 1528.2,382.4 1529.3,383.3 1530.4,384.1 1531.6,384.9 1532.7,385.7 1533.8,386.4 1535.0,387.1 1536.1,387.8 1537.2,388.4 1538.4,389.0 1539.5,389.6 1540.6,390.1 1541.8,390.6 1542.9,391.1 1544.1,391.6 1545.2,392.0 1546.3,392.4 1547.5,392.8 1548.6,393.1 1549.7,393.5 1550.9,393.8 1552.0,394.1 1553.1,394.3 1554.3,394.6 1555.4,394.8 1556.5,395.1 1557.7,395.3 1558.8,395.5 1559.9,395.7 1561.1,395.9 1562.2,396.0 1563.3,396.2 1564.5,396.3 1565.6,396.5 1566.7,396.6 1567.9,396.7" fill="none" stroke="#3d5ef2" stroke-width="1.6"/>
<polyline points="1343.9,397.1 1344.4,396.9 1344.9,396.7 1345.3,396.4 1345.8,396.1 1346.3,395.7 1346.8,395.3 1347.3,394.9 1347.8,394.3 1348.2,393.7 1348.7,393.0 1349.2,392.2 1349.7,391.3 1350.2,390.3 1350.7,389.1 1351.1,387.9 1351.6,386.5 1352.1,384.9 1352.6,383.2 1353.1,381.2 1353.6,379.1 1354.0,376.9 1354.5,374.4 1355.0,371.6 1355.5,368.7 1356.0,365.6 1356.5,362.2 1356.9,358.6 1357.4,354.8 1357.9,350.7 1358.4,346.4 1358.9,341.9 1359.3,337.2 1359.8,332.3 1360.3,327.3 1360.8,322.1 1361.3,316.7 1361.8,311.3 1362.2,305.8 1362.7,300.2 1363.2,294.6 1363.7,289.0 1364.2,283.5 1364.7,278.1 1365.1,272.8 1365.6,267.6 1366.1,262.7 1366.6,258.0 1367.1,253.6 1367.6,249.6 1368.0,245.9 1368.5,242.5 1369.0,239.6 1369.5,237.2 1370.0,235.2 1370.4,233.7 1370.9,232.6 1371.4,232.1 1371.9,232.1 1372.4,232.6 1372.9,233.7 1373.3,235.2 1373.8,237.2 1374.3,239.6 1374.8,242.5 1375.3,245.9 1375.8,249.6 1376.2,253.6 1376.7,258.0 1377.2,262.7 1377.7,267.6 1378.2,272.8 1378.7,278.1 1379.1,283.5 1379.6,289.0 1380.1,294.6 1380.6,300.2 1381.1,305.8 1381.6,311.3 1382.0,316.7 1382.5,322.1 1383.0,327.3 1383.5,332.3 1384.0,337.2 1384.4,341.9 1384.9,346.4 1385.4,350.7 1385.9,354.8 1386.4,358.6 1386.9,362.2 1387.3,365.6 1387.8,368.7 1388.3,371.6 1388.8,374.4 1389.3,376.9 1389.8,379.1 1390.2,381.2 1390.7,383.2 1391.2,384.9 1391.7,386.5 1392.2,387.9 1392.7,389.1 1393.1,390.3 1393.6,391.3 1394.1,392.2 1394.6,393.0 1395.1,393.7 1395.5,394.3 1396.0,394.9 1396.5,395.3 1397.0,395.7 1397.5,396.1 1398.0,396.4 1398.4,396.7 1398.9,396.9 1399.4,397.1 1399.9,397.3 1400.4,397.4 1400.9,397.5 1401.3,397.6 1401.8,397.7" fill="none" stroke="#f0455e" stroke-width="1.6"/>
<rect x="1295.7" y="43.5" width="289.9" height="354.6" fill="none" stroke="#999" stroke-width="1.2"/>
<line x1="1295.7" y1="43.5" x2="1295.7" y2="398.1" stroke="#333" stroke-width="1.3"/><line x1="1295.7" y1="398.1" x2="1585.6" y2="398.1" stroke="#333" stroke-width="1.3"/>
<path d="M1295.7 398.1h5.6M1295.7 370.9h3M1295.7 343.7h5.6M1295.7 316.4h3M1295.7 289.2h5.6M1295.7 262.0h3M1295.7 234.8h5.6M1295.7 207.6h3M1295.7 180.3h5.6M1295.7 153.1h3M1295.7 125.9h5.6M1295.7 98.7h3M1295.7 71.5h5.6M1295.6 398.1v6M1319.8 398.1v3.5M1343.9 398.1v6M1368.0 398.1v3.5M1392.2 398.1v6M1416.3 398.1v3.5M1440.4 398.1v6M1464.6 398.1v3.5M1488.7 398.1v6M1512.8 398.1v3.5M1537.0 398.1v6M1561.1 398.1v3.5M1585.2 398.1v6" stroke="#333" stroke-width="1.2" fill="none"/>
<text x="1287.0" y="404.5" font-size="22" text-anchor="end" fill="#111" >0</text>
<text x="1287.0" y="350.1" font-size="22" text-anchor="end" fill="#111" >10</text>
<text x="1287.0" y="295.6" font-size="22" text-anchor="end" fill="#111" >20</text>
<text x="1287.0" y="241.2" font-size="22" text-anchor="end" fill="#111" >30</text>
<text x="1287.0" y="186.7" font-size="22" text-anchor="end" fill="#111" >40</text>
<text x="1287.0" y="132.3" font-size="22" text-anchor="end" fill="#111" >50</text>
<text x="1287.0" y="77.9" font-size="22" text-anchor="end" fill="#111" >60</text>
<text x="1292.4" y="426.4" font-size="22" text-anchor="middle" fill="#111" >-20</text>
<text x="1343.9" y="426.4" font-size="22" text-anchor="middle" fill="#111" >0</text>
<text x="1392.2" y="426.4" font-size="22" text-anchor="middle" fill="#111" >20</text>
<text x="1440.4" y="426.4" font-size="22" text-anchor="middle" fill="#111" >40</text>
<text x="1488.7" y="426.4" font-size="22" text-anchor="middle" fill="#111" >60</text>
<text x="1537.0" y="426.4" font-size="22" text-anchor="middle" fill="#111" >80</text>
<text x="1587.8" y="426.4" font-size="22" text-anchor="middle" fill="#111" >100</text>
<text x="1387.7" y="460.7" font-size="24.4" text-anchor="start" fill="#111" textLength="102.7" lengthAdjust="spacingAndGlyphs" >Size (nm)</text>
<text transform="translate(1241.6,235.6) rotate(-90)" font-size="25.5" fill="#111" textLength="64" lengthAdjust="spacingAndGlyphs">Count</text>
<rect x="1316.4" y="59.7" width="30" height="14.7" fill="url(#pinkb)" stroke="#f27a90" stroke-width="0.8"/>
<rect x="1316.4" y="87.4" width="30" height="14.7" fill="url(#blueb)" stroke="#5aa8ee" stroke-width="0.8"/>
<text x="1356.9" y="74.4" font-size="24.4" text-anchor="start" fill="#111" textLength="57.0" lengthAdjust="spacingAndGlyphs" >In ice</text>
<text x="1356.9" y="103.6" font-size="24.4" text-anchor="start" fill="#111" textLength="210.2" lengthAdjust="spacingAndGlyphs" >Gas-liquid interface</text>
<polygon points="1433.2,641.7 1636.7,746.4 1558.8,986.2 1307.4,986.2 1229.7,746.9" fill="#fde6ee"/>
<polygon points="1433.2,674.6 1636.7,746.4 1496.0,899.7 1307.4,986.2 1331.5,780.0" fill="#f8ecdb"/>
<line x1="1433.3" y1="593.1" x2="1230.5" y2="739.0" stroke="#222" stroke-width="0.9"/>
<line x1="1433.3" y1="593.1" x2="1636.0" y2="739.5" stroke="#222" stroke-width="0.9"/>
<line x1="1638.0" y1="752.0" x2="1562.0" y2="992.0" stroke="#222" stroke-width="0.9" stroke-dasharray="3 2"/>
<line x1="1226.0" y1="752.0" x2="1303.0" y2="992.0" stroke="#222" stroke-width="0.9" stroke-dasharray="3 2"/>
<line x1="1433.3" y1="671.2" x2="1564.5" y2="770.1" stroke="#222" stroke-width="0.9"/>
<line x1="1433.3" y1="671.2" x2="1301.9" y2="770.4" stroke="#222" stroke-width="0.9"/>
<line x1="1564.5" y1="770.1" x2="1514.2" y2="924.7" stroke="#222" stroke-width="0.9" stroke-dasharray="3 2"/>
<line x1="1301.9" y1="770.4" x2="1352.1" y2="924.7" stroke="#222" stroke-width="0.9" stroke-dasharray="3 2"/>
<line x1="1514.2" y1="924.7" x2="1352.1" y2="924.7" stroke="#222" stroke-width="0.9"/>
<line x1="1433.2" y1="755.9" x2="1486.1" y2="795.8" stroke="#888" stroke-width="0.7"/>
<line x1="1486.1" y1="795.8" x2="1465.9" y2="858.1" stroke="#888" stroke-width="0.7"/>
<line x1="1465.9" y1="858.1" x2="1400.5" y2="858.1" stroke="#888" stroke-width="0.7"/>
<line x1="1400.5" y1="858.1" x2="1380.3" y2="795.9" stroke="#888" stroke-width="0.7"/>
<line x1="1380.3" y1="795.9" x2="1433.2" y2="755.9" stroke="#888" stroke-width="0.7"/>
<line x1="1433.2" y1="813.1" x2="1486.1" y2="795.8" stroke="#888" stroke-width="0.7"/>
<line x1="1433.2" y1="813.1" x2="1465.9" y2="858.1" stroke="#888" stroke-width="0.7"/>
<line x1="1433.2" y1="813.1" x2="1400.5" y2="858.1" stroke="#888" stroke-width="0.7"/>
<line x1="1433.2" y1="813.1" x2="1380.3" y2="795.9" stroke="#888" stroke-width="0.7"/>
<line x1="1514.2" y1="924.7" x2="1555.0" y2="981.0" stroke="#222" stroke-width="0.9"/>
<line x1="1352.1" y1="924.7" x2="1311.2" y2="981.0" stroke="#222" stroke-width="0.9"/>
<line x1="1331.5" y1="780.0" x2="1235.8" y2="748.9" stroke="#222" stroke-width="0.9" stroke-dasharray="3 2"/>
<line x1="1535.0" y1="779.8" x2="1630.6" y2="748.4" stroke="#222" stroke-width="0.9" stroke-dasharray="3 2"/>
<line x1="1465.9" y1="858.1" x2="1496.0" y2="899.7" stroke="#888" stroke-width="0.7"/>
<line x1="1400.5" y1="858.1" x2="1370.3" y2="899.7" stroke="#888" stroke-width="0.7"/>
<line x1="1380.3" y1="795.9" x2="1331.5" y2="780.0" stroke="#888" stroke-width="0.7"/>
<line x1="1486.1" y1="795.8" x2="1535.0" y2="779.8" stroke="#888" stroke-width="0.7"/>
<line x1="1433.2" y1="813.1" x2="1433.3" y2="593.1" stroke="#333" stroke-width="1"/>
<path d="M1433.3 619.4h5M1433.3 634.8h3.5M1433.3 645.7h3.5M1433.3 654.2h3.5M1433.3 661.1h3.5M1433.3 667.0h3.5M1433.3 672.0h3.5M1433.3 676.5h3.5M1433.3 680.5h5M1433.3 703.5h5M1433.3 717.0h3.5M1433.3 726.6h3.5M1433.3 734.0h3.5M1433.3 740.0h3.5M1433.3 745.2h3.5M1433.3 749.6h3.5M1433.3 753.5h3.5M1433.3 757.0h5M1433.3 773.9h5M1433.3 783.7h3.5M1433.3 790.7h3.5M1433.3 796.1h3.5" stroke="#333" stroke-width="1" fill="none"/>
<polygon points="1433.2,683.5 1535.0,779.8 1496.0,899.7 1307.4,986.2 1331.5,780.0" fill="rgb(195,230,255)" fill-opacity="0.62"/>
<polygon points="1433.2,813.1 1636.7,746.4 1496.0,899.7 1370.3,899.7 1331.5,780.0" fill="rgb(105,203,146)" fill-opacity="0.3"/>
<polygon points="1433.2,641.7 1636.7,746.4 1558.8,986.2 1307.4,986.2 1229.7,746.9" fill="none" stroke="#f6b4d4" stroke-width="1.7"/>
<polygon points="1433.2,674.6 1636.7,746.4 1496.0,899.7 1307.4,986.2 1331.5,780.0" fill="none" stroke="#eecb80" stroke-width="1.7" transform="translate(0.4,0.8)"/>
<polygon points="1433.2,683.5 1535.0,779.8 1496.0,899.7 1307.4,986.2 1331.5,780.0" fill="none" stroke="#66c0f0" stroke-width="1.7"/>
<polygon points="1433.2,813.1 1636.7,746.4 1496.0,899.7 1370.3,899.7 1331.5,780.0" fill="none" stroke="#58b985" stroke-width="1.5"/>
<circle cx="1433.2" cy="674.6" r="6.2" fill="#e8b84a"/><circle cx="1431.4" cy="672.8" r="2.2" fill="#f8e2a8"/>
<circle cx="1331.5" cy="780.0" r="6.2" fill="#2ea55f"/><circle cx="1329.7" cy="778.2" r="2.2" fill="#c8ecd5"/>
<circle cx="1535.0" cy="779.8" r="6.2" fill="#4fb6ef"/><circle cx="1533.2" cy="778.0" r="2.2" fill="#e8f6ff"/>
<circle cx="1496.0" cy="899.7" r="6.2" fill="#2ea55f"/><circle cx="1494.2" cy="897.9" r="2.2" fill="#c8ecd5"/>
<circle cx="1370.3" cy="899.7" r="6.2" fill="#2ea55f"/><circle cx="1368.5" cy="897.9" r="2.2" fill="#c8ecd5"/>
<circle cx="1433.2" cy="683.5" r="6.2" fill="#4fb6ef"/><circle cx="1431.4" cy="681.7" r="2.2" fill="#e8f6ff"/>
<circle cx="1433.2" cy="813.1" r="6.2" fill="#2ea55f"/><circle cx="1431.4" cy="811.3" r="2.2" fill="#c8ecd5"/>
<polygon points="1433.2,632.7 1435.6,638.4 1441.8,638.9 1437.1,643.0 1438.5,649.0 1433.2,645.8 1427.9,649.0 1429.3,643.0 1424.6,638.9 1430.8,638.4" fill="#f5203f"/>
<polygon points="1636.7,737.4 1639.1,743.1 1645.3,743.6 1640.6,747.7 1642.0,753.7 1636.7,750.4 1631.4,753.7 1632.8,747.7 1628.1,743.6 1634.3,743.1" fill="#f5203f"/>
<polygon points="1558.8,977.2 1561.2,982.9 1567.4,983.4 1562.7,987.5 1564.1,993.5 1558.8,990.2 1553.5,993.5 1554.9,987.5 1550.2,983.4 1556.4,982.9" fill="#f5203f"/>
<polygon points="1307.4,977.2 1309.8,982.9 1316.0,983.4 1311.3,987.5 1312.7,993.5 1307.4,990.2 1302.1,993.5 1303.5,987.5 1298.8,983.4 1305.0,982.9" fill="#f5203f"/>
<polygon points="1229.7,737.9 1232.1,743.6 1238.3,744.1 1233.6,748.2 1235.0,754.2 1229.7,750.9 1224.4,754.2 1225.8,748.2 1221.1,744.1 1227.3,743.6" fill="#f5203f"/>
<text x="1380.2" y="542.5" font-size="24" text-anchor="start" fill="#111" textLength="114.7" lengthAdjust="spacingAndGlyphs" >Resolution</text>
<text x="1413.0" y="570.4" font-size="24" text-anchor="start" fill="#111" textLength="48.6" lengthAdjust="spacingAndGlyphs" >(nm)</text>
<text x="1445.0" y="599.5" font-size="22" text-anchor="start" fill="#111" >1</text>
<text x="1446.5" y="656.5" font-size="22" text-anchor="start" fill="#111" >5</text>
<text x="1444.5" y="686.4" font-size="22" text-anchor="start" fill="#111" >10</text>
<text x="1444.5" y="763.5" font-size="22" text-anchor="start" fill="#111" >100</text>
<text x="1648.2" y="743.2" font-size="24" text-anchor="start" fill="#111" textLength="67.4" lengthAdjust="spacingAndGlyphs" >Native</text>
<text x="1655.9" y="773.2" font-size="24" text-anchor="start" fill="#111" textLength="51.1" lengthAdjust="spacingAndGlyphs" >state</text>
<text x="1104.8" y="743.6" font-size="24" text-anchor="start" fill="#111" textLength="87.8" lengthAdjust="spacingAndGlyphs" >Polymer</text>
<text x="1221.9" y="772.8" font-size="24" text-anchor="end" fill="#111" textLength="147" lengthAdjust="spacingAndGlyphs">entanglement</text>
<text x="1253.8" y="1029.0" font-size="24" text-anchor="start" fill="#111" textLength="93.3" lengthAdjust="spacingAndGlyphs" >Interface</text>
<text x="1507.2" y="1029.0" font-size="24" text-anchor="start" fill="#111" textLength="132.2" lengthAdjust="spacingAndGlyphs" >3D structure</text>
<text x="1593.8" y="775.4" font-size="24" text-anchor="start" fill="#4e423e" >Yes</text>
<text x="1237.0" y="775.5" font-size="24" text-anchor="start" fill="#4e423e" >Yes</text>
<text x="1326.0" y="983.0" font-size="24" text-anchor="start" fill="#4e423e" >Yes</text>
<text x="1509.0" y="983.0" font-size="24" text-anchor="start" fill="#4e423e" >Yes</text>
<text x="1506.8" y="809.5" font-size="24" text-anchor="start" fill="#4e423e" >No</text>
<text x="1337.0" y="809.5" font-size="24" text-anchor="start" fill="#4e423e" >No</text>
<text x="1383.5" y="906.5" font-size="24" text-anchor="start" fill="#4e423e" >No</text>
<text x="1459.0" y="906.5" font-size="24" text-anchor="start" fill="#4e423e" >No</text>
<rect x="1595.8" y="554.8" width="44.8" height="21.6" fill="#fde0e6" stroke="#f8afca" stroke-width="1.2"/>
<text x="1647.5" y="573.5" font-size="22" text-anchor="start" fill="#111" >Cryo-ET</text>
<rect x="1595.8" y="580.3" width="44.8" height="21.6" fill="#f8ecd4" stroke="#efcd88" stroke-width="1.2"/>
<text x="1647.5" y="599.0" font-size="22" text-anchor="start" fill="#111" >AFM</text>
<rect x="1595.8" y="605.8" width="44.8" height="21.6" fill="#cce8fb" stroke="#74c7f4" stroke-width="1.2"/>
<text x="1647.5" y="624.5" font-size="22" text-anchor="start" fill="#111" >SEM</text>
<rect x="1595.8" y="631.3" width="44.8" height="21.6" fill="#d6ece0" stroke="#8ccfa6" stroke-width="1.2"/>
<text x="1647.5" y="650.0" font-size="22" text-anchor="start" fill="#111" >QCM</text>
<defs><filter id="rough" x="-10%" y="-10%" width="120%" height="120%"><feTurbulence type="fractalNoise" baseFrequency="0.13" numOctaves="1" seed="4"/><feDisplacementMap in="SourceGraphic" scale="2.6" xChannelSelector="R" yChannelSelector="G"/><feGaussianBlur stdDeviation="0.4"/></filter></defs>
<text x="100.0" y="546.3" font-size="24.4" text-anchor="start" fill="#111" textLength="121.2" lengthAdjust="spacingAndGlyphs" >Cohesional</text>
<text x="44.5" y="662.5" font-size="24.4" text-anchor="start" fill="#111" textLength="123.5" lengthAdjust="spacingAndGlyphs" >Topological</text>
<g transform="translate(0,500) scale(0.25)" fill="none" stroke-linecap="round" stroke-linejoin="round">
<path d="M1070 72Q1080 115 1092.5 132.5Q1105 150 1105.0 175.0Q1105 200 1105.0 232.5Q1105 265 1097.5 282.5Q1090 300 1067.5 306.0Q1045 312 1015.0 305.0Q985 298 957.5 290.0Q930 282 906.0 265.0L882 248M1212 98Q1195 128 1182.5 135.0Q1170 142 1157.5 147.0Q1145 152 1140.0 171.0Q1135 190 1135.0 220.0Q1135 250 1137.5 270.0Q1140 290 1150.0 300.0Q1160 310 1160.0 325.0Q1160 340 1140.0 357.5Q1120 375 1090.0 395.0Q1060 415 1030.0 430.0Q1000 445 970.0 452.5L940 460M1240 160Q1218 185 1211.5 200.0Q1205 215 1197.5 223.5Q1190 232 1177.5 236.0Q1165 240 1160.0 252.5Q1155 265 1157.5 277.5Q1160 290 1180.0 297.5Q1200 305 1215.0 320.0Q1230 335 1237.5 357.5Q1245 380 1247.5 400.0Q1250 420 1259.0 435.0Q1268 450 1266.5 475.0Q1265 500 1248.5 529.0L1232 558" stroke="#0c7a80" stroke-width="17"/>
<path d="M1070 72Q1080 115 1092.5 132.5Q1105 150 1105.0 175.0Q1105 200 1105.0 232.5Q1105 265 1097.5 282.5Q1090 300 1067.5 306.0Q1045 312 1015.0 305.0Q985 298 957.5 290.0Q930 282 906.0 265.0L882 248M1212 98Q1195 128 1182.5 135.0Q1170 142 1157.5 147.0Q1145 152 1140.0 171.0Q1135 190 1135.0 220.0Q1135 250 1137.5 270.0Q1140 290 1150.0 300.0Q1160 310 1160.0 325.0Q1160 340 1140.0 357.5Q1120 375 1090.0 395.0Q1060 415 1030.0 430.0Q1000 445 970.0 452.5L940 460M1240 160Q1218 185 1211.5 200.0Q1205 215 1197.5 223.5Q1190 232 1177.5 236.0Q1165 240 1160.0 252.5Q1155 265 1157.5 277.5Q1160 290 1180.0 297.5Q1200 305 1215.0 320.0Q1230 335 1237.5 357.5Q1245 380 1247.5 400.0Q1250 420 1259.0 435.0Q1268 450 1266.5 475.0Q1265 500 1248.5 529.0L1232 558" stroke="#1d969b" stroke-width="6" transform="translate(-2,-2)"/>
<path d="M720 466Q790 468 817.5 479.0Q845 490 852.5 517.5Q860 545 864.0 572.5Q868 600 870.0 620.0Q872 640 878.5 652.5L885 665M545 840Q600 808 625.0 793.0Q650 778 685.0 771.5Q720 765 755.0 761.5Q790 758 807.5 748.0Q825 738 837.5 721.5Q850 705 864.0 688.5Q878 672 891.5 666.0Q905 660 917.5 665.0Q930 670 932.5 680.0Q935 690 942.5 690.0Q950 690 959.0 682.5Q968 675 976.5 652.5Q985 630 1000.0 621.0Q1015 612 1032.5 615.0Q1050 618 1062.5 639.0Q1075 660 1085.0 682.5Q1095 705 1112.5 722.5Q1130 740 1167.5 754.0L1205 768M930 700Q935 760 942.5 780.0Q950 800 970.0 816.0Q990 832 999.0 851.0Q1008 870 1009.0 895.0Q1010 920 1016.0 945.0L1022 970" stroke="#f0d27a" stroke-width="14"/>
<path d="M720 466Q790 468 817.5 479.0Q845 490 852.5 517.5Q860 545 864.0 572.5Q868 600 870.0 620.0Q872 640 878.5 652.5L885 665M545 840Q600 808 625.0 793.0Q650 778 685.0 771.5Q720 765 755.0 761.5Q790 758 807.5 748.0Q825 738 837.5 721.5Q850 705 864.0 688.5Q878 672 891.5 666.0Q905 660 917.5 665.0Q930 670 932.5 680.0Q935 690 942.5 690.0Q950 690 959.0 682.5Q968 675 976.5 652.5Q985 630 1000.0 621.0Q1015 612 1032.5 615.0Q1050 618 1062.5 639.0Q1075 660 1085.0 682.5Q1095 705 1112.5 722.5Q1130 740 1167.5 754.0L1205 768M930 700Q935 760 942.5 780.0Q950 800 970.0 816.0Q990 832 999.0 851.0Q1008 870 1009.0 895.0Q1010 920 1016.0 945.0L1022 970" stroke="#968c55" stroke-width="9" transform="translate(-2,-2)"/>
<circle cx="1138" cy="265" r="78" stroke="#e8323c" stroke-width="6"/>
<circle cx="905" cy="677" r="80" stroke="#e8323c" stroke-width="6"/>
</g>
<text x="44.5" y="787.6" font-size="24.4" text-anchor="start" fill="#111" textLength="276.8" lengthAdjust="spacingAndGlyphs" >Cohesional entanglement</text>
<text x="44.5" y="908.6" font-size="22" text-anchor="start" fill="#111" >5 nm</text>
<text x="162.7" y="908.6" font-size="22" text-anchor="start" fill="#111" >6 nm</text>
<text x="287.9" y="908.6" font-size="22" text-anchor="start" fill="#111" >4 nm</text>
<line x1="37.6" y1="948" x2="82.1" y2="948" stroke="#6dad3d" stroke-width="2.1"/><path d="M51.5 936.9C62.6 937.2 70.2 942.0 70.0 948.0C69.8 953.5 63.6 958.5 55.6 960.0" fill="none" stroke="#7cc046" stroke-width="2"/><polygon points="50.9,961.8 57.2,956.2 56.9,963.6" fill="#86cc4c"/>
<text x="86.8" y="955.3" font-size="22" text-anchor="start" fill="#111" >90°</text>
<line x1="155.2" y1="948" x2="200.3" y2="948" stroke="#6dad3d" stroke-width="2.1"/><path d="M169.1 936.9C180.2 937.2 187.8 942.0 187.6 948.0C187.4 953.5 181.2 958.5 173.2 960.0" fill="none" stroke="#7cc046" stroke-width="2"/><polygon points="168.5,961.8 174.8,956.2 174.5,963.6" fill="#86cc4c"/>
<text x="205.3" y="955.3" font-size="22" text-anchor="start" fill="#111" >90°</text>
<line x1="279.6" y1="948" x2="324.9" y2="948" stroke="#6dad3d" stroke-width="2.1"/><path d="M293.5 936.9C304.6 937.2 312.2 942.0 312.0 948.0C311.8 953.5 305.6 958.5 297.6 960.0" fill="none" stroke="#7cc046" stroke-width="2"/><polygon points="292.9,961.8 299.2,956.2 298.9,963.6" fill="#86cc4c"/>
<text x="329.6" y="955.3" font-size="22" text-anchor="start" fill="#111" >90°</text>
<g filter="url(#rough)">
<g transform="translate(0,0) scale(1.00000)" stroke-linejoin="round" stroke-linecap="round">
<path d="M57 821L56 822L55 824L55 825L54 827L53 828L52 829L52 830L52 832L50 833L49 834L47 835L47 838L47 841L48 844L50 844L52 845L54 846L55 847L56 847L58 848L59 849L59 851L60 852L62 853L62 854L62 855L63 857L63 858L62 859L61 861L61 862L61 864L62 866L62 867L62 869L63 870L63 872L62 874L62 875L65 875L65 874L65 872L65 871L66 869L67 868L68 866L68 864L69 863L69 861L68 860L67 858L67 856L67 854L66 852L64 851L64 849L62 848L61 847L59 847L58 845L57 844L56 843L55 842L54 840L54 838L53 838L53 838L53 838L53 837L54 836L54 834L56 833L57 832L58 830L58 828L58 826L58 825L58 823L58 821ZM70 826L69 827L69 829L69 831L69 832L68 834L68 836L68 838L69 840L71 842L73 843L75 843L76 844L77 845L79 847L80 848L82 848L84 848L85 848L86 849L87 850L87 852L86 853L86 853L86 854L85 855L85 856L84 857L82 857L81 858L80 858L78 859L77 859L76 860L74 861L73 861L71 862L71 862L71 864L71 864L73 864L75 865L77 865L78 865L80 865L82 864L84 863L85 863L87 862L88 860L90 859L91 857L92 855L92 852L91 850L89 848L87 848L86 847L85 846L83 845L82 844L81 843L79 842L78 842L77 841L76 840L75 838L75 837L75 836L75 835L74 834L74 833L74 831L74 829L74 828L74 826ZM165 886L165 884L165 883L165 881L165 880L165 878L165 876L165 875L165 873L165 872L166 870L167 869L167 867L167 865L168 864L168 862L163 862L163 863L163 865L163 866L163 868L163 870L163 871L163 873L163 875L163 876L162 878L161 879L161 881L161 883L161 884L161 886ZM159 860L160 862L161 863L164 864L167 862L169 860L169 858L169 856L167 855L166 856L164 857L164 856L164 856L164 856L162 856L160 857ZM177 841L179 842L180 842L182 842L184 841L184 841L185 839L184 839L182 838L181 838L179 838L178 838ZM176 842L175 843L175 844L173 846L172 848L172 850L173 851L174 853L174 855L174 857L175 858L176 860L177 862L177 863L178 865L180 866L181 866L180 866L179 866L178 866L176 867L177 869L178 870L180 870L182 869L183 866L182 864L182 862L181 861L179 860L179 859L179 857L179 856L179 854L179 853L179 851L180 850L180 849L180 847L180 846L180 844L180 842ZM191 860L192 858L194 857L194 856L194 854L193 852L193 851L193 850L195 849L196 848L197 847L198 846L200 845L201 845L203 845L204 844L206 844L207 843L209 844L211 844L212 843L213 842L215 841L216 839L218 838L219 838L221 837L222 834L222 832L221 830L220 829L220 827L220 826L219 824L219 823L220 821L220 820L221 819L220 817L219 815L215 815L214 817L213 818L213 820L214 822L215 824L215 825L216 827L217 828L218 830L219 831L219 832L218 833L218 834L217 835L216 836L215 837L213 837L212 836L210 836L208 836L207 837L206 839L204 839L203 840L201 841L200 842L198 843L197 843L195 844L194 845L193 847L192 848L191 850L189 851L187 852L186 854L186 856L187 857L187 859ZM191 862L192 863L193 864L195 864L197 864L198 865L200 865L202 864L204 864L206 865L207 865L209 864L211 864L212 863L214 863L216 862L216 860L215 859L214 858L212 859L211 860L210 861L208 861L207 861L205 861L204 862L202 862L201 861L200 860L198 860L197 859L196 858L195 857L193 857ZM202 853L203 855L203 856L204 858L204 858L209 856L208 855L207 854L206 853L205 852ZM288 828L289 829L289 831L289 833L290 834L290 836L291 837L292 838L293 840L294 841L295 842L295 844L296 845L297 847L297 848L298 850L298 851L299 853L300 854L300 856L301 857L301 859L303 858L303 857L302 855L302 854L302 852L301 850L301 849L300 847L300 846L299 844L299 843L298 841L297 840L297 838L297 836L297 835L296 833L295 832L294 830L294 829L293 828L292 826ZM303 813L303 815L303 816L304 818L304 819L304 821L305 823L306 824L307 825L308 827L309 828L309 830L311 831L311 832L312 833L312 835L312 836L313 838L314 839L315 841L315 842L316 843L317 843L318 842L317 840L317 838L318 837L318 835L318 833L317 832L316 830L315 828L315 827L314 825L312 824L312 823L311 821L311 820L310 818L308 817L307 816L306 815L305 814L304 812ZM324 822L324 824L324 825L324 826L323 827L323 828L324 829L324 831L323 832L322 834L322 835L322 837L321 839L320 840L319 842L319 844L320 846L321 848L322 850L323 851L325 851L326 852L327 853L330 849L329 849L327 848L326 847L325 845L324 845L323 844L323 844L323 843L323 841L323 840L323 838L325 837L326 836L327 834L327 833L329 832L331 830L331 828L331 826L330 824L329 822L328 821ZM313 850L313 852L312 854L312 855L312 857L313 858L314 860L314 861L313 863L313 864L313 865L313 867L312 868L311 870L312 872L313 874L313 876L314 877L315 879L316 880L316 882L316 883L319 882L318 881L318 880L318 878L318 876L318 875L318 873L318 872L319 871L319 869L318 868L319 866L319 864L319 863L319 861L319 859L319 857L319 855L318 854L317 852L316 851L315 850Z" fill="#1a6e70" stroke="#1a6e70" stroke-width="0.8" transform="translate(1.2,1.5)"/>
<path d="M57 821L56 822L55 824L55 825L54 827L53 828L52 829L52 830L52 832L50 833L49 834L47 835L47 838L47 841L48 844L50 844L52 845L54 846L55 847L56 847L58 848L59 849L59 851L60 852L62 853L62 854L62 855L63 857L63 858L62 859L61 861L61 862L61 864L62 866L62 867L62 869L63 870L63 872L62 874L62 875L65 875L65 874L65 872L65 871L66 869L67 868L68 866L68 864L69 863L69 861L68 860L67 858L67 856L67 854L66 852L64 851L64 849L62 848L61 847L59 847L58 845L57 844L56 843L55 842L54 840L54 838L53 838L53 838L53 838L53 837L54 836L54 834L56 833L57 832L58 830L58 828L58 826L58 825L58 823L58 821ZM70 826L69 827L69 829L69 831L69 832L68 834L68 836L68 838L69 840L71 842L73 843L75 843L76 844L77 845L79 847L80 848L82 848L84 848L85 848L86 849L87 850L87 852L86 853L86 853L86 854L85 855L85 856L84 857L82 857L81 858L80 858L78 859L77 859L76 860L74 861L73 861L71 862L71 862L71 864L71 864L73 864L75 865L77 865L78 865L80 865L82 864L84 863L85 863L87 862L88 860L90 859L91 857L92 855L92 852L91 850L89 848L87 848L86 847L85 846L83 845L82 844L81 843L79 842L78 842L77 841L76 840L75 838L75 837L75 836L75 835L74 834L74 833L74 831L74 829L74 828L74 826ZM165 886L165 884L165 883L165 881L165 880L165 878L165 876L165 875L165 873L165 872L166 870L167 869L167 867L167 865L168 864L168 862L163 862L163 863L163 865L163 866L163 868L163 870L163 871L163 873L163 875L163 876L162 878L161 879L161 881L161 883L161 884L161 886ZM159 860L160 862L161 863L164 864L167 862L169 860L169 858L169 856L167 855L166 856L164 857L164 856L164 856L164 856L162 856L160 857ZM177 841L179 842L180 842L182 842L184 841L184 841L185 839L184 839L182 838L181 838L179 838L178 838ZM176 842L175 843L175 844L173 846L172 848L172 850L173 851L174 853L174 855L174 857L175 858L176 860L177 862L177 863L178 865L180 866L181 866L180 866L179 866L178 866L176 867L177 869L178 870L180 870L182 869L183 866L182 864L182 862L181 861L179 860L179 859L179 857L179 856L179 854L179 853L179 851L180 850L180 849L180 847L180 846L180 844L180 842ZM191 860L192 858L194 857L194 856L194 854L193 852L193 851L193 850L195 849L196 848L197 847L198 846L200 845L201 845L203 845L204 844L206 844L207 843L209 844L211 844L212 843L213 842L215 841L216 839L218 838L219 838L221 837L222 834L222 832L221 830L220 829L220 827L220 826L219 824L219 823L220 821L220 820L221 819L220 817L219 815L215 815L214 817L213 818L213 820L214 822L215 824L215 825L216 827L217 828L218 830L219 831L219 832L218 833L218 834L217 835L216 836L215 837L213 837L212 836L210 836L208 836L207 837L206 839L204 839L203 840L201 841L200 842L198 843L197 843L195 844L194 845L193 847L192 848L191 850L189 851L187 852L186 854L186 856L187 857L187 859ZM191 862L192 863L193 864L195 864L197 864L198 865L200 865L202 864L204 864L206 865L207 865L209 864L211 864L212 863L214 863L216 862L216 860L215 859L214 858L212 859L211 860L210 861L208 861L207 861L205 861L204 862L202 862L201 861L200 860L198 860L197 859L196 858L195 857L193 857ZM202 853L203 855L203 856L204 858L204 858L209 856L208 855L207 854L206 853L205 852ZM288 828L289 829L289 831L289 833L290 834L290 836L291 837L292 838L293 840L294 841L295 842L295 844L296 845L297 847L297 848L298 850L298 851L299 853L300 854L300 856L301 857L301 859L303 858L303 857L302 855L302 854L302 852L301 850L301 849L300 847L300 846L299 844L299 843L298 841L297 840L297 838L297 836L297 835L296 833L295 832L294 830L294 829L293 828L292 826ZM303 813L303 815L303 816L304 818L304 819L304 821L305 823L306 824L307 825L308 827L309 828L309 830L311 831L311 832L312 833L312 835L312 836L313 838L314 839L315 841L315 842L316 843L317 843L318 842L317 840L317 838L318 837L318 835L318 833L317 832L316 830L315 828L315 827L314 825L312 824L312 823L311 821L311 820L310 818L308 817L307 816L306 815L305 814L304 812ZM324 822L324 824L324 825L324 826L323 827L323 828L324 829L324 831L323 832L322 834L322 835L322 837L321 839L320 840L319 842L319 844L320 846L321 848L322 850L323 851L325 851L326 852L327 853L330 849L329 849L327 848L326 847L325 845L324 845L323 844L323 844L323 843L323 841L323 840L323 838L325 837L326 836L327 834L327 833L329 832L331 830L331 828L331 826L330 824L329 822L328 821ZM313 850L313 852L312 854L312 855L312 857L313 858L314 860L314 861L313 863L313 864L313 865L313 867L312 868L311 870L312 872L313 874L313 876L314 877L315 879L316 880L316 882L316 883L319 882L318 881L318 880L318 878L318 876L318 875L318 873L318 872L319 871L319 869L318 868L319 866L319 864L319 863L319 861L319 859L319 857L319 855L318 854L317 852L316 851L315 850Z" fill="#3ec8c8" stroke="#3ec8c8" stroke-width="0.5"/>
<path d="M58 823L58 824L57 826L57 827L56 829L56 831L55 832L54 833L53 835L52 836L51 837L51 838L51 839L50 842L51 843L53 844L54 845L55 846L57 847L58 848L59 849L60 850L61 851L62 852L65 853L66 854L66 856L66 858L66 859L67 861L67 863L66 864L66 866L66 868L65 869L65 871L64 872L64 874M73 828L73 829L73 831L73 832L73 834L73 835L73 837L74 838L72 841L74 842L75 843L77 843L78 845L79 846L81 847L82 847L84 847L85 848L87 849L88 850L90 851L91 852L90 854L90 856L89 858L87 859L86 860L84 861L83 862L81 862L80 863L78 863L76 864L75 864L73 864L71 863M164 884L164 883L164 881L164 880L164 878L164 876L164 875L164 873L165 872L165 870L165 868L166 867L166 865L166 864M160 860L162 861L164 862L166 861L168 859L168 857M179 841L180 841L182 841L184 841M178 844L178 845L178 847L178 849L178 850L178 851L177 853L177 855L178 856L178 858L178 859L179 860L180 862L179 864L182 864L183 866L182 868L180 869L178 869M191 858L192 857L192 855L192 854L192 852L192 850L193 849L194 848L195 847L197 846L198 845L199 845L201 844L202 843L204 843L205 842L207 842L208 842L210 842L211 841L213 841L214 840L216 839L217 838L219 837L220 836L221 834L221 832L220 830L220 829L219 827L219 826L218 825L218 823L218 822L218 820L218 818L218 817M193 862L194 862L196 862L197 863L199 864L201 864L202 864L204 864L206 864L207 864L209 863L210 863L212 862L214 862L215 861M205 853L206 855L207 856M292 828L292 830L293 831L294 832L295 834L295 835L296 837L296 839L297 840L297 842L298 843L298 845L299 846L300 848L300 849L301 851L301 852L301 854L302 855L302 857M305 814L305 815L306 817L307 818L308 819L309 821L310 822L310 823L311 825L312 826L313 827L314 829L315 831L315 832L316 834L316 835L316 837L316 839L317 840L317 842M328 822L328 824L329 826L329 828L328 830L327 831L326 832L325 834L325 835L324 837L323 838L322 839L322 841L322 842L322 844L322 845L322 847L323 849L324 850L326 850L327 851M315 851L316 853L316 854L317 856L317 857L317 859L317 861L318 863L318 864L317 866L317 868L317 869L317 871L317 872L317 874L317 875L317 877L317 878L317 880L318 881" fill="none" stroke="#1a6e70" stroke-width="1.0" opacity="0.3"/>
<path d="M57 822L56 824L56 826L55 827L55 828L54 830L53 831L52 832L51 834L50 835L49 836L48 838L49 840L52 840L53 841L54 843L55 844L56 845L57 846L59 847L60 848L61 849L63 850L63 851L63 854L64 855L64 856L64 858L64 859L63 861L63 862L63 864L63 866L63 867L63 869L64 871L63 872L63 874M71 828L70 829L70 831L70 832L70 834L70 836L70 838L71 839L74 839L75 840L76 842L77 843L79 843L80 844L82 845L83 846L84 847L86 847L87 848L89 849L88 851L88 853L88 854L87 855L87 856L86 857L84 858L83 859L82 859L80 860L79 861L78 861L76 861L74 862L73 862L71 863M162 884L162 883L163 881L163 879L163 878L163 876L164 875L164 873L164 871L164 870L164 868L164 867L164 865L164 863M161 858L163 858L164 858L165 858L166 858L167 857M179 839L181 839L182 839L184 840M177 843L176 845L175 846L175 848L175 850L175 851L175 853L175 855L176 856L176 858L177 860L178 861L178 863L181 863L180 865L181 866L181 867L180 867L178 867M188 858L188 856L189 854L189 853L190 851L191 850L192 849L193 847L194 846L196 845L197 844L199 843L200 843L201 842L203 841L205 841L206 840L207 839L209 839L211 838L212 838L214 838L215 837L217 837L218 836L219 835L219 833L220 832L219 831L219 829L218 828L217 827L216 825L216 823L215 822L215 820L215 818L216 817M194 859L195 860L197 861L198 861L199 862L201 862L202 863L204 863L205 862L207 862L209 862L210 861L212 861L213 860L214 859M204 854L204 856L205 857M290 829L290 830L291 832L292 833L292 835L293 836L294 838L295 839L295 841L296 842L296 844L297 845L298 847L298 848L299 850L299 851L300 853L300 854L301 856L301 857M303 814L304 816L305 817L306 819L306 820L307 822L308 823L309 825L309 826L310 827L311 829L312 830L313 831L313 833L313 834L314 836L314 837L315 839L315 840L316 842M325 823L326 825L326 826L326 827L325 829L325 830L325 832L324 833L323 834L323 836L322 838L321 839L321 840L320 842L320 844L321 846L323 846L324 847L325 848L327 849L328 850M314 852L314 853L314 855L314 856L315 858L315 859L315 861L315 863L315 864L315 866L315 867L314 869L314 870L314 872L315 874L315 875L315 877L316 879L317 880L317 882" fill="none" stroke="#8ae9e9" stroke-width="0.7" opacity="0.45"/>
</g></g>
<g filter="url(#rough)">
<g transform="translate(0,0) scale(1.00000)" stroke-linejoin="round" stroke-linecap="round">
<path d="M48 982L49 983L51 985L52 986L53 987L54 988L55 989L56 991L56 993L57 994L58 995L58 995L57 995L56 995L55 997L53 999L51 1000L49 1002L48 1004L48 1007L49 1010L50 1013L51 1015L54 1016L56 1016L58 1017L60 1018L62 1017L64 1016L66 1015L68 1015L68 1014L66 1014L64 1014L62 1013L61 1013L59 1013L58 1012L57 1010L56 1009L55 1008L54 1008L54 1007L55 1006L56 1005L56 1004L56 1002L58 1002L59 1002L62 1001L64 997L64 994L64 991L63 989L61 987L59 986L58 984L56 983L54 982L52 982L50 982L48 981ZM75 978L76 979L78 981L78 983L79 985L80 986L81 987L81 989L81 991L82 992L82 993L81 994L79 994L78 996L77 997L75 998L72 999L71 1001L70 1003L70 1005L69 1007L69 1010L69 1012L71 1014L71 1016L71 1018L72 1020L72 1022L72 1024L71 1026L71 1028L72 1029L76 1028L77 1027L76 1025L75 1023L74 1021L74 1020L74 1018L73 1016L73 1014L74 1012L75 1011L76 1010L76 1008L78 1007L79 1006L79 1004L80 1003L80 1001L82 1000L83 999L84 997L85 994L87 992L87 989L86 987L84 986L84 984L83 982L82 980L80 979L79 978L78 976ZM163 1005L165 1004L167 1004L169 1004L171 1003L172 1002L172 1000L170 1000L168 1000L166 1001L165 1002L163 1002ZM178 997L180 997L182 997L183 996L185 996L186 996L187 997L187 999L188 1000L189 1001L192 1002L194 1003L197 1004L200 1004L202 1003L204 1002L205 1001L206 1001L208 1001L210 1001L212 1001L213 1001L215 1002L217 1003L218 1005L220 1006L221 1005L223 1001L222 1000L220 1000L218 1000L216 1000L214 999L212 998L211 997L209 996L206 996L204 996L202 997L200 997L199 998L198 998L197 998L196 996L196 995L194 993L192 992L190 992L187 992L184 992L182 992L180 992L178 994L177 995ZM183 992L182 993L181 995L180 997L180 999L181 1001L181 1003L180 1005L180 1007L181 1009L182 1010L183 1012L186 1012L187 1010L188 1009L189 1007L189 1005L188 1003L188 1001L189 999L189 997L188 995L187 993L186 992ZM197 994L196 996L197 997L198 999L198 1001L198 1003L197 1005L197 1007L197 1009L196 1011L196 1013L196 1014L202 1014L202 1013L201 1011L201 1009L201 1007L201 1005L200 1003L200 1001L200 999L201 997L201 996L201 994ZM206 996L205 998L204 1000L205 1002L206 1004L206 1005L206 1007L207 1009L208 1011L208 1013L207 1014L210 1014L209 1013L209 1011L210 1009L211 1007L211 1005L211 1004L212 1002L213 1000L212 998L211 996ZM216 996L215 998L214 1000L214 1002L215 1004L215 1005L214 1007L214 1009L214 1011L215 1013L219 1013L219 1011L220 1009L220 1007L219 1005L219 1004L220 1002L220 1000L219 998L218 996ZM303 980L304 982L305 984L307 985L308 985L310 983L310 982L309 980L308 979L306 978ZM301 992L302 993L304 994L305 994L308 989L307 987L305 987L303 986ZM318 987L318 989L318 991L319 993L321 994L321 996L322 998L323 999L325 1000L325 1001L327 1000L326 1000L326 998L326 996L325 994L324 992L323 991L323 989L321 987L320 986ZM332 978L332 980L331 982L330 983L329 985L328 987L327 988L326 990L325 991L324 993L323 995L321 996L321 997L326 1000L327 999L327 997L327 995L328 993L329 991L329 989L330 988L332 986L333 985L334 983L335 982L336 980ZM289 1004L291 1005L293 1006L294 1007L296 1008L297 1009L298 1009L299 1011L300 1012L302 1013L304 1014L306 1015L307 1016L308 1018L309 1019L310 1019L313 1016L313 1015L312 1014L310 1013L308 1012L308 1010L307 1008L306 1006L305 1005L303 1003L301 1002L299 1001L297 1001L295 1000L293 1000L291 1000ZM318 1007L317 1010L317 1012L317 1014L318 1015L318 1017L318 1018L318 1019L319 1020L319 1022L318 1024L317 1026L317 1027L320 1028L321 1027L322 1026L323 1024L324 1022L326 1020L327 1018L326 1015L325 1013L325 1011L324 1009L322 1008L320 1006ZM298 1011L299 1013L300 1014L300 1016L300 1018L304 1017L303 1015L302 1014L301 1012L301 1010Z" fill="#0d4f52" stroke="#0d4f52" stroke-width="0.8" transform="translate(1.2,1.5)"/>
<path d="M48 982L49 983L51 985L52 986L53 987L54 988L55 989L56 991L56 993L57 994L58 995L58 995L57 995L56 995L55 997L53 999L51 1000L49 1002L48 1004L48 1007L49 1010L50 1013L51 1015L54 1016L56 1016L58 1017L60 1018L62 1017L64 1016L66 1015L68 1015L68 1014L66 1014L64 1014L62 1013L61 1013L59 1013L58 1012L57 1010L56 1009L55 1008L54 1008L54 1007L55 1006L56 1005L56 1004L56 1002L58 1002L59 1002L62 1001L64 997L64 994L64 991L63 989L61 987L59 986L58 984L56 983L54 982L52 982L50 982L48 981ZM75 978L76 979L78 981L78 983L79 985L80 986L81 987L81 989L81 991L82 992L82 993L81 994L79 994L78 996L77 997L75 998L72 999L71 1001L70 1003L70 1005L69 1007L69 1010L69 1012L71 1014L71 1016L71 1018L72 1020L72 1022L72 1024L71 1026L71 1028L72 1029L76 1028L77 1027L76 1025L75 1023L74 1021L74 1020L74 1018L73 1016L73 1014L74 1012L75 1011L76 1010L76 1008L78 1007L79 1006L79 1004L80 1003L80 1001L82 1000L83 999L84 997L85 994L87 992L87 989L86 987L84 986L84 984L83 982L82 980L80 979L79 978L78 976ZM163 1005L165 1004L167 1004L169 1004L171 1003L172 1002L172 1000L170 1000L168 1000L166 1001L165 1002L163 1002ZM178 997L180 997L182 997L183 996L185 996L186 996L187 997L187 999L188 1000L189 1001L192 1002L194 1003L197 1004L200 1004L202 1003L204 1002L205 1001L206 1001L208 1001L210 1001L212 1001L213 1001L215 1002L217 1003L218 1005L220 1006L221 1005L223 1001L222 1000L220 1000L218 1000L216 1000L214 999L212 998L211 997L209 996L206 996L204 996L202 997L200 997L199 998L198 998L197 998L196 996L196 995L194 993L192 992L190 992L187 992L184 992L182 992L180 992L178 994L177 995ZM183 992L182 993L181 995L180 997L180 999L181 1001L181 1003L180 1005L180 1007L181 1009L182 1010L183 1012L186 1012L187 1010L188 1009L189 1007L189 1005L188 1003L188 1001L189 999L189 997L188 995L187 993L186 992ZM197 994L196 996L197 997L198 999L198 1001L198 1003L197 1005L197 1007L197 1009L196 1011L196 1013L196 1014L202 1014L202 1013L201 1011L201 1009L201 1007L201 1005L200 1003L200 1001L200 999L201 997L201 996L201 994ZM206 996L205 998L204 1000L205 1002L206 1004L206 1005L206 1007L207 1009L208 1011L208 1013L207 1014L210 1014L209 1013L209 1011L210 1009L211 1007L211 1005L211 1004L212 1002L213 1000L212 998L211 996ZM216 996L215 998L214 1000L214 1002L215 1004L215 1005L214 1007L214 1009L214 1011L215 1013L219 1013L219 1011L220 1009L220 1007L219 1005L219 1004L220 1002L220 1000L219 998L218 996ZM303 980L304 982L305 984L307 985L308 985L310 983L310 982L309 980L308 979L306 978ZM301 992L302 993L304 994L305 994L308 989L307 987L305 987L303 986ZM318 987L318 989L318 991L319 993L321 994L321 996L322 998L323 999L325 1000L325 1001L327 1000L326 1000L326 998L326 996L325 994L324 992L323 991L323 989L321 987L320 986ZM332 978L332 980L331 982L330 983L329 985L328 987L327 988L326 990L325 991L324 993L323 995L321 996L321 997L326 1000L327 999L327 997L327 995L328 993L329 991L329 989L330 988L332 986L333 985L334 983L335 982L336 980ZM289 1004L291 1005L293 1006L294 1007L296 1008L297 1009L298 1009L299 1011L300 1012L302 1013L304 1014L306 1015L307 1016L308 1018L309 1019L310 1019L313 1016L313 1015L312 1014L310 1013L308 1012L308 1010L307 1008L306 1006L305 1005L303 1003L301 1002L299 1001L297 1001L295 1000L293 1000L291 1000ZM318 1007L317 1010L317 1012L317 1014L318 1015L318 1017L318 1018L318 1019L319 1020L319 1022L318 1024L317 1026L317 1027L320 1028L321 1027L322 1026L323 1024L324 1022L326 1020L327 1018L326 1015L325 1013L325 1011L324 1009L322 1008L320 1006ZM298 1011L299 1013L300 1014L300 1016L300 1018L304 1017L303 1015L302 1014L301 1012L301 1010Z" fill="#37bcbd" stroke="#37bcbd" stroke-width="0.5"/>
<path d="M49 983L51 984L52 985L54 986L55 987L56 989L60 988L61 990L62 992L62 994L62 997L60 999L59 1000L57 1001L55 1001L55 1003L54 1004L53 1006L53 1007L53 1009L51 1012L53 1013L55 1014L56 1015L58 1016L60 1016L62 1016L64 1016L66 1015M78 978L79 980L81 981L82 983L83 984L83 986L84 988L85 990L85 992L84 994L83 996L82 998L81 999L79 1000L78 1001L78 1003L77 1005L76 1006L75 1008L74 1009L73 1011L73 1012L73 1014L73 1016L73 1018L74 1020L74 1022L74 1023L75 1025L75 1027M165 1003L167 1003L169 1003L171 1002M179 996L181 996L183 995L185 995L186 995L188 996L189 997L190 998L191 1000L193 1001L195 1002L197 1002L200 1002L201 1001L203 1001L205 1000L206 1000L208 1000L210 1000L212 1000L214 1001L215 1001L217 1002L219 1003L220 1004M186 993L186 995L186 997L186 999L186 1001L186 1003L186 1005L186 1007L186 1009L186 1010M200 996L200 997L199 999L199 1001L199 1003L200 1005L200 1007L200 1009L200 1011L200 1013M210 998L210 1000L210 1002L210 1004L210 1005L210 1007L209 1009L209 1011L209 1013M218 998L218 1000L218 1002L218 1004L218 1005L218 1007L218 1009L218 1011M305 981L306 983L308 984M303 991L305 992M320 988L322 989L322 991L323 993L324 995L325 996L325 998L326 1000M334 981L333 983L332 985L331 986L330 987L329 989L328 991L327 993L326 994L326 996L325 998M291 1004L293 1005L295 1005L296 1006L298 1007L299 1008L301 1009L302 1010L303 1011L305 1013L306 1014L308 1015L309 1017L310 1018M320 1008L322 1010L323 1011L323 1013L324 1015L324 1018L324 1020L323 1022L322 1023L321 1025L320 1027M301 1012L301 1014L302 1016" fill="none" stroke="#0d4f52" stroke-width="1.2" opacity="0.3"/>
<path d="M50 982L52 983L54 983L55 984L57 986L58 987L57 990L58 992L59 993L60 995L60 996L59 997L57 997L55 998L54 1000L52 1001L51 1003L50 1005L50 1007L50 1009L54 1010L55 1011L56 1012L57 1013L59 1014L61 1014L62 1015L64 1015L66 1014M77 979L78 980L79 982L80 984L81 985L82 987L83 989L83 990L83 992L83 993L82 995L81 996L79 997L78 998L76 1000L75 1001L73 1003L73 1004L72 1006L71 1008L71 1010L71 1012L72 1014L72 1016L72 1018L72 1020L73 1022L73 1024L73 1026L73 1027M165 1002L167 1002L168 1001L170 1001M179 995L181 994L182 993L184 993L187 993L189 994L191 994L192 995L194 997L195 998L196 999L197 1000L199 999L201 999L202 998L204 998L206 998L208 998L210 998L212 999L214 1000L216 1001L218 1001L220 1001L221 1002M183 993L183 995L183 997L183 999L183 1001L183 1003L183 1005L183 1007L183 1009L183 1010M198 996L198 997L198 999L199 1001L198 1003L198 1005L198 1007L198 1009L198 1011L198 1013M207 998L207 1000L207 1002L207 1004L207 1005L208 1007L208 1009L208 1011L208 1013M216 998L216 1000L216 1002L216 1004L216 1005L216 1007L216 1009L216 1011M306 980L308 981L309 983M304 989L306 989M319 989L320 990L321 992L322 994L322 995L323 997L324 999L325 1000M333 981L332 982L331 984L330 985L329 987L328 989L327 990L326 992L325 994L324 995L323 997M292 1002L294 1002L296 1003L298 1003L300 1004L301 1005L303 1006L304 1008L306 1009L307 1011L308 1013L309 1014L310 1015L312 1016M319 1009L319 1011L319 1013L320 1014L320 1016L321 1018L320 1019L320 1021L320 1023L319 1024L318 1026M300 1012L300 1014L301 1016" fill="none" stroke="#8ae9e9" stroke-width="0.9" opacity="0.45"/>
</g></g>
<g fill="none" stroke="#ff33ff" stroke-width="1.2"><line x1="66" y1="841" x2="70" y2="840"/><line x1="186" y1="861" x2="191" y2="859"/><line x1="313" y1="831" x2="317" y2="831"/></g>
<text x="425.8" y="545.5" font-size="24.4" text-anchor="start" fill="#111" textLength="518.2" lengthAdjust="spacingAndGlyphs" >3D structures of entangled photoresist polymers</text>
<g filter="url(#rough)">
<g transform="translate(460,565) scale(0.18292)" stroke-linejoin="round" stroke-linecap="round">
<path d="M41 87L54 94L68 101L81 102L96 98L109 91L119 88L121 87L122 85L130 87L137 94L138 105L134 116L130 126L131 137L132 149L130 161L126 172L123 185L124 198L136 202L145 193L151 181L155 169L161 157L168 145L173 131L171 116L165 102L162 87L160 71L154 52L133 37L110 38L96 42L85 41L74 41L62 44L51 54L39 63ZM233 111L231 124L232 137L235 150L238 164L244 179L253 189L265 196L274 203L280 214L278 227L276 241L278 254L285 265L292 276L297 288L301 300L307 305L333 295L333 287L329 275L324 264L321 251L319 239L313 228L302 218L291 208L285 196L281 183L275 170L269 161L262 154L257 144L256 133L253 121L247 109ZM181 221L193 220L206 224L217 231L227 232L238 230L247 235L254 243L262 245L270 249L273 258L271 270L277 281L286 285L314 275L319 268L318 255L308 242L299 229L291 214L278 202L262 199L247 196L233 190L219 188L204 195L192 201L179 203ZM161 224L146 230L136 239L132 252L128 265L122 277L113 289L106 300L102 313L98 325L93 336L88 348L87 361L90 374L92 387L88 397L78 403L68 409L62 420L81 441L93 435L101 424L107 409L115 397L125 386L136 376L142 364L144 352L147 340L151 327L153 316L154 303L155 291L159 281L167 272L176 264L180 252L179 236ZM185 313L189 326L198 334L208 338L213 346L212 356L209 366L208 374L209 384L207 392L201 400L198 411L222 429L232 424L241 412L249 397L256 382L258 365L252 350L245 335L240 320L235 304L228 293L215 287ZM376 227L370 238L370 251L373 264L375 276L373 288L370 299L366 310L363 321L359 332L354 342L346 351L336 359L327 367L318 377L313 389L308 401L302 412L293 422L282 431L271 440L261 450L253 461L247 472L244 485L244 492L280 508L286 503L292 492L297 480L300 469L301 456L302 443L305 431L313 421L323 414L334 407L345 399L353 390L359 378L366 367L373 356L382 346L391 334L397 322L402 309L405 296L410 284L416 271L423 259L427 246L424 233ZM326 424L335 433L340 445L345 456L350 465L353 476L355 489L364 497L396 483L395 470L387 460L378 449L369 437L357 429L343 424L334 416ZM384 306L384 319L386 332L391 344L398 355L404 366L406 378L407 392L411 403L422 413L435 421L442 432L443 443L439 455L436 467L436 480L437 493L435 506L434 519L435 532L438 545L439 557L438 562L472 558L470 554L469 542L469 529L468 517L466 505L464 493L464 481L466 468L463 455L457 442L454 429L454 415L458 399L459 385L455 374L447 363L441 352L438 340L436 327L432 315L425 304L416 294ZM403 157L414 152L425 150L434 157L435 165L439 170L448 176L454 186L458 196L465 203L470 210L467 217L458 223L457 235L464 245L496 255L507 253L515 240L512 222L508 204L505 187L500 172L491 161L482 150L475 137L461 123L438 123L422 133L409 139L397 143ZM432 108L439 119L449 127L460 133L464 136L476 124L473 120L467 109L459 99L448 92ZM526 93L526 106L524 120L526 132L531 144L538 160L553 178L571 186L581 189L587 185L594 185L601 194L601 205L599 217L598 228L596 240L594 248L606 252L609 244L615 233L619 219L618 205L617 192L617 176L612 155L594 142L579 141L573 144L572 143L573 134L572 121L568 109L560 98L554 87ZM495 368L506 374L517 382L529 391L547 397L565 394L578 384L586 372L592 361L599 358L603 367L605 377L603 385L600 389L594 395L585 402L575 411L565 420L556 430L550 441L547 454L549 462L571 478L579 478L591 472L600 463L606 452L612 441L618 431L626 419L634 404L636 384L628 367L616 357L603 347L586 348L572 354L560 357L551 358L544 362L537 364L527 363L515 359L505 352ZM611 456L611 470L613 484L619 495L625 505L630 516L633 529L637 540L644 550L655 558L666 566L675 576L680 587L681 600L683 613L687 625L692 636L696 648L699 661L700 674L704 687L711 698L720 709L728 719L730 725L750 715L746 709L742 697L739 685L737 673L731 663L725 652L719 641L716 629L713 616L710 604L704 593L698 581L694 569L694 555L695 540L695 525L691 513L683 502L675 492L667 481L660 470L653 459L642 451L629 444ZM733 247L738 260L743 273L752 280L764 285L777 291L788 302L805 304L821 296L833 286L841 274L845 261L849 247L853 234L857 221L860 207L861 194L862 180L864 166L867 152L867 138L862 126L852 115L843 103L838 99L822 101L819 107L813 121L808 134L806 147L809 158L814 170L818 181L818 192L817 203L817 215L817 227L816 238L811 248L806 259L803 269L802 281L801 292L794 290L788 282L786 268L781 253L773 243L760 238L747 233ZM852 323L842 331L830 338L818 350L814 366L817 383L822 397L824 410L826 423L831 435L838 447L842 459L840 473L839 487L842 500L848 511L851 523L851 535L853 546L860 556L870 566L877 573L903 567L906 558L911 543L912 529L906 516L897 505L891 493L886 481L880 470L869 461L858 452L851 442L850 429L849 417L844 405L841 394L842 383L849 375L853 368L856 359L860 347L868 337ZM781 494L777 509L774 524L780 534L788 543L793 554L793 566L795 577L799 588L799 597L793 605L791 613L793 627L795 641L790 653L781 661L773 670L765 679L755 686L742 691L733 699L731 711L749 729L761 728L770 719L775 705L781 693L790 683L797 672L802 660L810 650L824 642L837 632L842 617L841 600L840 584L841 570L838 556L832 543L829 530L830 515L826 502L813 494L799 486ZM815 625L825 633L831 645L838 655L847 662L854 672L854 685L855 697L863 707L896 693L895 679L885 668L872 660L865 648L857 637L846 630L833 624L825 615ZM358 673L352 685L346 696L340 707L335 719L333 733L332 747L329 759L324 772L317 784L315 796L345 800L347 787L343 774L342 762L344 750L350 739L358 730L364 719L369 708L376 698L382 687ZM499 828L511 828L520 832L523 840L524 850L527 861L530 873L529 885L524 896L518 906L513 917L511 930L511 943L509 956L504 968L501 980L504 987L536 993L541 988L543 975L543 963L546 950L551 939L556 927L557 914L554 899L550 885L548 872L548 858L547 845L541 831L529 819L514 815L501 812ZM666 757L657 768L652 780L652 793L649 805L642 817L639 829L643 843L649 857L648 869L645 882L645 894L645 907L655 909L660 897L665 886L667 873L672 861L682 850L692 839L693 827L691 814L693 801L698 789L698 776L694 763ZM179 349L183 361L186 373L187 383L189 392L192 401L200 412L207 415L239 407L245 402L247 388L244 373L236 358L224 347L211 339L200 332ZM40 87L39 100L42 113L49 126L57 137L62 149L61 157L55 161L46 166L35 180L32 201L33 219L37 233L43 241L85 229L86 220L84 210L82 202L82 198L85 192L91 177L90 155L81 140L74 129L72 118L73 106L71 94L65 82ZM179 129L168 137L161 149L153 163L143 177L135 189L131 197L132 206L131 217L127 229L126 236L146 252L153 249L165 242L178 232L189 218L191 201L188 189L186 179L192 172L201 165L207 154ZM182 341L185 354L194 365L206 374L219 382L228 391L237 401L240 403L260 381L256 377L245 371L236 363L231 353L229 341L224 331L214 322ZM387 131L380 142L369 150L360 156L358 163L356 174L350 185L349 191L375 215L380 214L392 207L406 200L418 186L419 168L415 152L415 139ZM418 209L432 206L440 201L444 199L446 204L454 207L467 206L482 203L495 204L506 207L518 208L531 206L544 208L552 213L558 195L550 193L539 186L528 176L516 170L502 168L490 164L481 155L470 147L453 144L430 149L412 160L401 171L396 185ZM531 245L519 241L508 237L499 230L500 217L503 205L503 197L501 189L501 180L504 168L503 160L469 152L464 158L460 171L457 186L455 203L461 220L475 231L490 238L501 247L512 255L522 263Z" fill="#1a6e70" stroke="#1a6e70" stroke-width="4.4" transform="translate(6.6,8.2)"/>
<path d="M41 87L54 94L68 101L81 102L96 98L109 91L119 88L121 87L122 85L130 87L137 94L138 105L134 116L130 126L131 137L132 149L130 161L126 172L123 185L124 198L136 202L145 193L151 181L155 169L161 157L168 145L173 131L171 116L165 102L162 87L160 71L154 52L133 37L110 38L96 42L85 41L74 41L62 44L51 54L39 63ZM233 111L231 124L232 137L235 150L238 164L244 179L253 189L265 196L274 203L280 214L278 227L276 241L278 254L285 265L292 276L297 288L301 300L307 305L333 295L333 287L329 275L324 264L321 251L319 239L313 228L302 218L291 208L285 196L281 183L275 170L269 161L262 154L257 144L256 133L253 121L247 109ZM181 221L193 220L206 224L217 231L227 232L238 230L247 235L254 243L262 245L270 249L273 258L271 270L277 281L286 285L314 275L319 268L318 255L308 242L299 229L291 214L278 202L262 199L247 196L233 190L219 188L204 195L192 201L179 203ZM161 224L146 230L136 239L132 252L128 265L122 277L113 289L106 300L102 313L98 325L93 336L88 348L87 361L90 374L92 387L88 397L78 403L68 409L62 420L81 441L93 435L101 424L107 409L115 397L125 386L136 376L142 364L144 352L147 340L151 327L153 316L154 303L155 291L159 281L167 272L176 264L180 252L179 236ZM185 313L189 326L198 334L208 338L213 346L212 356L209 366L208 374L209 384L207 392L201 400L198 411L222 429L232 424L241 412L249 397L256 382L258 365L252 350L245 335L240 320L235 304L228 293L215 287ZM376 227L370 238L370 251L373 264L375 276L373 288L370 299L366 310L363 321L359 332L354 342L346 351L336 359L327 367L318 377L313 389L308 401L302 412L293 422L282 431L271 440L261 450L253 461L247 472L244 485L244 492L280 508L286 503L292 492L297 480L300 469L301 456L302 443L305 431L313 421L323 414L334 407L345 399L353 390L359 378L366 367L373 356L382 346L391 334L397 322L402 309L405 296L410 284L416 271L423 259L427 246L424 233ZM326 424L335 433L340 445L345 456L350 465L353 476L355 489L364 497L396 483L395 470L387 460L378 449L369 437L357 429L343 424L334 416ZM384 306L384 319L386 332L391 344L398 355L404 366L406 378L407 392L411 403L422 413L435 421L442 432L443 443L439 455L436 467L436 480L437 493L435 506L434 519L435 532L438 545L439 557L438 562L472 558L470 554L469 542L469 529L468 517L466 505L464 493L464 481L466 468L463 455L457 442L454 429L454 415L458 399L459 385L455 374L447 363L441 352L438 340L436 327L432 315L425 304L416 294ZM403 157L414 152L425 150L434 157L435 165L439 170L448 176L454 186L458 196L465 203L470 210L467 217L458 223L457 235L464 245L496 255L507 253L515 240L512 222L508 204L505 187L500 172L491 161L482 150L475 137L461 123L438 123L422 133L409 139L397 143ZM432 108L439 119L449 127L460 133L464 136L476 124L473 120L467 109L459 99L448 92ZM526 93L526 106L524 120L526 132L531 144L538 160L553 178L571 186L581 189L587 185L594 185L601 194L601 205L599 217L598 228L596 240L594 248L606 252L609 244L615 233L619 219L618 205L617 192L617 176L612 155L594 142L579 141L573 144L572 143L573 134L572 121L568 109L560 98L554 87ZM495 368L506 374L517 382L529 391L547 397L565 394L578 384L586 372L592 361L599 358L603 367L605 377L603 385L600 389L594 395L585 402L575 411L565 420L556 430L550 441L547 454L549 462L571 478L579 478L591 472L600 463L606 452L612 441L618 431L626 419L634 404L636 384L628 367L616 357L603 347L586 348L572 354L560 357L551 358L544 362L537 364L527 363L515 359L505 352ZM611 456L611 470L613 484L619 495L625 505L630 516L633 529L637 540L644 550L655 558L666 566L675 576L680 587L681 600L683 613L687 625L692 636L696 648L699 661L700 674L704 687L711 698L720 709L728 719L730 725L750 715L746 709L742 697L739 685L737 673L731 663L725 652L719 641L716 629L713 616L710 604L704 593L698 581L694 569L694 555L695 540L695 525L691 513L683 502L675 492L667 481L660 470L653 459L642 451L629 444ZM733 247L738 260L743 273L752 280L764 285L777 291L788 302L805 304L821 296L833 286L841 274L845 261L849 247L853 234L857 221L860 207L861 194L862 180L864 166L867 152L867 138L862 126L852 115L843 103L838 99L822 101L819 107L813 121L808 134L806 147L809 158L814 170L818 181L818 192L817 203L817 215L817 227L816 238L811 248L806 259L803 269L802 281L801 292L794 290L788 282L786 268L781 253L773 243L760 238L747 233ZM852 323L842 331L830 338L818 350L814 366L817 383L822 397L824 410L826 423L831 435L838 447L842 459L840 473L839 487L842 500L848 511L851 523L851 535L853 546L860 556L870 566L877 573L903 567L906 558L911 543L912 529L906 516L897 505L891 493L886 481L880 470L869 461L858 452L851 442L850 429L849 417L844 405L841 394L842 383L849 375L853 368L856 359L860 347L868 337ZM781 494L777 509L774 524L780 534L788 543L793 554L793 566L795 577L799 588L799 597L793 605L791 613L793 627L795 641L790 653L781 661L773 670L765 679L755 686L742 691L733 699L731 711L749 729L761 728L770 719L775 705L781 693L790 683L797 672L802 660L810 650L824 642L837 632L842 617L841 600L840 584L841 570L838 556L832 543L829 530L830 515L826 502L813 494L799 486ZM815 625L825 633L831 645L838 655L847 662L854 672L854 685L855 697L863 707L896 693L895 679L885 668L872 660L865 648L857 637L846 630L833 624L825 615ZM358 673L352 685L346 696L340 707L335 719L333 733L332 747L329 759L324 772L317 784L315 796L345 800L347 787L343 774L342 762L344 750L350 739L358 730L364 719L369 708L376 698L382 687ZM499 828L511 828L520 832L523 840L524 850L527 861L530 873L529 885L524 896L518 906L513 917L511 930L511 943L509 956L504 968L501 980L504 987L536 993L541 988L543 975L543 963L546 950L551 939L556 927L557 914L554 899L550 885L548 872L548 858L547 845L541 831L529 819L514 815L501 812ZM666 757L657 768L652 780L652 793L649 805L642 817L639 829L643 843L649 857L648 869L645 882L645 894L645 907L655 909L660 897L665 886L667 873L672 861L682 850L692 839L693 827L691 814L693 801L698 789L698 776L694 763ZM179 349L183 361L186 373L187 383L189 392L192 401L200 412L207 415L239 407L245 402L247 388L244 373L236 358L224 347L211 339L200 332ZM40 87L39 100L42 113L49 126L57 137L62 149L61 157L55 161L46 166L35 180L32 201L33 219L37 233L43 241L85 229L86 220L84 210L82 202L82 198L85 192L91 177L90 155L81 140L74 129L72 118L73 106L71 94L65 82ZM179 129L168 137L161 149L153 163L143 177L135 189L131 197L132 206L131 217L127 229L126 236L146 252L153 249L165 242L178 232L189 218L191 201L188 189L186 179L192 172L201 165L207 154ZM182 341L185 354L194 365L206 374L219 382L228 391L237 401L240 403L260 381L256 377L245 371L236 363L231 353L229 341L224 331L214 322ZM387 131L380 142L369 150L360 156L358 163L356 174L350 185L349 191L375 215L380 214L392 207L406 200L418 186L419 168L415 152L415 139ZM418 209L432 206L440 201L444 199L446 204L454 207L467 206L482 203L495 204L506 207L518 208L531 206L544 208L552 213L558 195L550 193L539 186L528 176L516 170L502 168L490 164L481 155L470 147L453 144L430 149L412 160L401 171L396 185ZM531 245L519 241L508 237L499 230L500 217L503 205L503 197L501 189L501 180L504 168L503 160L469 152L464 158L460 171L457 186L455 203L461 220L475 231L490 238L501 247L512 255L522 263Z" fill="#3ec8c8" stroke="#3ec8c8" stroke-width="2.7"/>
<path d="M53 83L66 86L79 85L93 82L105 78L116 74L124 73L131 76L152 76L155 89L158 103L160 116L161 129L158 142L153 155L148 167L144 179L139 191M247 122L249 134L251 146L255 157L262 166L259 184L269 192L282 198L288 210L295 221L303 232L308 243L311 255L315 267L320 279L325 290M193 215L205 216L217 219L229 220L241 221L251 225L261 232L270 237L291 235L299 247L305 259L308 271M171 246L165 257L158 267L150 276L146 287L143 299L140 311L137 323L133 336L130 348L127 360L123 372L116 383L109 394L102 406L95 418L87 428M200 317L208 326L231 325L236 338L241 352L244 365L243 380L238 393L232 406L223 417M411 244L409 257L404 269L400 281L397 294L393 306L389 319L383 331L376 342L368 352L360 363L353 373L346 383L338 393L328 402L319 410L310 419L302 429L297 440L293 452L289 464L285 475L280 487L274 498M338 430L345 441L351 451L370 453L377 464L384 475M414 308L419 320L424 332L427 344L430 356L436 367L442 379L446 390L448 403L449 417L451 429L453 442L456 455L457 468L457 480L456 493L457 505L459 517L460 530L460 542L461 555M413 148L424 145L435 148L442 154L449 161L457 169L481 168L489 178L494 191L497 206L500 221L499 236L493 248M444 113L454 122L464 130M551 100L556 112L560 124L561 137L562 147L558 169L573 174L585 176L594 176L611 179L613 192L614 205L613 219L610 231L605 243M509 370L520 377L531 384L546 388L561 384L573 377L582 367L590 357L600 355L607 364L622 370L627 384L625 400L617 413L609 423L602 433L595 443L588 453L580 463L570 472M634 456L642 466L649 477L656 488L662 499L669 509L676 520L681 532L684 545L686 558L689 571L693 583L698 595L702 606L706 618L709 631L713 643L718 654L723 666L728 677L732 689L736 700L741 712M744 254L751 264L760 273L770 280L780 288L789 298L804 300L816 292L825 281L831 270L836 257L840 245L843 232L846 219L848 206L849 193L850 180L850 167L851 154L850 141L847 128L842 116L836 104M855 343L849 353L844 363L839 373L835 383L836 395L839 407L843 419L845 431L848 443L853 454L861 465L869 475L874 486L879 498L884 510L891 521L895 534L897 547L896 560M803 498L812 508L816 521L818 534L821 546L826 559L828 572L829 585L830 599L829 614L824 627L815 638L806 647L799 658L792 669L785 680L777 689L769 700L762 711L753 720M827 631L835 641L843 650L852 659L867 663L877 673L884 684M369 694L363 705L357 716L352 727L346 738L341 749L338 761L337 774L338 786M512 824L522 828L536 833L541 846L542 859L543 872L544 885L546 898L546 912L544 924L540 936L537 948L534 961L532 973L530 986M687 774L686 787L682 799L679 811L679 824L677 837L672 848L665 860L662 872L660 884L656 897M191 355L213 354L222 365L229 378L232 392L232 405M62 96L64 108L66 120L69 132L76 143L82 156L81 172L74 185L69 193L68 202L70 212L73 224M192 157L184 166L177 174L176 185L176 198L173 212L165 225L155 235L146 244M213 337L219 348L213 368L223 377L233 385L242 394M405 149L405 163L402 177L393 190L382 198L372 206M423 196L432 190L440 185L448 187L458 191L471 192L484 192L497 194L509 197L521 199L533 201L545 204M514 251L503 244L492 236L493 221L491 209L490 199L489 188L490 177L493 165" fill="none" stroke="#1a6e70" stroke-width="7.9" opacity="0.3"/>
<path d="M52 66L64 61L76 59L88 58L100 57L113 53L129 52L144 62L139 82L145 92L146 104L145 116L143 127L142 139L141 151L138 163L133 175L130 187M237 123L239 136L242 148L245 161L251 174L269 176L276 187L278 201L283 212L285 225L287 237L290 250L296 261L302 272L306 284L311 296M192 207L205 203L218 201L231 202L244 206L257 210L271 214L282 223L279 243L283 253L285 265L290 277M156 236L148 246L143 258L137 270L132 282L126 293L120 305L116 317L113 329L108 341L104 353L102 365L101 378L99 390L94 401L85 409L76 417M216 303L224 313L218 333L223 343L224 354L223 366L223 377L221 388L217 398L210 407M387 241L386 253L386 266L385 278L383 290L379 302L375 314L371 325L366 336L360 346L352 356L343 365L334 374L326 384L319 394L312 405L305 415L297 425L288 435L280 445L272 455L266 467L261 478L256 490M341 427L352 434L362 443L358 460L363 471L367 483M396 315L400 327L404 339L410 350L415 362L418 374L421 386L426 398L433 409L440 419L445 431L447 443L446 455L445 468L445 480L445 493L444 506L444 519L445 531L447 544L448 556M411 143L423 138L437 133L453 136L464 147L472 158L465 178L471 189L477 198L482 208L480 219L475 228L472 240M453 105L461 114L469 124M536 104L537 117L540 129L543 141L548 155L567 154L577 154L590 156L605 164L601 183L606 193L606 205L605 217L603 229L600 242M513 363L524 369L535 372L545 372L555 369L566 365L576 359L587 352L602 350L612 360L612 374L613 384L610 394L604 402L595 411L586 420L577 430L569 439L562 450L556 461M620 465L625 476L631 487L638 498L643 509L648 521L653 532L660 543L667 553L675 563L681 574L685 585L688 598L691 610L695 622L699 634L703 646L706 658L710 670L714 683L719 694L726 705L733 716M753 244L764 252L773 261L779 273L785 285L792 294L802 295L808 286L812 274L817 263L821 252L826 241L828 229L829 217L830 205L831 192L831 180L829 168L826 156L824 144L824 132L825 119L826 106M848 336L838 344L828 355L824 369L824 383L828 396L830 409L833 421L837 433L842 445L846 457L849 470L851 482L856 494L861 506L865 517L867 529L870 541L875 552L881 564M788 505L790 517L795 528L801 539L804 551L806 563L809 575L811 587L811 598L808 608L804 619L802 631L799 644L794 655L786 664L778 674L770 684L761 692L750 699L741 708M831 627L841 634L851 642L859 653L859 668L863 680L867 691M359 688L353 700L347 711L342 722L338 735L336 748L333 760L329 772L326 785M513 818L526 823L529 837L531 848L533 860L536 873L536 885L533 897L529 908L526 920L523 933L522 945L519 958L516 970L513 982M669 771L666 783L664 795L662 808L658 820L655 832L655 845L656 858L654 870L651 883L650 895M203 346L197 366L202 376L205 386L208 397L213 409M48 99L51 111L56 123L62 135L67 146L70 157L66 165L58 174L49 186L47 202L48 216L52 229M178 145L170 156L163 168L157 180L152 193L149 203L146 214L141 224L135 235M197 347L204 358L224 359L231 369L240 377L250 384M390 145L384 155L377 165L372 174L366 184L359 194M410 181L420 172L434 164L451 162L465 165L477 171L488 176L500 179L513 181L525 186L536 192L548 198M517 246L506 240L496 232L482 227L474 215L469 201L470 187L473 173L476 161" fill="none" stroke="#8ae9e9" stroke-width="5.8" opacity="0.45"/>
</g></g>
<g filter="url(#rough)">
<g transform="translate(460,565) scale(0.18292)" stroke-linejoin="round" stroke-linecap="round">
<path d="M65 110L84 109L99 99L119 93L132 93L138 77L125 69L104 52L77 44L55 50ZM210 232L228 243L241 255L257 265L289 212L268 200L243 197L220 198ZM794 649L811 661L827 675L844 687L853 690L867 670L861 662L843 651L824 642L806 631ZM785 706L806 715L831 728L858 725L876 708L864 672L845 667L831 670L814 677L795 674Z" fill="#1a6e70" stroke="#1a6e70" stroke-width="4.4" transform="translate(6.6,8.2)"/>
<path d="M65 110L84 109L99 99L119 93L132 93L138 77L125 69L104 52L77 44L55 50ZM210 232L228 243L241 255L257 265L289 212L268 200L243 197L220 198ZM794 649L811 661L827 675L844 687L853 690L867 670L861 662L843 651L824 642L806 631ZM785 706L806 715L831 728L858 725L876 708L864 672L845 667L831 670L814 677L795 674Z" fill="#3ec8c8" stroke="#3ec8c8" stroke-width="2.7"/>
<path d="M82 91L101 86L121 86M232 231L249 240M815 656L831 669L849 681M808 705L831 712L855 709" fill="none" stroke="#1a6e70" stroke-width="13.2" opacity="0.3"/>
<path d="M79 63L103 66L123 76M238 211L260 217M820 648L838 658L856 670M812 689L831 688L849 684" fill="none" stroke="#8ae9e9" stroke-width="9.6" opacity="0.45"/>
</g></g>
<rect x="679.3" y="593.8" width="72.1" height="130.3" fill="#d3eeed"/>
<g filter="url(#rough)">
<g transform="translate(0,0) scale(1.00000)" stroke-linejoin="round" stroke-linecap="round">
<path d="M721 598L719 598L717 598L715 598L713 599L711 601L709 602L707 604L706 606L706 609L706 611L706 613L706 615L707 617L707 619L707 621L707 623L708 625L708 627L708 629L708 632L709 633L710 635L711 637L711 639L712 640L714 642L715 644L715 646L716 648L717 649L718 651L718 652L719 654L720 655L721 657L722 659L723 661L724 662L725 664L727 663L727 661L727 659L727 657L726 656L726 653L727 651L726 649L724 648L723 646L723 644L721 642L720 641L719 639L719 637L718 636L717 634L716 633L715 631L715 629L714 627L712 626L711 624L711 622L710 621L709 619L709 617L710 615L710 613L711 612L711 610L713 609L714 609L714 607L715 606L716 606L718 605L719 605L721 603L723 602Z" fill="#1a6e70" stroke="#1a6e70" stroke-width="0.8" transform="translate(1.2,1.5)"/>
<path d="M721 598L719 598L717 598L715 598L713 599L711 601L709 602L707 604L706 606L706 609L706 611L706 613L706 615L707 617L707 619L707 621L707 623L708 625L708 627L708 629L708 632L709 633L710 635L711 637L711 639L712 640L714 642L715 644L715 646L716 648L717 649L718 651L718 652L719 654L720 655L721 657L722 659L723 661L724 662L725 664L727 663L727 661L727 659L727 657L726 656L726 653L727 651L726 649L724 648L723 646L723 644L721 642L720 641L719 639L719 637L718 636L717 634L716 633L715 631L715 629L714 627L712 626L711 624L711 622L710 621L709 619L709 617L710 615L710 613L711 612L711 610L713 609L714 609L714 607L715 606L716 606L718 605L719 605L721 603L723 602Z" fill="#3ec8c8" stroke="#3ec8c8" stroke-width="0.5"/>
<path d="M720 602L719 603L717 603L715 604L714 605L713 606L712 607L711 608L710 610L709 612L709 613L709 615L709 617L709 619L709 621L710 623L710 625L711 626L712 628L713 630L714 631L714 633L715 635L716 637L717 638L717 640L718 642L720 643L721 645L722 647L722 648L724 650L724 652L725 654L725 656L725 658L726 660L726 662" fill="none" stroke="#1a6e70" stroke-width="1.2" opacity="0.3"/>
<path d="M720 600L718 600L716 600L714 601L712 602L710 603L709 605L708 607L708 609L707 611L707 613L707 615L708 617L708 619L708 621L708 623L709 625L710 627L710 629L710 631L711 632L712 634L713 636L713 638L714 640L715 641L716 643L717 645L718 647L719 648L720 650L720 651L721 653L722 655L723 657L723 658L724 660L725 662" fill="none" stroke="#8ae9e9" stroke-width="0.9" opacity="0.45"/>
</g></g>
<g filter="url(#rough)">
<g transform="translate(0,0) scale(1.00000)" stroke-linejoin="round" stroke-linecap="round">
<path d="M714 607L717 607L718 607L718 607L719 607L720 608L722 609L724 609L728 605L728 603L727 601L724 599L720 596L715 596L712 598L710 601Z" fill="#1a6e70" stroke="#1a6e70" stroke-width="0.8" transform="translate(1.2,1.5)"/>
<path d="M714 607L717 607L718 607L718 607L719 607L720 608L722 609L724 609L728 605L728 603L727 601L724 599L720 596L715 596L712 598L710 601Z" fill="#3ec8c8" stroke="#3ec8c8" stroke-width="0.5"/>
<path d="M715 605L717 604L719 604L720 604L722 606L724 608" fill="none" stroke="#1a6e70" stroke-width="1.6" opacity="0.3"/>
<path d="M713 601L716 599L720 599L723 601L725 603L726 605" fill="none" stroke="#8ae9e9" stroke-width="1.2" opacity="0.45"/>
</g></g>
<g filter="url(#rough)">
<g transform="translate(0,0) scale(1.00000)" stroke-linejoin="round" stroke-linecap="round">
<path d="M696 644L696 647L697 649L698 651L700 652L701 654L702 656L702 657L703 659L704 660L703 662L702 663L700 665L699 667L699 669L699 671L698 673L697 675L697 678L701 680L703 679L705 677L706 675L708 673L710 671L711 669L711 666L710 663L710 660L710 657L710 655L708 652L707 650L706 648L705 645L703 643L701 643L698 642Z" fill="#1a6e70" stroke="#1a6e70" stroke-width="0.8" transform="translate(1.2,1.5)"/>
<path d="M696 644L696 647L697 649L698 651L700 652L701 654L702 656L702 657L703 659L704 660L703 662L702 663L700 665L699 667L699 669L699 671L698 673L697 675L697 678L701 680L703 679L705 677L706 675L708 673L710 671L711 669L711 666L710 663L710 660L710 657L710 655L708 652L707 650L706 648L705 645L703 643L701 643L698 642Z" fill="#3ec8c8" stroke="#3ec8c8" stroke-width="0.5"/>
<path d="M698 646L699 648L700 649L704 649L705 651L707 653L708 655L708 658L708 660L708 663L708 666L708 668L707 670L705 672L704 674L703 676L701 678" fill="none" stroke="#1a6e70" stroke-width="1.4" opacity="0.3"/>
<path d="M699 644L701 645L703 647L702 651L703 653L704 655L705 657L705 658L706 660L705 662L704 664L703 666L702 668L702 670L701 672L700 674L699 676" fill="none" stroke="#8ae9e9" stroke-width="1.0" opacity="0.45"/>
</g></g>
<g filter="url(#rough)">
<g transform="translate(0,0) scale(1.00000)" stroke-linejoin="round" stroke-linecap="round">
<path d="M699 690L701 688L703 685L706 684L707 686L706 687L708 688L709 690L710 693L711 696L713 697L723 693L724 691L722 688L720 684L718 680L715 676L708 675L702 678L700 682L697 685L695 688Z" fill="#1a6e70" stroke="#1a6e70" stroke-width="0.8" transform="translate(1.2,1.5)"/>
<path d="M699 690L701 688L703 685L706 684L707 686L706 687L708 688L709 690L710 693L711 696L713 697L723 693L724 691L722 688L720 684L718 680L715 676L708 675L702 678L700 682L697 685L695 688Z" fill="#3ec8c8" stroke="#3ec8c8" stroke-width="0.5"/>
<path d="M700 687L702 685L705 683L707 683L709 684L710 686L717 686L719 689L720 693" fill="none" stroke="#1a6e70" stroke-width="2.2" opacity="0.3"/>
<path d="M698 686L701 683L703 680L708 678L712 679L715 683L713 688L714 691L715 695" fill="none" stroke="#8ae9e9" stroke-width="1.6" opacity="0.45"/>
</g></g>
<g filter="url(#rough)">
<g transform="translate(0,0) scale(1.00000)" stroke-linejoin="round" stroke-linecap="round">
<path d="M704 677L704 681L704 684L706 686L709 688L710 690L711 692L713 695L714 697L717 696L717 693L717 690L716 687L716 684L716 681L715 678L713 676L710 675Z" fill="#1a6e70" stroke="#1a6e70" stroke-width="0.8" transform="translate(1.2,1.5)"/>
<path d="M704 677L704 681L704 684L706 686L709 688L710 690L711 692L713 695L714 697L717 696L717 693L717 690L716 687L716 684L716 681L715 678L713 676L710 675Z" fill="#3ec8c8" stroke="#3ec8c8" stroke-width="0.5"/>
<path d="M710 677L712 680L713 682L714 685L715 688L716 691L716 694" fill="none" stroke="#1a6e70" stroke-width="1.8" opacity="0.3"/>
<path d="M707 679L707 682L709 684L711 687L712 689L713 692L714 694" fill="none" stroke="#8ae9e9" stroke-width="1.3" opacity="0.45"/>
</g></g>
<line x1="718" y1="652" x2="722" y2="649" stroke="#ff33ff" stroke-width="1.2"/>
<text x="691.5" y="721.0" font-size="22" text-anchor="start" fill="#111" >4 nm</text>
<rect x="595.1" y="618.4" width="35.6" height="82.9" stroke="#ff2bff" stroke-width="2" stroke-dasharray="7 5" fill="none"/>
<line x1="630.7" y1="618.4" x2="676" y2="596" stroke="#ff2bff" stroke-width="2" stroke-dasharray="7 5" fill="none"/><line x1="630.7" y1="701.3" x2="676" y2="722" stroke="#ff2bff" stroke-width="2" stroke-dasharray="7 5" fill="none"/>
<text x="425.8" y="729.5" font-size="22" text-anchor="start" fill="#111" >10 nm</text>
<line x1="450.3" y1="740.1" x2="463.3" y2="740.1" stroke="#111" stroke-width="2.2"/>
<text x="798.4" y="631.5" font-size="22" text-anchor="start" fill="#111" >90°</text>
<line x1="789.6" y1="655.5" x2="838.4" y2="655.5" stroke="#6dad3d" stroke-width="2.1"/><path d="M803.5 644.4C814.6 644.7 822.2 649.5 822.0 655.5C821.8 661.0 815.6 666.0 807.6 667.5" fill="none" stroke="#7cc046" stroke-width="2"/><polygon points="802.9,669.3 809.2,663.7 808.9,671.1" fill="#86cc4c"/>
<g filter="url(#rough)">
<g transform="translate(860,590) scale(0.10977)" stroke-linejoin="round" stroke-linecap="round">
<path d="M205 230L226 236L241 234L252 229L262 232L272 238L286 240L294 235L291 233L277 231L263 236L252 248L236 271L225 300L224 326L232 345L242 364L246 386L252 412L267 430L284 436L298 440L305 451L312 464L322 477L329 492L324 507L310 518L302 534L302 556L307 576L307 596L312 617L327 632L344 644L356 660L368 678L386 687L406 687L426 688L446 693L466 696L486 691L505 689L525 693L544 693L558 679L541 621L522 617L507 627L494 640L478 644L463 644L449 646L433 647L419 641L406 630L392 626L373 628L354 627L343 618L338 605L334 592L332 576L338 562L349 551L354 534L351 512L348 492L350 472L351 451L345 432L335 412L325 391L315 375L304 369L291 365L285 354L289 338L294 323L294 313L295 310L305 309L321 300L332 279L340 250L335 213L315 189L296 176L274 171L249 172L225 174L207 183L195 200ZM85 468L102 473L120 479L139 484L161 483L180 476L197 469L214 464L232 465L251 466L268 461L281 447L259 393L240 392L224 399L210 415L197 430L183 441L168 449L154 454L141 456L126 454L111 449L95 442ZM195 590L212 595L231 598L252 597L271 589L289 584L308 582L325 578L312 543L296 551L282 562L266 566L251 563L238 557L222 554L205 550ZM401 464L419 463L432 454L442 441L454 434L467 439L477 449L480 453L477 458L471 473L460 489L450 508L446 531L455 556L478 570L500 573L519 573L540 575L563 571L581 556L592 541L605 528L619 515L632 502L641 486L645 467L649 448L659 434L673 424L684 419L688 418L690 417L698 417L711 422L726 426L745 424L765 373L752 358L734 349L713 345L686 341L654 347L631 369L622 393L620 413L613 430L601 442L587 453L577 467L571 482L565 499L556 513L546 525L539 536L531 547L517 555L501 555L489 551L490 539L492 529L491 517L492 504L500 490L511 474L519 445L499 423L478 416L459 408L436 402L412 398L393 403L379 416ZM774 324L788 312L803 300L818 285L831 266L836 246L836 226L831 207L828 189L831 172L836 155L845 141L855 129L865 120L876 108L888 96L865 70L851 81L837 94L825 111L820 131L818 150L814 167L809 184L798 200L787 215L778 230L773 243L770 256L764 268L756 282L746 296ZM675 552L679 569L688 585L699 600L712 615L728 627L745 637L758 649L768 664L774 685L788 704L806 716L826 720L844 720L861 724L876 733L890 745L905 754L921 760L939 763L958 766L978 768L1001 769L1027 759L1040 739L1051 723L1062 709L1068 707L1052 693L1050 699L1038 711L1024 720L1010 722L1001 718L990 713L976 707L961 699L946 690L929 684L911 683L892 683L875 681L858 674L842 665L829 658L815 656L800 656L784 650L771 638L761 623L756 606L752 589L747 574L742 558L735 543L725 528ZM845 623L863 614L884 607L897 596L906 581L918 568L928 560L918 557L913 549L920 555L923 572L930 588L942 590L978 570L982 559L972 544L958 531L945 508L907 487L871 507L860 527L852 542L840 556L834 574L836 597L835 617ZM1021 588L1000 596L988 610L985 630L981 650L974 668L971 686L973 706L972 724L961 739L951 754L953 765L987 775L995 766L994 748L992 730L1001 714L1014 700L1022 686L1029 671L1040 660L1055 649L1061 634L1059 612ZM1065 403L1072 386L1083 373L1096 363L1105 354L1117 349L1133 355L1151 366L1173 366L1191 357L1207 352L1210 354L1203 349L1202 352L1197 368L1183 383L1172 396L1170 414L1169 433L1165 450L1163 462L1164 475L1159 491L1144 498L1125 502L1106 513L1095 532L1085 549L1079 552L1121 568L1119 561L1121 545L1128 534L1138 525L1151 514L1168 507L1192 505L1215 490L1224 469L1229 452L1240 438L1250 423L1249 403L1246 384L1251 367L1260 336L1230 304L1199 310L1181 313L1165 311L1152 314L1135 322L1116 326L1093 327L1074 338L1063 354L1051 368L1035 377ZM1173 498L1184 515L1200 526L1219 527L1239 531L1255 537L1265 532L1277 528L1272 537L1259 545L1246 550L1232 556L1215 555L1208 552L1212 588L1218 583L1236 579L1256 576L1274 565L1286 548L1300 528L1294 494L1270 480L1252 478L1238 472L1225 461L1208 458L1187 462ZM1239 435L1256 434L1274 431L1289 435L1299 445L1302 462L1304 481L1312 497L1326 510L1340 521L1354 534L1364 550L1376 568L1394 584L1421 595L1447 594L1460 594L1461 595L1460 596L1469 603L1485 616L1505 632L1532 641L1551 642L1562 650L1576 657L1594 656L1614 652L1622 627L1609 611L1594 599L1574 596L1551 598L1536 606L1530 602L1530 588L1530 570L1521 547L1495 524L1461 520L1439 524L1430 526L1425 525L1414 521L1401 515L1388 505L1379 491L1372 474L1365 459L1353 447L1334 436L1314 428L1295 418L1276 414L1258 408L1241 405ZM1585 507L1584 527L1590 541L1601 550L1602 561L1588 566L1569 572L1554 588L1546 610L1539 629L1531 647L1531 668L1535 689L1536 709L1529 731L1531 752L1545 766L1595 754L1601 735L1594 722L1586 708L1587 694L1597 680L1604 667L1607 652L1612 638L1620 629L1626 617L1630 596L1634 571L1638 547L1639 523L1631 505L1615 493ZM1412 783L1428 790L1444 800L1461 809L1481 815L1501 813L1521 809L1540 806L1562 803L1580 794L1592 779L1563 746L1548 754L1539 766L1529 778L1515 785L1500 787L1485 785L1471 781L1456 776L1442 768L1428 757ZM1392 241L1402 256L1415 276L1437 287L1462 281L1481 269L1500 263L1519 257L1535 243L1544 226L1558 213L1575 202L1583 186L1582 166L1558 154L1541 164L1533 179L1532 198L1527 214L1516 226L1505 234L1492 242L1477 246L1462 238L1452 228L1442 226L1425 226L1408 219ZM1491 263L1502 278L1513 293L1528 303L1546 309L1564 314L1579 323L1591 338L1603 352L1615 357L1645 303L1635 295L1617 292L1598 290L1582 282L1571 269L1559 256L1545 246L1527 241L1509 237ZM1396 254L1381 268L1373 284L1372 302L1375 321L1379 335L1421 345L1431 335L1443 320L1450 304L1450 286L1444 266ZM505 949L521 940L537 932L554 924L571 915L584 900L592 881L598 861L607 844L617 829L625 812L628 793L631 775L637 758L646 742L658 725L665 705L662 685L659 678L621 682L619 688L619 703L621 718L624 735L621 752L615 768L604 782L591 794L582 807L573 821L561 832L545 840L529 847L517 856L508 870L498 884L486 898L475 911ZM560 932L578 940L595 938L612 932L620 931L620 889L612 888L595 882L578 880L560 888ZM1033 926L1053 924L1071 918L1083 902L1093 884L1106 870L1122 858L1134 841L1140 822L1149 803L1161 785L1170 773L1160 776L1148 775L1150 777L1155 785L1163 793L1177 802L1187 811L1182 816L1170 817L1154 825L1148 833L1152 847L1161 850L1180 850L1200 840L1215 816L1218 790L1220 767L1211 744L1191 727L1164 711L1117 711L1092 746L1093 768L1096 784L1090 796L1079 807L1071 820L1065 835L1055 847L1040 853L1024 859L1015 875L1007 894ZM1219 735L1238 728L1251 716L1257 700L1263 685L1272 676L1283 668L1296 656L1283 624L1264 625L1244 634L1226 647L1208 658L1192 669L1184 685L1181 705ZM1307 669L1322 660L1334 647L1346 633L1356 627L1344 613L1336 621L1320 629L1305 638L1293 651Z" fill="#1a6e70" stroke="#1a6e70" stroke-width="7.3" transform="translate(10.9,13.7)"/>
<path d="M205 230L226 236L241 234L252 229L262 232L272 238L286 240L294 235L291 233L277 231L263 236L252 248L236 271L225 300L224 326L232 345L242 364L246 386L252 412L267 430L284 436L298 440L305 451L312 464L322 477L329 492L324 507L310 518L302 534L302 556L307 576L307 596L312 617L327 632L344 644L356 660L368 678L386 687L406 687L426 688L446 693L466 696L486 691L505 689L525 693L544 693L558 679L541 621L522 617L507 627L494 640L478 644L463 644L449 646L433 647L419 641L406 630L392 626L373 628L354 627L343 618L338 605L334 592L332 576L338 562L349 551L354 534L351 512L348 492L350 472L351 451L345 432L335 412L325 391L315 375L304 369L291 365L285 354L289 338L294 323L294 313L295 310L305 309L321 300L332 279L340 250L335 213L315 189L296 176L274 171L249 172L225 174L207 183L195 200ZM85 468L102 473L120 479L139 484L161 483L180 476L197 469L214 464L232 465L251 466L268 461L281 447L259 393L240 392L224 399L210 415L197 430L183 441L168 449L154 454L141 456L126 454L111 449L95 442ZM195 590L212 595L231 598L252 597L271 589L289 584L308 582L325 578L312 543L296 551L282 562L266 566L251 563L238 557L222 554L205 550ZM401 464L419 463L432 454L442 441L454 434L467 439L477 449L480 453L477 458L471 473L460 489L450 508L446 531L455 556L478 570L500 573L519 573L540 575L563 571L581 556L592 541L605 528L619 515L632 502L641 486L645 467L649 448L659 434L673 424L684 419L688 418L690 417L698 417L711 422L726 426L745 424L765 373L752 358L734 349L713 345L686 341L654 347L631 369L622 393L620 413L613 430L601 442L587 453L577 467L571 482L565 499L556 513L546 525L539 536L531 547L517 555L501 555L489 551L490 539L492 529L491 517L492 504L500 490L511 474L519 445L499 423L478 416L459 408L436 402L412 398L393 403L379 416ZM774 324L788 312L803 300L818 285L831 266L836 246L836 226L831 207L828 189L831 172L836 155L845 141L855 129L865 120L876 108L888 96L865 70L851 81L837 94L825 111L820 131L818 150L814 167L809 184L798 200L787 215L778 230L773 243L770 256L764 268L756 282L746 296ZM675 552L679 569L688 585L699 600L712 615L728 627L745 637L758 649L768 664L774 685L788 704L806 716L826 720L844 720L861 724L876 733L890 745L905 754L921 760L939 763L958 766L978 768L1001 769L1027 759L1040 739L1051 723L1062 709L1068 707L1052 693L1050 699L1038 711L1024 720L1010 722L1001 718L990 713L976 707L961 699L946 690L929 684L911 683L892 683L875 681L858 674L842 665L829 658L815 656L800 656L784 650L771 638L761 623L756 606L752 589L747 574L742 558L735 543L725 528ZM845 623L863 614L884 607L897 596L906 581L918 568L928 560L918 557L913 549L920 555L923 572L930 588L942 590L978 570L982 559L972 544L958 531L945 508L907 487L871 507L860 527L852 542L840 556L834 574L836 597L835 617ZM1021 588L1000 596L988 610L985 630L981 650L974 668L971 686L973 706L972 724L961 739L951 754L953 765L987 775L995 766L994 748L992 730L1001 714L1014 700L1022 686L1029 671L1040 660L1055 649L1061 634L1059 612ZM1065 403L1072 386L1083 373L1096 363L1105 354L1117 349L1133 355L1151 366L1173 366L1191 357L1207 352L1210 354L1203 349L1202 352L1197 368L1183 383L1172 396L1170 414L1169 433L1165 450L1163 462L1164 475L1159 491L1144 498L1125 502L1106 513L1095 532L1085 549L1079 552L1121 568L1119 561L1121 545L1128 534L1138 525L1151 514L1168 507L1192 505L1215 490L1224 469L1229 452L1240 438L1250 423L1249 403L1246 384L1251 367L1260 336L1230 304L1199 310L1181 313L1165 311L1152 314L1135 322L1116 326L1093 327L1074 338L1063 354L1051 368L1035 377ZM1173 498L1184 515L1200 526L1219 527L1239 531L1255 537L1265 532L1277 528L1272 537L1259 545L1246 550L1232 556L1215 555L1208 552L1212 588L1218 583L1236 579L1256 576L1274 565L1286 548L1300 528L1294 494L1270 480L1252 478L1238 472L1225 461L1208 458L1187 462ZM1239 435L1256 434L1274 431L1289 435L1299 445L1302 462L1304 481L1312 497L1326 510L1340 521L1354 534L1364 550L1376 568L1394 584L1421 595L1447 594L1460 594L1461 595L1460 596L1469 603L1485 616L1505 632L1532 641L1551 642L1562 650L1576 657L1594 656L1614 652L1622 627L1609 611L1594 599L1574 596L1551 598L1536 606L1530 602L1530 588L1530 570L1521 547L1495 524L1461 520L1439 524L1430 526L1425 525L1414 521L1401 515L1388 505L1379 491L1372 474L1365 459L1353 447L1334 436L1314 428L1295 418L1276 414L1258 408L1241 405ZM1585 507L1584 527L1590 541L1601 550L1602 561L1588 566L1569 572L1554 588L1546 610L1539 629L1531 647L1531 668L1535 689L1536 709L1529 731L1531 752L1545 766L1595 754L1601 735L1594 722L1586 708L1587 694L1597 680L1604 667L1607 652L1612 638L1620 629L1626 617L1630 596L1634 571L1638 547L1639 523L1631 505L1615 493ZM1412 783L1428 790L1444 800L1461 809L1481 815L1501 813L1521 809L1540 806L1562 803L1580 794L1592 779L1563 746L1548 754L1539 766L1529 778L1515 785L1500 787L1485 785L1471 781L1456 776L1442 768L1428 757ZM1392 241L1402 256L1415 276L1437 287L1462 281L1481 269L1500 263L1519 257L1535 243L1544 226L1558 213L1575 202L1583 186L1582 166L1558 154L1541 164L1533 179L1532 198L1527 214L1516 226L1505 234L1492 242L1477 246L1462 238L1452 228L1442 226L1425 226L1408 219ZM1491 263L1502 278L1513 293L1528 303L1546 309L1564 314L1579 323L1591 338L1603 352L1615 357L1645 303L1635 295L1617 292L1598 290L1582 282L1571 269L1559 256L1545 246L1527 241L1509 237ZM1396 254L1381 268L1373 284L1372 302L1375 321L1379 335L1421 345L1431 335L1443 320L1450 304L1450 286L1444 266ZM505 949L521 940L537 932L554 924L571 915L584 900L592 881L598 861L607 844L617 829L625 812L628 793L631 775L637 758L646 742L658 725L665 705L662 685L659 678L621 682L619 688L619 703L621 718L624 735L621 752L615 768L604 782L591 794L582 807L573 821L561 832L545 840L529 847L517 856L508 870L498 884L486 898L475 911ZM560 932L578 940L595 938L612 932L620 931L620 889L612 888L595 882L578 880L560 888ZM1033 926L1053 924L1071 918L1083 902L1093 884L1106 870L1122 858L1134 841L1140 822L1149 803L1161 785L1170 773L1160 776L1148 775L1150 777L1155 785L1163 793L1177 802L1187 811L1182 816L1170 817L1154 825L1148 833L1152 847L1161 850L1180 850L1200 840L1215 816L1218 790L1220 767L1211 744L1191 727L1164 711L1117 711L1092 746L1093 768L1096 784L1090 796L1079 807L1071 820L1065 835L1055 847L1040 853L1024 859L1015 875L1007 894ZM1219 735L1238 728L1251 716L1257 700L1263 685L1272 676L1283 668L1296 656L1283 624L1264 625L1244 634L1226 647L1208 658L1192 669L1184 685L1181 705ZM1307 669L1322 660L1334 647L1346 633L1356 627L1344 613L1336 621L1320 629L1305 638L1293 651Z" fill="#3ec8c8" stroke="#3ec8c8" stroke-width="4.6"/>
<path d="M221 221L237 217L251 213L265 215L279 221L294 226L324 219L326 245L316 266L305 282L290 292L279 299L275 310L275 324L274 340L273 357L279 371L266 400L280 415L295 423L325 420L334 437L341 455L343 473L343 492L344 511L342 530L336 546L328 560L325 576L326 593L331 608L332 628L346 639L360 651L375 664L391 671L410 674L428 677L447 680L465 682L484 678L502 676L520 675L538 672M104 467L122 472L140 476L159 475L177 469L193 461L209 455L226 451L244 448L260 442M215 583L233 587L252 588L270 583L287 578L305 574M412 446L427 439L440 430L455 427L470 432L483 442L508 447L502 469L492 485L484 499L480 515L479 530L480 543L481 565L500 568L518 568L537 567L557 561L571 548L583 534L594 520L606 506L617 492L626 477L633 460L639 443L648 428L659 415L670 405L679 399L689 396L702 397L717 402L733 407M779 304L792 291L805 277L815 260L820 241L822 223L822 205L823 188L827 171L831 154L838 138L847 124L858 113L869 101M720 550L727 566L734 581L741 596L736 621L749 633L761 646L772 660L781 677L795 691L812 700L830 705L848 707L864 712L880 719L896 728L912 735L928 741L945 745L963 750L981 753L1001 755L1022 749L1036 734L1047 720L1059 707M855 609L870 598L881 585L891 571L902 557L912 545L915 538L922 538L948 537L959 552L968 567M1044 623L1037 639L1025 652L1016 665L1009 681L1002 696L993 712L987 728L985 746L983 763M1066 381L1077 368L1090 357L1102 347L1117 343L1133 346L1151 352L1171 351L1188 345L1205 341L1216 340L1244 340L1238 363L1232 380L1231 397L1228 415L1221 432L1213 447L1208 463L1201 482L1184 496L1165 503L1149 510L1134 519L1122 528L1114 541L1110 558M1191 500L1207 508L1225 512L1242 516L1259 521L1273 522L1294 528L1282 545L1270 559L1253 569L1235 572L1217 575M1257 427L1274 427L1290 430L1303 440L1311 455L1339 456L1350 469L1339 500L1351 513L1363 526L1374 540L1386 555L1402 568L1424 576L1445 575L1460 574L1470 576L1477 583L1513 579L1518 596L1512 623L1533 631L1551 630L1565 635L1581 641L1598 644M1618 511L1626 528L1628 548L1625 568L1618 588L1610 605L1602 618L1594 630L1588 646L1584 662L1579 677L1573 693L1572 709L1577 724L1582 740M1432 784L1447 793L1464 801L1482 806L1501 806L1519 802L1537 798L1555 793L1571 783M1409 248L1422 262L1441 271L1462 269L1480 263L1498 257L1515 251L1529 238L1540 223L1551 209L1563 196L1571 180M1509 268L1522 280L1537 290L1553 298L1569 305L1584 314L1598 326L1612 337M1431 281L1429 298L1423 315L1416 331M511 929L526 919L541 909L556 898L569 885L579 869L588 853L597 838L607 823L616 807L621 790L627 773L633 756L640 740L648 723L652 704L650 686M578 923L595 923L612 920M1043 910L1058 902L1071 889L1082 874L1095 860L1108 847L1119 832L1126 815L1134 798L1143 780L1149 765L1148 758L1152 757L1162 763L1195 755L1204 774L1207 794L1207 815L1195 833L1177 841L1159 843M1223 716L1235 703L1244 688L1253 675L1264 664L1278 656M1318 654L1331 642L1343 630" fill="none" stroke="#1a6e70" stroke-width="11.0" opacity="0.3"/>
<path d="M213 199L230 192L250 189L270 189L289 194L306 204L307 229L305 238L293 245L280 255L268 266L254 283L246 304L245 325L249 343L255 361L260 380L289 382L301 391L313 405L309 432L317 445L324 460L331 476L335 492L332 508L323 523L316 539L313 558L314 576L315 595L320 613L338 622L351 632L368 638L385 641L400 647L415 655L431 660L448 660L464 660L481 658L497 655L512 647L529 640M108 456L124 462L140 464L156 463L172 457L187 449L202 440L217 430L232 420L248 413M219 566L236 570L251 573L268 573L284 569L300 561M401 421L418 415L438 413L457 416L475 423L492 431L492 451L487 463L480 478L470 493L462 511L460 530L465 551L486 557L501 561L518 561L534 555L546 547L556 535L567 522L577 507L585 492L594 477L603 463L614 450L624 435L631 419L637 402L647 384L664 369L687 364L708 367L727 371L744 378M765 291L776 278L784 264L790 250L795 235L801 219L808 202L815 186L819 169L824 152L828 134L834 116L846 101L859 89M696 561L704 577L713 593L724 607L748 612L756 627L767 641L779 654L792 665L807 670L822 675L837 681L854 688L870 694L887 698L905 701L922 705L939 711L955 718L970 725L986 730L1001 734L1015 733L1029 726L1042 715L1054 702M844 602L849 584L857 568L868 554L878 539L888 523L910 508L935 520L932 548L938 563L946 579M1019 607L1008 622L1002 639L996 656L989 673L984 690L981 708L978 725L971 742L964 758M1057 373L1069 360L1081 346L1097 335L1116 333L1134 332L1151 330L1167 328L1184 326L1201 323L1224 319L1220 345L1217 356L1211 373L1203 389L1195 404L1191 421L1187 439L1183 456L1178 470L1173 484L1162 496L1146 503L1129 509L1113 519L1103 536L1095 552M1201 475L1218 480L1232 488L1248 494L1266 497L1285 506L1284 528L1276 541L1264 551L1249 558L1233 563L1216 564M1258 416L1275 419L1293 423L1309 433L1325 444L1319 470L1328 486L1358 485L1367 500L1377 513L1390 525L1403 535L1416 543L1427 547L1442 545L1461 542L1485 546L1503 562L1487 593L1498 608L1522 611L1534 616L1551 611L1571 612L1589 616L1605 624M1598 520L1605 535L1612 549L1611 564L1600 575L1586 585L1574 600L1566 618L1559 636L1553 653L1551 672L1551 691L1551 709L1549 728L1552 747M1438 774L1453 783L1468 789L1484 794L1500 795L1517 792L1532 786L1546 777L1558 766M1418 235L1434 241L1447 246L1462 251L1478 253L1494 249L1509 241L1522 231L1532 218L1540 202L1545 186L1554 170M1520 252L1535 260L1550 270L1563 281L1577 292L1592 300L1609 306L1625 312M1402 274L1396 290L1393 307L1392 325M497 910L510 899L522 886L533 874L546 863L559 852L572 841L583 828L592 814L602 799L611 785L620 770L626 754L630 737L632 720L632 704L632 687M578 898L595 899L612 901M1026 889L1038 877L1053 868L1067 858L1078 846L1087 831L1095 818L1105 804L1112 789L1114 773L1116 754L1130 731L1159 730L1179 742L1171 773L1180 785L1189 799L1195 812L1188 823L1173 827L1156 833M1200 698L1210 683L1223 671L1237 658L1252 646L1270 638M1310 645L1324 635L1339 625" fill="none" stroke="#8ae9e9" stroke-width="8.0" opacity="0.45"/>
</g></g>
<text x="798.4" y="886.7" font-size="22" text-anchor="start" fill="#111" >90°</text>
<line x1="789.6" y1="912.3" x2="838.4" y2="912.3" stroke="#6dad3d" stroke-width="2.1"/><path d="M803.5 901.2C814.6 901.5 822.2 906.3 822.0 912.3C821.8 917.8 815.6 922.8 807.6 924.3" fill="none" stroke="#7cc046" stroke-width="2"/><polygon points="802.9,926.1 809.2,920.5 808.9,927.9" fill="#86cc4c"/>
<rect x="679.1" y="847.5" width="71.6" height="130" fill="#d3eeed"/>
<g filter="url(#rough)">
<g transform="translate(0,0) scale(1.00000)" stroke-linejoin="round" stroke-linecap="round">
<path d="M687 920L689 919L691 917L692 916L695 916L696 914L698 913L699 911L700 911L698 907L697 908L695 909L693 909L691 911L690 912L688 914L686 915L685 916Z" fill="#1a6e70" stroke="#1a6e70" stroke-width="0.8" transform="translate(1.2,1.5)"/>
<path d="M687 920L689 919L691 917L692 916L695 916L696 914L698 913L699 911L700 911L698 907L697 908L695 909L693 909L691 911L690 912L688 914L686 915L685 916Z" fill="#3ec8c8" stroke="#3ec8c8" stroke-width="0.5"/>
<path d="M688 918L690 916L692 915L694 914L695 913L697 912L699 910" fill="none" stroke="#1a6e70" stroke-width="1.3" opacity="0.3"/>
<path d="M687 916L689 915L691 914L692 912L694 911L696 910L698 909" fill="none" stroke="#8ae9e9" stroke-width="1.0" opacity="0.45"/>
</g></g>
<g filter="url(#rough)">
<g transform="translate(0,0) scale(1.00000)" stroke-linejoin="round" stroke-linecap="round">
<path d="M698 911L702 909L704 906L706 902L708 898L711 895L712 890L710 886L704 886L703 890L702 893L704 897L703 900L700 903L698 905L696 909Z" fill="#1a6e70" stroke="#1a6e70" stroke-width="0.8" transform="translate(1.2,1.5)"/>
<path d="M698 911L702 909L704 906L706 902L708 898L711 895L712 890L710 886L704 886L703 890L702 893L704 897L703 900L700 903L698 905L696 909Z" fill="#3ec8c8" stroke="#3ec8c8" stroke-width="0.5"/>
<path d="M701 908L703 905L705 902L707 898L709 894L709 890" fill="none" stroke="#1a6e70" stroke-width="2.4" opacity="0.3"/>
<path d="M699 906L701 904L704 901L705 897L705 894L705 890" fill="none" stroke="#8ae9e9" stroke-width="1.8" opacity="0.45"/>
</g></g>
<g filter="url(#rough)">
<g transform="translate(0,0) scale(1.00000)" stroke-linejoin="round" stroke-linecap="round">
<path d="M710 889L712 887L714 885L716 883L716 881L717 878L717 876L717 873L713 871L711 872L709 874L706 875L705 878L704 880L704 883L704 885Z" fill="#1a6e70" stroke="#1a6e70" stroke-width="0.8" transform="translate(1.2,1.5)"/>
<path d="M710 889L712 887L714 885L716 883L716 881L717 878L717 876L717 873L713 871L711 872L709 874L706 875L705 878L704 880L704 883L704 885Z" fill="#3ec8c8" stroke="#3ec8c8" stroke-width="0.5"/>
<path d="M710 886L711 884L713 882L714 879L714 877L715 875" fill="none" stroke="#1a6e70" stroke-width="1.5" opacity="0.3"/>
<path d="M707 884L707 882L708 879L709 877L711 875L713 873" fill="none" stroke="#8ae9e9" stroke-width="1.1" opacity="0.45"/>
</g></g>
<g filter="url(#rough)">
<g transform="translate(0,0) scale(1.00000)" stroke-linejoin="round" stroke-linecap="round">
<path d="M734 868L733 871L733 875L734 878L734 881L733 884L731 887L728 889L725 892L724 895L722 899L721 902L719 906L719 910L719 914L720 918L720 922L720 926L718 929L717 931L717 933L718 937L719 939L729 941L731 940L733 937L735 932L733 927L731 923L729 920L728 917L728 914L729 911L728 908L728 905L730 902L732 900L734 897L734 893L735 889L736 886L738 882L740 879L741 875L741 872L740 868Z" fill="#1a6e70" stroke="#1a6e70" stroke-width="0.8" transform="translate(1.2,1.5)"/>
<path d="M734 868L733 871L733 875L734 878L734 881L733 884L731 887L728 889L725 892L724 895L722 899L721 902L719 906L719 910L719 914L720 918L720 922L720 926L718 929L717 931L717 933L718 937L719 939L729 941L731 940L733 937L735 932L733 927L731 923L729 920L728 917L728 914L729 911L728 908L728 905L730 902L732 900L734 897L734 893L735 889L736 886L738 882L740 879L741 875L741 872L740 868Z" fill="#3ec8c8" stroke="#3ec8c8" stroke-width="0.5"/>
<path d="M739 872L739 875L738 879L737 882L735 886L734 889L733 892L731 895L730 898L728 901L726 904L726 907L726 911L726 914L726 917L726 921L728 924L729 927L730 932L729 936L727 939" fill="none" stroke="#1a6e70" stroke-width="2.2" opacity="0.3"/>
<path d="M735 871L735 875L735 878L735 882L734 885L732 888L730 890L728 893L726 896L725 900L723 903L722 907L722 910L722 914L722 918L723 921L723 925L723 928L722 931L722 934L722 938" fill="none" stroke="#8ae9e9" stroke-width="1.6" opacity="0.45"/>
</g></g>
<line x1="715" y1="903" x2="719" y2="904" stroke="#ff33ff" stroke-width="1.2"/>
<text x="691.6" y="967.6" font-size="22" text-anchor="start" fill="#111" >3 nm</text>
<rect x="497.2" y="944.7" width="37" height="47.3" stroke="#ff2bff" stroke-width="2" stroke-dasharray="7 5" fill="none"/>
<line x1="534.2" y1="944.7" x2="676" y2="850" stroke="#ff2bff" stroke-width="2" stroke-dasharray="7 5" fill="none"/><line x1="534.2" y1="992" x2="690" y2="972.5" stroke="#ff2bff" stroke-width="2" stroke-dasharray="7 5" fill="none"/>
<text x="425.9" y="1000.4" font-size="22" text-anchor="start" fill="#111" >10 nm</text>
<line x1="449.6" y1="1010.7" x2="462.9" y2="1010.7" stroke="#111" stroke-width="2.2"/>
<g filter="url(#rough)">
<g transform="translate(480,815) scale(0.17800)" stroke-linejoin="round" stroke-linecap="round">
<path d="M203 98L215 96L226 92L238 90L250 91L264 92L277 90L288 81L294 70L286 50L275 45L263 44L254 48L244 54L233 59L221 60L209 60L197 62ZM219 145L219 157L220 169L221 181L221 191L223 199L227 206L230 216L227 227L218 239L212 254L213 270L221 283L229 294L234 306L238 318L243 329L250 341L257 352L261 364L267 374L276 381L287 388L290 399L292 410L287 421L283 430L282 439L281 450L276 461L269 471L263 481L258 491L252 502L246 512L275 527L279 516L285 505L290 494L294 483L298 471L303 460L311 449L316 435L313 420L305 408L302 396L298 384L299 369L296 356L288 346L280 338L274 329L272 318L269 307L265 296L263 285L265 273L269 263L269 255L265 247L261 236L264 223L271 210L276 193L272 178L265 166L257 155L250 145L241 135ZM304 113L308 124L310 136L314 147L320 158L321 170L318 183L318 195L324 204L329 215L331 227L333 239L340 250L346 261L346 274L345 288L352 298L363 306L396 293L398 279L396 267L387 259L378 250L376 239L377 227L373 215L368 204L367 192L366 179L358 168L346 159L339 149L336 138L330 127L321 118L316 107ZM354 57L346 66L335 73L326 81L321 93L319 105L314 116L308 127L305 139L303 151L298 162L294 167L306 173L308 167L313 156L322 147L329 138L334 127L341 117L349 109L357 100L360 88L361 75L366 63ZM366 98L363 112L366 124L377 132L387 139L392 149L397 158L405 167L409 179L405 192L405 205L411 217L419 227L422 239L427 250L434 253L446 247L449 240L444 230L439 219L438 207L437 196L430 187L423 176L423 164L425 150L422 137L417 125L416 111L416 98L408 89L394 82ZM442 127L454 123L466 124L474 128L476 130L483 131L491 137L509 123L505 112L496 96L475 92L460 102L449 109L438 113ZM528 180L541 177L549 169L556 159L565 152L576 149L587 146L597 143L607 141L618 141L629 142L640 140L651 133L662 125L674 123L686 125L699 128L711 125L722 117L732 109L742 105L751 105L761 106L772 107L785 110L798 114L812 116L824 112L836 103L847 99L859 96L873 97L885 92L872 70L864 77L856 85L844 88L833 88L820 84L809 83L799 85L789 86L778 84L767 79L753 76L739 77L725 77L712 75L699 73L688 74L678 82L667 89L655 91L643 88L631 86L618 87L606 93L594 100L581 105L570 112L560 121L551 131L540 137L528 141L518 148L512 160ZM555 211L565 204L576 200L587 196L597 191L607 184L618 182L630 182L642 187L653 189L663 189L673 191L683 197L694 203L708 202L723 198L737 196L750 197L763 197L774 194L785 190L797 190L809 191L821 189L831 180L842 170L838 150L825 144L812 138L801 140L789 146L778 150L765 150L753 152L743 157L733 162L723 161L713 156L704 152L692 152L679 153L666 152L651 151L638 156L627 164L616 170L604 173L591 173L579 176L568 181L557 186L545 189ZM597 235L604 245L610 257L620 262L630 265L635 273L636 282L639 291L638 300L628 306L615 310L609 318L605 329L598 338L591 347L589 360L585 373L576 381L565 389L560 402L557 415L552 426L547 436L547 449L543 461L534 470L528 474L552 486L552 478L554 466L560 456L571 448L576 437L580 426L589 418L596 410L599 399L604 389L616 383L629 378L637 368L644 358L654 350L661 338L660 322L659 306L662 291L662 276L654 263L646 251L640 238L629 229L616 228L603 225ZM413 306L418 318L425 328L437 334L449 339L458 349L467 361L475 372L481 376L485 380L489 388L492 394L496 398L502 403L501 412L491 421L481 432L478 446L482 460L485 473L484 485L481 497L480 509L479 521L474 534L469 546L470 558L510 557L511 545L505 533L500 522L500 510L500 499L499 487L501 475L508 465L516 455L519 446L519 436L523 426L533 413L542 395L540 375L532 361L522 349L509 337L493 331L480 332L467 334L457 329L452 318L448 307L439 299L427 294ZM321 331L320 344L319 356L321 368L327 380L333 391L338 402L340 415L341 429L344 445L351 458L360 468L369 476L377 483L384 490L390 499L398 507L410 513L422 516L438 504L439 492L437 479L431 468L423 457L413 448L404 438L396 430L388 423L379 418L370 413L360 406L354 397L352 385L351 373L351 362L350 351L345 340L339 329ZM635 348L641 361L650 371L666 377L687 378L705 370L717 363L726 355L733 348L739 339L745 331L735 309L723 309L708 312L696 319L688 328L682 336L678 339L675 338L670 335L659 333L645 332ZM641 428L644 441L647 454L651 462L654 465L658 468L659 476L659 487L659 496L681 504L687 498L695 487L702 471L703 450L695 432L685 422L672 417L659 412ZM68 684L77 676L82 665L83 652L90 642L101 633L109 622L112 609L120 598L129 588L131 576L128 564L128 552L131 542L130 529L128 516L133 506L142 497L146 486L150 475L159 467L168 460L173 448L176 435L184 425L193 415L197 403L201 391L210 380L218 368L217 354L213 341L214 328L213 316L204 303L199 291L191 291L185 303L175 314L173 325L171 337L166 347L161 357L163 368L166 380L162 390L157 400L156 412L154 423L145 431L137 439L134 452L131 465L124 475L118 486L117 498L113 510L102 519L92 529L88 541L83 552L74 563L70 575L74 588L77 600L74 610L73 621L75 634L71 645L61 653L54 663L52 676ZM144 587L145 599L145 612L147 623L153 633L163 642L171 651L176 662L179 674L183 686L191 697L199 707L206 717L212 727L228 713L221 706L214 697L211 687L210 676L207 665L202 654L200 642L201 629L202 615L200 603L193 592L184 583L176 573ZM247 570L259 568L266 559L274 552L283 553L291 555L301 555L309 559L306 568L300 575L298 584L295 594L286 603L280 611L281 623L281 635L276 645L272 656L274 671L276 678L284 682L291 680L304 674L312 664L318 653L328 644L338 633L340 619L338 605L339 592L341 578L335 561L322 548L310 538L298 530L283 529L268 533L254 536L241 539L233 550ZM189 736L186 748L181 759L174 769L168 779L164 791L159 802L151 812L142 822L139 832L140 844L141 856L137 865L130 875L126 886L123 898L122 905L138 915L144 911L154 904L162 894L168 883L175 872L185 862L195 852L199 840L198 826L196 814L199 802L202 791L203 779L204 766L207 755L211 744ZM252 759L248 770L246 782L248 794L245 806L237 816L231 827L231 839L231 852L227 864L223 876L224 889L227 901L226 913L219 925L214 937L217 949L222 960L258 960L263 948L265 936L260 925L253 913L252 901L255 890L257 879L256 867L256 856L261 845L265 834L263 821L259 808L260 796L266 785L268 773L268 761ZM421 665L418 678L420 689L427 698L434 708L437 718L436 728L430 738L424 748L420 758L420 771L422 784L439 790L450 781L457 771L460 759L461 746L460 733L462 719L465 705L469 691L471 678L468 665L459 655ZM203 493L215 493L227 489L237 483L242 478L238 462L232 460L219 459L208 462L197 467ZM494 264L502 274L507 284L515 293L525 301L532 295L528 284L521 274L513 265L506 256ZM278 262L288 271L298 281L310 284L323 279L331 240L320 230L309 228L295 233L282 238ZM437 205L443 215L450 225L455 236L458 248L464 258L470 269L475 280L484 276L480 265L478 253L476 241L470 230L466 219L465 207L463 195ZM547 261L551 273L556 283L567 290L579 296L586 305L588 309L612 291L608 288L601 278L597 266L593 254L584 246L573 239ZM367 393L371 406L377 416L388 422L402 425L413 427L427 413L425 402L422 388L416 377L406 371L393 367ZM439 426L449 420L457 412L465 406L474 404L484 404L495 405L508 406L524 408L541 409L554 406L563 396L562 387L548 363L539 359L528 361L521 370L516 381L508 387L498 386L485 382L471 382L457 388L445 394L434 400L425 408ZM549 180L543 190L539 201L534 209L526 214L518 217L509 222L499 228L493 231L509 263L515 261L526 256L538 249L549 239L557 226L564 214L570 203L573 191ZM622 115L634 120L644 126L654 128L665 124L676 122L687 129L699 139L717 141L732 135L745 132L756 128L758 120L752 98L745 93L734 97L724 100L715 99L709 99L700 100L689 95L679 84L666 74L652 72L639 75L627 77ZM263 71L251 65L238 63L224 68L210 77L199 86L186 92L172 97L160 108L156 123L157 137L157 151L157 155L165 159L169 156L178 147L189 140L197 135L201 127L205 118L213 111L222 110L232 112L241 115L252 112L264 107ZM305 90L316 96L326 101L333 100L341 97L348 100L351 107L350 116L349 121L349 128L349 137L345 144L338 149L332 155L327 166L321 178L326 189L341 189L356 188L368 179L377 167L385 152L392 139L397 123L392 104L383 91L373 79L363 65L348 52L332 47L318 50L306 56ZM628 278L635 289L645 294L659 295L668 301L675 310L685 317L699 322L711 329L724 335L737 335L749 330L754 329L752 311L748 311L736 308L725 309L715 314L705 311L699 301L693 292L682 285L673 276L666 264L658 255L645 253ZM624 210L635 207L646 204L655 203L659 204L664 205L674 206L686 208L693 209L705 183L700 178L691 169L678 161L660 157L641 163L628 174L620 184L612 195ZM390 111L380 105L371 94L360 84L344 80L328 83L314 89L301 93L287 98L276 107L270 116L266 122L260 122L252 117L243 113L230 114L220 151L231 158L245 160L261 157L278 153L294 147L306 140L313 134L319 127L328 120L336 118L344 118L351 117L362 115L375 115L386 119ZM666 157L672 168L679 178L689 186L700 192L712 196L724 200L736 203L743 205L755 189L750 183L743 173L736 163L728 153L720 145L711 138L700 133L687 130ZM456 498L463 510L469 521L476 528L480 535L480 544L483 555L495 568L513 576L529 579L539 586L547 593L555 597L567 599L579 602L590 608L600 595L592 585L586 574L578 562L566 554L551 553L539 552L533 546L534 537L534 529L527 519L515 508L502 498L490 491L476 489L462 488ZM247 247L259 243L269 238L278 236L284 240L288 245L298 246L315 243L332 237L346 234L359 231L371 226L382 218L392 211L403 205L411 196L393 168L382 172L372 179L363 184L352 188L342 192L334 198L325 201L318 198L311 191L298 186L279 189L262 199L250 208L241 217L233 228ZM249 239L260 233L273 228L283 219L287 206L291 193L299 183L305 169L301 153L297 140L294 128L293 116L289 112L277 116L276 121L282 131L286 142L285 153L277 160L273 168L268 177L258 184L248 190L241 198L238 211L232 221ZM238 476L250 474L262 474L275 477L289 478L300 470L310 462L319 460L327 462L336 463L346 469L355 476L356 482L368 468L362 468L354 460L345 451L334 440L318 438L304 440L291 440L280 439L270 443L259 450L248 452L236 453ZM464 437L478 437L493 436L505 429L514 416L520 402L523 388L526 376L527 369L513 359L507 363L497 370L486 376L476 380L468 384L461 391L456 403L450 416ZM260 450L266 439L269 428L270 418L276 412L285 410L295 406L303 398L307 389L301 377L292 374L279 375L268 383L259 396L251 409L245 422L243 435L246 447ZM240 661L244 650L248 637L248 622L241 607L231 596L221 587L211 577L200 566L185 561L173 560L161 562L150 563L138 562L126 560L114 560L111 579L123 582L135 584L147 587L159 591L171 594L182 594L191 592L201 593L209 598L215 607L216 617L215 625L214 634L214 645L214 657ZM272 512L259 504L248 502L237 506L227 509L217 509L205 508L191 511L177 520L166 527L154 531L142 533L139 536L143 550L148 550L159 544L170 540L181 542L191 548L201 553L213 555L226 556L240 559L253 561L265 556L276 545ZM203 537L214 541L226 541L237 543L246 548L255 554L265 560L276 565L282 568L292 556L288 550L281 540L272 531L262 523L250 517L239 509L229 501L218 496ZM542 109L535 120L534 133L537 149L539 166L542 182L548 196L557 204L566 206L588 190L589 181L584 170L576 164L570 158L570 151L578 144L584 135L583 123ZM398 244L410 247L422 248L433 248L443 250L453 252L466 253L481 253L498 253L515 250L527 243L533 231L532 221L524 209L516 203L503 203L494 208L488 214L482 217L474 214L464 209L450 205L437 205L424 203L412 202L400 205ZM358 629L370 631L381 635L390 644L401 653L412 656L422 659L427 665L427 671L433 676L441 682L446 693L446 705L447 716L454 726L461 737L491 729L492 716L492 704L487 692L479 681L476 669L475 654L469 638L452 627L434 624L421 621L410 619L398 620L384 623L373 620L361 616ZM350 274L362 279L371 286L380 295L391 302L404 304L415 306L424 311L431 316L441 321L452 328L461 337L469 347L478 357L490 361L501 365L510 348L500 341L491 334L479 332L468 328L461 320L456 308L451 295L439 286L426 281L416 274L407 266L396 263L383 262L372 259L362 252Z" fill="#1a6e70" stroke="#1a6e70" stroke-width="4.5" transform="translate(6.7,8.4)"/>
<path d="M203 98L215 96L226 92L238 90L250 91L264 92L277 90L288 81L294 70L286 50L275 45L263 44L254 48L244 54L233 59L221 60L209 60L197 62ZM219 145L219 157L220 169L221 181L221 191L223 199L227 206L230 216L227 227L218 239L212 254L213 270L221 283L229 294L234 306L238 318L243 329L250 341L257 352L261 364L267 374L276 381L287 388L290 399L292 410L287 421L283 430L282 439L281 450L276 461L269 471L263 481L258 491L252 502L246 512L275 527L279 516L285 505L290 494L294 483L298 471L303 460L311 449L316 435L313 420L305 408L302 396L298 384L299 369L296 356L288 346L280 338L274 329L272 318L269 307L265 296L263 285L265 273L269 263L269 255L265 247L261 236L264 223L271 210L276 193L272 178L265 166L257 155L250 145L241 135ZM304 113L308 124L310 136L314 147L320 158L321 170L318 183L318 195L324 204L329 215L331 227L333 239L340 250L346 261L346 274L345 288L352 298L363 306L396 293L398 279L396 267L387 259L378 250L376 239L377 227L373 215L368 204L367 192L366 179L358 168L346 159L339 149L336 138L330 127L321 118L316 107ZM354 57L346 66L335 73L326 81L321 93L319 105L314 116L308 127L305 139L303 151L298 162L294 167L306 173L308 167L313 156L322 147L329 138L334 127L341 117L349 109L357 100L360 88L361 75L366 63ZM366 98L363 112L366 124L377 132L387 139L392 149L397 158L405 167L409 179L405 192L405 205L411 217L419 227L422 239L427 250L434 253L446 247L449 240L444 230L439 219L438 207L437 196L430 187L423 176L423 164L425 150L422 137L417 125L416 111L416 98L408 89L394 82ZM442 127L454 123L466 124L474 128L476 130L483 131L491 137L509 123L505 112L496 96L475 92L460 102L449 109L438 113ZM528 180L541 177L549 169L556 159L565 152L576 149L587 146L597 143L607 141L618 141L629 142L640 140L651 133L662 125L674 123L686 125L699 128L711 125L722 117L732 109L742 105L751 105L761 106L772 107L785 110L798 114L812 116L824 112L836 103L847 99L859 96L873 97L885 92L872 70L864 77L856 85L844 88L833 88L820 84L809 83L799 85L789 86L778 84L767 79L753 76L739 77L725 77L712 75L699 73L688 74L678 82L667 89L655 91L643 88L631 86L618 87L606 93L594 100L581 105L570 112L560 121L551 131L540 137L528 141L518 148L512 160ZM555 211L565 204L576 200L587 196L597 191L607 184L618 182L630 182L642 187L653 189L663 189L673 191L683 197L694 203L708 202L723 198L737 196L750 197L763 197L774 194L785 190L797 190L809 191L821 189L831 180L842 170L838 150L825 144L812 138L801 140L789 146L778 150L765 150L753 152L743 157L733 162L723 161L713 156L704 152L692 152L679 153L666 152L651 151L638 156L627 164L616 170L604 173L591 173L579 176L568 181L557 186L545 189ZM597 235L604 245L610 257L620 262L630 265L635 273L636 282L639 291L638 300L628 306L615 310L609 318L605 329L598 338L591 347L589 360L585 373L576 381L565 389L560 402L557 415L552 426L547 436L547 449L543 461L534 470L528 474L552 486L552 478L554 466L560 456L571 448L576 437L580 426L589 418L596 410L599 399L604 389L616 383L629 378L637 368L644 358L654 350L661 338L660 322L659 306L662 291L662 276L654 263L646 251L640 238L629 229L616 228L603 225ZM413 306L418 318L425 328L437 334L449 339L458 349L467 361L475 372L481 376L485 380L489 388L492 394L496 398L502 403L501 412L491 421L481 432L478 446L482 460L485 473L484 485L481 497L480 509L479 521L474 534L469 546L470 558L510 557L511 545L505 533L500 522L500 510L500 499L499 487L501 475L508 465L516 455L519 446L519 436L523 426L533 413L542 395L540 375L532 361L522 349L509 337L493 331L480 332L467 334L457 329L452 318L448 307L439 299L427 294ZM321 331L320 344L319 356L321 368L327 380L333 391L338 402L340 415L341 429L344 445L351 458L360 468L369 476L377 483L384 490L390 499L398 507L410 513L422 516L438 504L439 492L437 479L431 468L423 457L413 448L404 438L396 430L388 423L379 418L370 413L360 406L354 397L352 385L351 373L351 362L350 351L345 340L339 329ZM635 348L641 361L650 371L666 377L687 378L705 370L717 363L726 355L733 348L739 339L745 331L735 309L723 309L708 312L696 319L688 328L682 336L678 339L675 338L670 335L659 333L645 332ZM641 428L644 441L647 454L651 462L654 465L658 468L659 476L659 487L659 496L681 504L687 498L695 487L702 471L703 450L695 432L685 422L672 417L659 412ZM68 684L77 676L82 665L83 652L90 642L101 633L109 622L112 609L120 598L129 588L131 576L128 564L128 552L131 542L130 529L128 516L133 506L142 497L146 486L150 475L159 467L168 460L173 448L176 435L184 425L193 415L197 403L201 391L210 380L218 368L217 354L213 341L214 328L213 316L204 303L199 291L191 291L185 303L175 314L173 325L171 337L166 347L161 357L163 368L166 380L162 390L157 400L156 412L154 423L145 431L137 439L134 452L131 465L124 475L118 486L117 498L113 510L102 519L92 529L88 541L83 552L74 563L70 575L74 588L77 600L74 610L73 621L75 634L71 645L61 653L54 663L52 676ZM144 587L145 599L145 612L147 623L153 633L163 642L171 651L176 662L179 674L183 686L191 697L199 707L206 717L212 727L228 713L221 706L214 697L211 687L210 676L207 665L202 654L200 642L201 629L202 615L200 603L193 592L184 583L176 573ZM247 570L259 568L266 559L274 552L283 553L291 555L301 555L309 559L306 568L300 575L298 584L295 594L286 603L280 611L281 623L281 635L276 645L272 656L274 671L276 678L284 682L291 680L304 674L312 664L318 653L328 644L338 633L340 619L338 605L339 592L341 578L335 561L322 548L310 538L298 530L283 529L268 533L254 536L241 539L233 550ZM189 736L186 748L181 759L174 769L168 779L164 791L159 802L151 812L142 822L139 832L140 844L141 856L137 865L130 875L126 886L123 898L122 905L138 915L144 911L154 904L162 894L168 883L175 872L185 862L195 852L199 840L198 826L196 814L199 802L202 791L203 779L204 766L207 755L211 744ZM252 759L248 770L246 782L248 794L245 806L237 816L231 827L231 839L231 852L227 864L223 876L224 889L227 901L226 913L219 925L214 937L217 949L222 960L258 960L263 948L265 936L260 925L253 913L252 901L255 890L257 879L256 867L256 856L261 845L265 834L263 821L259 808L260 796L266 785L268 773L268 761ZM421 665L418 678L420 689L427 698L434 708L437 718L436 728L430 738L424 748L420 758L420 771L422 784L439 790L450 781L457 771L460 759L461 746L460 733L462 719L465 705L469 691L471 678L468 665L459 655ZM203 493L215 493L227 489L237 483L242 478L238 462L232 460L219 459L208 462L197 467ZM494 264L502 274L507 284L515 293L525 301L532 295L528 284L521 274L513 265L506 256ZM278 262L288 271L298 281L310 284L323 279L331 240L320 230L309 228L295 233L282 238ZM437 205L443 215L450 225L455 236L458 248L464 258L470 269L475 280L484 276L480 265L478 253L476 241L470 230L466 219L465 207L463 195ZM547 261L551 273L556 283L567 290L579 296L586 305L588 309L612 291L608 288L601 278L597 266L593 254L584 246L573 239ZM367 393L371 406L377 416L388 422L402 425L413 427L427 413L425 402L422 388L416 377L406 371L393 367ZM439 426L449 420L457 412L465 406L474 404L484 404L495 405L508 406L524 408L541 409L554 406L563 396L562 387L548 363L539 359L528 361L521 370L516 381L508 387L498 386L485 382L471 382L457 388L445 394L434 400L425 408ZM549 180L543 190L539 201L534 209L526 214L518 217L509 222L499 228L493 231L509 263L515 261L526 256L538 249L549 239L557 226L564 214L570 203L573 191ZM622 115L634 120L644 126L654 128L665 124L676 122L687 129L699 139L717 141L732 135L745 132L756 128L758 120L752 98L745 93L734 97L724 100L715 99L709 99L700 100L689 95L679 84L666 74L652 72L639 75L627 77ZM263 71L251 65L238 63L224 68L210 77L199 86L186 92L172 97L160 108L156 123L157 137L157 151L157 155L165 159L169 156L178 147L189 140L197 135L201 127L205 118L213 111L222 110L232 112L241 115L252 112L264 107ZM305 90L316 96L326 101L333 100L341 97L348 100L351 107L350 116L349 121L349 128L349 137L345 144L338 149L332 155L327 166L321 178L326 189L341 189L356 188L368 179L377 167L385 152L392 139L397 123L392 104L383 91L373 79L363 65L348 52L332 47L318 50L306 56ZM628 278L635 289L645 294L659 295L668 301L675 310L685 317L699 322L711 329L724 335L737 335L749 330L754 329L752 311L748 311L736 308L725 309L715 314L705 311L699 301L693 292L682 285L673 276L666 264L658 255L645 253ZM624 210L635 207L646 204L655 203L659 204L664 205L674 206L686 208L693 209L705 183L700 178L691 169L678 161L660 157L641 163L628 174L620 184L612 195ZM390 111L380 105L371 94L360 84L344 80L328 83L314 89L301 93L287 98L276 107L270 116L266 122L260 122L252 117L243 113L230 114L220 151L231 158L245 160L261 157L278 153L294 147L306 140L313 134L319 127L328 120L336 118L344 118L351 117L362 115L375 115L386 119ZM666 157L672 168L679 178L689 186L700 192L712 196L724 200L736 203L743 205L755 189L750 183L743 173L736 163L728 153L720 145L711 138L700 133L687 130ZM456 498L463 510L469 521L476 528L480 535L480 544L483 555L495 568L513 576L529 579L539 586L547 593L555 597L567 599L579 602L590 608L600 595L592 585L586 574L578 562L566 554L551 553L539 552L533 546L534 537L534 529L527 519L515 508L502 498L490 491L476 489L462 488ZM247 247L259 243L269 238L278 236L284 240L288 245L298 246L315 243L332 237L346 234L359 231L371 226L382 218L392 211L403 205L411 196L393 168L382 172L372 179L363 184L352 188L342 192L334 198L325 201L318 198L311 191L298 186L279 189L262 199L250 208L241 217L233 228ZM249 239L260 233L273 228L283 219L287 206L291 193L299 183L305 169L301 153L297 140L294 128L293 116L289 112L277 116L276 121L282 131L286 142L285 153L277 160L273 168L268 177L258 184L248 190L241 198L238 211L232 221ZM238 476L250 474L262 474L275 477L289 478L300 470L310 462L319 460L327 462L336 463L346 469L355 476L356 482L368 468L362 468L354 460L345 451L334 440L318 438L304 440L291 440L280 439L270 443L259 450L248 452L236 453ZM464 437L478 437L493 436L505 429L514 416L520 402L523 388L526 376L527 369L513 359L507 363L497 370L486 376L476 380L468 384L461 391L456 403L450 416ZM260 450L266 439L269 428L270 418L276 412L285 410L295 406L303 398L307 389L301 377L292 374L279 375L268 383L259 396L251 409L245 422L243 435L246 447ZM240 661L244 650L248 637L248 622L241 607L231 596L221 587L211 577L200 566L185 561L173 560L161 562L150 563L138 562L126 560L114 560L111 579L123 582L135 584L147 587L159 591L171 594L182 594L191 592L201 593L209 598L215 607L216 617L215 625L214 634L214 645L214 657ZM272 512L259 504L248 502L237 506L227 509L217 509L205 508L191 511L177 520L166 527L154 531L142 533L139 536L143 550L148 550L159 544L170 540L181 542L191 548L201 553L213 555L226 556L240 559L253 561L265 556L276 545ZM203 537L214 541L226 541L237 543L246 548L255 554L265 560L276 565L282 568L292 556L288 550L281 540L272 531L262 523L250 517L239 509L229 501L218 496ZM542 109L535 120L534 133L537 149L539 166L542 182L548 196L557 204L566 206L588 190L589 181L584 170L576 164L570 158L570 151L578 144L584 135L583 123ZM398 244L410 247L422 248L433 248L443 250L453 252L466 253L481 253L498 253L515 250L527 243L533 231L532 221L524 209L516 203L503 203L494 208L488 214L482 217L474 214L464 209L450 205L437 205L424 203L412 202L400 205ZM358 629L370 631L381 635L390 644L401 653L412 656L422 659L427 665L427 671L433 676L441 682L446 693L446 705L447 716L454 726L461 737L491 729L492 716L492 704L487 692L479 681L476 669L475 654L469 638L452 627L434 624L421 621L410 619L398 620L384 623L373 620L361 616ZM350 274L362 279L371 286L380 295L391 302L404 304L415 306L424 311L431 316L441 321L452 328L461 337L469 347L478 357L490 361L501 365L510 348L500 341L491 334L479 332L468 328L461 320L456 308L451 295L439 286L426 281L416 274L407 266L396 263L383 262L372 259L362 252Z" fill="#3ec8c8" stroke="#3ec8c8" stroke-width="2.8"/>
<path d="M213 86L225 84L236 82L249 81L261 80L273 78L284 71M242 148L247 159L253 170L258 182L261 195L259 209L255 221L252 233L252 245L253 255L254 265L253 276L254 288L256 299L260 310L264 321L268 332L274 342L281 351L288 361L293 372L295 385L299 396L302 408L306 420L307 434L303 446L297 457L292 468L287 479L283 490L277 501L272 512M318 120L324 130L330 140L334 152L339 162L347 172L353 183L355 195L358 207L361 219L365 230L366 242L369 253L375 263L382 273L385 284M357 72L353 84L348 95L342 104L334 114L329 124L323 135L317 145L310 155L305 165M396 95L403 105L406 117L409 129L414 140L417 152L418 165L419 177L423 188L428 199L430 210L433 221L438 232L443 243M452 119L464 118L474 118L481 121L489 126M534 169L544 162L552 153L561 146L572 141L582 137L593 133L603 129L615 128L626 127L637 125L649 120L660 116L672 113L684 113L696 113L708 111L719 105L730 100L741 97L752 97L763 98L774 101L786 103L798 106L811 107L823 104L835 99L846 96L858 93L871 91M563 199L574 195L585 191L595 186L606 181L618 178L629 177L641 179L653 179L663 179L674 181L685 185L697 189L710 190L723 188L736 187L748 186L760 185L772 182L783 179L795 178L807 177L819 175L830 170M607 240L616 249L625 255L635 261L649 266L655 278L656 291L653 304L651 317L648 331L642 341L633 350L626 360L619 370L609 377L599 384L593 394L587 404L581 413L574 423L569 434L564 445L557 454L551 465L547 476M423 313L431 322L441 329L451 336L461 345L470 353L480 360L489 365L495 372L520 368L527 381L529 396L525 410L517 422L512 432L509 442L506 453L501 464L497 475L495 486L495 498L494 510L494 522L496 533L499 545M338 341L341 352L343 364L345 375L347 387L350 398L355 409L362 418L370 426L361 448L370 457L379 465L387 473L394 481L401 490L426 486L431 498M646 353L656 361L669 367L685 367L698 361L709 353L718 346L726 338L734 331M652 434L657 445L683 441L690 454L690 470L685 484L679 495M71 672L76 662L80 650L86 640L93 630L99 618L103 607L108 595L113 584L115 573L115 561L117 549L121 538L122 526L124 514L129 504L135 494L140 483L145 472L152 463L160 454L165 443L170 432L177 421L183 411L187 399L191 388L197 377L202 365L203 352L202 340L203 327L202 315L199 303M173 587L180 598L185 608L189 620L190 632L192 645L195 656L199 667L202 678L206 689L210 700L217 709M254 560L263 553L272 547L283 546L293 548L304 550L312 556L327 563L330 577L328 590L326 602L325 615L322 627L315 638L308 648L302 659L295 669L286 678M201 753L197 764L195 776L193 788L189 799L186 810L185 822L184 835L180 846L173 857L166 868L159 878L153 889L146 899L138 908M263 773L260 784L257 796L255 807L256 820L256 832L253 843L249 855L248 866L248 878L247 889L245 901L246 913L249 925L251 937L250 949M454 669L457 681L457 693L457 706L456 719L454 731L452 744L450 756L447 767L441 778M213 484L225 481L236 476M505 271L511 281L519 291M290 261L301 267L313 269M459 209L462 221L466 232L471 243L474 255L477 266M560 265L567 275L576 283L585 291L592 300M381 396L388 406L398 413L409 419M445 415L454 407L463 401L473 398L484 398L496 399L508 401L522 401L535 398L547 394L556 386M563 199L557 210L551 221L543 232L532 241L521 247L510 252M635 108L647 111L657 113L668 113L680 115L690 121L702 128L716 129L730 126L742 122L753 118M252 99L240 101L230 100L219 101L209 104L200 111L193 119L187 127L180 136L172 145L165 154M317 84L328 86L337 87L347 88L355 94L374 95L381 107L384 122L380 136L375 148L368 160L360 171L349 179L337 183M641 280L651 286L663 290L672 296L680 305L689 313L700 319L712 325L725 328L737 327L749 325M631 200L641 195L651 192L660 191L668 193L678 196L690 200M376 112L365 109L354 108L344 107L334 108L324 112L314 117L306 124L298 131L287 139L275 145L260 147L247 148L234 146M679 158L688 167L697 175L708 181L718 187L729 192L740 198M467 504L475 512L483 520L489 527L514 526L520 536L506 559L519 568L532 572L543 577L552 582L562 587L572 592L583 598M254 236L264 230L274 226L283 226L291 229L302 231L316 231L330 228L343 224L355 221L366 215L376 209L387 202L397 196M254 227L264 220L273 211L279 200L285 189L292 179L297 167L297 153L294 141L291 129L288 117M249 468L261 467L274 468L286 467L298 462L308 456L319 454L329 456L339 459L348 466L357 474M472 428L484 423L495 416L504 406L510 395L516 383L521 372M260 438L262 426L265 416L271 407L280 402L291 398L300 391M236 648L239 636L238 623L234 610L227 599L213 595L204 588L194 585L183 585L171 585L159 583L147 580L136 578L124 576M264 542L252 545L239 544L227 543L214 542L202 541L191 538L180 536L169 537L158 540L147 545M218 530L230 532L241 536L250 541L260 548L269 554L279 561M570 131L565 141L561 151L561 161L567 169L574 177L566 198M411 235L422 235L434 236L445 238L456 240L468 242L481 243L496 242L509 238L520 232L529 223M371 628L382 631L392 638L403 643L415 646L426 650L434 655L439 662L464 660L466 673L470 684L475 696L480 707L481 719M364 273L375 279L384 286L395 292L407 296L418 299L428 304L437 310L446 317L454 326L463 334L472 343L482 351L493 355" fill="none" stroke="#1a6e70" stroke-width="7.5" opacity="0.3"/>
<path d="M211 71L223 70L234 68L246 65L257 61L267 58L279 56M228 154L232 165L235 176L236 187L239 197L240 207L241 219L237 230L232 241L229 255L230 268L234 280L239 292L243 303L247 315L252 326L257 337L264 348L269 359L276 368L283 377L290 387L294 398L296 409L295 421L293 431L290 442L288 453L283 464L277 474L271 485L266 495L260 506M312 122L316 134L320 145L325 155L329 167L330 179L333 190L337 201L341 212L343 223L346 235L351 246L356 258L358 270L360 282L366 292M351 68L343 77L335 87L330 98L325 109L320 119L314 130L310 141L306 153L301 163M377 105L381 116L389 126L396 135L401 146L406 156L410 166L413 178L413 190L414 203L419 214L425 225L429 236L434 247M450 113L461 108L474 103L490 106L498 118M525 157L534 150L545 144L555 137L565 130L575 122L586 117L598 112L610 108L621 104L633 102L645 102L657 101L669 99L680 95L692 91L703 88L715 87L727 87L740 85L752 85L765 87L776 91L788 93L799 94L810 93L822 92L834 93L845 91L857 88L867 83M559 192L570 187L581 182L593 178L605 176L616 173L628 170L640 165L652 163L665 163L677 165L690 165L701 167L712 170L723 172L734 172L745 169L756 165L768 163L780 162L792 159L803 156L815 154L827 155M612 233L624 238L634 245L641 255L641 270L644 281L646 291L644 302L637 311L629 319L622 328L617 338L610 347L603 357L597 367L591 378L583 386L574 395L568 407L564 418L559 429L554 440L551 451L546 462L539 472M432 305L441 313L448 323L455 332L464 338L476 341L488 343L501 348L511 358L502 380L506 389L510 397L511 406L507 416L500 425L493 437L490 449L490 461L490 474L488 486L486 498L486 510L485 522L483 534L481 546M327 343L328 355L330 366L334 378L339 389L343 401L346 412L349 425L354 437L377 434L385 441L393 449L402 458L411 467L419 477L410 498L419 507M653 341L664 346L673 350L681 351L689 346L696 338L705 330L716 323L728 318M664 424L673 432L664 453L669 461L671 469L670 479L667 490M61 667L67 657L75 647L79 637L81 625L84 614L87 603L88 591L88 579L91 567L96 556L100 544L104 533L110 522L117 512L122 501L125 489L130 478L137 468L141 456L146 445L154 436L161 427L165 416L168 405L172 394L176 383L177 371L178 360L181 349L184 338L185 326L187 315L191 303M157 594L159 606L163 617L168 628L174 638L180 648L184 660L187 671L191 683L197 694L204 704L211 714M246 548L258 543L270 539L283 536L296 537L307 543L318 552L315 566L313 576L311 586L308 597L302 608L297 618L295 629L292 640L287 651L282 661L279 674M192 750L188 761L183 772L178 783L174 794L170 805L165 816L159 827L156 838L154 849L151 861L146 871L140 881L134 891L129 902M254 771L252 783L252 795L249 806L245 818L241 829L240 841L238 853L236 865L233 877L233 889L234 901L234 913L231 925L230 937L231 949M433 674L435 685L439 696L443 707L445 718L443 729L439 740L435 751L431 762L429 774M210 471L222 468L233 467M509 268L517 277L524 287M293 245L305 244L317 246M450 213L455 223L459 235L463 246L468 257L473 268M574 254L582 263L588 273L594 284L602 293M395 382L405 389L412 398L418 409M438 406L449 399L460 393L472 389L485 389L497 391L508 393L518 389L527 382L536 375L546 370M551 194L546 205L541 214L533 221L524 227L514 232L504 238M638 88L650 88L662 90L674 96L685 103L696 108L706 111L716 111L726 111L737 107L748 104M252 79L239 78L226 81L214 87L203 93L192 99L181 106L171 116L166 128L163 140L160 152M318 64L330 63L344 66L356 74L365 85L361 102L363 112L364 121L362 131L360 142L355 151L347 158L339 165L331 173M651 265L660 273L668 282L678 290L687 297L695 306L703 314L713 318L725 317L736 316L748 316M624 191L634 183L645 175L660 171L674 174L686 180L696 187M378 108L369 100L357 94L344 91L330 94L318 98L307 103L295 109L285 117L277 125L270 131L260 133L250 130L239 126M691 144L701 150L711 157L720 165L728 173L737 181L746 189M472 495L484 500L494 507L504 516L494 536L499 548L522 547L527 555L536 560L548 563L560 566L571 573L580 582L588 590M246 225L256 217L267 210L280 204L295 203L308 207L317 212L327 212L337 209L347 204L358 199L368 194L378 188L388 182M244 217L251 207L258 198L267 191L275 182L281 172L286 163L290 153L289 142L286 130L281 119M248 459L260 457L271 454L282 451L294 449L306 447L318 444L332 446L342 454L351 462L360 471M463 413L471 404L479 397L488 391L496 384L505 376L513 367M250 436L252 424L257 412L264 401L273 391L284 385L296 381M223 646L224 635L225 624L223 614L220 604L218 590L208 582L197 574L184 571L172 570L161 570L149 570L137 569L125 567M261 520L249 519L238 522L227 523L216 523L204 521L191 522L179 526L167 531L156 535L144 538M225 513L235 519L246 525L257 531L267 538L276 546L284 555M549 124L547 137L547 150L548 164L552 177L559 188L579 188M411 216L423 217L436 218L448 219L460 222L471 226L482 228L491 226L500 221L510 215L521 211M372 624L383 627L395 627L407 629L419 632L431 635L445 639L456 648L446 669L452 678L456 689L458 701L461 712L465 723M369 265L380 269L391 273L402 277L412 283L423 288L434 293L445 301L452 312L458 322L466 331L476 336L487 341L497 347" fill="none" stroke="#8ae9e9" stroke-width="5.4" opacity="0.45"/>
</g></g>
<g filter="url(#rough)">
<g transform="translate(870,830) scale(0.16844)" stroke-linejoin="round" stroke-linecap="round">
<path d="M362 151L374 153L388 153L404 152L424 145L436 130L441 115L444 101L449 90L446 88L440 88L443 96L448 107L448 120L446 133L445 146L449 158L455 170L460 182L463 195L469 209L480 219L494 224L506 229L516 236L525 243L535 227L524 223L513 218L504 209L498 200L493 191L486 184L482 175L480 163L481 151L480 139L474 128L468 117L466 105L468 92L467 75L445 58L427 75L419 84L408 91L397 95L392 97L389 100L381 102L370 105L358 109ZM575 212L584 203L597 195L606 186L611 177L615 168L620 160L628 154L637 148L645 140L653 132L662 125L672 122L685 123L697 123L708 118L718 109L727 99L738 93L750 89L761 85L772 79L783 72L795 68L806 68L817 69L828 67L837 62L847 59L853 64L850 72L842 81L833 90L827 101L821 111L813 120L803 131L795 149L802 175L820 187L833 192L843 200L849 211L856 222L865 229L875 233L883 238L889 245L897 253L907 258L933 242L934 231L928 217L919 205L909 193L899 183L888 176L875 172L862 170L850 165L843 157L842 153L846 154L846 149L847 138L850 126L855 114L859 103L862 91L864 76L864 61L855 47L840 37L826 33L811 34L799 41L787 48L776 53L764 55L752 57L740 61L729 64L716 66L702 64L689 63L677 66L666 74L655 84L644 92L632 98L619 103L607 110L598 120L588 131L578 142L569 154L564 166L563 180L565 195L565 208ZM930 107L929 121L935 132L941 144L948 157L966 169L984 167L990 151L985 142L987 134L984 125L982 114L980 102L970 93ZM691 130L700 138L710 146L720 156L736 165L755 161L769 154L782 151L791 147L769 113L761 120L755 131L747 135L741 133L735 132L726 127L718 118L709 110ZM622 229L635 230L648 233L660 234L668 234L675 232L682 232L691 236L698 246L704 258L712 269L722 277L735 282L749 286L763 290L776 293L784 294L790 295L790 302L785 312L776 321L764 326L753 330L745 339L741 350L759 370L771 366L781 358L786 345L790 331L795 319L801 307L809 292L801 273L787 264L776 259L769 252L763 243L756 233L746 225L735 221L723 217L712 211L700 201L686 190L668 186L652 189L639 195L629 204L618 211ZM327 275L326 289L329 301L339 310L350 319L356 329L359 341L359 353L361 367L365 380L370 393L376 408L382 422L391 430L405 433L431 404L427 390L418 383L407 379L396 375L389 368L384 358L378 348L372 337L368 325L367 312L369 298L369 285L364 274L353 265ZM442 337L456 337L469 338L480 335L492 332L503 332L515 336L527 338L538 334L550 325L563 317L576 310L588 304L598 295L604 286L596 274L586 274L574 277L564 282L554 284L542 280L530 275L518 275L505 280L493 289L481 296L469 301L458 306L447 314L438 323ZM228 336L224 347L224 360L222 373L218 385L212 395L203 406L195 417L193 431L196 447L204 462L213 474L224 487L242 497L262 498L278 493L289 483L297 474L306 465L316 456L326 450L336 445L344 440L353 435L364 430L374 423L384 415L373 386L360 386L347 388L335 392L322 397L309 405L299 415L290 424L281 431L270 436L258 441L249 446L243 452L240 460L234 465L227 462L223 453L224 444L229 436L232 426L231 414L229 401L230 388L234 377L240 366L248 356L252 344ZM589 339L596 350L604 359L610 369L612 382L612 392L616 401L623 409L630 418L636 429L640 441L646 452L654 462L661 473L665 485L666 499L668 513L675 524L685 533L695 541L702 551L706 562L710 572L715 582L720 593L722 605L724 616L756 604L751 595L745 584L740 572L736 560L728 549L719 539L712 529L707 517L703 506L698 497L689 488L680 479L677 468L677 455L679 442L677 430L675 418L673 405L674 391L672 376L664 363L651 353L639 346L628 338L620 329L611 321ZM729 393L736 402L745 411L753 419L758 428L764 436L770 444L776 454L779 466L782 478L789 488L830 469L827 457L819 447L812 437L807 425L801 412L792 401L781 391L771 382L762 374L751 367ZM439 391L446 401L455 410L463 419L471 429L481 439L494 444L509 445L518 444L522 436L520 428L513 416L506 407L498 400L488 394L480 385L471 377L461 369ZM529 451L533 465L539 478L553 489L584 492L602 470L607 455L613 442L617 431L614 424L586 416L580 420L577 432L576 443L570 450L572 447L581 441L576 436L564 432L551 429ZM210 556L218 566L232 570L248 574L269 581L288 575L296 566L299 560L303 560L311 562L326 563L341 565L356 564L371 562L381 555L391 550L404 547L415 543L423 534L433 528L446 530L453 536L456 536L461 539L466 547L474 553L487 555L499 560L501 569L500 576L502 585L503 596L498 606L494 616L496 629L493 640L483 644L471 646L465 650L475 670L482 668L492 658L502 648L511 637L523 628L529 616L530 602L535 588L538 573L531 557L521 545L517 530L513 514L504 504L489 496L473 487L452 484L435 494L424 505L412 508L398 509L388 516L378 526L367 531L356 538L350 548L341 553L332 549L327 536L314 526L294 523L274 526L261 531L259 538L256 542L250 536L243 527L230 524ZM84 626L97 627L100 624L103 624L107 632L110 642L115 653L121 664L121 677L116 691L116 704L122 715L131 727L136 740L140 752L147 761L152 771L152 783L150 796L156 806L167 815L175 825L178 837L181 848L189 859L210 854L211 841L209 829L205 817L207 803L210 789L208 776L199 766L190 755L186 743L181 730L174 721L169 711L169 699L168 687L160 677L147 668L140 658L138 645L136 633L129 621L121 607L103 593L84 601L76 614ZM156 711L168 708L180 706L190 704L197 702L204 698L214 696L225 699L236 706L245 714L254 723L268 731L285 733L303 730L317 728L329 728L339 727L349 721L359 712L371 702L383 692L393 682L402 670L408 656L409 639L406 624L402 610L396 594L380 582L363 580L349 585L339 591L341 609L352 612L362 616L369 617L375 617L383 621L389 629L389 638L384 645L377 651L369 658L361 664L352 667L342 667L329 665L316 668L303 676L294 688L287 699L282 705L275 705L266 701L255 697L243 694L233 687L223 677L211 666L193 661L176 664L164 672L154 681L144 689ZM191 756L202 763L214 766L227 769L240 772L253 775L266 777L278 776L281 764L270 758L259 754L248 751L238 745L229 737L220 729L209 724ZM286 765L283 779L282 792L285 804L293 814L305 823L334 813L338 799L339 786L334 775L325 765L314 755ZM365 785L367 798L373 809L380 820L386 833L396 849L412 854L422 824L415 822L410 818L406 809L404 797L402 785L395 775ZM246 920L259 918L267 910L276 903L288 902L299 900L310 893L321 891L334 895L347 898L359 895L369 896L374 904L372 906L375 906L380 913L380 923L384 930L392 938L392 948L388 958L389 966L411 974L417 969L421 956L427 942L435 926L435 909L428 895L423 880L412 860L388 851L368 856L354 860L342 861L331 867L319 874L307 875L293 872L281 876L269 883L255 886L243 890L234 900ZM251 940L258 951L265 963L275 973L288 981L303 987L317 993L330 993L337 986L343 954L339 945L328 941L318 940L310 938L303 933L293 928L280 924L269 920ZM284 613L288 625L298 632L309 638L314 648L317 658L324 668L331 678L334 690L336 695L364 685L362 679L356 668L355 655L353 642L345 630L336 620L333 606L327 594L316 587ZM518 642L511 631L503 624L494 617L490 609L494 600L502 591L509 580L507 575L469 567L466 570L466 583L470 597L473 612L478 627L485 640L495 649L506 655ZM509 622L494 623L482 631L471 644L460 664L460 684L466 697L473 707L475 718L470 729L464 737L463 741L462 749L456 758L447 765L440 771L448 787L457 785L469 781L484 776L501 768L509 749L507 733L502 719L504 706L509 692L512 680L511 676L511 674L517 670L524 662L529 649ZM403 354L392 363L386 375L385 391L384 409L384 428L386 442L391 448L397 454L399 463L401 476L408 490L418 502L424 513L426 526L430 534L454 524L449 515L441 506L437 495L440 483L444 473L444 461L445 446L445 428L438 412L427 406L418 402L418 396L424 388L427 378L426 364ZM934 137L922 141L914 151L905 156L896 158L886 160L874 158L864 152L861 145L853 171L858 167L870 169L882 175L896 181L911 180L926 177L939 175L949 167ZM551 118L546 106L541 94L533 85L523 77L513 69L505 59L495 51L481 47L469 42L458 35L445 26L429 20L414 21L403 28L396 34L404 58L414 58L425 57L434 53L442 45L452 45L462 52L468 63L473 75L481 83L489 91L496 101L502 112L510 121L521 127L532 134ZM411 376L403 366L395 356L387 345L379 333L368 322L356 314L343 311L329 311L316 309L302 305L289 299L274 295L260 296L249 306L242 318L246 342L256 351L269 357L280 354L289 349L300 343L311 342L322 344L332 350L342 354L353 356L363 356L374 359L384 366L391 375L398 385ZM250 403L263 399L277 394L290 385L297 369L298 352L296 338L296 326L298 322L268 316L268 321L264 333L258 343L251 349L247 355L244 364L241 377L237 390ZM477 409L488 403L497 393L505 381L515 368L525 353L528 339L522 326L513 322L483 320L474 325L467 337L469 347L474 356L476 366L470 375L465 385L461 397ZM473 495L460 493L448 493L436 497L424 501L412 504L399 506L385 509L372 514L359 522L348 531L338 542L330 554L324 566L321 579L323 589L349 599L357 593L363 582L367 572L370 563L375 554L381 546L388 538L396 532L405 527L416 524L428 522L441 522L453 522L464 518L476 512ZM230 882L215 879L201 878L188 886L178 899L168 909L155 917L145 925L146 930L178 954L183 953L188 942L191 930L198 923L208 922L218 920L226 911L235 900ZM244 763L233 758L223 752L214 752L205 752L201 745L204 732L203 720L197 717L161 731L158 737L166 747L179 757L188 770L200 784L215 789L230 787L242 784ZM664 246L653 241L640 241L626 243L613 242L599 239L587 237L577 239L567 243L555 244L543 242L531 240L527 254L539 259L551 263L563 269L577 275L592 275L603 268L614 262L625 262L636 268L647 272L659 272ZM481 615L485 627L491 638L495 649L495 663L494 678L497 688L505 695L511 704L512 714L513 726L517 737L551 735L554 722L552 709L550 696L550 680L548 665L540 654L527 646L516 639L509 628L504 617L496 607ZM714 249L714 264L714 280L723 295L741 305L760 309L777 311L796 309L813 298L822 285L828 271L834 261L812 243L803 251L793 256L785 259L780 260L775 262L767 262L762 259L760 256L754 252L741 247L728 241ZM580 302L589 310L601 314L610 320L613 329L607 339L599 348L595 360L600 366L638 370L644 366L644 354L638 339L630 324L621 312L614 300L606 288L596 282ZM590 631L602 638L615 640L628 637L641 638L656 641L668 641L678 635L688 629L700 629L712 625L724 616L723 598L711 590L698 587L685 588L671 585L657 583L645 587L636 595L625 598L613 596L601 599L589 606ZM602 362L588 368L578 377L575 392L572 407L569 423L570 435L575 445L575 455L567 464L557 475L554 494L559 511L559 526L563 540L572 544L612 526L614 515L607 506L600 498L598 492L599 486L597 474L596 460L600 446L604 431L601 420L598 411L602 403L610 396L613 385L614 371ZM276 894L279 882L278 869L275 856L272 842L269 828L267 817L266 809L264 801L264 792L268 782L276 774L287 768L297 762L305 754L308 745L288 723L279 725L269 734L262 746L256 758L250 770L242 782L234 795L231 812L235 828L243 839L249 848L251 858L248 869L246 881L248 893Z" fill="#1a6e70" stroke="#1a6e70" stroke-width="4.7" transform="translate(7.1,8.9)"/>
<path d="M362 151L374 153L388 153L404 152L424 145L436 130L441 115L444 101L449 90L446 88L440 88L443 96L448 107L448 120L446 133L445 146L449 158L455 170L460 182L463 195L469 209L480 219L494 224L506 229L516 236L525 243L535 227L524 223L513 218L504 209L498 200L493 191L486 184L482 175L480 163L481 151L480 139L474 128L468 117L466 105L468 92L467 75L445 58L427 75L419 84L408 91L397 95L392 97L389 100L381 102L370 105L358 109ZM575 212L584 203L597 195L606 186L611 177L615 168L620 160L628 154L637 148L645 140L653 132L662 125L672 122L685 123L697 123L708 118L718 109L727 99L738 93L750 89L761 85L772 79L783 72L795 68L806 68L817 69L828 67L837 62L847 59L853 64L850 72L842 81L833 90L827 101L821 111L813 120L803 131L795 149L802 175L820 187L833 192L843 200L849 211L856 222L865 229L875 233L883 238L889 245L897 253L907 258L933 242L934 231L928 217L919 205L909 193L899 183L888 176L875 172L862 170L850 165L843 157L842 153L846 154L846 149L847 138L850 126L855 114L859 103L862 91L864 76L864 61L855 47L840 37L826 33L811 34L799 41L787 48L776 53L764 55L752 57L740 61L729 64L716 66L702 64L689 63L677 66L666 74L655 84L644 92L632 98L619 103L607 110L598 120L588 131L578 142L569 154L564 166L563 180L565 195L565 208ZM930 107L929 121L935 132L941 144L948 157L966 169L984 167L990 151L985 142L987 134L984 125L982 114L980 102L970 93ZM691 130L700 138L710 146L720 156L736 165L755 161L769 154L782 151L791 147L769 113L761 120L755 131L747 135L741 133L735 132L726 127L718 118L709 110ZM622 229L635 230L648 233L660 234L668 234L675 232L682 232L691 236L698 246L704 258L712 269L722 277L735 282L749 286L763 290L776 293L784 294L790 295L790 302L785 312L776 321L764 326L753 330L745 339L741 350L759 370L771 366L781 358L786 345L790 331L795 319L801 307L809 292L801 273L787 264L776 259L769 252L763 243L756 233L746 225L735 221L723 217L712 211L700 201L686 190L668 186L652 189L639 195L629 204L618 211ZM327 275L326 289L329 301L339 310L350 319L356 329L359 341L359 353L361 367L365 380L370 393L376 408L382 422L391 430L405 433L431 404L427 390L418 383L407 379L396 375L389 368L384 358L378 348L372 337L368 325L367 312L369 298L369 285L364 274L353 265ZM442 337L456 337L469 338L480 335L492 332L503 332L515 336L527 338L538 334L550 325L563 317L576 310L588 304L598 295L604 286L596 274L586 274L574 277L564 282L554 284L542 280L530 275L518 275L505 280L493 289L481 296L469 301L458 306L447 314L438 323ZM228 336L224 347L224 360L222 373L218 385L212 395L203 406L195 417L193 431L196 447L204 462L213 474L224 487L242 497L262 498L278 493L289 483L297 474L306 465L316 456L326 450L336 445L344 440L353 435L364 430L374 423L384 415L373 386L360 386L347 388L335 392L322 397L309 405L299 415L290 424L281 431L270 436L258 441L249 446L243 452L240 460L234 465L227 462L223 453L224 444L229 436L232 426L231 414L229 401L230 388L234 377L240 366L248 356L252 344ZM589 339L596 350L604 359L610 369L612 382L612 392L616 401L623 409L630 418L636 429L640 441L646 452L654 462L661 473L665 485L666 499L668 513L675 524L685 533L695 541L702 551L706 562L710 572L715 582L720 593L722 605L724 616L756 604L751 595L745 584L740 572L736 560L728 549L719 539L712 529L707 517L703 506L698 497L689 488L680 479L677 468L677 455L679 442L677 430L675 418L673 405L674 391L672 376L664 363L651 353L639 346L628 338L620 329L611 321ZM729 393L736 402L745 411L753 419L758 428L764 436L770 444L776 454L779 466L782 478L789 488L830 469L827 457L819 447L812 437L807 425L801 412L792 401L781 391L771 382L762 374L751 367ZM439 391L446 401L455 410L463 419L471 429L481 439L494 444L509 445L518 444L522 436L520 428L513 416L506 407L498 400L488 394L480 385L471 377L461 369ZM529 451L533 465L539 478L553 489L584 492L602 470L607 455L613 442L617 431L614 424L586 416L580 420L577 432L576 443L570 450L572 447L581 441L576 436L564 432L551 429ZM210 556L218 566L232 570L248 574L269 581L288 575L296 566L299 560L303 560L311 562L326 563L341 565L356 564L371 562L381 555L391 550L404 547L415 543L423 534L433 528L446 530L453 536L456 536L461 539L466 547L474 553L487 555L499 560L501 569L500 576L502 585L503 596L498 606L494 616L496 629L493 640L483 644L471 646L465 650L475 670L482 668L492 658L502 648L511 637L523 628L529 616L530 602L535 588L538 573L531 557L521 545L517 530L513 514L504 504L489 496L473 487L452 484L435 494L424 505L412 508L398 509L388 516L378 526L367 531L356 538L350 548L341 553L332 549L327 536L314 526L294 523L274 526L261 531L259 538L256 542L250 536L243 527L230 524ZM84 626L97 627L100 624L103 624L107 632L110 642L115 653L121 664L121 677L116 691L116 704L122 715L131 727L136 740L140 752L147 761L152 771L152 783L150 796L156 806L167 815L175 825L178 837L181 848L189 859L210 854L211 841L209 829L205 817L207 803L210 789L208 776L199 766L190 755L186 743L181 730L174 721L169 711L169 699L168 687L160 677L147 668L140 658L138 645L136 633L129 621L121 607L103 593L84 601L76 614ZM156 711L168 708L180 706L190 704L197 702L204 698L214 696L225 699L236 706L245 714L254 723L268 731L285 733L303 730L317 728L329 728L339 727L349 721L359 712L371 702L383 692L393 682L402 670L408 656L409 639L406 624L402 610L396 594L380 582L363 580L349 585L339 591L341 609L352 612L362 616L369 617L375 617L383 621L389 629L389 638L384 645L377 651L369 658L361 664L352 667L342 667L329 665L316 668L303 676L294 688L287 699L282 705L275 705L266 701L255 697L243 694L233 687L223 677L211 666L193 661L176 664L164 672L154 681L144 689ZM191 756L202 763L214 766L227 769L240 772L253 775L266 777L278 776L281 764L270 758L259 754L248 751L238 745L229 737L220 729L209 724ZM286 765L283 779L282 792L285 804L293 814L305 823L334 813L338 799L339 786L334 775L325 765L314 755ZM365 785L367 798L373 809L380 820L386 833L396 849L412 854L422 824L415 822L410 818L406 809L404 797L402 785L395 775ZM246 920L259 918L267 910L276 903L288 902L299 900L310 893L321 891L334 895L347 898L359 895L369 896L374 904L372 906L375 906L380 913L380 923L384 930L392 938L392 948L388 958L389 966L411 974L417 969L421 956L427 942L435 926L435 909L428 895L423 880L412 860L388 851L368 856L354 860L342 861L331 867L319 874L307 875L293 872L281 876L269 883L255 886L243 890L234 900ZM251 940L258 951L265 963L275 973L288 981L303 987L317 993L330 993L337 986L343 954L339 945L328 941L318 940L310 938L303 933L293 928L280 924L269 920ZM284 613L288 625L298 632L309 638L314 648L317 658L324 668L331 678L334 690L336 695L364 685L362 679L356 668L355 655L353 642L345 630L336 620L333 606L327 594L316 587ZM518 642L511 631L503 624L494 617L490 609L494 600L502 591L509 580L507 575L469 567L466 570L466 583L470 597L473 612L478 627L485 640L495 649L506 655ZM509 622L494 623L482 631L471 644L460 664L460 684L466 697L473 707L475 718L470 729L464 737L463 741L462 749L456 758L447 765L440 771L448 787L457 785L469 781L484 776L501 768L509 749L507 733L502 719L504 706L509 692L512 680L511 676L511 674L517 670L524 662L529 649ZM403 354L392 363L386 375L385 391L384 409L384 428L386 442L391 448L397 454L399 463L401 476L408 490L418 502L424 513L426 526L430 534L454 524L449 515L441 506L437 495L440 483L444 473L444 461L445 446L445 428L438 412L427 406L418 402L418 396L424 388L427 378L426 364ZM934 137L922 141L914 151L905 156L896 158L886 160L874 158L864 152L861 145L853 171L858 167L870 169L882 175L896 181L911 180L926 177L939 175L949 167ZM551 118L546 106L541 94L533 85L523 77L513 69L505 59L495 51L481 47L469 42L458 35L445 26L429 20L414 21L403 28L396 34L404 58L414 58L425 57L434 53L442 45L452 45L462 52L468 63L473 75L481 83L489 91L496 101L502 112L510 121L521 127L532 134ZM411 376L403 366L395 356L387 345L379 333L368 322L356 314L343 311L329 311L316 309L302 305L289 299L274 295L260 296L249 306L242 318L246 342L256 351L269 357L280 354L289 349L300 343L311 342L322 344L332 350L342 354L353 356L363 356L374 359L384 366L391 375L398 385ZM250 403L263 399L277 394L290 385L297 369L298 352L296 338L296 326L298 322L268 316L268 321L264 333L258 343L251 349L247 355L244 364L241 377L237 390ZM477 409L488 403L497 393L505 381L515 368L525 353L528 339L522 326L513 322L483 320L474 325L467 337L469 347L474 356L476 366L470 375L465 385L461 397ZM473 495L460 493L448 493L436 497L424 501L412 504L399 506L385 509L372 514L359 522L348 531L338 542L330 554L324 566L321 579L323 589L349 599L357 593L363 582L367 572L370 563L375 554L381 546L388 538L396 532L405 527L416 524L428 522L441 522L453 522L464 518L476 512ZM230 882L215 879L201 878L188 886L178 899L168 909L155 917L145 925L146 930L178 954L183 953L188 942L191 930L198 923L208 922L218 920L226 911L235 900ZM244 763L233 758L223 752L214 752L205 752L201 745L204 732L203 720L197 717L161 731L158 737L166 747L179 757L188 770L200 784L215 789L230 787L242 784ZM664 246L653 241L640 241L626 243L613 242L599 239L587 237L577 239L567 243L555 244L543 242L531 240L527 254L539 259L551 263L563 269L577 275L592 275L603 268L614 262L625 262L636 268L647 272L659 272ZM481 615L485 627L491 638L495 649L495 663L494 678L497 688L505 695L511 704L512 714L513 726L517 737L551 735L554 722L552 709L550 696L550 680L548 665L540 654L527 646L516 639L509 628L504 617L496 607ZM714 249L714 264L714 280L723 295L741 305L760 309L777 311L796 309L813 298L822 285L828 271L834 261L812 243L803 251L793 256L785 259L780 260L775 262L767 262L762 259L760 256L754 252L741 247L728 241ZM580 302L589 310L601 314L610 320L613 329L607 339L599 348L595 360L600 366L638 370L644 366L644 354L638 339L630 324L621 312L614 300L606 288L596 282ZM590 631L602 638L615 640L628 637L641 638L656 641L668 641L678 635L688 629L700 629L712 625L724 616L723 598L711 590L698 587L685 588L671 585L657 583L645 587L636 595L625 598L613 596L601 599L589 606ZM602 362L588 368L578 377L575 392L572 407L569 423L570 435L575 445L575 455L567 464L557 475L554 494L559 511L559 526L563 540L572 544L612 526L614 515L607 506L600 498L598 492L599 486L597 474L596 460L600 446L604 431L601 420L598 411L602 403L610 396L613 385L614 371ZM276 894L279 882L278 869L275 856L272 842L269 828L267 817L266 809L264 801L264 792L268 782L276 774L287 768L297 762L305 754L308 745L288 723L279 725L269 734L262 746L256 758L250 770L242 782L234 795L231 812L235 828L243 839L249 848L251 858L248 869L246 881L248 893Z" fill="#3ec8c8" stroke="#3ec8c8" stroke-width="3.0"/>
<path d="M373 140L386 139L400 137L415 132L425 120L432 108L437 96L443 86L446 80L460 79L461 93L461 106L463 118L467 129L470 141L472 153L473 165L476 177L480 187L487 196L485 214L497 220L508 226L518 232M579 201L587 191L594 181L600 171L605 161L612 152L620 144L629 137L638 130L647 122L657 116L668 112L679 110L691 107L703 103L713 96L724 90L735 85L747 81L759 77L770 72L781 67L793 63L804 60L816 59L827 58L838 56L849 56L861 61L860 75L857 88L852 99L847 111L842 122L838 133L834 144L832 153L831 159L826 179L838 185L848 192L856 201L865 209L875 216L884 222L893 229L918 225L923 237M966 107L969 119L972 130L977 140L971 161M705 133L715 141L724 150L738 157L753 154L765 148L777 142M633 223L646 222L657 222L668 221L678 221L687 223L696 229L705 238L713 248L721 257L731 265L742 271L754 277L767 281L779 285L789 288L804 292L798 306L792 317L786 328L780 339L773 350L764 359M353 278L358 289L361 301L362 314L365 326L368 338L373 349L378 360L383 371L389 380L384 400L392 411L401 419M453 331L466 329L477 325L489 322L500 320L512 321L524 320L536 318L548 313L561 308L573 302L584 297L594 289M241 353L236 364L231 376L227 387L224 399L223 412L222 424L219 435L217 445L218 456L217 470L227 481L242 487L257 485L270 480L281 472L290 463L299 455L309 447L319 440L328 434L338 428L348 423L359 418L370 413M603 344L611 353L618 363L640 361L650 371L656 383L660 396L661 409L664 421L667 433L670 445L671 457L673 469L676 481L682 491L689 501L695 511L701 521L707 532L714 542L722 552L729 563L734 575L738 586L743 598M743 395L752 403L761 411L767 420L790 419L797 430L802 442L808 452L815 463M453 394L461 403L470 412L478 421L488 430L500 436L512 440M542 456L549 467L561 476L581 480L593 464L599 452L603 439L607 428M225 555L237 561L250 565L266 569L281 563L290 555L298 550L306 551L315 555L328 559L341 561L354 560L367 556L377 549L388 543L399 539L410 534L420 527L431 521L443 520L453 521L461 523L469 527L477 535L485 542L495 548L515 549L523 560L527 574L526 588L523 600L520 613L515 625L507 635L499 646L489 654L479 662M94 620L101 616L108 619L123 624L129 635L132 648L135 659L140 671L148 681L153 692L156 704L158 716L163 726L170 736L175 748L180 760L186 771L192 782L195 794L196 807L197 819L201 831L203 843M164 701L175 697L186 693L196 690L206 689L216 691L227 696L238 702L248 710L258 717L270 724L284 726L298 721L310 717L322 714L332 711L343 706L354 700L366 692L377 684L387 675L395 665L402 653L403 639L401 626L397 613L381 611L372 607L362 606L351 605M207 754L218 758L230 762L242 766L255 769L267 771M313 769L320 779L324 791L326 803M392 789L395 800L398 812L403 822L401 841M254 910L264 903L274 897L286 895L297 893L309 888L321 886L333 887L346 888L358 885L369 885L378 889L383 893L410 887L415 900L420 913L421 927L417 941L413 954L409 966M265 944L273 953L282 962L294 969L307 975L320 979L333 980M299 617L308 625L329 625L336 635L343 647L346 659L349 671L354 682M499 644L490 635L490 620L485 610L487 599L492 588L497 577M516 652L507 659L500 666L497 672L497 681L497 693L495 706L495 719L496 732L497 746L491 760L478 769L466 775L454 779M417 374L413 385L409 394L409 404L415 412L424 420L430 433L432 448L432 462L432 474L431 485L432 497L436 508L443 518M935 166L922 170L910 173L896 175L883 171L872 166L860 163M528 122L519 114L511 104L503 95L496 85L487 77L479 68L472 58L464 49L454 42L443 40L433 44L422 47L411 50M394 373L387 363L378 355L368 350L357 346L346 343L335 339L324 335L313 333L301 333L289 335L278 338L267 340L254 339M257 393L268 386L278 376L285 364L287 350L288 337L289 324M482 398L490 388L497 377L504 365L509 351L511 338L509 326M463 511L451 514L439 515L427 517L415 518L403 521L393 526L384 532L375 539L368 548L362 557L357 567L352 578L347 589M223 902L213 909L203 912L192 916L185 924L179 935L173 945M230 779L217 779L204 775L193 765L195 748L193 736L191 724M649 264L637 260L625 257L614 257L602 260L590 264L577 265L564 261L552 257L540 254M498 620L504 631L510 642L518 651L527 660L534 671L537 684L539 698L541 711L542 723M734 252L743 260L733 284L747 293L762 296L776 297L791 296L805 288L814 277L821 266M594 304L604 310L618 314L625 325L629 339L632 352L631 365M602 627L614 628L627 627L640 626L653 627L665 625L676 621L688 618L699 617L712 615M606 380L601 391L594 400L591 410L592 420L594 432L593 446L591 459L589 471L587 483L586 492L588 502L594 512L600 522M270 882L270 869L268 856L266 843L262 831L258 820L256 810L256 800L258 789L263 779L271 770L280 762L289 754L298 746" fill="none" stroke="#1a6e70" stroke-width="7.7" opacity="0.3"/>
<path d="M371 119L383 118L393 115L401 111L409 105L418 98L426 89L433 79L445 67L448 85L451 95L453 107L454 119L455 131L456 144L458 156L462 168L466 180L470 192L477 204L493 205L501 214L511 221L522 227M571 197L573 185L576 172L582 161L589 150L598 140L607 130L616 121L627 114L638 108L649 102L661 95L672 89L683 83L695 80L707 78L719 76L731 73L743 69L755 66L766 62L778 59L789 54L801 49L813 44L826 43L839 45L852 51L856 63L854 74L848 84L841 94L836 105L830 116L823 126L816 137L810 151L814 168L836 166L845 174L856 179L868 184L879 190L889 197L899 205L908 215L901 237L908 246M944 115L949 127L954 138L960 150L979 150M713 124L721 133L731 139L740 143L749 143L759 138L768 129M631 212L642 207L654 202L668 200L682 203L695 210L705 218L715 226L726 232L736 238L746 246L754 254L763 262L772 268L783 273L796 279L796 294L794 304L788 314L780 324L771 331L761 339L753 347M337 284L341 296L348 306L355 317L360 328L363 340L365 352L368 364L372 376L378 388L397 388L407 395L416 402M450 321L461 315L472 311L484 307L496 302L508 297L520 294L533 293L545 294L557 294L568 291L578 285L589 281M231 350L229 362L226 374L222 386L217 397L211 408L206 420L203 432L204 446L210 459L223 466L231 472L241 471L249 466L258 460L267 453L278 447L288 441L298 434L307 425L317 417L328 410L340 405L352 401L364 397M613 335L621 344L630 353L624 373L628 384L632 394L638 404L643 414L647 426L651 438L656 449L661 460L666 471L670 483L673 496L677 508L683 519L692 528L700 537L707 547L713 558L718 569L723 579L727 590L731 602M754 382L763 391L773 400L782 409L775 429L781 439L787 449L791 460L795 472M463 384L472 393L481 401L490 409L499 417L507 424L516 433M555 442L565 449L573 455L576 460L580 456L585 446L588 435L591 423M235 539L244 546L254 551L262 550L269 544L281 538L295 534L311 536L322 544L330 553L341 556L352 553L361 545L371 539L382 533L392 526L403 519L415 516L427 512L438 505L452 499L468 502L481 509L492 516L502 526L508 538L505 555L510 565L511 575L512 586L511 598L507 609L503 620L501 632L495 642L486 648L474 652M88 609L102 603L116 612L114 628L118 639L122 651L127 662L129 674L129 687L131 699L136 711L142 722L147 734L152 745L158 755L163 766L166 778L168 790L172 801L179 812L184 823L187 835L190 846M158 689L169 682L181 676L194 673L209 676L221 683L230 691L241 697L252 703L263 708L273 713L283 714L292 708L301 700L311 692L323 686L335 682L347 680L358 678L368 672L376 665L384 657L392 649L395 639L394 627L389 618L390 601L377 592L363 591L350 593M214 739L225 746L235 752L246 757L257 760L269 764M296 774L297 787L301 798L307 809M377 794L382 805L388 817L393 829L409 830M247 898L259 893L271 889L283 884L295 881L307 880L320 879L332 875L344 872L356 871L369 868L384 867L400 874L390 898L394 908L397 919L399 929L402 939L401 950L396 961M274 932L285 938L294 945L303 951L313 955L325 956L336 959M316 603L322 614L317 633L323 643L328 653L333 664L339 675L342 687M506 637L497 628L483 624L478 611L477 598L477 585L479 573M503 635L493 642L483 653L475 668L475 683L479 695L482 707L483 719L481 730L477 741L475 749L469 757L460 765L450 771M403 367L397 379L395 392L394 407L397 421L402 433L407 442L411 451L413 463L414 475L417 488L424 500L429 511L433 523M927 151L917 158L907 163L896 165L885 165L873 161L862 156M539 113L532 102L524 93L515 84L506 76L498 66L488 58L477 51L467 45L456 38L444 31L431 30L417 32L406 37M399 369L391 359L383 349L374 340L364 332L352 326L340 323L327 321L314 319L302 317L289 314L276 313L263 314L251 319M248 384L254 373L260 364L265 355L270 345L274 334L277 322M472 390L478 380L484 371L487 360L486 349L485 337L488 325M462 500L449 502L437 504L425 507L413 510L401 512L388 516L377 522L366 529L357 538L348 548L341 559L336 571L332 583M219 888L206 890L194 897L184 906L175 915L165 924L157 933M232 766L220 763L210 761L200 758L185 753L178 743L172 732M651 250L639 249L626 249L613 248L600 248L588 248L577 249L565 250L554 249L542 247M490 624L496 635L501 646L505 658L508 670L512 681L518 691L523 701L524 713L525 725M722 259L726 271L749 268L756 273L765 276L775 276L785 275L793 271L802 265L811 257M601 295L610 304L614 317L618 327L616 339L612 350L610 362M602 611L614 609L626 610L637 608L648 604L660 600L673 600L686 600L699 599L711 600M596 373L588 383L583 395L579 408L578 422L580 434L583 445L582 457L576 467L570 479L567 493L571 507L573 520L578 532M256 881L257 869L258 857L256 846L251 836L245 825L241 811L243 797L249 785L256 774L262 763L269 752L277 742L287 734" fill="none" stroke="#8ae9e9" stroke-width="5.6" opacity="0.45"/>
</g></g>
</svg></body></html>
